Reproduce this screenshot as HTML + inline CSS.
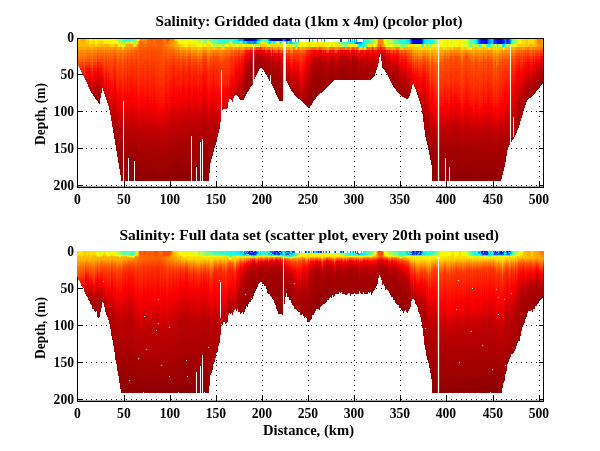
<!DOCTYPE html>
<html lang="en"><head><meta charset="utf-8"><title>Salinity sections</title>
<style>
html,body{margin:0;padding:0;background:#fff;}
body{width:600px;height:451px;overflow:hidden;}
svg{display:block;}
text{font-family:"Liberation Serif","DejaVu Serif",serif;font-weight:bold;font-size:13.6px;fill:#000;}
text.t{font-size:15.6px;}
text.yl{font-size:13.8px;}
text.xl{font-size:15.2px;}
.d path{fill:none;stroke-width:1;}
</style></head><body>
<svg width="600" height="451" viewBox="0 0 600 451">
<rect width="600" height="451" fill="#fff"/>
<g shape-rendering="crispEdges">
<g stroke="#000" stroke-width="1" stroke-dasharray="1 4" fill="none">
<path d="M124.5 41.0V186.4"/>
<path d="M170.5 41.0V186.4"/>
<path d="M216.5 41.0V186.4"/>
<path d="M262.5 41.0V186.4"/>
<path d="M308.5 41.0V186.4"/>
<path d="M354.5 41.0V186.4"/>
<path d="M400.5 41.0V186.4"/>
<path d="M446.5 41.0V186.4"/>
<path d="M493.5 41.0V186.4"/>
<path d="M539.5 41.0V186.4"/>
<path d="M81.0 74.5H543.0"/>
<path d="M81.0 111.5H543.0"/>
<path d="M81.0 148.5H543.0"/>
<path d="M81.0 185.5H543.0"/>
</g>
<g fill="#000">
<rect x="124" y="181.8" width="1" height="5"/>
<rect x="124" y="38" width="1" height="5"/>
<rect x="170" y="181.8" width="1" height="5"/>
<rect x="170" y="38" width="1" height="5"/>
<rect x="216" y="181.8" width="1" height="5"/>
<rect x="216" y="38" width="1" height="5"/>
<rect x="262" y="181.8" width="1" height="5"/>
<rect x="262" y="38" width="1" height="5"/>
<rect x="308" y="181.8" width="1" height="5"/>
<rect x="308" y="38" width="1" height="5"/>
<rect x="354" y="181.8" width="1" height="5"/>
<rect x="354" y="38" width="1" height="5"/>
<rect x="400" y="181.8" width="1" height="5"/>
<rect x="400" y="38" width="1" height="5"/>
<rect x="446" y="181.8" width="1" height="5"/>
<rect x="446" y="38" width="1" height="5"/>
<rect x="493" y="181.8" width="1" height="5"/>
<rect x="493" y="38" width="1" height="5"/>
<rect x="539" y="181.8" width="1" height="5"/>
<rect x="539" y="38" width="1" height="5"/>
<rect x="77" y="74" width="5.5" height="1"/>
<rect x="538.5" y="74" width="5.5" height="1"/>
<rect x="77" y="111" width="5.5" height="1"/>
<rect x="538.5" y="111" width="5.5" height="1"/>
<rect x="77" y="148" width="5.5" height="1"/>
<rect x="538.5" y="148" width="5.5" height="1"/>
<rect x="77" y="185" width="5.5" height="1"/>
<rect x="538.5" y="185" width="5.5" height="1"/>
</g>
<g class="d" transform="translate(.5 0)">
<path stroke="#fcc600" d="M77 39v5M78 39v5M97 44v3M123 47v3M136 44v3M198 47v3M201 47v3M207 47v3M208 47v3M209 47v3M212 47v3M215 47v3M377 39v5M383 39v2M384 44v3M412 47v3M415 47v3M417 47v3M423 47v3M424 47v3M425 47v3M427 47v3M447 47v3M449 47v3M453 47v3M464 47v3M465 47v3M472 47v3M484 47v3M485 47v3M496 50v3M499 47v3M507 47v3M518 44v3M519 44v3M525 44v3M528 44v3M533 44v3"/>
<path stroke="#fcba00" d="M77 44v3M80 41v6M81 44v3M82 44v3M83 44v3M84 44v3M85 39v8M87 44v3M93 44v3M100 44v3M102 44v3M139 39v2M187 47v3M193 47v3M194 47v3M202 47v3M206 47v3M210 47v3M211 47v3M216 47v3M217 47v3M220 47v3M224 47v3M290 47v3M291 47v3M363 47v3M410 47v3M426 50v3M434 50v3M450 47v3M455 47v3M473 50v3M479 50v3M505 47v3M506 47v3M508 47v3"/>
<path stroke="#fc9c00" d="M77 47v3M94 47v3M95 47v3M104 47v3M107 47v3M109 47v3M116 47v3M117 47v3M124 47v3M125 47v3M137 44v3M173 41v6M179 47v3M186 50v3M192 50v3M195 50v3M199 50v3M227 47v3M230 47v3M234 47v3M242 47v3M275 47v3M276 47v3M279 47v3M288 47v3M289 47v3M303 47v3M326 47v3M336 47v3M358 47v3M377 44v3M387 47v3M388 47v3M418 53v3M419 53v3M421 53v3M426 53v3M444 50v3M453 50v3M463 50v3M469 50v3M470 50v3M473 53v3M479 53v3M484 50v3M485 50v3M490 50v3M499 50v3M507 50v3M542 44v3M543 44v3"/>
<path stroke="#fc8a00" d="M77 50v3M80 50v3M81 50v3M82 50v3M84 53v3M85 50v3M87 50v3M88 50v3M104 50v3M111 50v3M114 47v3M115 47v3M127 47v3M130 47v3M143 39v2M144 39v2M146 39v2M169 44v3M170 41v3M173 39v2M184 50v3M185 50v3M190 50v3M198 53v3M200 53v3M201 53v3M208 53v3M212 50v3M215 50v3M219 50v3M222 50v3M244 47v3M249 47v3M265 47v3M294 47v3M308 47v3M329 47v3M334 47v3M337 47v3M346 47v3M374 47v3M378 41v3M379 39v2M380 39v2M381 41v3M382 39v5M389 47v3M398 47v3M414 53v3M422 53v3M428 53v3M432 53v3M434 56v3M443 53v3M448 53v3M455 50v3M456 50v3M458 50v3M471 53v3M473 56v3M477 53v3M479 56v3M480 53v3M482 53v3M483 50v3M487 50v3M488 50v3M493 56v3M494 56v3M495 53v3M503 53v3M505 50v3M512 50v3M513 50v3M514 50v3M526 47v3M532 47v3M540 39v5M541 39v2"/>
<path stroke="#fc7800" d="M77 53v3M78 56v3M82 53v3M85 53v3M86 53v3M87 53v3M88 53v3M98 50v3M100 50v3M101 50v3M102 50v3M103 50v3M106 50v3M108 50v3M110 50v3M113 50v3M118 53v3M120 50v3M122 53v3M124 50v3M129 50v3M135 47v3M165 39v8M166 44v3M168 47v3M170 47v3M176 50v3M178 50v3M180 53v3M187 53v3M193 53v3M194 53v3M208 56v3M211 53v3M220 53v3M221 53v3M225 50v3M229 50v3M246 47v3M267 47v3M317 47v3M318 47v3M342 47v3M349 47v3M375 47v3M378 44v3M380 41v3M381 44v3M397 47v3M403 50v3M408 50v3M411 50v3M413 53v3M414 56v3M420 56v3M429 59v3M431 56v3M434 59v3M440 56v3M441 56v3M442 56v3M445 53v3M447 53v3M464 53v3M471 56v3M473 59v3M477 56v3M479 59v3M482 56v3M491 53v3M493 59v3M494 59v3M496 62v3M503 56v3M504 53v3M508 53v3M515 50v3M527 47v3M536 47v3M538 39v2M540 47v3"/>
<path stroke="#fc6600" d="M77 56v3M78 59v3M79 59v3M84 62v3M86 56v3M87 56v3M88 56v3M92 59v3M93 56v3M96 56v3M98 53v3M100 53v3M101 53v3M102 53v3M103 53v3M104 56v3M106 53v3M108 53v3M109 56v3M110 53v3M111 56v3M117 56v3M120 53v3M124 53v3M126 53v3M129 53v3M131 50v3M132 50v3M139 47v3M140 41v6M141 41v6M142 44v3M143 44v3M148 39v5M149 41v3M153 41v3M154 44v3M155 39v5M162 41v6M163 47v3M164 47v3M167 41v3M167 50v3M169 39v2M170 50v3M171 50v3M173 50v3M175 53v3M176 53v3M178 53v3M179 53v3M180 56v3M192 56v3M195 56v3M199 56v3M203 53v3M205 53v3M208 59v3M218 53v3M220 56v3M224 53v3M226 53v3M228 53v3M231 50v3M250 47v3M272 47v3M300 50v3M312 47v3M314 47v3M344 47v3M368 47v3M376 47v3M379 44v3M399 50v3M406 50v3M412 56v3M418 59v3M419 59v3M430 65v3M440 59v3M441 59v3M450 53v3M451 53v3M454 53v3M457 53v3M460 56v3M461 62v3M465 53v3M466 53v3M470 56v3M471 59v3M473 62v3M475 56v3M476 56v3M479 62v3M482 59v3M489 56v3M491 56v3M496 65v3M499 56v3M502 56v3M503 59v3M504 56v3M518 50v3M534 50v3"/>
<path stroke="#fc4e00" d="M77 59v3M79 62v3M83 62v3M86 59v3M88 59v3M89 59v3M91 62v3M93 59v3M94 59v3M99 59v3M100 56v3M104 62v3M105 56v3M107 59v3M109 62v3M110 59v3M111 62v3M113 59v3M117 62v3M119 59v3M122 65v3M123 62v3M126 59v3M129 59v3M130 56v3M134 56v3M135 56v3M136 53v3M137 56v3M138 59v3M139 56v3M140 50v3M141 53v3M142 50v3M143 50v6M144 53v3M145 50v6M146 53v3M147 50v3M148 50v3M149 53v3M150 50v3M151 50v3M152 50v3M153 50v3M154 50v3M155 50v3M156 53v3M157 50v6M158 53v3M159 53v3M160 53v6M161 53v3M162 56v3M163 59v6M164 56v6M165 56v3M166 56v3M168 39v2M168 59v3M170 56v3M171 56v3M172 56v3M178 56v3M179 56v3M187 59v3M188 56v3M199 59v3M208 62v3M214 56v3M218 56v3M220 59v3M221 59v3M225 56v3M229 56v3M231 53v3M232 53v3M233 56v3M234 53v3M238 50v3M276 50v3M288 50v3M290 53v3M291 53v3M293 50v3M297 50v3M353 47v3M373 47v3M404 50v3M405 50v3M407 53v3M408 53v3M415 59v3M419 62v3M421 62v3M425 59v3M427 59v3M432 62v3M433 71v3M434 68v3M435 71v3M436 71v3M440 65v3M441 65v3M442 65v3M443 65v3M444 62v3M445 59v3M446 62v3M447 59v3M448 62v6M449 59v6M450 56v3M451 56v3M452 59v3M453 62v3M454 56v3M455 56v3M456 56v3M457 56v3M458 56v6M459 59v3M460 59v6M461 68v3M462 65v6M463 62v3M464 59v3M465 56v3M466 56v3M468 59v3M469 62v3M470 59v3M471 62v6M472 62v3M473 68v3M474 65v3M475 59v3M476 59v3M477 62v3M478 62v3M479 68v3M480 62v3M481 62v3M482 62v3M486 62v3M491 59v3M492 62v3M493 68v3M494 68v3M495 62v3M496 71v3M497 65v3M498 65v3M500 62v3M501 62v3M504 59v3M518 53v3M521 53v3M527 50v3M530 53v3M531 53v3M533 50v3M534 53v3M535 50v3M536 50v3M537 50v3"/>
<path stroke="#fc3600" d="M77 62v2M80 65v3M81 65v3M83 65v3M86 62v3M92 68v3M95 62v3M104 71v3M105 62v3M107 68v3M108 65v3M109 71v3M112 68v3M113 68v3M114 62v3M115 62v3M116 71v3M117 71v3M118 74v3M119 68v3M120 68v3M121 71v3M123 71v3M124 68v3M125 71v3M126 71v3M127 62v3M128 68v3M129 68v3M130 65v3M131 62v3M133 68v3M134 65v3M135 65v3M136 62v3M137 68v3M138 74v3M139 68v6M140 65v3M141 65v6M142 65v3M143 65v3M144 68v3M145 65v6M146 68v3M147 62v3M148 65v3M149 68v3M150 65v6M151 65v3M152 65v6M153 65v3M154 65v3M155 68v3M156 74v3M157 68v6M158 71v3M159 74v3M160 77v3M161 71v6M162 74v3M163 77v3M164 71v6M165 65v6M166 65v3M167 68v3M168 68v3M169 68v3M172 62v3M174 62v3M175 65v3M176 65v3M177 65v3M178 62v3M179 62v3M180 68v3M181 65v3M186 68v3M187 65v3M188 62v3M190 62v3M191 68v3M193 65v3M197 68v3M198 68v3M199 65v3M200 68v3M201 68v3M202 62v3M204 59v3M207 68v3M208 71v3M209 68v3M210 65v3M211 65v3M215 65v3M216 62v3M217 65v3M218 65v3M219 68v3M220 68v6M221 68v2M222 68v3M223 65v6M224 65v3M225 65v3M226 68v3M227 62v6M228 68v3M229 62v6M230 59v3M231 56v3M232 56v3M237 56v3M240 56v3M241 53v3M270 50v3M292 56v3M293 53v3M294 53v3M298 53v3M299 56v3M303 53v3M304 53v3M358 50v3M378 47v3M379 47v3M398 50v3M402 53v3M404 53v3M405 53v3M410 59v3M413 62v3M416 65v3M417 62v3M418 68v3M419 68v3M422 65v3M423 62v3M424 62v3M429 74v3M430 80v3M431 71v3M432 71v3M433 80v3M434 80v3M435 83v3M436 86v2M440 80v3M441 80v6M442 80v3M443 77v6M444 74v6M445 74v3M446 80v3M447 74v6M448 80v6M449 77v6M450 71v3M451 71v3M452 74v6M453 80v3M454 71v3M455 71v6M456 71v6M457 71v3M458 71v6M459 74v6M460 77v6M461 86v2M462 83v5M463 77v6M464 74v6M465 71v3M466 71v3M467 71v6M468 74v3M469 77v6M470 74v6M471 80v6M472 80v3M473 86v2M474 83v3M475 74v6M476 74v6M477 80v6M478 77v6M479 83v5M480 80v3M481 77v6M482 80v3M483 68v6M484 74v6M485 74v6M486 77v3M487 71v3M488 68v6M489 74v3M490 74v6M491 71v6M492 74v6M493 83v3M494 83v3M495 77v3M496 83v5M497 80v3M498 80v3M499 71v6M500 74v6M501 74v3M502 71v3M503 74v3M504 68v3M505 65v3M507 71v3M512 65v3M514 65v3M518 56v3M520 59v3M522 59v3M523 56v3M526 56v3M527 53v3M533 53v3M534 56v3M535 53v3M537 53v3M538 53v3M543 53v3"/>
<path stroke="#fcc000" d="M78 44v3M79 39v8M86 44v3M88 44v3M91 44v3M92 44v3M94 44v3M98 44v3M99 44v3M103 44v3M104 44v3M109 44v3M122 47v3M125 44v3M178 44v3M186 47v3M191 47v3M192 47v3M195 47v3M197 47v3M221 47v3M233 47v3M260 44v3M362 47v3M383 41v3M403 47v3M406 47v3M413 47v3M429 50v3M433 50v3M435 50v3M436 50v3M460 47v3M475 47v3M476 47v3M487 47v3M491 47v3M493 50v3M494 50v3M526 44v3M527 44v3M529 44v3M532 44v3M534 44v3M535 39v5"/>
<path stroke="#fca800" d="M78 47v3M79 47v3M82 39v2M83 47v3M84 39v2M90 47v3M91 47v3M92 47v3M118 47v3M129 44v3M130 44v3M131 44v3M132 44v3M138 41v3M174 41v3M175 44v3M181 47v3M182 47v3M189 47v3M198 50v3M208 50v3M225 47v3M226 47v3M228 47v3M240 47v3M273 47v3M280 47v3M281 47v3M286 47v3M300 47v3M304 47v3M327 47v3M328 47v3M391 47v3M392 47v3M394 47v3M399 47v3M422 50v3M428 50v3M429 53v3M432 50v3M433 53v3M435 53v3M436 53v3M442 50v3M443 50v3M471 50v3M477 50v3M480 50v3M482 50v3M495 50v3M536 44v3"/>
<path stroke="#fc9000" d="M78 50v3M79 50v3M83 50v3M90 50v3M91 50v3M97 47v3M98 47v3M100 47v3M101 47v3M105 47v3M108 47v3M118 50v3M122 50v3M128 47v3M129 47v3M141 39v2M142 39v2M145 39v2M170 44v3M175 47v3M180 50v3M193 50v3M194 50v3M196 50v3M202 50v3M206 50v3M210 50v3M211 50v3M221 50v3M235 47v3M236 47v3M238 47v3M270 47v3M274 47v3M322 47v3M366 47v3M378 39v2M381 39v2M395 47v3M416 53v3M429 56v3M430 59v3M433 56v3M436 56v3M440 53v3M441 53v3M442 53v3M452 50v3M459 50v3M462 53v3M464 50v3M467 50v3M468 50v3M474 53v3M496 56v3M506 50v3M508 50v3M518 47v3M521 47v3M530 47v3M534 47v3M537 39v5M538 44v3M539 44v3M540 44v3M541 41v3M542 39v2M543 39v5"/>
<path stroke="#fc8400" d="M78 53v3M79 53v3M86 50v3M89 50v3M92 53v3M93 50v3M94 50v3M96 50v3M109 50v3M116 50v3M117 50v3M121 50v3M123 50v3M131 47v3M132 47v3M133 47v3M140 39v2M144 41v3M145 41v3M168 44v3M169 41v3M171 39v2M174 47v3M181 50v3M182 50v3M186 53v3M188 50v3M189 50v3M191 53v3M197 53v3M203 50v3M204 50v3M205 50v3M207 53v3M209 53v3M214 50v3M217 50v3M218 50v3M223 50v3M239 47v3M245 47v3M248 47v3M266 47v3M290 50v3M291 50v3M298 47v3M306 47v3M307 47v3M339 47v3M355 47v3M379 41v3M382 44v3M410 50v3M415 53v3M417 53v3M426 56v3M427 53v3M435 59v3M446 53v3M450 50v3M451 50v3M453 53v3M454 50v3M457 50v3M461 56v3M465 50v3M466 50v3M472 53v3M478 53v3M481 53v3M486 53v3M492 53v3M496 59v3M498 56v3M500 53v3M501 53v3M519 47v3M525 47v3M529 47v3"/>
<path stroke="#fc5400" d="M78 62v3M82 59v3M84 65v3M85 59v3M87 59v3M96 59v3M98 56v3M101 56v3M102 56v3M106 56v3M108 56v3M112 59v3M116 59v3M118 62v3M121 59v3M122 62v3M124 56v3M125 59v3M128 56v3M133 56v3M134 53v3M135 53v3M137 53v3M138 56v3M139 53v3M141 50v3M144 50v3M146 50v3M147 47v3M149 50v3M151 39v2M151 47v3M153 47v3M154 47v3M156 50v3M158 50v3M159 50v3M160 39v2M160 50v3M161 50v3M162 53v3M163 56v3M164 53v3M165 53v3M166 53v3M167 39v2M167 56v3M168 56v3M169 56v3M173 53v3M175 56v3M180 59v3M190 56v3M192 59v3M195 59v3M212 56v3M215 56v3M217 56v3M223 56v3M224 56v3M226 56v3M228 56v3M230 53v3M236 50v3M242 50v3M257 47v3M264 47v3M269 47v3M277 50v3M295 50v3M296 50v3M303 50v3M340 47v3M392 50v3M401 50v3M409 53v3M412 59v3M416 59v3M418 62v3M422 59v3M426 62v3M428 59v3M429 65v3M430 71v3M431 62v3M433 68v3M434 65v3M435 68v3M436 68v3M440 62v3M441 62v3M442 62v3M443 62v3M444 59v3M446 59v3M453 59v3M461 65v3M463 59v3M467 56v3M469 59v3M483 56v3M484 59v3M485 59v3M488 56v3M489 59v3M490 59v3M499 59v3M502 59v3M503 62v3M516 53v3M517 53v3M520 53v3M522 53v3M525 50v3M528 50v3M538 50v3M539 50v3M543 50v3"/>
<path stroke="#fc4200" d="M78 65v1M84 68v3M96 62v3M101 59v3M105 59v3M109 65v3M110 62v3M111 68v3M112 65v3M113 62v3M115 59v3M116 65v3M117 65v3M118 68v3M120 62v3M121 65v3M122 71v3M123 65v3M124 62v3M125 65v3M126 65v3M127 59v3M128 62v3M129 62v3M130 59v3M131 59v3M132 59v3M133 62v3M134 59v3M135 59v3M137 59v3M138 65v3M139 62v3M140 56v3M141 59v3M142 56v6M143 59v3M144 59v3M145 59v3M146 59v3M147 56v3M148 56v6M149 59v3M150 59v3M151 56v6M152 59v3M153 56v6M154 56v6M155 59v3M156 62v6M157 59v6M158 62v3M159 62v6M160 65v6M161 62v6M162 65v3M163 68v6M164 65v3M165 59v3M166 59v3M167 62v3M168 62v3M169 62v3M170 59v3M171 59v3M172 59v3M173 56v3M176 62v3M177 62v3M178 59v3M179 59v3M180 65v3M187 62v3M188 59v3M190 59v3M191 65v3M192 62v3M195 62v3M196 59v3M198 65v3M199 62v3M200 65v3M201 65v3M202 59v3M206 59v3M208 65v3M209 65v3M210 59v3M212 59v3M213 56v3M214 59v3M215 59v3M217 59v3M218 59v3M219 62v3M220 62v3M221 62v3M222 62v3M223 59v3M224 59v3M225 59v3M226 59v3M228 59v3M230 56v3M235 53v3M236 53v3M259 47v3M261 47v3M279 50v3M282 50v3M299 53v3M301 53v3M328 50v3M335 50v3M350 50v3M352 47v3M356 47v3M372 47v3M377 47v3M383 47v3M403 53v3M406 53v3M409 56v3M416 62v3M418 65v3M419 65v3M421 65v3M422 62v3M427 62v3M429 71v3M431 68v3M432 65v3M433 74v3M434 74v3M435 77v3M436 77v3M440 71v6M441 71v6M442 71v3M443 71v3M444 68v3M445 65v6M446 71v3M447 65v6M448 71v6M449 68v3M450 62v6M451 62v6M452 65v6M453 68v6M454 62v6M455 62v6M456 65v3M457 62v6M458 65v3M459 65v3M460 68v3M461 77v3M462 74v6M463 68v6M464 65v6M465 62v3M466 62v3M467 65v3M468 65v3M469 68v3M470 65v6M471 71v3M472 71v3M473 77v3M474 74v3M475 68v3M476 65v6M477 71v3M478 71v3M479 77v3M480 71v3M481 68v6M482 71v3M483 62v3M484 68v3M485 68v3M486 68v3M487 62v3M488 62v3M489 65v3M490 68v3M491 65v3M492 68v3M493 77v3M494 77v3M495 68v6M496 77v3M497 71v6M498 74v3M499 65v3M500 68v3M501 68v3M502 65v3M503 68v3M505 62v3M506 62v3M507 65v3M508 62v3M513 59v3M520 56v3M522 56v3M529 53v3M532 53v3M541 50v3"/>
<path stroke="#fc7200" d="M79 56v3M80 56v3M81 56v3M83 56v3M84 59v3M89 53v3M91 56v3M92 56v3M93 53v3M94 53v3M95 53v3M96 53v3M97 50v3M104 53v3M105 50v3M109 53v3M111 53v3M117 53v3M128 50v3M136 47v3M138 44v3M139 41v3M142 41v3M144 44v3M145 44v3M147 39v2M154 39v2M164 41v6M167 47v3M168 41v3M175 50v3M181 53v3M182 53v3M184 53v3M185 53v3M191 56v3M196 53v3M198 56v3M200 56v3M201 56v3M202 53v3M206 53v3M207 56v3M209 56v3M210 53v3M212 53v3M215 53v3M219 53v3M222 53v3M227 50v3M251 47v3M287 50v3M292 50v3M301 50v3M311 47v3M316 47v3M323 47v3M325 47v3M333 47v3M338 47v3M343 47v3M347 47v3M351 47v3M400 50v3M416 56v3M432 56v3M443 56v3M448 56v3M452 53v3M459 53v3M461 59v3M468 53v3M472 56v3M478 56v3M480 56v3M481 56v3M486 56v3M487 53v3M492 56v3M495 56v3M497 59v3M498 59v3M500 56v3M501 56v3M505 53v3M506 53v3M512 53v3M514 53v3M542 47v3"/>
<path stroke="#fc3c00" d="M79 65v3M82 62v3M85 62v3M87 62v3M88 62v3M91 65v3M93 62v3M94 62v3M98 59v3M99 62v3M100 59v3M102 62v3M103 62v3M104 68v3M106 62v3M107 65v3M108 62v3M109 68v3M110 65v3M111 71v3M113 65v3M114 59v3M116 68v3M117 68v3M118 71v3M119 65v3M120 65v3M121 68v3M122 74v3M123 68v3M124 65v3M125 68v3M126 68v3M128 65v3M129 65v3M130 62v3M132 62v3M133 65v3M134 62v3M135 62v3M136 59v3M137 62v6M138 68v6M139 65v3M140 59v6M141 62v3M142 62v3M143 62v3M144 62v6M145 62v3M146 62v6M147 59v3M148 62v3M149 62v6M150 62v3M151 62v3M152 62v3M153 62v3M154 62v3M155 62v6M156 68v6M157 65v3M158 65v6M159 68v6M160 71v6M161 68v3M162 68v6M163 74v3M164 68v3M165 62v3M166 62v3M167 65v3M168 65v3M169 65v3M170 62v3M171 62v3M173 59v3M174 59v3M175 62v3M181 62v3M182 62v3M183 59v3M184 62v3M185 62v3M186 65v3M189 59v3M192 65v3M193 62v3M194 62v3M195 65v3M196 62v3M197 65v3M203 59v3M205 59v3M206 62v3M207 65v3M208 68v3M210 62v3M211 62v3M212 62v3M213 59v3M214 62v3M215 62v3M216 59v3M217 62v3M218 62v3M219 65v3M220 65v3M221 65v3M222 65v3M223 62v3M224 62v3M225 62v3M226 62v6M227 59v3M228 62v6M229 59v3M233 59v3M234 56v3M238 53v3M274 50v3M290 56v3M291 56v3M295 53v3M296 53v3M297 53v3M300 56v3M301 56v3M302 53v3M382 47v3M384 47v3M390 50v3M395 50v3M400 53v3M407 56v3M408 56v3M412 62v3M414 65v3M415 62v3M420 65v3M425 62v3M426 68v3M428 65v3M430 77v3M432 68v3M433 77v3M434 77v3M435 80v3M436 80v6M440 77v3M441 77v3M442 74v6M443 74v3M444 71v3M445 71v3M446 74v6M447 71v3M448 77v3M449 71v6M450 68v3M451 68v3M452 71v3M453 74v6M454 68v3M455 68v3M456 68v3M457 68v3M458 68v3M459 68v6M460 71v6M461 80v6M462 80v3M463 74v3M464 71v3M465 65v6M466 65v6M467 68v3M468 68v6M469 71v6M470 71v3M471 74v6M472 74v6M473 80v6M474 77v6M475 71v3M476 71v3M477 74v6M478 74v3M479 80v3M480 74v6M481 74v3M482 74v6M483 65v3M484 71v3M485 71v3M486 71v6M487 65v6M488 65v3M489 68v6M490 71v3M491 68v3M492 71v3M493 80v3M494 80v3M495 74v3M496 80v3M497 77v3M498 77v3M499 68v3M500 71v3M501 71v3M502 68v3M503 71v3M504 65v3M506 65v3M507 68v3M508 65v3M512 62v3M513 62v3M514 62v3M515 59v3M516 56v3M517 56v3M521 56v3M525 53v3M528 53v3M530 56v3M531 56v3M539 53v3"/>
<path stroke="#fcb400" d="M80 39v2M81 41v3M82 41v3M83 41v3M84 41v3M101 44v3M105 44v3M106 44v3M107 44v3M108 44v3M115 44v3M116 44v3M177 44v3M185 47v3M196 47v3M219 47v3M287 47v3M295 47v3M407 47v3M408 47v3M409 47v3M411 47v3M418 50v3M419 50v3M420 50v3M421 50v3M430 53v3M456 47v3M459 47v3M461 50v3M474 50v3M483 47v3M497 50v3M498 50v3M512 47v3M513 47v3M514 47v3M530 44v3M531 44v3M535 44v3"/>
<path stroke="#fca200" d="M80 47v3M81 47v3M82 47v3M83 39v2M85 47v3M86 47v3M87 47v3M88 47v3M89 47v3M93 47v3M96 47v3M111 47v3M112 47v3M113 47v3M119 47v3M121 47v3M174 44v3M183 47v3M191 50v3M197 50v3M200 50v3M201 50v3M207 50v3M209 50v3M229 47v3M237 47v3M241 47v3M277 47v3M297 47v3M299 47v3M302 47v3M345 47v3M383 44v3M404 47v3M412 50v3M415 50v3M417 50v3M423 50v3M424 50v3M425 50v3M427 50v3M430 56v3M434 53v3M446 50v3M448 50v3M472 50v3M478 50v3M481 50v3M486 50v3M492 50v3M493 53v3M494 53v3M500 50v3M501 50v3M515 47v3M537 44v3"/>
<path stroke="#fc7e00" d="M80 53v3M81 53v3M83 53v3M84 56v3M90 53v3M91 53v3M95 50v3M99 50v3M107 50v3M112 50v3M119 50v3M125 50v3M126 50v3M134 47v3M143 41v3M146 41v3M163 39v2M164 39v2M167 44v3M169 47v3M170 39v2M171 47v3M172 39v2M172 47v3M173 47v3M177 50v3M179 50v3M183 50v3M192 53v3M195 53v3M199 53v3M213 50v3M216 50v3M224 50v3M226 50v3M228 50v3M233 50v3M247 47v3M309 47v3M310 47v3M324 47v3M331 47v3M370 47v3M396 47v3M407 50v3M409 50v3M412 53v3M418 56v3M419 56v3M421 56v3M423 53v3M424 53v3M425 53v3M430 62v3M433 59v3M436 59v3M444 53v3M449 53v3M460 53v3M462 56v3M463 53v3M469 53v3M470 53v3M474 56v3M475 53v3M476 53v3M484 53v3M485 53v3M489 53v3M490 53v3M497 56v3M499 53v3M502 53v3M507 53v3M528 47v3M533 47v3M535 47v3M537 47v3M538 41v3M538 47v3M539 39v5M539 47v3M543 47v3"/>
<path stroke="#fc6000" d="M80 59v3M81 59v3M83 59v3M89 56v3M91 59v3M94 56v3M95 56v3M97 53v3M99 56v3M105 53v3M107 56v3M112 56v3M116 56v3M118 59v3M121 56v3M122 59v3M123 56v3M125 56v3M128 53v3M133 53v3M134 50v3M135 50v3M138 50v3M147 44v3M148 44v3M149 44v3M150 39v8M151 44v3M152 41v6M153 44v3M155 44v3M156 44v3M157 39v8M158 39v2M161 41v6M162 47v3M163 50v3M164 50v3M166 50v3M168 53v3M169 53v3M183 53v3M187 56v3M189 53v3M193 56v3M194 56v3M198 59v3M200 59v3M204 53v3M216 53v3M221 56v3M225 53v3M229 53v3M232 50v3M233 53v3M234 50v3M237 50v3M281 50v3M286 50v3M299 50v3M302 50v3M304 50v3M354 47v3M357 47v3M367 47v3M369 47v3M371 47v3M391 50v3M410 53v3M411 53v3M413 56v3M414 59v3M417 56v3M421 59v3M427 56v3M429 62v3M431 59v3M434 62v3M442 59v3M444 56v3M449 56v3M464 56v3M472 59v3M477 59v3M478 59v3M480 59v3M481 59v3M494 65v3M495 59v3M497 62v3M498 62v3M501 59v3M506 56v3M508 56v3M515 53v3M519 50v3M521 50v3M523 50v3"/>
<path stroke="#fc4800" d="M80 62v3M81 62v3M90 62v3M92 65v3M95 59v3M97 56v3M102 59v3M103 59v3M104 65v3M106 59v3M107 62v3M108 59v3M111 65v3M112 62v3M114 56v3M115 56v3M116 62v3M118 65v3M119 62v3M120 59v3M121 62v3M122 68v3M124 59v3M125 62v3M126 62v3M127 56v3M128 59v3M131 56v3M132 56v3M133 59v3M136 56v3M138 62v3M139 59v3M140 53v3M141 56v3M142 53v3M143 56v3M144 56v3M145 56v3M146 56v3M147 53v3M148 53v3M149 56v3M150 53v6M151 53v3M152 53v6M153 53v3M154 53v3M155 53v6M156 56v6M157 56v3M158 56v6M159 56v6M160 59v6M161 56v6M162 59v6M163 65v3M164 62v3M167 59v3M169 59v3M174 56v3M175 59v3M176 59v3M177 59v3M180 62v3M181 59v3M182 59v3M183 56v3M184 59v3M185 59v3M186 62v3M189 56v3M191 62v3M193 59v3M194 59v3M197 62v3M198 62v3M200 62v3M201 62v3M203 56v3M204 56v3M205 56v3M207 62v3M209 62v3M211 59v3M216 56v3M219 59v3M222 59v3M227 56v3M237 53v3M239 50v3M240 53v3M256 47v3M258 47v3M275 50v3M289 50v3M292 53v3M294 50v3M298 50v3M300 53v3M305 50v3M319 47v3M326 50v3M327 50v3M336 50v3M359 50v3M394 50v3M410 56v3M411 56v3M413 59v3M414 62v3M417 59v3M420 62v3M423 59v3M424 59v3M426 65v3M428 62v3M429 68v3M430 74v3M431 65v3M434 71v3M435 74v3M436 74v3M440 68v3M441 68v3M442 68v3M443 68v3M444 65v3M445 62v3M446 65v6M447 62v3M448 68v3M449 65v3M450 59v3M451 59v3M452 62v3M453 65v3M454 59v3M455 59v3M456 59v6M457 59v3M458 62v3M459 62v3M460 65v3M461 71v6M462 71v3M463 65v3M464 62v3M465 59v3M466 59v3M467 59v6M468 62v3M469 65v3M470 62v3M471 68v3M472 65v6M473 71v6M474 68v6M475 62v6M476 62v3M477 65v6M478 65v6M479 71v6M480 65v6M481 65v3M482 65v6M483 59v3M484 62v6M485 62v6M486 65v3M487 59v3M488 59v3M489 62v3M490 62v6M491 62v3M492 65v3M493 71v6M494 71v6M495 65v3M496 74v3M497 68v3M498 68v6M499 62v3M500 65v3M501 65v3M502 62v3M503 65v3M504 62v3M505 59v3M506 59v3M507 62v3M508 59v3M512 59v3M514 59v3M515 56v3M519 53v3M523 53v3M524 53v3M526 53v3M540 50v3M542 50v3"/>
<path stroke="#fc2400" d="M80 68v2M81 68v3M82 65v3M85 65v3M87 65v3M88 65v3M91 68v3M92 71v3M93 65v3M94 65v3M98 62v3M101 65v3M103 68v3M109 77v3M111 80v3M112 77v3M113 74v3M114 68v3M115 68v3M116 80v3M117 80v3M118 83v3M119 77v3M120 77v3M121 80v3M122 83v5M123 80v3M124 77v3M125 80v3M126 80v3M127 71v3M128 77v3M129 77v6M130 74v3M131 71v3M132 74v3M133 80v3M134 74v6M135 77v3M136 74v3M137 80v3M138 86v2M139 83v3M140 77v3M141 80v3M142 77v3M143 77v6M144 80v6M145 80v3M146 80v3M147 71v6M148 77v3M149 80v6M150 80v3M151 77v3M152 80v3M153 77v6M154 77v6M155 80v6M156 86v5M157 83v3M158 83v5M159 86v5M160 88v6M161 86v2M162 86v5M163 88v6M164 83v5M165 77v6M166 77v6M167 80v3M168 80v6M169 80v3M170 74v3M171 74v3M172 71v6M173 68v3M174 71v3M175 74v3M176 74v3M177 74v3M178 71v3M179 71v3M180 77v3M181 71v6M182 71v3M183 65v3M184 71v3M185 68v6M186 74v6M187 71v3M188 68v3M189 65v3M190 68v3M191 74v6M192 71v6M193 71v3M194 71v3M195 71v6M196 68v3M197 74v3M198 74v6M199 71v3M200 74v3M201 74v3M202 68v3M203 65v3M204 65v3M205 65v3M206 68v3M207 74v3M208 77v3M209 77v3M210 71v3M211 74v3M212 71v3M213 68v3M214 71v6M215 74v6M216 71v3M217 74v6M218 74v6M219 80v3M220 80v6M222 80v3M223 77v6M224 77v3M225 74v6M226 77v6M227 74v3M228 80v3M229 74v3M230 68v3M231 65v3M232 62v3M233 68v3M234 62v3M235 59v3M237 59v3M238 56v3M240 59v3M241 56v3M245 50v3M249 50v3M266 50v3M271 53v3M286 53v3M287 56v3M292 59v3M293 56v3M294 56v3M297 59v3M299 62v3M301 62v3M302 59v3M339 50v3M364 50v3M370 50v3M387 50v3M410 62v3M412 68v3M413 65v3M416 68v3M417 65v3M418 71v3M419 71v3M421 71v3M422 68v3M423 65v3M425 68v3M429 83v3M431 80v3M432 80v3M433 88v3M434 88v3M435 94v3M436 94v3M440 91v3M441 91v3M442 91v3M443 88v6M444 86v2M445 86v2M446 91v3M447 86v2M448 91v6M449 88v3M450 83v3M451 83v3M452 86v5M453 91v3M454 83v3M455 83v3M456 83v5M457 83v3M458 86v2M459 86v5M460 88v6M461 97v3M462 97v3M463 91v3M464 88v3M465 83v3M466 83v3M467 83v5M468 86v2M469 91v3M470 88v3M471 94v3M472 91v3M473 97v3M474 94v3M475 88v3M476 88v3M477 91v6M478 91v3M479 97v3M480 91v3M481 91v3M482 91v3M483 83v3M484 88v3M485 88v3M486 91v3M487 83v3M488 83v3M489 88v3M490 88v3M491 86v2M492 88v3M493 94v3M494 94v3M495 88v6M496 97v3M497 91v3M498 91v3M499 86v2M500 88v3M501 86v5M502 83v3M503 86v2M504 80v3M505 77v3M506 77v3M507 80v3M508 74v3M512 71v3M513 71v3M514 71v3M515 65v3M516 62v3M517 62v3M519 59v3M521 62v3M524 59v3M526 59v3M528 56v3M534 59v3"/>
<path stroke="#fcae00" d="M81 39v2M84 47v3M126 44v3M127 44v3M128 44v3M174 39v2M175 41v3M176 41v6M180 47v3M184 47v3M188 47v3M190 47v3M203 47v3M204 47v3M205 47v3M218 47v3M243 47v3M271 47v3M292 47v3M301 47v3M405 47v3M414 50v3M416 50v3M431 50v3M440 50v3M441 50v3M454 47v3M457 47v3M458 47v3M462 50v3M496 53v3M503 50v3M536 39v5"/>
<path stroke="#fc1e00" d="M81 71v1M82 68v3M83 68v3M84 74v3M95 65v3M96 68v3M102 68v3M104 77v3M105 68v3M106 71v3M107 74v3M108 71v3M110 74v3M113 77v3M115 71v3M117 83v3M118 86v2M119 80v3M120 80v3M121 83v3M122 88v3M123 83v5M124 80v3M125 83v3M126 83v3M127 74v3M128 80v3M129 83v3M130 77v3M131 74v3M132 77v3M133 83v3M134 80v3M135 80v3M136 77v3M137 83v3M138 88v6M139 86v5M140 80v6M141 83v3M142 80v6M143 83v3M144 86v2M145 83v3M146 83v5M147 77v3M148 80v6M149 86v2M150 83v5M151 80v6M152 83v5M153 83v3M154 83v3M155 86v2M156 91v3M157 86v5M158 88v3M159 91v3M160 94v3M161 88v6M162 91v3M163 94v3M164 88v3M165 83v3M166 83v3M167 83v5M168 86v2M169 83v5M170 77v3M171 77v3M172 77v3M173 71v3M174 74v3M175 77v3M176 77v6M177 77v6M178 74v3M179 74v3M180 80v6M181 77v3M182 74v6M183 68v3M184 74v3M185 74v3M186 80v3M187 74v6M188 71v3M189 68v3M190 71v3M191 80v3M192 77v3M193 74v3M194 74v3M195 77v3M196 71v3M197 77v3M198 80v3M199 74v6M200 77v6M201 77v3M202 71v3M203 68v3M204 68v3M205 68v3M206 71v3M207 77v6M208 80v6M209 80v3M210 74v6M211 77v3M212 74v6M213 71v3M214 77v3M215 80v3M216 74v6M217 80v3M218 80v3M219 83v3M220 86v2M222 83v3M223 83v3M224 80v6M225 80v3M226 83v3M227 77v3M228 83v3M229 77v3M230 71v3M231 68v3M232 65v3M233 71v3M236 59v3M239 56v3M242 56v3M243 56v3M289 56v3M290 62v3M291 62v3M295 59v3M296 59v3M300 65v3M301 65v3M303 59v3M304 59v3M305 56v3M306 53v3M309 50v3M310 50v3M329 50v3M355 50v3M374 50v3M381 47v3M391 53v3M398 53v3M399 56v3M402 56v3M403 59v3M404 56v3M405 56v3M406 59v3M408 62v3M409 62v3M411 62v3M414 71v3M420 71v3M421 74v3M424 68v3M426 77v3M427 71v3M428 74v3M430 88v3M431 83v3M432 83v3M433 91v3M434 91v3M436 97v3M440 94v3M441 94v3M442 94v3M443 94v3M444 88v3M445 88v3M446 94v3M447 88v6M448 97v3M449 91v6M450 86v2M451 86v2M452 91v3M453 94v3M454 86v2M455 86v5M456 88v3M457 86v2M458 88v3M459 91v3M460 94v3M461 100v3M462 100v3M463 94v3M464 91v3M465 86v2M466 86v2M467 88v3M468 88v6M469 94v3M470 91v3M471 97v3M472 94v6M473 100v3M474 97v3M475 91v3M476 91v3M477 97v3M478 94v3M479 100v3M480 94v6M481 94v3M482 94v6M483 86v2M484 91v3M485 91v3M486 94v3M487 86v5M488 86v2M489 91v3M490 91v3M491 88v3M492 91v3M493 97v3M494 97v3M495 94v3M496 100v3M497 94v3M498 94v3M499 88v3M500 91v3M501 91v3M502 86v2M503 88v6M504 83v3M505 80v3M506 80v3M507 83v3M508 77v3M512 74v3M514 74v3M515 68v3M518 62v3M520 65v3M522 65v3M527 56v3M531 62v3M532 59v3M535 56v3M538 56v3M539 56v3M541 53v3M543 56v3"/>
<path stroke="#fc6c00" d="M82 56v3M85 56v3M90 56v3M99 53v3M107 53v3M112 53v3M113 53v3M114 50v3M115 50v3M116 53v3M118 56v3M119 53v3M121 53v3M122 56v3M123 53v3M125 53v3M127 50v3M130 50v3M133 50v3M137 47v3M138 47v3M139 44v3M146 44v3M147 41v3M149 39v2M153 39v2M154 41v3M162 39v2M163 41v6M165 47v3M166 39v5M166 47v3M168 50v3M169 50v3M172 50v3M174 50v3M177 53v3M186 56v3M188 53v3M190 53v3M197 56v3M214 53v3M217 53v3M223 53v3M230 50v3M240 50v3M243 50v3M255 47v3M262 47v3M263 47v3M268 47v3M271 50v3M278 47v3M315 47v3M330 47v3M332 47v3M341 47v3M385 47v3M415 56v3M422 56v3M426 59v3M428 56v3M433 62v3M435 62v3M436 62v3M446 56v3M453 56v3M455 53v3M456 53v3M458 53v3M462 59v3M463 56v3M467 53v3M469 56v3M474 59v3M483 53v3M484 56v3M485 56v3M488 53v3M490 56v3M493 62v3M494 62v3M507 56v3M513 53v3M516 50v3M517 50v3M520 50v3M522 50v3M530 50v3M531 50v3M541 47v3"/>
<path stroke="#fc1200" d="M82 71v3M84 77v1M87 68v3M91 71v3M92 74v3M93 68v3M94 68v3M98 65v3M101 68v3M102 71v3M104 80v3M105 71v3M106 74v3M109 83v3M111 86v2M112 83v3M113 83v3M114 74v3M115 77v3M116 86v2M117 88v3M118 91v3M119 86v2M120 86v2M121 88v3M122 94v3M123 91v3M124 86v2M125 88v3M126 88v3M127 80v6M128 86v5M129 88v3M130 86v2M131 83v3M132 83v3M133 88v6M134 86v2M135 88v3M136 83v5M137 91v3M138 97v3M139 94v3M140 88v3M141 91v3M142 88v3M143 91v3M144 91v6M145 91v3M146 91v6M147 83v5M148 88v6M149 94v3M150 91v6M151 88v6M152 91v6M153 91v3M154 88v6M155 94v3M156 97v6M157 94v6M158 97v3M159 100v3M160 100v3M161 97v3M162 97v6M163 100v3M164 97v3M165 91v3M166 91v3M167 91v3M168 91v6M169 91v3M170 86v2M171 86v2M172 83v5M173 77v6M174 80v6M175 86v2M176 86v2M177 86v2M178 83v3M179 83v3M180 88v3M181 83v3M182 83v3M183 77v3M184 83v3M185 80v3M186 86v2M187 83v3M188 77v3M189 74v6M190 77v6M191 86v2M192 83v5M193 80v6M194 80v6M195 83v3M196 80v3M197 86v2M198 86v2M199 83v3M200 86v2M201 86v2M202 77v6M203 74v3M204 74v3M205 74v3M206 80v3M207 86v2M208 88v3M209 88v3M210 83v3M211 83v5M212 83v3M213 77v3M214 83v3M215 86v2M216 83v3M217 86v2M218 86v2M219 88v3M220 91v3M222 88v3M223 86v2M224 86v2M226 86v2M229 83v3M230 77v3M232 71v3M233 77v3M234 68v3M235 65v3M237 65v3M239 59v3M241 59v3M243 59v3M280 53v3M281 53v3M286 56v3M287 59v3M291 65v3M293 59v3M296 62v3M297 62v3M300 68v3M301 68v3M302 65v3M303 62v3M304 62v3M311 50v3M317 50v3M360 50v3M409 65v3M412 71v3M416 71v3M417 68v3M421 77v3M422 74v3M423 71v3M424 71v3M426 83v3M427 77v3M428 80v3M429 88v3M430 94v3M431 88v3M432 88v3M433 97v3M434 97v3M435 100v3M436 103v3M440 100v3M441 100v3M442 100v3M443 100v3M444 97v3M445 94v3M446 100v3M447 97v3M450 91v3M452 97v3M453 100v3M455 94v3M456 94v3M458 94v3M459 97v3M460 100v3M461 106v3M463 100v3M464 97v3M465 91v3M466 91v3M467 94v3M468 97v3M469 100v3M471 103v3M473 106v3M474 103v3M475 100v3M477 103v3M478 100v3M479 106v3M480 103v3M481 100v3M482 103v3M483 94v3M484 100v3M485 97v6M486 100v3M487 94v3M488 91v3M489 97v3M490 97v3M491 97v3M492 97v6M493 103v3M494 103v3M495 100v3M496 103v3M497 100v3M498 100v3M499 97v3M500 97v3M501 97v3M502 91v6M503 94v3M504 88v3M505 86v2M506 86v2M507 88v3M508 83v5M512 80v3M513 77v3M514 77v3M515 71v3M516 68v3M518 65v3M519 62v3M520 68v3M522 68v3M524 62v3M528 59v3M534 62v3"/>
<path stroke="#fc1800" d="M83 71v3M85 68v3M86 65v3M89 65v3M90 68v3M97 62v3M99 68v3M100 65v3M103 71v3M107 77v3M108 74v3M109 80v3M110 77v3M111 83v3M112 80v3M113 80v3M114 71v3M115 74v3M116 83v3M117 86v2M118 88v3M119 83v3M120 83v3M121 86v2M122 91v3M123 88v3M124 83v3M125 86v2M126 86v2M127 77v3M128 83v3M129 86v2M130 80v6M131 77v6M132 80v3M133 86v2M134 83v3M135 83v5M136 80v3M137 86v5M138 94v3M139 91v3M140 86v2M141 86v5M142 86v2M143 86v5M144 88v3M145 86v5M146 88v3M147 80v3M148 86v2M149 88v6M150 88v3M151 86v2M152 88v3M153 86v5M154 86v2M155 88v6M156 94v3M157 91v3M158 91v6M159 94v6M160 97v3M161 94v3M162 94v3M163 97v3M164 91v6M165 86v5M166 86v5M167 88v3M168 88v3M169 88v3M170 80v6M171 80v6M172 80v3M173 74v3M174 77v3M175 80v6M176 83v3M177 83v3M178 77v6M179 77v6M180 86v2M181 80v3M182 80v3M183 71v6M184 77v6M185 77v3M186 83v3M187 80v3M188 74v3M189 71v3M190 74v3M191 83v3M192 80v3M193 77v3M194 77v3M195 80v3M196 74v6M197 80v6M198 83v3M199 80v3M200 83v3M201 80v6M202 74v3M203 71v3M204 71v3M205 71v3M206 74v6M207 83v3M208 86v2M209 83v5M210 80v3M211 80v3M212 80v3M213 74v3M214 80v3M215 83v3M216 80v3M217 83v3M218 83v3M219 86v2M220 88v3M222 86v2M225 83v3M227 80v3M228 86v2M229 80v3M230 74v3M231 71v3M232 68v3M233 74v3M234 65v3M235 62v3M236 62v3M237 62v3M238 59v3M240 62v3M244 53v3M246 50v3M247 50v3M248 50v3M267 50v3M288 56v3M292 62v3M298 59v3M299 65v3M302 62v3M307 53v3M308 53v3M324 50v3M331 50v3M365 50v3M376 50v3M380 47v3M392 53v3M393 50v3M394 53v3M395 53v3M400 59v3M401 56v3M407 62v3M410 65v3M413 68v3M415 68v3M418 74v3M419 74v3M420 74v3M422 71v3M423 68v3M425 71v3M426 80v3M427 74v3M428 77v3M429 86v2M430 91v3M431 86v2M432 86v2M433 94v3M434 94v3M435 97v3M436 100v3M440 97v3M441 97v3M442 97v3M443 97v3M444 91v6M445 91v3M446 97v3M447 94v3M448 100v3M449 97v3M450 88v3M451 88v6M452 94v3M453 97v3M454 88v6M455 91v3M456 91v3M457 88v6M458 91v3M459 94v3M460 97v3M461 103v3M462 103v3M463 97v3M464 94v3M465 88v3M466 88v3M467 91v3M468 94v3M469 97v3M470 94v6M471 100v3M472 100v3M473 103v3M474 100v3M475 94v6M476 94v6M477 100v3M478 97v3M479 103v3M480 100v3M481 97v3M482 100v3M483 88v6M484 94v6M485 94v3M486 97v3M487 91v3M488 88v3M489 94v3M490 94v3M491 91v6M492 94v3M493 100v3M494 100v3M495 97v3M497 97v3M498 97v3M499 91v6M500 94v3M501 94v3M502 88v3M504 86v2M505 83v3M506 83v3M507 86v2M508 80v3M512 77v3M513 74v3M516 65v3M517 65v3M521 65v3M523 62v3M525 59v3M526 62v3M529 59v3M530 62v3M533 56v3M536 56v3M537 56v3"/>
<path stroke="#fc0c00" d="M83 74v2M85 71v3M86 68v3M88 68v3M95 68v3M96 71v3M99 71v3M103 74v3M107 80v3M108 77v3M109 86v2M110 80v3M111 88v3M112 86v2M114 77v3M116 88v3M117 91v3M118 94v3M119 88v3M120 88v3M121 91v3M123 94v3M124 88v3M125 91v3M126 91v3M127 86v2M128 91v3M129 91v3M130 88v3M131 86v2M132 86v5M133 94v3M134 88v6M135 91v3M136 88v3M137 94v3M138 100v3M139 97v3M140 91v6M141 94v3M142 91v6M143 94v3M144 97v3M145 94v6M146 97v3M147 88v3M148 94v3M149 97v3M150 97v3M151 94v3M152 97v3M153 94v6M154 94v3M155 97v3M156 103v3M157 100v3M158 100v3M159 103v3M160 103v6M161 100v6M162 103v3M163 103v3M164 100v3M165 94v3M166 94v3M167 94v6M168 97v3M169 94v3M170 88v3M171 88v3M172 88v3M173 83v3M174 86v2M175 88v3M176 88v6M177 88v6M178 86v2M179 86v2M180 91v3M181 86v5M182 86v2M183 80v3M184 86v2M185 83v5M186 88v3M187 86v2M188 80v6M189 80v3M190 83v3M191 88v3M192 88v3M193 86v2M194 86v2M195 86v5M196 83v3M197 88v3M198 88v3M199 86v2M200 88v3M201 88v3M202 83v3M203 77v3M204 77v3M205 77v3M206 83v3M207 88v3M208 91v3M209 91v3M210 86v2M211 88v3M212 86v2M213 80v3M214 86v2M215 88v3M216 86v2M217 88v3M218 88v3M219 91v3M220 94v3M222 91v3M223 88v3M225 86v2M226 88v3M227 83v3M228 88v3M229 86v2M230 80v3M231 74v3M232 74v3M233 80v3M234 71v3M236 65v3M237 68v3M238 62v3M240 65v3M242 59v3M245 53v3M273 53v3M290 65v3M294 59v3M295 62v3M299 68v3M301 71v3M305 59v3M306 56v3M309 53v3M349 50v3M368 50v3M385 50v3M389 50v3M396 53v3M397 53v3M403 62v3M405 59v3M406 62v3M407 65v3M408 65v3M411 65v3M414 74v3M415 71v3M416 74v3M418 77v3M419 77v3M420 77v3M424 74v3M425 74v3M428 83v3M429 91v3M430 97v3M431 91v3M433 100v3M434 100v3M435 103v3M440 103v3M441 103v3M442 103v3M445 97v3M448 103v3M449 100v3M450 94v3M451 94v3M453 103v3M454 94v3M457 94v3M458 97v3M462 106v3M463 103v3M464 100v3M465 94v3M466 94v3M467 97v3M469 103v3M470 100v3M472 103v3M474 106v3M476 100v3M478 103v3M481 103v3M486 103v3M487 97v3M488 94v3M489 100v3M490 100v3M491 100v3M493 106v3M494 106v3M495 103v3M496 106v3M497 103v3M498 103v3M499 100v3M500 100v3M501 100v3M502 97v3M503 97v3M504 91v3M505 88v3M506 88v3M507 91v3M508 88v3M512 83v3M513 80v3M514 80v3M515 74v3M517 68v3M521 68v3M523 65v3M527 59v3M530 65v3M531 65v3M532 62v3M540 56v3M542 56v3"/>
<path stroke="#fc9600" d="M84 50v3M92 50v3M99 47v3M102 47v3M103 47v3M106 47v3M110 47v3M120 47v3M126 47v3M171 41v6M172 41v6M176 47v3M177 47v3M178 47v3M187 50v3M220 50v3M231 47v3M232 47v3M282 47v3M293 47v3M305 47v3M335 47v3M350 47v3M386 47v3M390 47v3M393 47v3M413 50v3M420 53v3M431 53v3M435 56v3M445 50v3M447 50v3M449 50v3M460 50v3M461 53v3M475 50v3M476 50v3M489 50v3M491 50v3M497 53v3M498 53v3M502 50v3M504 50v3M516 47v3M517 47v3M520 47v3M522 47v3M523 47v3M524 47v3M531 47v3M541 44v3M542 41v3"/>
<path stroke="#fc3000" d="M84 71v3M89 62v3M90 65v3M96 65v3M97 59v3M101 62v3M103 65v3M106 65v3M110 68v3M111 74v3M112 71v3M115 65v3M116 74v3M117 74v3M118 77v3M119 71v3M120 71v3M121 74v3M122 77v3M123 74v3M125 74v3M126 74v3M127 65v3M128 71v3M129 71v3M130 68v3M131 65v3M132 65v3M133 71v3M134 68v3M135 68v3M136 65v3M137 71v3M138 77v6M139 74v3M140 68v3M141 71v3M142 68v3M143 68v6M144 71v6M145 71v3M146 71v3M147 65v3M148 68v3M149 71v6M150 71v3M151 68v3M152 71v3M153 68v6M154 68v6M155 71v6M156 77v6M157 74v3M158 74v6M159 77v6M160 80v6M161 77v3M162 77v6M163 80v6M164 77v3M165 71v3M166 68v6M167 71v3M168 71v6M169 71v3M170 65v3M171 65v3M172 65v3M173 62v3M176 68v3M177 68v3M178 65v3M179 65v3M180 71v3M182 65v3M183 62v3M184 65v3M185 65v3M189 62v3M191 71v3M192 68v3M194 65v3M195 68v3M196 65v3M198 71v3M199 68v3M200 71v3M201 71v3M202 65v3M203 62v3M205 62v3M206 65v3M207 71v3M209 71v3M212 65v3M213 62v3M214 65v3M215 68v3M216 65v3M217 68v3M218 68v3M219 71v3M220 74v3M222 71v3M223 71v3M224 68v6M225 68v3M226 71v3M227 68v3M228 71v3M229 68v3M230 62v3M231 59v3M232 59v3M233 62v3M239 53v3M242 53v3M243 53v3M265 50v3M287 53v3M288 53v3M289 53v3M291 59v3M295 56v3M296 56v3M297 56v3M299 59v3M300 59v3M301 59v3M302 56v3M306 50v3M308 50v3M322 50v3M388 50v3M399 53v3M401 53v3M403 56v3M406 56v3M409 59v3M411 59v3M412 65v3M421 68v3M426 71v3M427 65v3M428 68v3M429 77v3M430 83v3M431 74v3M432 74v3M433 83v3M434 83v3M435 86v5M436 88v3M440 83v5M441 86v2M442 83v5M443 83v3M444 80v3M445 77v6M446 83v5M447 80v3M448 86v2M449 83v3M450 74v6M451 74v6M452 80v3M453 83v5M454 74v6M455 77v3M456 77v3M457 74v6M458 77v3M459 80v3M460 83v3M461 88v6M462 88v3M463 83v5M464 80v3M465 74v6M466 74v3M467 77v3M468 77v6M469 83v3M470 80v6M471 86v2M472 83v5M473 88v6M474 86v5M475 80v6M476 80v6M477 86v2M478 83v5M479 88v6M480 83v5M481 83v5M482 83v5M483 74v3M484 80v6M485 80v3M486 80v6M487 74v6M488 74v3M489 77v6M490 80v3M491 77v6M492 80v6M493 86v5M494 86v5M495 80v6M496 88v3M497 83v5M498 83v5M499 77v3M500 80v3M501 77v6M502 74v3M503 77v6M504 71v6M505 68v3M506 68v3M507 74v3M508 68v3M513 65v3M515 62v3M516 59v3M517 59v3M519 56v3M521 59v3M524 56v3M529 56v3M532 56v3M536 53v3"/>
<path stroke="#fc0000" d="M85 74v3M86 71v3M87 71v3M88 71v3M91 74v3M92 77v3M93 71v3M94 71v3M95 71v3M96 74v3M98 68v3M99 74v3M102 74v3M103 77v3M104 86v2M106 80v3M107 86v2M108 83v3M109 88v3M110 86v2M111 91v3M112 91v3M113 88v3M114 80v6M115 83v3M116 94v3M117 94v6M118 97v6M119 94v3M120 94v3M121 97v3M122 100v6M123 100v1M124 94v6M125 97v6M126 97v6M127 91v6M128 97v3M129 97v6M130 94v6M131 91v6M132 94v3M133 100v3M134 97v3M135 97v6M136 94v6M137 100v3M138 106v3M139 103v3M140 100v3M141 100v6M142 100v3M143 100v3M144 103v3M145 100v6M146 103v3M147 94v6M148 100v3M149 103v3M150 103v3M151 100v3M152 103v3M153 100v6M154 100v3M155 103v3M156 106v3M157 106v3M158 106v3M159 109v3M160 109v3M161 106v3M162 109v3M163 109v3M164 106v3M165 103v3M166 100v6M167 103v3M168 103v3M169 103v3M170 97v3M171 97v3M172 94v6M173 88v6M174 91v6M175 97v3M176 97v3M177 97v3M178 91v6M179 91v6M180 97v6M181 94v6M182 91v6M183 86v5M184 91v6M185 91v3M186 97v3M187 94v3M188 88v3M189 86v2M190 88v3M191 94v6M192 94v3M193 91v3M194 91v3M195 94v3M196 88v6M197 94v3M198 94v6M199 91v6M200 94v3M201 94v3M202 88v3M203 83v5M204 83v3M205 83v3M206 88v3M207 94v6M208 97v3M209 97v3M210 91v6M211 94v3M212 91v6M213 86v5M214 91v6M215 94v6M216 91v3M217 94v6M218 94v3M219 97v3M220 97v6M222 94v3M223 91v3M224 91v3M225 88v3M226 91v3M227 86v2M228 91v3M229 88v3M230 83v3M231 80v3M232 77v6M233 86v2M234 77v3M235 71v3M236 71v3M237 71v3M240 71v3M241 65v3M242 62v3M243 62v3M244 56v3M246 53v3M247 53v3M262 50v3M263 50v3M268 50v3M276 53v3M278 50v3M286 59v3M287 62v3M290 68v3M291 68v3M293 62v3M294 62v3M295 65v3M296 65v3M299 71v3M300 74v3M301 74v3M303 68v3M304 68v3M305 62v3M306 59v3M311 53v3M313 50v3M314 50v3M315 50v3M326 53v3M327 53v3M330 50v3M332 50v3M333 50v3M342 50v3M350 53v3M351 50v3M354 50v3M357 50v3M359 53v3M366 50v3M370 53v3M372 50v3M373 50v3M375 50v3M392 56v3M393 53v3M394 56v3M395 56v3M398 56v3M400 62v3M401 59v3M403 65v3M405 62v3M406 65v3M407 68v3M408 68v3M409 68v3M411 68v3M413 74v3M414 77v3M415 74v3M416 77v3M417 74v3M419 83v3M420 80v3M421 83v3M422 80v3M423 77v3M424 77v3M425 80v3M426 88v3M427 83v3M428 88v3M429 97v3M430 100v3M431 94v6M432 94v6M433 103v3M434 106v3M435 109v3M436 109v3M440 106v3M441 106v3M442 106v3M443 106v3M444 103v3M445 103v3M446 106v3M447 103v3M448 109v3M449 106v3M450 100v3M451 100v3M452 103v3M453 106v3M454 100v3M455 100v3M456 100v3M457 100v3M458 100v3M459 103v3M460 106v3M461 112v3M463 106v3M464 103v6M465 100v3M466 100v3M467 103v3M468 103v3M469 106v3M470 106v3M471 109v3M472 109v3M473 112v3M474 109v3M475 106v3M476 106v3M477 109v3M478 109v3M479 112v3M480 109v3M481 109v3M482 109v3M483 100v3M484 106v3M485 106v3M486 106v3M487 103v3M488 100v3M489 106v3M490 106v3M491 103v6M492 106v3M494 112v3M495 106v3M496 112v3M497 109v3M498 109v3M499 103v6M500 106v3M501 106v3M502 103v3M503 103v6M504 100v3M505 94v6M506 94v6M507 97v3M508 94v3M512 88v3M513 86v2M514 86v2M515 80v3M516 74v3M517 74v3M518 71v3M519 68v3M520 74v3M521 71v3M522 74v3M523 68v3M528 62v3M530 68v3M531 68v3M534 65v3M536 59v3M541 56v3M543 59v3"/>
<path stroke="#f00000" d="M85 77v3M86 74v3M88 74v3M91 77v3M92 80v3M93 74v3M94 74v3M96 77v3M97 68v3M98 71v3M103 80v3M104 88v3M105 80v3M107 88v3M108 86v2M109 94v3M110 91v3M111 97v3M112 94v3M113 94v3M114 86v2M115 88v3M116 100v3M117 100v3M118 103v3M119 100v3M120 100v3M121 103v3M124 103v3M125 106v3M126 106v3M128 103v3M129 106v3M130 103v3M131 100v3M132 100v3M133 106v3M134 103v3M136 103v3M137 106v3M138 112v3M139 109v3M140 106v3M141 106v3M142 106v3M143 106v3M144 109v3M145 106v3M146 109v3M147 100v3M148 106v3M149 109v3M151 106v3M153 106v3M154 106v3M155 109v3M156 112v3M157 109v3M159 112v3M161 112v3M162 112v3M165 106v3M166 106v3M168 109v3M170 103v3M171 103v3M173 97v3M174 100v3M175 103v3M176 103v3M177 103v3M178 100v3M179 100v3M180 106v3M181 100v3M182 100v3M183 94v3M184 100v3M186 103v3M187 100v3M188 94v3M189 91v3M190 97v3M191 103v3M192 100v3M194 97v3M195 100v3M196 97v3M197 100v3M198 103v3M199 100v3M200 100v3M201 100v3M202 94v3M203 91v3M204 88v3M205 88v6M206 97v3M207 100v3M208 103v3M209 103v3M210 100v3M211 100v3M212 100v3M213 94v3M214 100v3M215 100v3M216 97v3M218 100v3M219 103v3M220 103v3M222 100v3M223 97v3M228 94v3M229 91v3M232 83v3M234 83v3M235 77v3M236 74v3M237 77v3M238 71v3M240 74v3M241 68v3M242 65v3M243 65v3M280 56v3M282 56v3M286 62v3M287 65v3M288 62v3M289 62v3M291 71v3M296 68v3M298 68v3M300 77v3M302 74v3M303 71v3M304 71v3M306 62v3M310 56v3M312 53v3M320 50v3M334 53v3M337 53v3M339 53v3M340 50v3M341 50v3M352 50v3M353 50v3M355 53v3M356 50v3M360 53v3M363 53v3M365 53v3M368 53v3M371 53v3M376 53v3M378 50v3M383 50v3M386 53v3M389 53v3M390 56v3M391 59v3M396 56v3M397 56v3M399 62v3M400 65v3M401 62v3M403 68v3M407 71v3M408 71v3M409 71v3M411 71v3M413 77v3M416 80v3M417 77v3M418 86v2M419 86v2M420 86v2M424 83v3M426 94v3M427 88v3M429 100v3M430 106v3M431 100v3M433 109v3M434 109v3M435 112v3M441 112v3M443 109v3M445 106v3M448 112v3M449 109v3M453 112v3M455 106v3M456 106v3M457 106v3M458 106v3M459 109v3M461 115v3M462 115v3M463 112v3M464 109v3M465 106v3M467 106v3M468 109v3M469 112v3M470 109v3M472 112v3M473 115v3M474 115v3M478 112v3M479 115v3M481 112v3M483 106v3M484 112v3M486 112v3M488 106v3M489 109v3M491 109v3M492 112v3M493 115v3M494 115v3M495 112v3M496 115v3M499 109v3M501 109v3M503 109v3M504 106v3M507 103v3M508 100v3M512 94v3M513 91v3M514 91v3M515 86v2M516 80v3M517 77v3M518 74v3M519 71v3M522 77v3M528 65v3M531 71v3M533 62v3M534 68v3M537 62v3M538 62v3M539 62v3M540 59v3M542 59v3"/>
<path stroke="#fcd200" d="M86 39v2M93 41v3M101 41v3M102 41v3M111 44v3M175 39v2M181 44v3M214 47v3M223 47v3M229 44v3M230 44v3M231 44v3M262 44v3M263 44v3M264 44v3M265 44v3M271 44v3M272 44v3M273 44v3M359 47v3M376 44v3M400 47v3M401 47v3M418 47v3M419 47v3M420 47v3M421 47v3M431 47v3M442 47v3M445 47v3M446 47v3M452 47v3M463 47v3M466 47v3M474 47v3M480 47v3M497 47v3M520 44v3M521 44v3M523 44v3M524 44v3M525 39v5M530 41v3M531 41v3M534 39v5"/>
<path stroke="#fccc00" d="M86 41v3M87 41v3M88 41v3M89 44v3M90 44v3M95 44v3M110 44v3M114 44v3M117 44v3M177 41v3M179 44v3M180 44v3M199 47v3M200 47v3M213 47v3M261 44v3M402 47v3M414 47v3M416 47v3M428 47v3M430 50v3M432 47v3M440 47v3M441 47v3M448 47v3M451 47v3M477 47v3M478 47v3M481 47v3M482 47v3M486 47v3M490 47v3M492 47v3M495 47v3M500 47v3M501 47v3M502 47v3M522 44v3M526 39v5M527 39v5"/>
<path stroke="#e40000" d="M86 77v3M88 77v3M89 74v3M90 77v3M91 80v3M92 83v3M94 77v3M102 83v3M103 86v2M106 88v3M107 94v3M108 91v3M109 97v3M110 94v3M111 100v3M112 100v3M114 91v3M115 94v3M116 103v3M117 106v3M118 109v3M119 106v3M120 106v3M121 109v3M122 112v3M125 109v3M126 109v3M127 103v3M128 109v3M129 109v3M130 106v3M131 106v3M132 106v3M133 112v3M134 109v3M135 109v3M136 106v3M137 112v3M138 115v3M139 115v3M140 109v3M141 112v3M143 112v3M144 112v3M145 112v3M146 112v3M147 106v3M150 112v3M152 112v3M153 112v3M154 112v3M157 115v3M158 115v3M160 118v3M161 115v3M163 118v3M164 115v3M165 112v3M166 112v3M167 112v3M168 112v3M169 112v3M170 109v3M172 106v3M176 109v3M177 109v3M178 106v3M179 106v3M180 109v3M181 106v3M182 106v3M183 100v3M185 103v3M187 106v3M188 100v3M189 97v3M190 100v3M192 106v3M193 103v3M194 103v3M195 106v3M196 103v3M197 106v3M198 106v3M200 106v3M201 106v3M202 100v3M203 97v3M204 94v3M205 97v3M206 100v3M207 106v3M210 103v3M212 103v3M213 100v3M214 103v3M215 106v3M216 103v3M217 106v3M218 106v3M220 109v3M222 106v3M223 103v3M224 100v6M225 97v6M228 97v3M229 94v3M232 86v2M234 86v2M235 80v3M236 80v3M238 74v3M239 71v3M242 68v3M246 56v3M247 56v3M256 50v3M257 50v3M258 50v3M264 50v3M265 53v3M269 50v3M270 53v3M271 56v3M273 56v3M275 56v3M276 56v3M278 53v3M279 56v3M281 59v3M286 65v3M287 68v3M288 65v3M292 71v3M294 65v3M296 71v3M297 74v3M298 71v3M301 83v3M302 77v3M303 74v3M304 74v3M306 65v3M310 59v3M311 56v3M313 53v3M314 53v3M315 53v3M318 53v3M323 53v3M325 53v3M327 56v3M328 56v3M330 53v3M333 53v3M335 56v3M336 56v3M338 53v3M342 53v3M343 53v3M347 53v3M350 56v3M351 53v3M358 56v3M366 53v3M373 53v3M374 56v3M380 50v3M385 53v3M388 56v3M395 59v3M399 65v3M400 68v3M401 65v3M403 71v3M404 65v3M407 74v3M408 74v3M409 74v3M411 74v3M412 83v2M413 80v3M417 80v3M418 88v3M419 88v3M420 88v3M421 91v3M422 88v3M423 86v2M425 88v3M426 97v3M427 94v3M428 97v3M429 106v3M430 109v3M431 106v3M432 106v3M433 112v3M435 115v3M440 115v3M441 115v3M442 115v3M444 112v3M445 112v3M446 115v3M447 112v3M448 115v3M450 109v3M451 109v3M452 112v3M453 115v3M454 109v3M455 109v3M457 109v3M459 112v3M460 115v3M461 118v3M462 118v3M463 115v3M465 109v3M466 109v3M467 112v3M468 112v3M469 115v3M470 115v3M471 118v3M474 118v3M475 115v3M476 115v3M477 118v3M482 118v3M483 112v3M484 115v3M485 115v3M486 115v3M487 112v3M488 112v3M489 115v3M490 115v3M492 115v3M493 118v3M494 118v3M495 115v3M497 118v3M498 118v3M500 115v3M501 115v3M502 112v3M504 109v3M505 106v3M506 106v3M507 109v3M508 106v3M512 100v3M513 97v3M514 97v3M516 86v2M517 83v3M518 80v3M519 74v3M526 74v3M528 68v3M532 68v3M534 71v3M541 59v3"/>
<path stroke="#de0000" d="M86 80v2M93 77v3M95 77v3M96 80v3M97 71v3M98 74v3M99 80v3M100 77v3M101 80v3M105 86v2M106 91v3M109 100v3M110 97v3M111 103v3M113 100v3M114 94v3M115 97v3M116 106v3M122 115v3M124 109v3M125 112v3M126 112v3M127 106v3M128 112v3M129 112v3M130 109v3M131 109v3M132 109v3M134 112v3M135 112v3M136 109v3M137 115v3M138 118v3M140 112v3M141 115v3M142 112v3M143 115v3M144 115v3M145 115v3M146 115v3M147 109v3M148 112v3M149 115v3M150 115v3M151 112v3M152 115v3M153 115v3M154 115v3M155 115v3M156 118v3M157 118v3M158 118v3M159 118v3M160 121v3M161 118v3M162 118v3M164 118v3M165 115v3M167 115v3M168 115v3M169 115v3M171 109v3M172 109v3M173 103v3M174 106v3M175 109v3M180 112v3M181 109v3M182 109v3M183 103v3M184 106v3M185 106v3M186 109v3M187 109v3M188 103v3M189 100v3M190 103v3M191 109v3M192 109v3M193 106v3M194 106v3M197 109v3M198 109v3M199 106v3M200 109v3M201 109v3M202 103v3M203 100v3M204 97v3M206 103v3M207 109v3M208 109v3M209 109v3M210 106v3M211 106v3M212 106v3M214 106v3M215 109v3M217 109v3M219 109v3M220 112v3M222 109v1M223 106v3M224 106v3M225 103v3M226 100v6M227 94v6M230 91v3M231 88v3M232 88v3M233 94v3M234 88v3M235 83v3M237 83v3M238 77v3M240 80v3M241 74v3M242 71v3M243 71v3M244 62v3M245 59v3M248 56v3M249 56v3M250 53v3M251 53v3M255 53v3M259 50v3M261 50v3M266 53v3M267 53v3M274 56v3M280 59v3M282 59v3M289 65v3M291 74v3M295 71v3M296 74v3M299 80v3M300 83v3M302 80v3M303 77v3M304 77v3M305 71v3M307 65v3M308 65v3M309 62v3M322 56v3M332 53v3M345 53v3M346 53v3M354 53v3M357 53v3M361 53v3M364 56v3M372 53v3M376 56v3M377 53v3M386 56v3M387 56v3M390 59v3M391 62v3M393 56v3M396 59v3M397 59v3M406 71v3M410 77v3M414 86v1M415 83v3M416 86v2M417 83v3M418 91v3M419 91v3M420 91v3M421 94v3M422 91v3M423 88v3M424 88v3M425 91v3M426 100v3M427 97v3M428 100v3M430 112v3M431 109v3M432 109v3M433 115v3M434 115v3M435 118v3M436 118v3M441 118v3M443 115v3M444 115v3M447 115v3M448 118v3M449 115v3M450 112v3M451 112v3M452 115v3M453 118v3M454 112v3M455 112v3M456 112v3M457 112v3M458 112v3M459 115v3M461 121v3M463 118v3M464 115v3M465 112v3M466 112v3M468 115v3M469 118v3M472 118v3M473 121v3M474 121v3M478 118v3M479 121v3M480 118v3M481 118v3M484 118v3M485 118v3M486 118v3M487 115v3M490 118v3M491 115v3M492 118v3M493 121v3M494 121v3M495 118v3M496 121v3M499 115v3M500 118v3M502 115v3M503 115v3M504 112v3M505 109v3M506 109v3M507 112v3M508 109v3M512 103v3M513 100v3M514 100v3M515 91v3M516 88v3M517 86v2M518 83v3M519 77v3M520 83v3M521 80v3M522 83v3M523 77v3M524 74v3M525 71v3M527 68v3M529 71v3M530 74v3M531 74v3M535 65v3M538 65v3M539 65v3M540 62v3"/>
<path stroke="#fcd800" d="M87 39v2M88 39v2M94 41v3M96 44v3M100 41v3M112 44v3M113 44v3M128 41v3M129 41v3M130 41v3M135 44v3M183 44v3M188 44v3M189 44v3M222 47v3M239 44v3M266 44v3M270 44v3M274 44v3M275 44v3M276 44v3M277 44v3M278 44v3M279 44v3M296 47v3M361 47v3M372 44v3M429 47v3M433 47v3M434 47v3M435 47v3M461 47v3M473 47v3M488 47v3M493 47v3M498 47v3M517 44v3M524 41v3M531 39v2M532 41v3M533 41v3"/>
<path stroke="#f60000" d="M87 74v3M89 71v3M90 74v3M100 71v3M101 74v3M102 77v3M105 77v3M106 83v3M109 91v3M110 88v3M111 94v3M113 91v3M115 86v2M116 97v3M119 97v3M120 97v3M121 100v3M122 106v3M124 100v3M125 103v3M126 103v3M127 97v3M128 100v3M129 103v3M130 100v3M131 97v3M132 97v3M133 103v3M134 100v3M135 103v3M136 100v3M137 103v3M138 109v3M139 106v3M140 103v3M142 103v3M143 103v3M144 106v3M146 106v3M148 103v3M149 106v3M150 106v3M151 103v3M152 106v3M154 103v3M155 106v3M156 109v3M158 109v3M160 112v3M161 109v3M163 112v3M164 109v3M167 106v3M168 106v3M169 106v3M170 100v3M171 100v3M172 100v3M173 94v3M174 97v3M175 100v3M176 100v3M177 100v3M178 97v3M179 97v3M180 103v3M182 97v3M183 91v3M184 97v3M185 94v6M186 100v3M187 97v3M188 91v3M189 88v3M190 91v6M191 100v3M192 97v3M193 94v6M194 94v3M195 97v3M196 94v3M197 97v3M198 100v3M199 97v3M200 97v3M201 97v3M202 91v3M203 88v3M204 86v2M205 86v2M206 91v6M208 100v3M209 100v3M210 97v3M211 97v3M212 97v3M213 91v3M214 97v3M216 94v3M217 100v3M218 97v3M219 100v3M222 97v3M223 94v3M224 94v3M225 91v3M226 94v3M227 88v3M230 86v2M231 83v3M233 88v3M234 80v3M235 74v3M237 74v3M238 68v3M239 65v3M245 56v3M248 53v3M249 53v3M250 50v3M251 50v3M255 50v3M272 50v3M275 53v3M279 53v3M281 56v3M292 68v3M297 68v3M298 65v3M299 74v3M301 77v3M302 71v3M305 65v3M307 59v3M308 59v3M309 56v3M321 50v3M322 53v3M328 53v3M335 53v3M336 53v3M344 50v3M345 50v3M346 50v3M348 50v3M358 53v3M364 53v3M374 53v3M377 50v3M387 53v3M388 53v3M402 62v3M404 62v3M410 71v3M412 77v3M414 80v3M415 77v3M418 83v3M420 83v3M421 86v2M422 83v3M423 80v3M424 80v3M425 83v3M426 91v3M427 86v2M428 91v3M430 103v3M432 100v3M433 106v3M436 112v3M440 109v3M441 109v3M442 109v3M444 106v3M446 109v3M447 106v3M450 103v3M451 103v3M452 106v3M453 109v3M454 103v3M455 103v3M456 103v3M457 103v3M458 103v3M459 106v3M460 109v3M462 112v3M463 109v3M465 103v3M466 103v3M468 106v3M469 109v3M471 112v3M474 112v3M475 109v3M476 109v3M477 112v3M480 112v3M482 112v3M483 103v3M484 109v3M485 109v3M486 109v3M487 106v3M488 103v3M490 109v3M492 109v3M493 112v3M495 109v3M497 112v3M498 112v3M500 109v3M502 106v3M504 103v3M505 100v3M506 100v3M507 100v3M508 97v3M512 91v3M513 88v3M514 88v3M515 83v3M516 77v3M520 77v3M521 74v3M523 71v3M524 68v3M525 65v3M526 68v3M527 62v3M529 65v3M532 65v3M535 62v3"/>
<path stroke="#ea0000" d="M87 77v3M95 74v3M99 77v3M100 74v3M101 77v3M102 80v3M103 83v3M104 91v3M105 83v3M106 86v2M107 91v3M108 88v3M112 97v3M113 97v3M114 88v3M115 91v3M117 103v3M118 106v3M119 103v3M120 103v3M121 106v3M122 109v3M124 106v3M127 100v3M128 106v3M131 103v3M132 103v3M133 109v3M134 106v3M135 106v3M137 109v3M139 112v3M141 109v3M142 109v3M143 109v3M145 109v3M147 103v3M148 109v3M149 112v3M150 109v3M151 109v3M152 109v3M153 109v3M154 109v3M155 112v3M156 115v3M157 112v3M158 112v3M159 115v3M160 115v3M162 115v3M163 115v3M164 112v3M165 109v3M166 109v3M167 109v3M169 109v3M170 106v3M171 106v3M172 103v3M173 100v3M174 103v3M175 106v3M176 106v3M177 106v3M178 103v3M179 103v3M181 103v3M182 103v3M183 97v3M184 103v3M185 100v3M186 106v3M187 103v3M188 97v3M189 94v3M191 106v3M192 103v3M193 100v3M194 100v3M195 103v3M196 100v3M197 103v3M199 103v3M200 103v3M201 103v3M202 97v3M203 94v3M204 91v3M205 94v3M207 103v3M208 106v3M209 106v3M211 103v3M213 97v3M215 103v3M216 100v3M217 103v3M218 103v3M219 106v3M220 106v3M222 103v3M223 100v3M224 97v3M225 94v3M226 97v3M227 91v3M230 88v3M231 86v2M233 91v3M236 77v3M237 80v3M239 68v3M240 77v3M241 71v3M243 68v3M244 59v3M274 53v3M277 56v3M290 71v3M293 65v3M295 68v3M297 71v3M299 77v3M300 80v3M301 80v3M305 68v3M307 62v3M308 62v3M309 59v3M316 53v3M317 53v3M319 50v3M324 53v3M326 56v3M329 53v3M331 53v3M349 53v3M359 56v3M362 53v3M367 53v3M369 53v3M370 56v3M375 53v3M382 50v3M384 50v3M392 59v3M394 59v3M398 59v3M402 65v3M405 65v3M406 68v3M410 74v3M412 80v3M414 83v3M415 80v3M416 83v3M421 88v3M422 86v2M423 83v3M424 86v2M425 86v2M427 91v3M428 94v3M429 103v3M431 103v3M432 103v3M434 112v3M436 115v3M440 112v3M442 112v3M443 112v3M444 109v3M445 109v3M446 112v3M447 109v3M449 112v3M450 106v3M451 106v3M452 109v3M454 106v3M456 109v3M458 109v3M460 112v3M464 112v3M466 106v3M467 109v3M470 112v3M471 115v3M472 115v3M473 118v3M475 112v3M476 112v3M477 115v3M478 115v3M479 118v3M480 115v3M481 115v3M482 115v3M483 109v3M485 112v3M487 109v3M488 109v3M489 112v3M490 112v3M491 112v3M496 118v3M497 115v3M498 115v3M499 112v3M500 112v3M501 112v3M502 109v3M503 112v3M505 103v3M506 103v3M507 106v3M508 103v3M512 97v3M513 94v3M514 94v3M515 88v3M516 83v3M517 80v3M518 77v3M520 80v3M521 77v3M522 80v3M523 74v3M524 71v3M525 68v3M526 71v3M527 65v3M529 68v3M530 71v3M536 62v3M543 62v3"/>
<path stroke="#d80000" d="M87 80v3M89 77v3M90 80v3M101 83v3M102 86v2M103 88v3M105 88v3M107 97v3M108 94v3M109 103v3M110 100v3M111 106v3M112 103v3M113 103v3M114 97v3M115 100v3M116 109v3M117 109v3M118 112v3M119 109v3M120 109v3M121 112v3M124 112v3M125 115v3M126 115v3M127 109v3M128 115v3M129 115v3M130 112v3M131 112v3M132 112v3M133 115v3M134 115v3M135 115v3M136 112v3M137 118v3M138 121v3M139 118v3M140 115v3M141 118v3M142 115v3M143 118v3M144 118v3M145 118v3M146 118v3M147 112v3M148 115v3M149 118v3M150 118v3M151 115v3M152 118v3M153 118v3M154 118v3M155 118v3M156 121v3M158 121v3M159 121v3M161 121v3M162 121v3M163 121v3M164 121v3M165 118v3M166 115v3M167 118v3M168 118v3M169 118v3M170 112v3M171 112v3M172 112v3M173 106v6M174 109v3M175 112v3M176 112v3M177 112v3M178 109v3M179 109v3M180 115v3M181 112v3M183 106v3M184 109v3M185 109v3M186 112v3M188 106v3M189 103v3M190 106v3M191 112v3M193 109v3M194 109v3M195 109v3M196 106v3M198 112v3M199 109v3M202 106v3M203 103v3M204 100v3M205 100v3M206 106v3M208 112v3M209 112v3M210 109v3M211 109v3M212 109v3M213 103v3M214 109v3M216 106v3M218 109v3M219 112v3M220 115v3M225 106v3M226 106v3M227 100v8M228 100v2M229 97v2M233 97v1M236 83v3M237 86v2M238 80v3M239 74v3M240 83v3M241 77v3M260 50v3M262 53v3M263 53v3M268 53v3M270 56v3M271 59v3M272 53v3M273 59v3M277 59v3M281 62v3M286 68v3M287 71v3M290 74v3M292 74v3M293 68v3M294 68v3M295 74v3M297 77v3M298 74v3M299 83v3M301 86v2M303 80v3M304 80v3M305 74v3M306 68v3M310 62v3M311 59v3M312 56v3M321 53v3M324 56v3M326 59v3M329 56v3M334 56v3M337 56v3M339 56v3M340 53v3M344 53v3M348 53v3M355 56v3M359 59v3M360 56v3M363 56v3M365 56v3M368 56v3M371 56v3M375 56v3M378 53v3M379 53v3M381 50v3M383 53v3M389 56v3M392 62v3M394 62v3M395 62v3M398 62v3M399 68v3M400 71v3M402 68v3M403 74v3M405 68v3M407 77v3M408 77v3M409 77v3M411 77v3M413 83v1M415 86v2M416 88v3M417 86v2M419 94v3M422 94v3M424 91v3M425 94v3M426 103v3M427 100v3M428 103v3M429 109v3M430 115v3M432 112v3M434 118v3M436 121v3M440 118v3M442 118v3M443 118v3M445 115v3M446 118v3M449 118v3M450 115v3M451 115v3M452 118v3M454 115v3M455 115v3M456 115v3M457 115v3M458 115v3M459 118v3M460 118v3M462 121v3M464 118v3M465 115v3M466 115v3M467 115v3M468 118v3M470 118v3M471 121v3M472 121v3M475 118v3M476 118v3M477 121v3M478 121v3M480 121v3M481 121v3M482 121v3M483 115v3M486 121v3M487 118v3M488 115v3M489 118v3M491 118v3M495 121v3M496 124v3M497 121v3M498 121v3M499 118v3M501 118v3M502 118v3M503 118v3M504 115v3M505 112v3M506 112v3M512 106v3M513 103v3M514 103v3M515 94v3M517 88v3M519 80v3M520 86v2M521 83v3M524 77v3M526 77v3M530 77v3M531 77v3M532 71v3M533 65v3M536 65v3M537 65v3M542 62v3M543 65v3"/>
<path stroke="#d20000" d="M87 83v1M88 80v3M91 83v3M92 86v2M93 80v3M94 80v3M96 83v3M98 77v3M99 83v3M100 80v3M105 91v3M106 94v6M107 100v3M108 97v6M109 106v3M110 103v3M111 109v3M112 106v3M113 106v3M114 100v3M115 103v3M116 112v3M117 112v3M118 115v3M119 112v3M120 112v3M121 115v3M122 118v3M124 115v3M125 118v3M126 118v3M127 112v3M128 118v3M129 118v3M130 115v3M131 115v3M132 115v3M133 118v3M134 118v3M135 118v3M136 115v6M137 121v3M138 124v3M139 121v3M140 118v3M141 121v3M142 118v3M143 121v3M144 121v3M145 121v3M146 121v3M147 115v6M148 118v3M149 121v3M150 121v3M151 118v3M152 121v3M153 121v3M154 121v3M155 121v3M156 124v3M157 121v3M159 124v3M160 124v3M161 124v3M162 124v3M163 124v3M165 121v3M166 118v3M167 121v3M168 121v3M169 121v3M170 115v6M171 115v3M172 115v3M173 112v3M174 112v6M175 115v3M176 115v3M177 115v3M178 112v6M179 112v6M180 118v3M181 115v3M182 112v6M183 109v3M184 112v3M185 112v3M186 115v3M187 112v3M188 109v3M189 106v3M190 109v3M191 115v3M192 112v3M193 112v3M194 112v3M195 112v3M196 109v3M197 112v3M199 112v3M200 112v3M201 112v3M202 109v3M203 106v3M204 103v3M205 103v3M206 109v3M207 112v3M208 115v3M209 115v3M210 112v3M211 112v3M212 112v3M213 106v3M214 112v3M215 112v3M216 109v3M217 112v6M218 112v3M219 115v3M220 118v3M230 94v5M231 91v3M232 91v3M234 91v3M235 86v2M236 86v2M237 88v3M239 77v3M241 80v3M242 74v3M243 74v3M244 65v3M245 62v3M246 59v3M247 59v3M265 56v3M266 56v3M269 53v3M275 59v3M276 59v3M279 59v3M280 62v3M288 68v3M291 77v3M293 71v3M294 71v3M295 77v3M296 77v3M300 86v2M302 83v3M305 77v3M306 71v3M307 68v3M308 68v3M309 65v3M316 56v3M317 56v3M320 53v3M327 59v3M328 59v3M331 56v3M336 59v3M341 53v3M349 56v3M350 59v3M352 53v3M353 53v3M356 53v3M358 59v3M362 56v3M367 56v3M369 56v3M370 59v3M374 59v3M382 53v3M384 53v3M385 56v3M393 59v3M401 68v3M404 68v3M406 74v3M409 80v3M410 80v3M418 94v3M420 94v3M421 97v3M423 91v3M424 94v3M425 97v3M426 106v3M427 103v3M428 106v3M429 112v3M431 112v3M433 118v3M435 121v3M440 121v3M441 121v3M442 121v3M443 121v3M444 118v3M445 118v3M446 121v3M447 118v3M448 121v3M449 121v3M450 118v3M451 118v3M453 121v3M454 118v3M455 118v3M456 118v3M457 118v3M458 118v3M460 121v3M461 124v3M462 124v3M463 121v3M464 121v3M465 118v3M466 118v3M467 118v3M469 121v3M470 121v3M471 124v3M473 124v3M474 124v3M475 121v3M476 121v3M477 124v3M479 124v3M480 124v3M482 124v3M483 118v3M484 121v3M485 121v3M488 118v3M489 121v3M490 121v3M491 121v3M492 121v3M493 124v3M494 124v3M497 124v3M498 124v3M499 121v3M500 121v3M501 121v3M503 121v3M504 118v3M505 115v3M506 115v3M507 115v3M508 112v3M512 109v3M513 106v3M514 106v3M515 97v6M516 91v6M517 91v3M518 86v2M519 83v3M520 88v3M521 86v2M522 86v2M523 80v3M525 74v3M528 71v3M529 74v3M534 74v3M535 68v3"/>
<path stroke="#cc0000" d="M88 83v3M95 80v3M97 74v3M99 86v2M100 83v3M101 86v2M105 94v3M108 103v3M109 109v1M110 106v3M112 109v3M113 109v3M114 103v3M115 106v3M117 115v3M118 118v3M119 115v3M120 115v3M121 118v3M122 121v3M124 118v3M125 121v3M126 121v3M127 115v3M128 121v3M129 121v3M130 118v3M131 118v3M132 118v3M133 121v3M134 121v3M135 121v3M136 121v3M137 124v3M139 124v3M140 121v3M141 124v3M142 121v3M143 124v3M144 124v3M145 124v3M146 124v3M147 121v3M148 121v3M149 124v3M150 124v3M151 121v3M152 124v3M153 124v3M154 124v3M155 124v3M156 127v3M157 124v3M158 124v3M159 127v3M160 127v3M162 127v3M163 127v3M164 124v3M165 124v3M166 121v3M167 124v3M168 124v3M169 124v3M170 121v3M171 118v6M172 118v3M173 115v3M174 118v3M175 118v3M176 118v6M177 118v6M178 118v3M179 118v3M180 121v3M181 118v3M182 118v3M183 112v3M184 115v3M185 115v3M186 118v3M187 115v6M188 112v3M189 109v6M190 112v3M191 118v3M192 115v3M193 115v3M194 115v3M195 115v3M196 112v3M197 115v3M198 115v3M199 115v3M200 115v3M201 115v3M202 112v3M203 109v3M204 106v3M205 106v3M206 112v3M207 115v3M208 118v3M210 115v3M211 115v3M212 115v3M213 109v6M214 115v3M215 115v3M216 112v6M217 118v3M218 115v6M219 118v3M220 121v1M231 94v6M235 88v3M238 83v3M240 86v2M242 77v3M243 77v3M248 59v3M249 59v3M251 56v3M256 53v3M257 53v3M258 53v3M264 53v3M267 56v3M271 62v3M273 62v3M274 59v3M277 62v3M278 56v3M282 62v3M286 71v3M287 74v3M289 68v3M290 77v3M292 77v3M293 74v3M296 80v3M297 80v3M298 77v3M299 86v2M300 88v3M301 88v3M302 86v2M303 83v3M304 83v3M305 80v3M306 74v3M307 71v3M310 65v3M311 62v3M312 59v3M313 56v3M314 56v3M315 56v3M318 56v3M322 59v3M323 56v3M325 56v3M330 56v3M333 56v3M335 59v3M338 56v3M343 56v3M347 56v3M351 56v3M366 56v3M372 56v3M373 56v3M376 59v3M377 56v3M379 56v1M386 59v3M387 59v3M388 59v3M390 62v3M391 65v3M392 65v3M394 65v3M395 65v3M396 62v3M397 62v3M398 65v3M399 71v3M400 74v3M402 71v3M403 77v3M404 71v3M405 71v3M406 77v3M407 80v3M408 80v3M410 83v3M411 80v3M415 88v1M416 91v1M417 88v3M418 97v1M419 97v3M420 97v3M421 100v3M422 97v3M423 94v6M424 97v3M425 100v3M426 109v3M427 106v3M428 109v3M429 115v3M430 118v3M431 115v3M432 115v3M433 121v3M434 121v3M435 124v3M436 124v3M440 124v3M441 124v3M442 124v3M444 121v3M445 121v3M446 124v3M447 121v3M448 124v3M452 121v3M453 124v3M455 121v3M456 121v3M457 121v3M458 121v3M459 121v3M460 124v3M461 127v3M463 124v3M465 121v3M467 121v3M468 121v3M469 124v3M470 124v3M472 124v3M473 127v3M474 127v3M475 124v3M476 124v3M478 124v3M479 127v3M481 124v3M483 121v3M484 124v3M485 124v3M486 124v3M487 121v3M488 121v3M489 124v3M490 124v3M491 124v3M492 124v3M493 127v3M494 127v3M495 124v3M496 127v3M499 124v3M500 124v3M501 124v3M502 121v3M503 124v3M504 121v3M505 118v3M506 118v3M507 118v3M508 115v3M512 112v3M513 109v3M514 109v3M515 103v3M516 97v3M517 94v3M518 88v3M519 86v2M520 91v3M521 88v3M522 88v3M523 83v3M524 80v3M526 80v3M527 71v3M530 80v3M531 80v3M532 74v3M533 68v3M534 77v3M536 68v3M537 68v3M538 68v3M539 68v3M541 62v3"/>
<path stroke="#c60000" d="M88 86v1M89 80v3M90 83v3M93 83v3M94 83v3M95 83v3M96 86v2M97 77v3M98 80v3M101 88v3M110 109v3M111 112v3M112 112v3M113 112v3M114 106v3M115 109v3M116 115v3M117 118v3M118 121v3M119 118v3M120 118v3M121 121v3M122 124v3M124 121v3M125 124v3M126 124v3M127 118v6M128 124v3M129 124v3M130 121v3M131 121v3M132 121v3M133 124v3M134 124v3M135 124v3M136 124v3M137 127v3M138 127v3M139 127v3M140 124v3M141 127v3M142 124v3M143 127v3M144 127v3M145 127v3M146 127v3M147 124v3M148 124v3M149 127v3M150 127v3M151 124v3M152 127v3M153 127v3M154 127v3M155 127v3M157 127v3M158 127v3M159 130v3M160 130v3M161 127v3M163 130v3M164 127v3M165 127v3M166 124v3M167 127v3M168 127v3M169 127v3M170 124v3M171 124v3M172 121v3M173 118v3M174 121v3M175 121v6M176 124v3M177 124v3M178 121v3M179 121v3M180 124v3M181 121v3M182 121v3M183 115v6M184 118v6M185 118v3M186 121v3M187 121v3M188 115v6M189 115v3M190 115v6M191 121v3M192 118v6M193 118v3M194 118v3M195 118v3M196 115v6M197 118v3M198 118v6M199 118v3M200 118v3M201 118v3M202 115v3M203 112v3M204 109v6M205 109v6M206 115v3M207 118v3M208 121v3M209 118v6M210 118v3M211 118v3M212 118v3M213 115v3M214 118v3M215 118v6M216 118v3M217 121v3M218 121v3M219 121v3M232 94v8M234 94v2M236 88v3M237 91v3M238 86v2M239 80v3M240 88v3M241 83v3M242 80v3M243 80v3M244 68v3M245 65v3M246 62v3M247 62v3M250 56v3M255 56v3M259 53v3M261 53v3M262 56v3M265 59v3M268 56v3M270 59v3M272 56v3M275 62v3M276 62v3M281 65v3M282 65v3M291 80v3M292 80v3M294 74v3M295 80v3M297 83v3M298 80v3M299 88v3M300 91v3M301 91v3M302 88v3M303 86v2M304 86v2M306 77v3M307 74v3M308 71v3M309 68v3M319 53v3M332 56v3M334 59v3M337 59v3M342 56v3M345 56v3M354 56v3M357 56v3M359 62v3M361 56v3M363 59v3M364 59v3M365 59v3M368 59v3M369 59v3M370 62v3M371 59v3M374 62v3M375 59v3M378 56v3M380 53v1M381 53v3M383 56v3M391 68v3M392 68v3M401 71v3M402 74v3M403 80v3M405 74v3M409 83v3M411 83v3M417 91v3M419 100v1M420 100v3M421 103v3M422 100v6M423 100v3M424 100v6M425 103v3M426 112v3M427 109v3M428 112v3M429 118v3M430 121v3M431 118v3M432 118v3M433 124v3M434 124v3M436 127v3M443 124v3M444 124v3M445 124v3M447 124v3M448 127v3M449 124v3M450 121v3M451 121v3M452 124v3M453 127v3M454 121v3M456 124v3M458 124v3M459 124v3M462 127v3M463 127v3M464 124v3M466 121v3M467 124v3M468 124v3M469 127v3M471 127v3M472 127v3M477 127v3M478 127v3M480 127v3M481 127v3M482 127v3M483 124v3M484 127v3M485 127v3M486 127v3M487 124v3M488 124v3M490 127v3M492 127v3M495 127v3M496 130v3M497 127v3M498 127v3M499 127v3M500 127v3M501 127v3M502 124v3M503 127v3M504 124v3M505 121v3M506 121v3M507 121v3M508 118v6M512 115v3M513 112v3M514 112v3M515 106v3M516 100v3M517 97v3M518 91v6M520 94v3M521 91v3M522 91v3M523 86v2M524 83v3M525 77v3M526 83v3M528 74v3M529 77v3M535 71v3M540 65v3M542 65v3M543 68v3"/>
<path stroke="#fcf000" d="M89 39v2M90 41v3M92 39v2M100 39v2M105 41v3M106 41v3M109 41v3M110 41v3M118 44v3M137 41v3M186 44v3M189 41v3M190 41v3M196 44v3M232 44v3M235 44v3M247 44v3M250 44v3M261 41v3M316 42v2M317 42v2M320 44v3M323 42v2M325 44v3M330 44v3M333 44v3M352 44v3M418 44v3M446 44v3M454 44v3M458 44v3M469 47v3"/>
<path stroke="#fce400" d="M89 41v3M91 41v3M93 39v2M94 39v2M101 39v2M103 41v3M108 41v3M176 39v2M177 39v2M178 41v3M182 44v3M187 44v3M192 44v3M195 44v3M206 44v3M245 44v3M246 44v3M287 44v3M288 44v3M302 44v3M307 44v3M308 42v2M310 44v3M316 44v3M317 44v3M318 42v2M321 44v3M332 44v3M335 44v3M336 44v3M337 44v3M360 47v3M385 44v3M409 44v3M410 44v3M443 47v3M459 44v3M467 47v3M489 47v3M529 39v2"/>
<path stroke="#fc0600" d="M89 68v3M90 71v3M97 65v3M100 68v3M101 71v3M104 83v3M105 74v3M106 77v3M107 83v3M108 80v3M110 83v3M112 88v3M113 86v2M115 80v3M116 91v3M119 91v3M120 91v3M121 94v3M122 97v3M123 97v3M124 91v3M125 94v3M126 94v3M127 88v3M128 94v3M129 94v3M130 91v3M131 88v3M132 91v3M133 97v3M134 94v3M135 94v3M136 91v3M137 97v3M138 103v3M139 100v3M140 97v3M141 97v3M142 97v3M143 97v3M144 100v3M146 100v3M147 91v3M148 97v3M149 100v3M150 100v3M151 97v3M152 100v3M154 97v3M155 100v3M157 103v3M158 103v3M159 106v3M162 106v3M163 106v3M164 103v3M165 97v6M166 97v3M167 100v3M168 100v3M169 97v6M170 91v6M171 91v6M172 91v3M173 86v2M174 88v3M175 91v6M176 94v3M177 94v3M178 88v3M179 88v3M180 94v3M181 91v3M182 88v3M183 83v3M184 88v3M185 88v3M186 91v6M187 88v6M188 86v2M189 83v3M190 86v2M191 91v3M192 91v3M193 88v3M194 88v3M195 91v3M196 86v2M197 91v3M198 91v3M199 88v3M200 91v3M201 91v3M202 86v2M203 80v3M204 80v3M205 80v3M206 86v2M207 91v3M208 94v3M209 94v3M210 88v3M211 91v3M212 88v3M213 83v3M214 88v3M215 91v3M216 88v3M217 91v3M218 91v3M219 94v3M224 88v3M231 77v3M233 83v3M234 74v3M235 68v3M236 68v3M238 65v3M239 62v3M240 68v3M241 62v3M277 53v3M282 53v3M288 59v3M289 59v3M292 65v3M297 65v3M298 62v3M300 71v3M302 68v3M303 65v3M304 65v3M307 56v3M308 56v3M310 53v3M312 50v3M316 50v3M318 50v3M323 50v3M325 50v3M338 50v3M343 50v3M347 50v3M361 50v3M362 50v3M363 50v3M367 50v3M369 50v3M371 50v3M379 50v3M390 53v3M391 56v3M399 59v3M402 59v3M404 59v3M410 68v3M412 74v3M413 71v3M417 71v3M418 80v3M419 80v3M421 80v3M422 77v3M423 74v3M425 77v3M426 86v2M427 80v3M428 86v2M429 94v3M432 91v3M434 103v3M435 106v3M436 106v3M443 103v3M444 100v3M445 100v3M446 103v3M447 100v3M448 106v3M449 103v3M450 97v3M451 97v3M452 100v3M454 97v3M455 97v3M456 97v3M457 97v3M459 100v3M460 103v3M461 109v3M462 109v3M465 97v3M466 97v3M467 100v3M468 100v3M470 103v3M471 106v3M472 106v3M473 109v3M475 103v3M476 103v3M477 106v3M478 106v3M479 109v3M480 106v3M481 106v3M482 106v3M483 97v3M484 103v3M485 103v3M487 100v3M488 97v3M489 103v3M490 103v3M492 103v3M493 109v3M494 109v3M496 109v3M497 106v3M498 106v3M500 103v3M501 103v3M502 100v3M503 100v3M504 94v6M505 91v3M506 91v3M507 94v3M508 91v3M512 86v2M513 83v3M514 83v3M515 77v3M516 71v3M517 71v3M518 68v3M519 65v3M520 71v3M522 71v3M524 65v3M525 62v3M526 65v3M529 62v3M533 59v3M535 59v3M537 59v3M538 59v3M539 59v3"/>
<path stroke="#c00000" d="M89 83v3M91 86v2M92 88v3M94 86v2M96 88v3M98 83v3M99 88v3M100 86v2M110 112v3M111 115v3M113 115v3M114 109v3M115 112v3M116 118v3M117 121v3M118 124v3M119 121v3M120 121v3M121 124v3M122 127v3M124 124v3M125 127v3M126 127v3M127 124v3M128 127v3M129 127v3M130 124v3M131 124v3M132 124v3M133 127v3M134 127v3M135 127v3M136 127v3M137 130v3M138 130v3M139 130v3M140 127v6M141 130v3M142 127v6M143 130v3M144 130v3M145 130v3M146 130v3M147 127v3M148 127v6M149 130v3M150 130v3M151 127v6M152 130v3M153 130v3M154 130v3M155 130v3M156 130v6M157 130v6M158 130v6M159 133v3M160 133v3M161 130v6M162 130v6M163 133v3M164 130v3M165 130v3M166 127v6M167 130v3M168 130v3M169 130v3M170 127v3M171 127v3M172 124v6M173 121v6M174 124v3M175 127v3M176 127v3M177 127v3M178 124v3M179 124v3M180 127v3M181 124v3M182 124v3M183 121v3M184 124v3M185 121v6M186 124v3M187 124v3M188 121v3M189 118v6M190 121v3M191 124v3M192 124v3M193 121v3M194 121v3M195 121v6M196 121v3M197 121v6M198 124v3M199 121v3M200 121v3M201 121v3M202 118v3M203 115v6M204 115v3M205 115v3M206 118v3M207 121v3M208 124v3M209 124v3M210 121v3M211 121v3M212 121v3M213 118v3M214 121v3M215 124v3M216 121v3M217 124v3M218 124v3M219 124v3M235 91v3M236 91v3M237 94v2M238 88v3M239 83v3M240 91v3M241 86v2M242 83v3M243 83v3M244 71v3M248 62v3M249 62v3M263 56v3M266 59v3M271 65v3M279 62v3M280 65v3M281 68v3M287 77v3M288 71v3M289 71v3M290 80v3M291 83v3M292 83v3M293 77v3M294 77v3M295 83v3M296 83v3M297 86v2M298 83v3M299 91v3M301 94v3M303 88v3M304 88v3M305 83v3M306 80v3M307 77v3M308 74v3M309 71v3M310 68v3M311 65v3M312 62v3M313 59v3M314 59v3M324 59v3M326 62v3M327 62v3M328 62v3M329 59v3M331 59v3M336 62v3M339 59v3M346 56v3M348 56v3M350 62v3M355 59v3M358 62v3M360 59v3M362 59v3M364 62v3M365 62v3M366 59v3M367 59v3M370 65v3M373 59v3M376 62v3M377 59v3M382 56v3M385 59v3M388 62v3M389 59v3M390 65v3M391 71v3M393 62v3M394 68v3M395 68v3M396 65v3M399 74v3M400 77v3M401 74v3M404 74v3M406 80v3M407 83v3M408 83v3M410 86v2M417 94v1M420 103v1M421 106v2M422 106v3M423 103v6M424 106v3M425 106v6M426 115v3M427 112v3M428 115v3M429 121v3M430 124v3M431 121v3M432 121v3M433 127v3M434 127v3M435 127v3M440 127v3M441 127v3M442 127v3M443 127v3M444 127v3M446 127v3M447 127v3M449 127v3M450 124v3M451 124v3M452 127v3M454 124v3M455 124v3M457 124v3M459 127v3M460 127v3M461 130v3M462 130v3M464 127v3M465 124v3M466 124v3M467 127v3M468 127v3M470 127v3M471 130v3M472 130v3M473 130v3M474 130v3M475 127v3M476 127v3M477 130v3M478 130v3M479 130v3M480 130v3M481 130v3M482 130v3M483 127v3M487 127v3M488 127v3M489 127v3M491 127v3M492 130v3M493 130v3M494 130v3M495 130v3M497 130v3M498 130v3M500 130v3M502 127v3M504 127v3M505 124v3M506 124v3M507 124v3M508 124v3M512 118v3M513 115v2M514 115v3M515 109v3M516 103v6M517 100v6M518 97v3M519 88v6M520 97v3M522 94v3M523 88v3M524 86v2M525 80v3M526 86v2M527 74v3M528 77v3M530 83v3M531 83v3M532 77v3M533 71v3M534 80v3M536 71v3M537 71v3M538 71v3M539 71v3"/>
<path stroke="#ba0000" d="M89 86v2M90 86v2M91 88v3M92 91v3M93 86v2M95 86v2M97 80v3M99 91v3M100 88v3M101 91v2M111 118v3M112 115v6M113 118v3M114 112v6M115 115v6M116 121v6M117 124v3M118 127v3M119 124v3M120 124v3M121 127v3M122 130v3M124 127v3M125 130v3M126 130v3M127 127v3M128 130v3M129 130v3M130 127v6M131 127v6M132 127v6M133 130v6M134 130v6M135 130v6M136 130v6M137 133v3M138 133v5M139 133v5M140 133v3M141 133v5M142 133v3M143 133v5M144 133v5M145 133v5M146 133v5M147 130v6M148 133v5M149 133v5M150 133v5M151 133v5M152 133v5M153 133v5M154 133v5M155 133v5M156 136v5M157 136v2M158 136v2M159 136v5M160 136v5M161 136v5M162 136v5M163 136v5M164 133v5M165 133v5M166 133v5M167 133v5M168 133v5M169 133v3M170 130v6M171 130v6M172 130v3M173 127v6M174 127v6M175 130v3M176 130v3M177 130v3M178 127v6M179 127v6M180 130v3M181 127v6M182 127v6M183 124v6M184 127v3M185 127v3M186 127v6M187 127v3M188 124v3M189 124v3M190 124v3M191 127v3M192 127v3M193 124v6M194 124v6M195 127v3M196 124v3M197 127v3M198 127v3M199 124v3M200 124v6M201 124v6M202 121v6M203 121v3M204 118v6M205 118v6M206 121v6M207 124v6M208 127v3M209 127v3M210 124v3M211 124v3M212 124v3M213 121v6M214 124v3M215 127v3M216 124v3M217 127v3M218 127v3M219 127v2M235 94v1M236 94v1M239 86v2M241 88v3M242 86v2M243 86v2M244 74v3M245 68v3M246 65v3M247 65v3M248 65v3M250 59v3M251 59v3M260 53v3M264 56v3M267 59v3M269 56v3M270 62v3M271 68v3M273 65v3M274 62v3M276 65v3M277 65v3M278 59v3M279 65v3M280 68v3M281 71v3M282 68v3M286 74v3M287 80v3M288 74v3M289 74v3M290 83v3M291 86v2M292 86v2M293 80v3M294 80v3M295 86v2M296 86v2M297 88v3M298 86v2M300 94v3M302 91v3M303 91v3M304 91v3M305 86v2M307 80v3M308 77v3M309 74v3M310 71v6M311 68v3M312 65v3M313 62v3M314 62v3M315 59v3M316 59v3M317 59v3M318 59v3M320 56v3M321 56v3M322 62v3M323 59v3M325 59v3M326 65v3M335 62v3M338 59v3M340 56v3M343 59v3M344 56v3M347 59v3M349 59v3M351 59v3M352 56v3M353 56v3M355 62v3M356 56v3M357 59v3M358 65v3M359 65v3M360 62v3M361 59v3M362 62v3M363 62v3M367 62v3M368 62v3M369 62v3M371 62v3M372 59v3M374 65v3M375 62v3M376 65v3M378 59v3M384 56v3M386 62v3M387 62v3M389 62v3M390 68v3M392 71v3M394 71v3M397 65v3M398 68v3M399 77v3M400 80v3M401 77v3M402 77v3M403 83v3M404 77v3M405 77v3M407 86v2M409 86v2M410 88v3M411 86v3M422 109v5M423 109v3M424 109v6M425 112v3M426 118v3M427 115v3M428 118v3M429 124v3M430 127v3M431 124v3M432 124v3M435 130v3M436 130v3M440 130v3M441 130v3M442 130v3M443 130v3M444 130v3M445 127v6M446 130v6M447 130v3M448 130v6M449 130v6M450 127v6M451 127v6M452 130v3M453 130v6M454 127v6M455 127v6M456 127v6M457 127v6M458 127v6M459 130v6M460 130v6M461 133v5M462 133v3M463 130v6M464 130v6M465 127v6M466 127v6M467 130v3M468 130v6M469 130v6M470 130v6M471 133v3M472 133v3M473 133v5M474 133v5M475 130v6M476 130v6M477 133v3M478 133v3M479 133v5M480 133v3M481 133v3M482 133v3M483 130v3M484 130v6M485 130v6M486 130v6M487 130v6M488 130v3M489 130v6M490 130v6M491 130v6M492 133v3M493 133v5M494 133v5M495 133v3M496 133v5M497 133v5M498 133v5M499 130v6M500 133v3M501 130v6M502 130v3M503 130v6M504 130v3M505 127v3M506 127v3M507 127v3M508 127v3M512 121v6M514 118v6M515 112v6M516 109v3M517 106v3M518 100v6M519 94v6M520 100v3M521 94v3M522 97v3M523 91v3M524 88v3M525 83v3M526 88v3M527 77v3M528 80v3M529 80v3M532 80v3M535 74v3M537 74v3M538 74v3M539 74v3M540 68v3M541 65v3M542 68v3M543 71v3"/>
<path stroke="#b40000" d="M89 88v1M90 88v3M91 91v2M93 88v3M94 88v3M95 88v3M96 91v3M97 83v3M98 86v2M100 91v3M112 121v3M113 121v3M114 118v3M115 121v3M116 127v3M117 127v3M118 130v3M119 127v3M120 127v6M121 130v3M122 133v3M124 130v6M125 133v3M126 133v3M127 130v6M128 133v5M129 133v5M130 133v5M131 133v3M132 133v5M133 136v2M134 136v2M135 136v2M136 136v2M137 136v5M138 138v6M139 138v3M140 136v5M141 138v3M142 136v5M143 138v3M144 138v3M145 138v3M146 138v3M147 136v5M148 138v3M149 138v6M150 138v6M151 138v3M152 138v6M153 138v3M154 138v3M155 138v6M156 141v3M157 138v6M158 138v6M159 141v6M160 141v6M161 141v3M162 141v3M163 141v6M164 138v6M165 138v3M166 138v3M167 138v3M168 138v3M169 136v5M170 136v5M171 136v5M172 133v5M173 133v5M174 133v5M175 133v5M176 133v5M177 133v5M178 133v5M179 133v5M180 133v5M181 133v5M182 133v3M183 130v6M184 130v6M185 130v6M186 133v3M187 130v6M188 127v6M189 127v6M190 127v6M191 130v6M192 130v6M193 130v3M194 130v3M195 130v3M196 127v6M197 130v3M198 130v3M199 127v6M200 130v3M201 130v3M202 127v3M203 124v6M204 124v3M205 124v3M206 127v3M207 130v3M208 130v3M209 130v3M210 127v6M211 127v9M212 127v9M213 127v6M214 127v9M215 130v8M216 127v11M217 130v7M218 130v3M238 91v3M239 88v3M240 94v3M241 91v3M242 88v3M243 88v3M244 77v3M245 71v3M246 68v3M249 65v3M255 59v3M256 56v3M257 56v3M258 56v3M265 62v3M268 59v3M271 71v3M272 59v3M273 68v3M274 65v3M275 65v6M276 68v3M277 68v3M278 62v3M279 68v3M280 71v3M281 74v3M282 71v3M286 77v4M288 77v3M289 77v3M290 86v2M291 88v3M293 83v3M294 83v3M295 88v3M296 88v3M297 91v3M298 88v3M299 94v3M300 97v3M301 97v3M302 94v3M304 94v3M305 88v3M306 83v5M307 83v3M308 80v3M309 77v3M310 77v3M311 71v3M312 68v3M315 62v3M316 62v3M317 62v3M318 62v3M319 56v3M320 59v3M321 59v3M322 65v3M323 62v3M324 62v3M325 62v3M326 68v3M327 65v6M328 65v3M329 62v3M330 59v3M331 62v3M332 59v3M333 59v3M334 62v3M335 65v3M336 65v3M337 62v3M338 62v3M339 62v3M340 59v3M341 56v3M342 59v3M343 62v3M344 59v3M345 59v3M346 59v3M347 62v3M348 59v3M349 62v3M350 65v6M351 62v3M353 59v3M354 59v3M358 68v3M359 68v3M360 65v3M364 65v3M365 65v3M366 62v3M370 68v3M373 62v3M374 68v3M375 65v3M376 68v2M377 62v3M378 62v1M381 56v3M383 59v3M385 62v3M386 65v3M387 65v3M388 65v3M391 74v3M393 65v3M395 71v3M396 68v3M397 68v3M398 71v3M399 80v3M400 83v3M401 80v3M402 80v3M403 86v2M405 80v3M406 83v3M408 86v2M409 88v3M410 91v2M423 112v6M424 115v3M425 115v6M426 121v3M427 118v6M428 121v6M429 127v3M430 130v3M431 127v3M432 127v3M433 130v6M434 130v6M435 133v5M436 133v5M440 133v5M441 133v5M442 133v5M443 133v5M444 133v5M445 133v5M446 136v2M447 133v5M448 136v5M449 136v2M450 133v5M451 133v5M452 133v5M453 136v5M454 133v5M455 133v5M456 133v5M457 133v5M458 133v5M459 136v2M460 136v5M461 138v3M462 136v5M463 136v5M464 136v2M465 133v5M466 133v5M467 133v5M468 136v2M469 136v5M470 136v5M471 136v5M472 136v5M473 138v3M474 138v3M475 136v5M476 136v5M477 136v5M478 136v5M479 138v3M480 136v5M481 136v5M482 136v5M483 133v5M484 136v5M485 136v5M486 136v5M487 136v2M488 133v5M489 136v5M490 136v5M491 136v5M492 136v5M493 138v6M494 138v6M495 136v5M496 138v6M497 138v3M498 138v3M499 136v5M500 136v5M501 136v5M502 133v5M503 136v5M504 133v5M505 130v6M506 130v6M507 130v6M508 130v6M512 127v3M514 124v3M515 118v6M516 112v6M517 109v6M518 106v6M519 100v6M520 103v6M521 97v6M522 100v3M523 94v3M524 91v3M525 86v2M526 91v3M527 80v6M528 83v3M529 83v3M530 86v2M531 86v2M533 74v3M534 83v3M535 77v3M536 74v3M538 77v3M539 77v3M540 71v3M541 68v3M542 71v3M543 74v3"/>
<path stroke="#fcfc06" d="M90 39v2M91 39v2M110 39v2M111 39v2M112 39v2M190 39v2M191 39v2M248 44v3M313 42v2M356 44v3M375 44v3M435 44v3M456 44v3M471 47v3M473 44v3M501 44v3"/>
<path stroke="#fc5a00" d="M90 59v3M92 62v3M103 56v3M104 59v3M109 59v3M110 56v3M111 59v3M113 56v3M114 53v3M115 53v3M117 59v3M119 56v3M120 56v3M123 59v3M126 56v3M127 53v3M129 56v3M130 53v3M131 53v3M132 53v3M136 50v3M137 50v3M138 53v3M139 50v3M140 47v3M141 47v3M142 47v3M143 47v3M144 47v3M145 47v3M146 47v3M148 47v3M149 47v3M150 47v3M151 41v3M152 39v2M152 47v3M155 47v3M156 39v5M156 47v3M157 47v3M158 41v9M159 39v11M160 41v9M161 39v2M161 47v3M162 50v3M163 53v3M165 50v3M167 53v3M170 53v3M171 53v3M172 53v3M174 53v3M176 56v3M177 56v3M181 56v3M182 56v3M184 56v3M185 56v3M186 59v3M191 59v3M196 56v3M197 59v3M201 59v3M202 56v3M206 56v3M207 59v3M209 59v3M210 56v3M211 56v3M213 53v3M219 56v3M222 56v3M227 53v3M235 50v3M241 50v3M273 50v3M280 50v3M313 47v3M320 47v3M321 47v3M348 47v3M380 44v3M402 50v3M420 59v3M423 56v3M424 56v3M425 56v3M430 68v3M432 59v3M433 65v3M435 65v3M436 65v3M443 59v3M445 56v3M447 56v3M448 59v3M452 56v3M459 56v3M462 62v3M468 56v3M473 65v3M474 62v3M479 65v3M486 59v3M487 56v3M492 59v3M493 65v3M496 68v3M500 59v3M505 56v3M507 59v3M512 56v3M513 56v3M514 56v3M524 50v3M526 50v3M529 50v3M532 50v3"/>
<path stroke="#fcde00" d="M92 41v3M98 41v3M99 41v3M102 39v2M120 44v3M127 41v3M133 44v3M184 44v3M190 44v3M191 44v3M193 44v3M194 44v3M207 44v3M208 44v3M209 44v3M210 44v3M240 44v3M241 44v3M280 44v3M281 44v3M282 44v3M308 44v3M309 42v5M315 44v3M318 44v3M319 44v3M322 44v3M323 44v3M331 44v3M365 47v3M371 44v3M422 47v3M426 47v3M436 47v3M444 47v3M462 47v3M468 47v3M479 47v3M494 47v3M496 47v3M504 47v3M522 39v5M523 39v5M524 39v2M528 39v5M529 41v3M530 39v2M532 39v2M533 39v2"/>
<path stroke="#ae0000" d="M93 91v3M94 91v3M95 91v3M96 94v3M98 88v3M99 94v3M100 94v4M112 124v3M113 124v6M114 121v6M115 124v6M116 130v6M117 130v6M118 133v5M119 130v8M120 133v5M121 133v8M122 136v5M124 136v5M125 136v5M126 136v5M127 136v5M128 138v3M129 138v3M130 138v3M131 136v5M132 138v3M133 138v6M134 138v6M135 138v6M136 138v6M137 141v3M138 144v3M139 141v6M140 141v3M141 141v6M142 141v6M143 141v6M144 141v6M145 141v6M146 141v6M147 141v3M148 141v6M149 144v3M150 144v3M151 141v6M152 144v3M153 141v6M154 141v6M155 144v6M156 144v6M157 144v6M158 144v6M159 147v3M160 147v6M161 144v6M162 144v6M163 147v6M164 144v6M165 141v6M166 141v6M167 141v6M168 141v6M169 141v6M170 141v3M171 141v3M172 138v6M173 138v6M174 138v6M175 138v6M176 138v6M177 138v6M178 138v6M179 138v3M180 138v6M181 138v6M182 136v5M183 136v5M184 136v5M185 136v5M186 136v5M187 136v5M188 133v5M189 133v5M190 133v5M192 136v5M193 133v8M194 133v5M195 133v8M196 133v5M197 133v8M198 133v8M199 133v5M200 133v5M201 133v5M202 130v8M203 130v6M204 127v9M205 127v9M206 130v8M207 133v8M208 133v8M209 133v8M210 133v8M211 136v8M212 136v8M213 133v11M214 136v11M215 138v7M216 138v3M238 94v3M240 97v3M241 94v3M242 91v3M243 91v3M244 80v3M245 74v3M246 71v3M247 68v6M248 68v3M249 68v3M250 62v3M251 62v3M255 62v3M256 59v3M257 59v3M258 59v3M259 56v3M261 56v3M262 59v3M263 59v3M264 59v3M265 65v3M266 62v6M267 62v3M268 62v3M269 59v3M270 65v6M271 74v3M272 62v3M273 71v3M274 68v3M275 71v3M276 71v3M277 71v3M279 71v3M280 74v3M282 74v3M288 80v3M289 80v3M290 88v1M292 88v4M293 86v2M294 86v2M295 91v3M296 91v3M297 94v3M299 97v2M301 100v1M302 97v3M303 94v3M304 97v3M305 91v3M306 88v3M307 86v2M308 83v5M309 80v3M310 80v3M311 74v3M312 71v3M313 65v6M314 65v6M315 65v3M316 65v3M317 65v3M318 65v3M319 59v3M320 62v3M321 62v3M322 68v3M323 65v3M324 65v3M325 65v3M326 71v3M327 71v3M328 68v6M329 65v3M330 62v3M331 65v3M332 62v3M333 62v3M334 65v6M335 68v3M336 68v6M337 65v3M339 65v3M341 59v3M342 62v3M343 65v3M344 62v3M345 62v3M346 62v3M348 62v3M349 65v3M350 71v3M352 59v3M354 62v3M355 65v3M356 59v3M357 62v3M359 71v3M361 62v3M362 65v3M363 65v3M364 68v3M367 65v3M368 65v3M369 65v3M370 71v3M371 65v3M372 62v3M377 65v2M382 59v3M383 62v3M384 59v3M385 65v3M386 68v3M387 68v3M388 68v3M389 65v3M390 71v3M391 77v3M392 74v3M393 68v3M394 74v6M395 74v3M396 71v3M397 71v3M398 74v3M399 83v3M400 86v2M402 83v3M404 80v3M406 86v2M407 88v3M408 88v3M409 91v3M423 118v4M424 118v6M425 121v6M426 124v6M427 124v3M428 127v3M429 130v3M430 133v3M431 130v6M432 130v6M433 136v5M434 136v5M435 138v6M436 138v6M440 138v6M441 138v6M442 138v6M443 138v6M444 138v6M445 138v6M446 138v6M447 138v6M448 141v3M449 138v6M450 138v6M451 138v6M452 138v6M453 141v3M454 138v6M455 138v6M456 138v6M457 138v6M458 138v6M459 138v6M460 141v3M461 141v6M462 141v6M463 141v3M464 138v6M465 138v6M466 138v6M467 138v6M468 138v6M469 141v3M470 141v3M471 141v6M472 141v6M473 141v6M474 141v6M475 141v3M476 141v3M477 141v6M478 141v6M479 141v6M480 141v6M481 141v6M482 141v6M483 138v6M484 141v3M485 141v3M486 141v6M487 138v6M488 138v6M489 141v3M490 141v6M491 141v3M492 141v6M493 144v3M494 144v3M495 141v6M496 144v6M497 141v6M498 141v6M499 141v3M500 141v6M501 141v6M502 138v6M503 141v6M504 138v6M505 136v5M506 136v5M507 136v8M508 136v5M512 130v8M514 127v6M515 124v3M516 118v6M517 115v6M518 112v6M519 106v6M520 109v6M521 103v6M522 103v6M523 97v6M524 94v6M525 88v3M526 94v3M527 86v2M528 86v2M529 86v5M530 88v6M531 88v3M532 83v3M533 77v3M534 86v2M536 77v3M537 77v3M540 74v3M543 77v3"/>
<path stroke="#a80000" d="M93 94v2M94 94v3M95 94v3M96 97v3M97 86v2M99 97v7M113 130v3M114 127v11M115 130v8M116 136v8M117 136v8M118 138v6M119 138v6M120 138v6M121 141v6M122 141v6M124 141v6M125 141v6M126 141v6M127 141v3M128 141v6M129 141v6M130 141v6M131 141v6M132 141v6M133 144v6M134 144v3M135 144v6M136 144v3M137 144v6M138 147v6M139 147v6M140 144v6M141 147v3M142 147v3M143 147v6M144 147v6M145 147v6M146 147v6M147 144v6M148 147v6M149 147v6M150 147v6M151 147v6M152 147v6M153 147v6M154 147v6M155 150v6M156 150v6M157 150v6M158 150v6M159 150v9M160 153v6M161 150v6M162 150v6M163 153v6M164 150v6M165 147v6M166 147v6M167 147v6M168 147v6M169 147v6M170 144v9M171 144v6M172 144v6M173 144v6M174 144v6M175 144v6M176 144v6M177 144v6M178 144v3M179 141v6M180 144v6M181 144v3M182 141v6M183 141v6M184 141v6M185 141v6M186 141v6M187 141v6M188 138v6M189 138v6M190 138v6M192 141v6M193 141v6M194 138v9M195 141v6M196 138v6M197 141v6M198 141v6M199 138v9M200 138v4M201 138v9M202 138v1M203 136v8M204 136v5M205 136v5M206 138v6M207 141v6M208 141v9M209 141v9M210 141v9M211 144v9M212 144v9M213 144v8M214 147v1M239 91v6M241 97v3M242 94v3M243 94v3M244 83v3M245 77v3M246 74v3M247 74v3M248 71v6M249 71v3M250 65v3M251 65v3M255 65v3M256 62v3M257 62v3M258 62v3M259 59v3M260 56v3M261 59v3M262 62v6M263 62v6M264 62v3M265 68v3M266 68v3M267 65v6M268 65v3M269 62v3M270 71v3M271 77v3M272 65v3M273 74v3M274 71v3M275 74v3M276 74v3M277 74v3M278 65v3M279 74v3M280 77v3M281 77v6M282 77v6M288 83v2M289 83v3M293 88v5M294 88v3M295 94v2M296 94v3M297 97v1M298 91v3M302 100v2M303 97v3M304 100v3M305 94v3M306 91v3M307 88v3M308 88v3M309 83v5M310 83v3M311 77v6M312 74v3M313 71v3M314 71v3M315 68v3M316 68v6M317 68v6M318 68v3M319 62v3M320 65v3M321 65v3M322 71v6M323 68v3M324 68v6M325 68v3M326 74v3M327 74v3M328 74v3M329 68v3M330 65v3M331 68v3M332 65v3M333 65v3M334 71v3M335 71v3M336 74v3M337 68v6M338 65v3M339 68v3M340 62v3M341 62v3M342 65v3M345 65v3M346 65v3M347 65v3M349 68v3M350 74v3M351 65v3M352 62v3M353 62v3M354 65v3M355 68v3M356 62v3M357 65v3M358 71v3M359 74v3M360 68v6M361 65v3M362 68v3M363 68v6M364 71v6M365 68v6M366 65v6M367 68v6M368 68v6M369 68v6M370 74v6M371 68v6M372 65v6M373 65v6M374 71v5M375 68v5M381 59v2M382 62v3M383 65v3M384 62v3M385 68v3M386 71v2M388 71v3M389 68v3M390 74v3M391 80v3M392 77v6M393 71v3M394 80v3M395 77v6M396 74v3M397 74v3M398 77v3M399 86v2M400 88v3M401 83v3M403 88v3M404 83v3M405 83v5M406 88v3M407 91v3M408 91v3M409 94v2M424 124v6M425 127v6M426 130v6M427 127v9M428 130v8M429 133v8M430 136v8M431 136v5M432 136v8M433 141v6M434 141v6M435 144v6M436 144v6M440 144v6M441 144v6M442 144v6M443 144v6M444 144v3M445 144v3M446 144v6M447 144v6M448 144v6M449 144v6M450 144v3M451 144v3M452 144v6M453 144v6M454 144v3M455 144v3M456 144v3M457 144v3M458 144v6M459 144v6M460 144v6M461 147v6M462 147v6M463 144v6M464 144v6M465 144v3M466 144v3M467 144v6M468 144v6M469 144v6M470 144v6M471 147v6M472 147v3M473 147v6M474 147v6M475 144v6M476 144v6M477 147v6M478 147v3M479 147v6M480 147v6M481 147v3M482 147v6M483 144v6M484 144v6M485 144v6M486 147v3M487 144v6M488 144v6M489 144v6M490 147v3M491 144v6M492 147v3M493 147v6M494 147v6M495 147v6M496 150v3M497 147v6M498 147v6M499 144v6M500 147v3M501 147v3M502 144v6M503 147v3M504 144v6M505 141v6M506 141v6M507 144v6M508 141v6M509 144v1M512 138v2M513 137v2M514 133v4M515 127v8M516 124v9M517 121v6M518 118v6M519 112v9M520 115v6M521 109v6M522 109v6M523 103v6M524 100v6M525 91v9M526 97v5M527 88v3M528 88v6M529 91v3M530 94v3M531 91v3M532 86v2M533 80v3M535 80v3M537 80v3M538 80v3M539 80v3M541 71v3M542 74v3M543 80v2"/>
<path stroke="#fcfc00" d="M95 39v2M96 41v3M103 39v2M114 41v3M115 41v3M138 39v2M179 41v3M180 41v3M184 41v3M187 39v2M192 41v3M198 44v3M201 44v3M204 44v3M205 44v3M208 41v3M211 44v3M228 44v3M236 44v3M267 44v3M300 44v3M303 44v3M305 44v3M306 44v3M307 42v2M312 44v3M314 42v2M320 42v2M321 42v2M324 42v2M325 42v2M326 44v3M330 42v2M331 42v2M334 44v3M350 44v3M351 44v3M354 44v3M368 44v3M384 39v5M391 44v3M408 44v3M440 44v3M453 44v3M455 39v8M458 39v5M461 39v8M503 47v3M507 44v3M520 41v3"/>
<path stroke="#fcea00" d="M95 41v3M97 41v3M98 39v2M99 39v2M107 41v3M134 44v3M185 44v3M202 44v3M203 44v3M251 44v3M262 41v3M263 41v3M289 44v3M301 44v3M310 42v2M314 44v3M319 42v2M324 44v3M338 44v3M339 44v3M364 47v3M369 44v3M370 44v3M411 44v3M412 44v3M413 44v3M414 44v3M415 44v3M419 44v3M420 44v3M430 47v3M433 44v3M434 44v3M447 39v8M459 39v5M460 39v8M484 44v3M499 44v3M500 44v3M521 39v5"/>
<path stroke="#a20000" d="M95 97v2M97 88v6M98 91v9M114 138v1M115 138v7M116 144v6M117 144v9M118 144v9M119 144v9M120 144v9M121 147v6M122 147v9M124 147v6M125 147v6M126 147v6M127 144v9M128 147v6M129 147v9M130 147v6M131 147v6M132 147v6M133 150v6M134 147v9M135 150v6M136 147v9M137 150v9M138 153v6M139 153v6M140 150v9M141 150v9M142 150v9M143 153v6M144 153v6M145 153v6M146 153v6M147 150v9M148 153v6M149 153v9M150 153v9M151 153v6M152 153v9M153 153v9M154 153v9M155 156v6M156 156v9M157 156v6M158 156v6M159 159v6M160 159v6M161 156v9M162 156v9M163 159v6M164 156v6M165 153v9M166 153v9M167 153v9M168 153v9M169 153v9M170 153v6M171 150v9M172 150v9M173 150v6M174 150v6M175 150v9M176 150v9M177 150v9M178 147v9M179 147v9M180 150v9M181 147v9M182 147v9M183 147v6M184 147v9M185 147v6M186 147v9M187 147v9M188 144v9M189 144v9M190 144v9M192 147v6M193 147v6M194 147v6M195 147v6M196 144v9M197 147v6M198 147v6M199 147v6M201 147v6M203 144v6M204 141v9M205 141v9M206 144v9M207 147v9M208 150v9M209 150v12M210 150v12M211 153v6M212 153v3M239 97v2M242 97v3M243 97v3M244 86v5M245 80v3M246 77v3M247 77v6M248 77v6M249 74v9M250 68v6M251 68v6M255 68v3M256 65v3M257 65v3M258 65v3M259 62v3M260 59v3M261 62v3M262 68v1M263 68v2M264 65v3M265 71v3M266 71v3M267 71v3M268 68v3M269 65v3M270 74v1M271 80v3M272 68v3M273 77v6M274 74v6M275 77v6M276 77v6M277 77v6M278 68v6M279 77v6M280 80v6M281 83v5M282 83v5M289 86v1M294 91v4M298 94v5M303 100v3M304 103v1M305 97v6M306 94v3M307 91v6M308 91v6M309 88v6M310 86v5M311 83v5M312 77v6M313 74v6M314 74v6M315 71v6M316 74v6M317 74v6M318 71v9M319 65v3M320 68v3M321 68v6M322 77v6M323 71v9M324 74v6M325 71v6M326 77v9M327 77v9M328 77v6M329 71v9M330 68v9M331 71v9M332 68v9M333 68v9M334 74v6M335 74v6M336 77v3M337 74v6M338 68v9M339 71v9M340 65v6M341 65v6M342 68v6M343 68v9M344 65v6M345 68v6M346 68v6M347 68v9M348 65v6M349 71v6M350 77v3M351 68v6M352 65v3M353 65v6M354 68v6M355 71v9M356 65v6M357 68v6M358 74v6M359 77v3M360 74v6M361 68v6M362 71v9M363 74v6M364 77v3M365 74v6M366 71v6M367 74v6M368 74v6M369 74v6M371 74v5M372 71v6M373 71v6M382 65v3M383 68v1M384 65v3M385 71v1M387 71v4M388 74v3M389 71v6M390 77v4M392 83v2M393 74v6M394 83v3M395 83v3M396 77v3M397 77v3M398 80v3M399 88v3M400 91v3M401 86v5M402 86v8M403 91v6M404 86v5M405 88v6M406 91v6M407 94v5M408 94v4M425 133v4M426 136v5M427 136v5M428 138v6M429 141v6M430 144v6M431 141v9M432 144v6M433 147v6M434 147v9M435 150v6M436 150v9M440 150v9M441 150v9M442 150v9M443 150v6M444 147v9M445 147v9M446 150v9M447 150v6M448 150v9M449 150v9M450 147v9M451 147v9M452 150v6M453 150v9M454 147v9M455 147v9M456 147v9M457 147v9M458 150v6M459 150v6M460 150v9M461 153v9M462 153v6M463 150v9M464 150v9M465 147v9M466 147v9M467 150v6M468 150v6M469 150v9M470 150v9M471 153v6M472 150v9M473 153v9M474 153v6M475 150v9M476 150v9M477 153v6M478 150v9M479 153v9M480 153v6M481 150v9M482 153v6M483 150v6M484 150v9M485 150v9M486 150v9M487 150v6M488 150v6M489 150v9M490 150v9M491 150v9M492 150v9M493 153v9M494 153v9M495 153v6M496 153v9M497 153v9M498 153v9M499 150v9M500 150v9M501 150v9M502 150v9M503 150v9M504 150v9M505 147v12M506 147v9M517 127v3M518 124v4M519 121v4M521 115v3M523 109v2M524 106v2M525 100v5M527 91v9M528 94v5M529 94v4M530 97v1M531 94v3M532 88v6M533 83v5M534 88v6M535 83v5M536 80v6M537 83v3M538 83v3M539 83v3M540 77v3M541 74v3M542 77v3"/>
<path stroke="#f6fc0c" d="M96 39v2M109 39v2M117 41v3M181 41v3M183 41v3M185 41v3M186 41v3M226 44v3M238 44v3M283 41v1M293 44v3M442 39v5M445 44v3M457 39v5"/>
<path stroke="#fcf600" d="M97 39v2M104 41v3M111 41v3M112 41v3M113 41v3M116 41v3M119 44v3M121 44v3M131 41v3M178 39v2M187 41v3M188 41v3M191 41v3M197 44v3M242 44v3M244 44v3M259 44v3M311 44v3M313 44v3M315 42v2M322 42v2M348 44v3M349 44v3M353 44v3M376 39v5M441 44v3M446 39v5M448 39v8M454 39v5M457 44v3M482 44v3M483 44v3M485 44v3M516 44v3"/>
<path stroke="#9c0000" d="M97 94v7M98 100v3M116 150v1M117 153v4M118 153v10M119 153v12M120 153v9M121 153v12M122 156v9M124 153v9M125 153v12M126 153v12M127 153v9M128 153v5M129 156v9M130 153v9M131 153v9M132 153v9M133 156v9M134 156v5M135 156v9M136 156v9M137 159v6M138 159v9M139 159v9M140 159v6M141 159v9M142 159v6M143 159v9M144 159v9M145 159v9M146 159v9M147 159v6M148 159v9M149 162v6M150 162v6M151 159v9M152 162v6M153 162v6M154 162v6M155 162v6M156 165v6M157 162v9M158 162v9M159 165v6M160 165v6M161 165v6M162 165v6M163 165v6M164 162v9M165 162v6M166 162v6M167 162v6M168 162v6M169 162v6M170 159v9M171 159v6M172 159v6M173 156v9M174 156v9M175 159v6M176 159v6M177 159v6M178 156v9M179 156v9M180 159v6M181 156v9M182 156v9M183 153v9M184 156v9M185 153v9M186 156v9M187 156v9M188 153v9M189 153v9M190 153v9M192 153v12M193 153v9M194 153v9M195 153v12M196 153v9M197 153v12M198 153v12M199 153v9M201 153v12M203 150v12M204 150v9M205 150v9M206 153v12M207 156v12M208 159v12M209 162v11M210 162v1M244 91v6M245 83v8M246 80v8M247 83v5M248 83v5M249 83v5M250 74v9M251 74v9M255 71v6M256 68v6M257 68v5M258 68v3M259 65v4M260 62v6M261 65v3M264 68v4M266 74v1M267 74v3M268 71v8M269 68v13M271 83v1M272 71v15M273 83v5M274 80v10M275 83v8M276 83v11M277 83v11M278 74v12M279 83v8M280 86v8M281 88v9M282 88v9M305 103v2M306 97v9M307 97v6M308 97v3M309 94v3M310 91v6M311 88v6M312 83v8M313 80v8M314 80v8M315 77v6M316 80v6M317 80v6M318 80v6M319 68v6M320 71v6M321 74v6M322 83v5M323 80v6M324 80v6M325 77v9M326 86v2M327 86v1M328 83v3M329 80v5M330 77v7M331 80v3M332 77v5M333 77v4M338 77v3M340 71v9M341 71v6M342 74v6M343 77v3M344 71v9M345 74v6M346 74v6M347 77v3M348 71v9M349 77v3M351 74v6M352 68v9M353 71v6M354 74v6M356 71v6M357 74v6M361 74v6M366 77v3M372 77v1M384 68v2M389 77v2M393 80v6M394 86v2M395 86v3M396 80v11M397 80v12M398 83v10M399 91v3M400 94v1M401 91v5M402 94v3M404 91v7M405 94v4M406 97v2M427 141v4M428 144v6M429 147v8M430 150v10M431 150v9M432 150v12M433 153v12M434 156v9M435 156v12M436 159v9M440 159v6M441 159v6M442 159v6M443 156v9M444 156v9M445 156v2M446 159v6M447 156v9M448 159v9M449 159v6M450 156v9M451 156v9M452 156v9M453 159v9M454 156v9M455 156v9M456 156v9M457 156v9M458 156v9M459 156v9M460 159v6M461 162v6M462 159v9M463 159v9M464 159v6M465 156v9M466 156v9M467 156v9M468 156v9M469 159v9M470 159v6M471 159v9M472 159v9M473 162v6M474 159v9M475 159v9M476 159v6M477 159v9M478 159v9M479 162v6M480 159v9M481 159v9M482 159v9M483 156v9M484 159v9M485 159v9M486 159v9M487 156v9M488 156v9M489 159v9M490 159v9M491 159v9M492 159v9M493 162v6M494 162v9M495 159v9M496 162v9M497 162v6M498 162v6M499 159v9M500 159v9M501 159v9M502 159v9M503 159v12M504 159v8M505 159v3M532 94v2M533 88v6M535 88v5M536 86v5M537 86v4M538 86v3M539 86v2M540 80v6M541 77v6M542 80v4"/>
<path stroke="#fc2a00" d="M99 65v3M100 62v3M102 65v3M104 74v3M105 65v3M106 68v3M107 71v3M108 68v3M109 74v3M110 71v3M111 77v3M112 74v3M113 71v3M114 65v3M116 77v3M117 77v3M118 80v3M119 74v3M120 74v3M121 77v3M122 80v3M123 77v3M124 71v6M125 77v3M126 77v3M127 68v3M128 74v3M129 74v3M130 71v3M131 68v3M132 68v6M133 74v6M134 71v3M135 71v6M136 68v6M137 74v6M138 83v3M139 77v6M140 71v6M141 74v6M142 71v6M143 74v3M144 77v3M145 74v6M146 74v6M147 68v3M148 71v6M149 77v3M150 74v6M151 71v6M152 74v6M153 74v3M154 74v3M155 77v3M156 83v3M157 77v6M158 80v3M159 83v3M160 86v2M161 80v6M162 83v3M163 86v2M164 80v3M165 74v3M166 74v3M167 74v6M168 77v3M169 74v6M170 68v6M171 68v6M172 68v3M173 65v3M174 65v6M175 68v6M176 71v3M177 71v3M178 68v3M179 68v3M180 74v3M181 68v3M182 68v3M184 68v3M186 71v3M187 68v3M188 65v3M190 65v3M193 68v3M194 68v3M197 71v3M204 62v3M208 74v3M209 74v3M210 68v3M211 68v6M212 68v3M213 65v3M214 68v3M215 71v3M216 68v3M217 71v3M218 71v3M219 74v6M220 77v3M222 74v6M223 74v3M224 74v3M225 71v3M226 74v3M227 71v3M228 74v6M229 71v3M230 65v3M231 62v3M233 65v3M234 59v3M235 56v3M236 56v3M244 50v3M260 47v3M290 59v3M298 56v3M300 62v3M303 56v3M304 56v3M305 53v3M307 50v3M334 50v3M337 50v3M386 50v3M396 50v3M397 50v3M400 56v3M407 59v3M408 59v3M414 68v3M415 65v3M420 68v3M424 65v3M425 65v3M426 74v3M427 68v3M428 71v3M429 80v3M430 86v2M431 77v3M432 77v3M433 86v2M434 86v2M435 91v3M436 91v3M440 88v3M441 88v3M442 88v3M443 86v2M444 83v3M445 83v3M446 88v3M447 83v3M448 88v3M449 86v2M450 80v3M451 80v3M452 83v3M453 88v3M454 80v3M455 80v3M456 80v3M457 80v3M458 80v6M459 83v3M460 86v2M461 94v3M462 91v6M463 88v3M464 83v5M465 80v3M466 77v6M467 80v3M468 83v3M469 86v5M470 86v2M471 88v6M472 88v3M473 94v3M474 91v3M475 86v2M476 86v2M477 88v3M478 88v3M479 94v3M480 88v3M481 88v3M482 88v3M483 77v6M484 86v2M485 83v5M486 86v5M487 80v3M488 77v6M489 83v5M490 83v5M491 83v3M492 86v2M493 91v3M494 91v3M495 86v2M496 91v6M497 88v3M498 88v3M499 80v6M500 83v5M501 83v3M502 77v6M503 83v3M504 77v3M505 71v6M506 71v6M507 77v3M508 71v3M512 68v3M513 68v3M514 68v3M518 59v3M520 62v3M522 62v3M523 59v3M525 56v3M530 59v3M531 59v3M540 53v3M542 53v3"/>
<path stroke="#eafc12" d="M104 39v2M185 39v2M199 44v3M277 41v3M298 44v3M299 44v3M326 42v2M443 39v8M462 39v5M470 47v3M519 41v3"/>
<path stroke="#eafc18" d="M105 39v2M106 39v2M179 39v2M220 44v3M230 41v3M231 41v3M278 41v3M302 42v2M306 42v2M387 44v3M388 44v3M444 44v3M452 44v3M463 44v3"/>
<path stroke="#e4fc18" d="M107 39v2M124 44v3M180 39v2M182 41v3M183 39v2M194 41v3M195 41v3M219 44v3M329 42v2M389 44v3M444 39v5M450 44v3M452 39v5M511 44v1"/>
<path stroke="#f0fc0c" d="M108 39v2M184 39v2M189 39v2M192 39v2M193 41v3M225 44v3M252 44v1M256 44v3M257 44v3M300 42v2M301 42v2M355 44v3M385 41v3M390 44v3M445 39v5M449 39v5M456 39v5M462 44v3"/>
<path stroke="#f6fc06" d="M113 39v2M126 41v3M188 39v2M207 41v3M209 41v3M286 44v3M304 44v3M311 42v2M329 44v3M386 44v3M424 44v3M441 39v5M442 44v3M449 44v3M453 39v5M515 44v3M520 39v2"/>
<path stroke="#defc1e" d="M114 39v2M181 39v2M196 41v3M327 44v3M328 44v3M392 44v3M428 44v3M451 44v3M464 44v3M513 44v3M518 41v3"/>
<path stroke="#d2fc30" d="M115 39v2M195 39v2M198 41v3M253 44v1M518 39v2"/>
<path stroke="#d2fc2a" d="M116 39v2M117 39v2M334 42v2M386 39v2M465 39v5"/>
<path stroke="#aefc4e" d="M118 39v2M213 44v3M367 44v3M472 44v3M506 44v3M515 41v3"/>
<path stroke="#ccfc30" d="M118 41v3M196 39v2M229 41v3M496 44v3M517 41v3"/>
<path stroke="#90fc6c" d="M119 39v2M393 41v3M438 39v1M491 44v3"/>
<path stroke="#bafc48" d="M119 41v3M136 39v2M199 39v2M200 39v2M201 39v2M203 41v3M217 44v3M291 44v3M299 42v2M492 44v3"/>
<path stroke="#960000" d="M119 165v4M120 162v12M121 165v9M122 165v9M124 162v12M125 165v9M126 165v9M127 162v9M129 165v9M130 162v12M131 162v9M132 162v9M133 165v9M135 165v9M136 165v9M137 165v9M138 168v9M139 168v9M140 165v9M141 168v6M142 165v9M143 168v6M144 168v6M145 168v6M146 168v6M147 165v9M148 168v6M149 168v9M150 168v6M151 168v6M152 168v6M153 168v6M154 168v6M155 168v9M156 171v6M157 171v6M158 171v6M159 171v6M160 171v9M161 171v6M162 171v6M163 171v9M164 171v6M165 168v6M166 168v6M167 168v9M168 168v9M169 168v9M170 168v6M171 165v9M172 165v9M173 165v6M174 165v9M175 165v9M176 165v9M177 165v9M178 165v9M179 165v9M180 165v9M181 165v9M182 165v9M183 162v9M184 165v9M185 162v12M186 165v9M187 165v9M188 162v9M189 162v9M190 162v9M192 165v9M193 162v12M194 162v12M195 165v9M196 162v5M197 165v9M198 165v9M199 162v12M201 165v9M203 162v9M204 159v12M205 159v12M206 165v9M207 168v12M208 171v10M244 97v1M245 91v5M246 88v6M247 88v4M248 88v3M249 88v1M250 83v4M251 83v3M256 74v1M275 91v2M276 94v1M277 94v3M278 86v13M279 91v10M280 94v7M281 97v4M282 97v4M307 103v4M308 100v8M309 97v11M310 97v9M311 94v11M312 91v12M313 88v12M314 88v12M315 83v16M316 86v11M317 86v10M318 86v9M319 74v14M320 77v14M321 80v13M322 88v4M323 86v5M324 86v4M325 86v3M341 77v3M352 77v3M353 77v3M356 77v3M393 86v1M431 159v6M432 162v9M433 165v9M434 165v9M435 168v9M436 168v9M440 165v9M441 165v9M442 165v9M443 165v9M444 165v9M446 165v9M447 165v9M448 168v6M449 165v2M450 165v6M451 165v6M452 165v9M453 168v6M454 165v6M455 165v6M456 165v9M457 165v6M458 165v9M459 165v9M460 165v9M461 168v9M462 168v9M463 168v6M464 165v9M465 165v6M466 165v6M467 165v9M468 165v9M469 168v6M470 165v9M471 168v9M472 168v9M473 168v9M474 168v9M475 168v6M476 165v9M477 168v9M478 168v9M479 168v9M480 168v9M481 168v9M482 168v9M483 165v9M484 168v6M485 168v6M486 168v9M487 165v9M488 165v9M489 168v6M490 168v6M491 168v6M492 168v9M493 168v9M494 171v6M495 168v9M496 171v6M497 168v9M498 168v9M499 168v6M500 168v9M501 168v9M502 168v7M533 94v1M541 83v2"/>
<path stroke="#8afc72" d="M120 39v2M121 39v2M279 41v3M373 39v5M393 39v2"/>
<path stroke="#c0fc42" d="M120 41v3M210 41v3M234 44v3M343 44v3M390 39v2M467 39v5M474 44v3M481 44v3"/>
<path stroke="#900000" d="M120 174v1M121 174v7M122 174v7M124 174v7M125 174v7M126 174v7M127 171v10M129 174v7M130 174v7M131 171v10M132 171v10M133 174v7M135 174v7M136 174v7M137 174v7M138 177v4M139 177v4M140 174v7M141 174v7M142 174v7M143 174v7M144 174v7M145 174v7M146 174v7M147 174v7M148 174v7M149 177v4M150 174v7M151 174v7M152 174v7M153 174v7M154 174v7M155 177v4M156 177v4M157 177v4M158 177v4M159 177v4M160 180v1M161 177v4M162 177v4M163 180v1M164 177v4M165 174v7M166 174v7M167 177v4M168 177v4M169 177v4M170 174v7M171 174v7M172 174v7M173 171v10M174 174v7M175 174v7M176 174v7M177 174v7M178 174v7M179 174v7M180 174v7M181 174v7M182 174v7M183 171v10M184 174v7M185 174v7M186 174v7M187 174v7M188 171v10M189 171v10M190 171v10M192 174v7M193 174v7M194 174v7M195 174v7M197 174v7M198 174v7M199 174v7M201 174v7M203 171v10M204 171v10M205 171v10M206 174v7M207 180v1M313 100v1M319 88v6M320 91v2M432 171v10M433 174v7M434 174v7M435 177v4M436 177v4M440 174v7M441 174v7M442 174v7M443 174v7M444 174v7M446 174v7M447 174v7M448 174v7M450 171v10M451 171v10M452 174v7M453 174v7M454 171v10M455 171v10M456 174v7M457 171v10M458 174v7M459 174v7M460 174v7M461 177v4M462 177v4M463 174v7M464 174v7M465 171v10M466 171v10M467 174v7M468 174v7M469 174v7M470 174v7M471 177v4M472 177v4M473 177v4M474 177v4M475 174v7M476 174v7M477 177v4M478 177v4M479 177v4M480 177v4M481 177v4M482 177v4M483 174v7M484 174v7M485 174v7M486 177v4M487 174v7M488 174v7M489 174v7M490 174v7M491 174v7M492 177v4M493 177v4M494 177v4M495 177v4M496 177v4M497 177v4M498 177v4M499 174v7M500 177v4M501 177v2"/>
<path stroke="#b4fc48" d="M121 41v3M215 44v3M224 44v3M338 42v2M391 39v2M510 44v1"/>
<path stroke="#7efc84" d="M122 39v2M298 42v2M430 44v3M437 39v1M498 44v3"/>
<path stroke="#9cfc66" d="M122 41v3M133 41v3M260 41v3M266 41v3M297 44v3M403 44v3"/>
<path stroke="#defc24" d="M122 44v3M137 39v2M193 39v2M227 44v3M264 41v3M292 44v3M450 39v5M465 44v3M466 44v3M512 44v3"/>
<path stroke="#54fca8" d="M123 39v2M134 39v2M214 39v2M215 39v2M217 41v3M434 41v3M470 39v5M471 39v5"/>
<path stroke="#78fc8a" d="M123 41v3M204 39v2M206 39v2M272 41v3M340 42v2M366 44v3M402 44v3M426 44v3M469 39v5"/>
<path stroke="#c0fc3c" d="M123 44v3M218 44v3M294 44v3M337 42v2M374 39v5M387 39v2M388 39v2M389 39v2M390 41v3M394 44v3M416 44v3M476 44v3M516 41v3M517 39v2"/>
<path stroke="#fcfcfc" d="M123 101v80M128 158v23M134 161v20M191 136v45M196 167v14M200 142v39M202 139v42M221 70v42M253 45v38M270 75v7M284 42v48M292 39v3M293 39v3M294 39v3M296 39v3M297 39v3M299 39v3M300 39v3M301 39v3M302 39v3M303 39v3M304 39v3M305 39v3M306 39v3M307 39v3M308 39v3M310 39v3M311 39v3M313 39v3M314 39v3M315 39v3M316 39v3M318 39v3M319 39v3M320 39v3M322 39v3M323 39v3M325 39v3M326 39v3M327 39v3M328 39v3M329 39v3M330 39v3M331 39v3M332 39v3M333 39v3M334 39v3M335 39v3M336 39v3M337 39v3M338 39v3M339 39v3M342 39v3M343 39v3M344 39v3M345 39v3M346 39v3M347 39v3M349 39v3M351 39v3M353 39v3M355 39v3M357 39v3M358 39v3M359 39v3M360 39v3M361 39v3M362 39v3M438 40v141M445 158v23M449 167v14M510 45v98M513 117v20"/>
<path stroke="#3cfcc0" d="M124 39v2M217 39v2M221 41v3M222 41v3M348 42v2M512 39v2"/>
<path stroke="#72fc8a" d="M124 41v3M211 39v2M212 39v2M213 41v3M296 44v3M341 42v2M394 39v2M435 39v2"/>
<path stroke="#2afcd8" d="M125 39v2M131 39v2M222 39v2M237 41v3M404 39v2M489 44v3"/>
<path stroke="#9cfc60" d="M125 41v3M209 39v2M404 44v3M468 39v5M493 44v3M514 41v3"/>
<path stroke="#1efcde" d="M126 39v2M129 39v2M220 39v2M221 39v2M352 42v2M400 39v2M401 41v3M405 41v3M480 44v3"/>
<path stroke="#30fcd2" d="M127 39v2M225 39v2M271 41v3M403 41v3"/>
<path stroke="#36fccc" d="M128 39v2M223 39v2M234 41v3M262 39v2M347 42v2M363 44v3M399 41v3"/>
<path stroke="#12fcea" d="M130 39v2M294 42v2M422 44v3M432 41v3"/>
<path stroke="#48fcba" d="M132 39v2M219 41v3M223 41v3M273 41v3"/>
<path stroke="#bafc42" d="M132 41v3M135 41v3M208 39v2M216 44v3M347 44v3M391 41v3M439 39v1M516 39v2"/>
<path stroke="#4efcae" d="M133 39v2M220 41v3M227 41v3M235 41v3M265 39v2M266 39v2M267 41v3M296 42v2M398 41v3"/>
<path stroke="#96fc6c" d="M134 41v3M211 41v3M222 44v3M339 42v2M407 44v3M475 44v3"/>
<path stroke="#84fc78" d="M135 39v2M212 41v3M436 39v5M469 44v3"/>
<path stroke="#e4fc1e" d="M136 41v3M243 44v3M249 44v3M269 44v3M303 42v2M304 42v2M305 42v2M374 44v3M375 39v5M463 39v5M477 44v3M514 44v3M519 39v2"/>
<path stroke="#d8fc2a" d="M182 39v2M386 41v3M398 44v3M466 39v5M495 44v3"/>
<path stroke="#f0fc12" d="M186 39v2M200 44v3M237 44v3M282 41v3M312 42v2M332 42v2M385 39v2M432 44v3M440 39v5"/>
<path stroke="#ccfc36" d="M194 39v2M197 39v2M201 41v3M202 41v3M335 42v2M373 44v3M395 44v3M397 44v3"/>
<path stroke="#d8fc24" d="M197 41v3M268 44v3M333 42v2M451 39v5M464 39v5"/>
<path stroke="#c6fc3c" d="M198 39v2M199 41v3M200 41v3M336 42v2M340 44v3M387 41v3M388 41v3M389 41v3M393 44v3M467 44v3"/>
<path stroke="#aefc54" d="M202 39v2M206 41v3M254 44v1M399 44v3"/>
<path stroke="#96fc66" d="M203 39v2M204 41v3M223 44v3M240 41v3M284 41v1M427 44v3M514 39v2"/>
<path stroke="#6cfc96" d="M205 39v2M232 41v3M346 44v3M395 41v3M471 44v3"/>
<path stroke="#90fc72" d="M205 41v3M344 44v3M513 41v3"/>
<path stroke="#a2fc60" d="M207 39v2M341 44v3M357 44v3"/>
<path stroke="#78fc84" d="M210 39v2M275 41v3M394 41v3M406 44v3M435 41v3"/>
<path stroke="#c6fc36" d="M212 44v3M258 44v3M290 44v3M327 42v2M328 42v2M396 44v3M436 44v3"/>
<path stroke="#66fc96" d="M213 39v2M215 41v3M216 41v3M509 44v1"/>
<path stroke="#66fc9c" d="M214 41v3M343 42v2M371 39v5M372 39v5M396 41v3"/>
<path stroke="#a8fc54" d="M214 44v3M265 41v3M276 41v3M392 41v3M431 44v3M468 44v3M515 39v2"/>
<path stroke="#54fcae" d="M216 39v2M230 39v2M365 44v3M369 39v5M397 39v2"/>
<path stroke="#1efce4" d="M218 39v2M233 39v2M351 42v2M362 44v3M402 41v3"/>
<path stroke="#42fcc0" d="M218 41v3M344 42v2"/>
<path stroke="#18fcea" d="M219 39v2M402 39v2M474 39v5M475 39v5M487 44v3"/>
<path stroke="#b4fc4e" d="M221 44v3M342 44v3M417 44v3M425 44v3"/>
<path stroke="#30fccc" d="M224 39v2M232 39v2M239 41v3M365 39v5M404 41v3M433 41v3M473 39v5"/>
<path stroke="#4efcb4" d="M224 41v3M434 39v2M486 44v3"/>
<path stroke="#5afca2" d="M225 41v3M226 41v3M228 41v3M288 41v3M396 39v2M397 41v3"/>
<path stroke="#2afcd2" d="M226 39v2M259 41v3M345 42v2M346 42v2M350 42v2M399 39v2M479 44v3"/>
<path stroke="#24fcd8" d="M227 39v2M400 41v3M403 39v2M433 39v2"/>
<path stroke="#24fcde" d="M228 39v2"/>
<path stroke="#36fcc6" d="M229 39v2M233 41v3M295 42v2M349 42v2M364 44v3M497 44v3"/>
<path stroke="#48fcb4" d="M231 39v2M263 39v2M264 39v2M367 39v5M368 39v5"/>
<path stroke="#a2fc5a" d="M233 44v3M255 44v3M392 39v2M429 44v3M478 44v3M508 44v3"/>
<path stroke="#0cfcf0" d="M234 39v2M235 39v2M274 41v3M280 41v3M431 41v3M432 39v2"/>
<path stroke="#00fcfc" d="M236 39v2M258 41v3M261 39v2M267 39v2M293 42v2M312 39v3M353 42v2M406 39v2M428 39v5M429 39v2M504 44v3"/>
<path stroke="#42fcba" d="M236 41v3M281 41v3M366 39v5M398 39v2M512 41v3"/>
<path stroke="#00eafc" d="M237 39v2M257 41v3M407 39v2M409 41v3M511 39v2"/>
<path stroke="#00bafc" d="M238 39v2M268 39v2M491 39v5"/>
<path stroke="#0cfcf6" d="M238 41v3M430 41v3M431 39v2M502 44v3"/>
<path stroke="#0096fc" d="M239 39v2M242 39v2M252 41v3M324 39v3M355 42v2M360 42v2M489 39v2"/>
<path stroke="#009cfc" d="M240 39v2M489 41v3M490 39v2M510 39v2"/>
<path stroke="#00a8fc" d="M241 39v2M258 39v2M286 41v3M298 39v3M423 41v3"/>
<path stroke="#60fca2" d="M241 41v3M297 42v2M345 44v3M370 39v5"/>
<path stroke="#12fcf0" d="M242 41v3M268 41v3M364 39v5M488 44v3"/>
<path stroke="#0060fc" d="M243 39v2M284 39v2M356 42v2M509 41v3"/>
<path stroke="#00d8fc" d="M243 41v3M287 41v3M289 41v3M424 39v2"/>
<path stroke="#0018fc" d="M244 39v2M254 39v2M289 39v2M481 41v3M483 41v3M484 41v3M502 39v2M507 41v3"/>
<path stroke="#00ccfc" d="M244 41v3M291 41v3M409 39v2M492 39v2"/>
<path stroke="#0000fc" d="M245 39v2M253 39v2M272 39v2M418 41v3M419 41v3M421 39v2M484 39v2M485 41v3M499 41v3M501 41v3"/>
<path stroke="#00f6fc" d="M245 41v3M363 39v5M407 41v3M425 41v3M426 39v5M427 41v3M476 41v3M511 41v3"/>
<path stroke="#0000ea" d="M246 39v2M252 39v2M274 39v2M276 39v2M415 41v3M417 41v3M418 39v2M485 39v2M486 39v2M501 39v2"/>
<path stroke="#00d2fc" d="M246 41v3M348 39v3M354 42v2M492 41v3M503 44v3"/>
<path stroke="#0000de" d="M247 39v2M251 39v2M281 39v2M413 39v2M416 41v3M417 39v2"/>
<path stroke="#00b4fc" d="M247 41v3M251 41v3M295 39v3M361 42v2M477 41v3"/>
<path stroke="#0000cc" d="M248 39v2M415 39v2M416 39v2"/>
<path stroke="#0090fc" d="M248 41v3M253 41v3M359 42v2M410 41v3"/>
<path stroke="#0000c0" d="M249 39v2"/>
<path stroke="#0078fc" d="M249 41v3M358 42v2M410 39v2M478 41v3M493 41v3"/>
<path stroke="#0000c6" d="M250 39v2M279 39v2"/>
<path stroke="#00a2fc" d="M250 41v3M356 39v3M423 39v2M490 41v3M510 41v3"/>
<path stroke="#f6fc30" d="M252 45v2"/>
<path stroke="#fc7224" d="M252 47v3M439 62v3"/>
<path stroke="#f02424" d="M252 50v3M439 112v3"/>
<path stroke="#de2424" d="M252 53v3M437 118v3"/>
<path stroke="#c62424" d="M252 56v3M437 127v3M439 130v3"/>
<path stroke="#c02424" d="M252 59v3M254 56v3M437 130v6M439 133v5"/>
<path stroke="#ba2424" d="M252 62v3M254 59v3M437 136v8M439 138v6"/>
<path stroke="#b42424" d="M252 65v3M254 62v3M437 144v6M439 144v9"/>
<path stroke="#ae2424" d="M252 68v6M254 65v6M437 150v12M439 153v9"/>
<path stroke="#a82424" d="M252 74v11M254 71v8M437 162v9M439 162v9"/>
<path stroke="#008afc" d="M254 41v3"/>
<path stroke="#bafc6c" d="M254 45v2"/>
<path stroke="#fc6624" d="M254 47v3M437 65v6M439 68v3"/>
<path stroke="#ea2424" d="M254 50v3M437 112v3M439 115v3"/>
<path stroke="#d82424" d="M254 53v3M437 121v3M439 121v3"/>
<path stroke="#000cfc" d="M255 39v2M421 41v3M481 39v2M482 41v3M497 41v3"/>
<path stroke="#0084fc" d="M255 41v3M291 39v2M505 41v3"/>
<path stroke="#003cfc" d="M256 39v2M411 41v3M487 41v3M506 39v2M508 39v2"/>
<path stroke="#00c6fc" d="M256 41v3M259 39v2M290 41v3"/>
<path stroke="#0072fc" d="M257 39v2M478 39v2M488 39v5M493 39v2"/>
<path stroke="#00defc" d="M260 39v2M269 41v3M360 44v3M362 42v2M408 39v2M424 41v3"/>
<path stroke="#006cfc" d="M269 39v2"/>
<path stroke="#0036fc" d="M270 39v2M487 39v2M495 41v3"/>
<path stroke="#00f0fc" d="M270 41v3M285 41v1M321 39v3M359 44v3M361 44v3M408 41v3M425 39v2M427 39v2M476 39v2"/>
<path stroke="#0012fc" d="M271 39v2M496 39v2"/>
<path stroke="#0000e4" d="M273 39v2M288 39v2M412 39v2M419 39v2M499 39v2"/>
<path stroke="#0000f6" d="M275 39v2M286 39v2M413 41v3M482 39v2M498 41v3"/>
<path stroke="#0000d8" d="M277 39v2"/>
<path stroke="#0000d2" d="M278 39v2M414 39v2M420 39v2M500 39v2"/>
<path stroke="#0000ae" d="M280 39v2"/>
<path stroke="#002afc" d="M282 39v2M480 39v2M494 41v3M495 39v2M503 41v3"/>
<path stroke="#007efc" d="M283 39v2M505 39v2"/>
<path stroke="#fcfccc" d="M283 42v2M285 44v3"/>
<path stroke="#fcf6cc" d="M283 44v3"/>
<path stroke="#fceacc" d="M283 47v3M285 47v3"/>
<path stroke="#fcd8cc" d="M283 50v3"/>
<path stroke="#fccccc" d="M283 53v9M285 56v9"/>
<path stroke="#f6cccc" d="M283 62v6M285 65v6"/>
<path stroke="#f0cccc" d="M283 68v15M285 71v12"/>
<path stroke="#eacccc" d="M283 83v14"/>
<path stroke="#0030fc" d="M285 39v2M480 41v3"/>
<path stroke="#ccfcfc" d="M285 42v2"/>
<path stroke="#fcdecc" d="M285 50v3"/>
<path stroke="#fcd2cc" d="M285 53v3"/>
<path stroke="#0000ba" d="M287 39v2"/>
<path stroke="#0054fc" d="M290 39v2"/>
<path stroke="#00e4fc" d="M292 42v2M352 39v3"/>
<path stroke="#84fc7e" d="M295 44v3M400 44v3"/>
<path stroke="#001efc" d="M309 39v3M496 41v3M502 41v3"/>
<path stroke="#00aefc" d="M317 39v3M477 39v2"/>
<path stroke="#004efc" d="M340 39v3M422 41v3M479 39v5M504 41v3"/>
<path stroke="#0042fc" d="M341 39v3M350 39v3"/>
<path stroke="#7efc7e" d="M342 42v2M421 44v3M423 44v3M494 44v3"/>
<path stroke="#00c0fc" d="M354 39v3"/>
<path stroke="#0048fc" d="M357 42v2M422 39v2M504 39v2M506 41v3M508 41v3"/>
<path stroke="#06fcf6" d="M358 44v3M430 39v2"/>
<path stroke="#60fc9c" d="M395 39v2M470 44v3M505 44v3"/>
<path stroke="#18fce4" d="M401 39v2M405 39v2"/>
<path stroke="#6cfc90" d="M401 44v3"/>
<path stroke="#8afc78" d="M405 44v3M513 39v2"/>
<path stroke="#06fcfc" d="M406 41v3M429 41v3"/>
<path stroke="#0024fc" d="M411 39v2M494 39v2M503 39v2"/>
<path stroke="#0006fc" d="M412 41v3M483 39v2M497 39v2M507 39v2"/>
<path stroke="#0000f0" d="M414 41v3M420 41v3M486 41v3M498 39v2M500 41v3"/>
<path stroke="#90fc96" d="M437 40v4"/>
<path stroke="#c0fc66" d="M437 44v3"/>
<path stroke="#fcde24" d="M437 47v3"/>
<path stroke="#fcba24" d="M437 50v3M439 50v3"/>
<path stroke="#fca224" d="M437 53v3"/>
<path stroke="#fc8a24" d="M437 56v3"/>
<path stroke="#fc7824" d="M437 59v3"/>
<path stroke="#fc6c24" d="M437 62v3M439 65v3"/>
<path stroke="#fc6024" d="M437 71v3M439 71v6"/>
<path stroke="#fc5a24" d="M437 74v3M439 77v3"/>
<path stroke="#fc5424" d="M437 77v6M439 80v6"/>
<path stroke="#fc4e24" d="M437 83v5M439 86v5"/>
<path stroke="#fc4824" d="M437 88v3M439 91v3"/>
<path stroke="#fc4224" d="M437 91v3M439 94v3"/>
<path stroke="#fc3c24" d="M437 94v3M439 97v3"/>
<path stroke="#fc3624" d="M437 97v3M439 100v3"/>
<path stroke="#fc3024" d="M437 100v3M439 103v3"/>
<path stroke="#fc2a24" d="M437 103v3M439 106v3"/>
<path stroke="#fc2424" d="M437 106v3"/>
<path stroke="#f62424" d="M437 109v3M439 109v3"/>
<path stroke="#e42424" d="M437 115v3M439 118v3"/>
<path stroke="#d22424" d="M437 124v3M439 124v3"/>
<path stroke="#a22424" d="M437 171v9M439 171v10"/>
<path stroke="#9c2424" d="M437 180v1"/>
<path stroke="#c6fc60" d="M439 40v4"/>
<path stroke="#f0fc36" d="M439 44v3"/>
<path stroke="#fcd824" d="M439 47v3"/>
<path stroke="#fca824" d="M439 53v3"/>
<path stroke="#fc9624" d="M439 56v3"/>
<path stroke="#fc8424" d="M439 59v3"/>
<path stroke="#cc2424" d="M439 127v3"/>
<path stroke="#5afca8" d="M472 39v5M490 44v3"/>
<path stroke="#005afc" d="M509 39v2"/>
<path stroke="#72fc9c" d="M509 45v2"/>
<path stroke="#fcba0c" d="M509 47v3"/>
<path stroke="#fc960c" d="M509 50v3"/>
<path stroke="#fc7e0c" d="M509 53v3"/>
<path stroke="#fc660c" d="M509 56v3"/>
<path stroke="#fc540c" d="M509 59v3M511 56v3"/>
<path stroke="#fc480c" d="M509 62v3M511 59v3"/>
<path stroke="#fc420c" d="M509 65v3M511 62v3"/>
<path stroke="#fc3c0c" d="M509 68v3"/>
<path stroke="#fc360c" d="M509 71v3M511 65v3"/>
<path stroke="#fc300c" d="M509 74v3M511 68v3"/>
<path stroke="#fc2a0c" d="M509 77v3M511 71v3"/>
<path stroke="#fc240c" d="M509 80v3"/>
<path stroke="#fc1e0c" d="M509 83v3M511 74v3"/>
<path stroke="#fc180c" d="M509 86v2M511 77v3"/>
<path stroke="#fc120c" d="M509 88v3M511 80v3"/>
<path stroke="#fc0c0c" d="M509 91v6M511 83v5"/>
<path stroke="#f60c0c" d="M509 97v3M511 88v3"/>
<path stroke="#f00c0c" d="M509 100v3M511 91v3"/>
<path stroke="#ea0c0c" d="M509 103v3M511 94v3"/>
<path stroke="#e40c0c" d="M509 106v3M511 97v3"/>
<path stroke="#d80c0c" d="M509 109v3M511 103v3"/>
<path stroke="#d20c0c" d="M509 112v3M511 106v3"/>
<path stroke="#cc0c0c" d="M509 115v6M511 109v6"/>
<path stroke="#c60c0c" d="M509 121v3M511 115v3"/>
<path stroke="#c00c0c" d="M509 124v3M511 118v6"/>
<path stroke="#ba0c0c" d="M509 127v3M511 124v3"/>
<path stroke="#b40c0c" d="M509 130v8M511 127v9"/>
<path stroke="#ae0c0c" d="M509 138v6M511 136v6"/>
<path stroke="#e4fc24" d="M511 45v2"/>
<path stroke="#fcae0c" d="M511 47v3"/>
<path stroke="#fc840c" d="M511 50v3"/>
<path stroke="#fc6c0c" d="M511 53v3"/>
<path stroke="#de0c0c" d="M511 100v3"/>
</g>
<g fill="#000">
<rect x="77" y="38" width="1" height="149.5"/>
<rect x="77" y="186.65" width="467" height="1.35" shape-rendering="geometricPrecision"/>
<rect x="77" y="38" width="467" height="1"/>
<rect x="543" y="38" width="1" height="149.5"/>
</g>
<g stroke="#000" stroke-width="1" stroke-dasharray="1 4" fill="none">
<path d="M124.5 255.0V400.4"/>
<path d="M170.5 255.0V400.4"/>
<path d="M216.5 255.0V400.4"/>
<path d="M262.5 255.0V400.4"/>
<path d="M308.5 255.0V400.4"/>
<path d="M354.5 255.0V400.4"/>
<path d="M400.5 255.0V400.4"/>
<path d="M446.5 255.0V400.4"/>
<path d="M493.5 255.0V400.4"/>
<path d="M539.5 255.0V400.4"/>
<path d="M81.0 288.5H543.0"/>
<path d="M81.0 325.5H543.0"/>
<path d="M81.0 362.5H543.0"/>
<path d="M81.0 399.5H543.0"/>
</g>
<g fill="#000">
<rect x="77" y="252" width="1" height="149.5"/>
<rect x="77" y="400.65" width="467" height="1.35" shape-rendering="geometricPrecision"/>
<rect x="77" y="252" width="467" height="1"/>
<rect x="543" y="252" width="1" height="149.5"/>
<rect x="124" y="395.8" width="1" height="5"/>
<rect x="124" y="252" width="1" height="5"/>
<rect x="170" y="395.8" width="1" height="5"/>
<rect x="170" y="252" width="1" height="5"/>
<rect x="216" y="395.8" width="1" height="5"/>
<rect x="216" y="252" width="1" height="5"/>
<rect x="262" y="395.8" width="1" height="5"/>
<rect x="262" y="252" width="1" height="5"/>
<rect x="308" y="395.8" width="1" height="5"/>
<rect x="308" y="252" width="1" height="5"/>
<rect x="354" y="395.8" width="1" height="5"/>
<rect x="354" y="252" width="1" height="5"/>
<rect x="400" y="395.8" width="1" height="5"/>
<rect x="400" y="252" width="1" height="5"/>
<rect x="446" y="395.8" width="1" height="5"/>
<rect x="446" y="252" width="1" height="5"/>
<rect x="493" y="395.8" width="1" height="5"/>
<rect x="493" y="252" width="1" height="5"/>
<rect x="539" y="395.8" width="1" height="5"/>
<rect x="539" y="252" width="1" height="5"/>
<rect x="77" y="288" width="5.5" height="1"/>
<rect x="538.5" y="288" width="5.5" height="1"/>
<rect x="77" y="325" width="5.5" height="1"/>
<rect x="538.5" y="325" width="5.5" height="1"/>
<rect x="77" y="362" width="5.5" height="1"/>
<rect x="538.5" y="362" width="5.5" height="1"/>
<rect x="77" y="399" width="5.5" height="1"/>
<rect x="538.5" y="399" width="5.5" height="1"/>
</g>
<g class="d" transform="translate(.5 0)">
<path stroke="#fce400" d="M77 251v2M79 251v2M79 254v1M80 253v2M81 253v2M82 252v1M86 252v3M87 251v1M88 253v1M90 253v1M91 252v1M91 254v1M92 254v1M93 253v1M103 254v1M105 251v2M110 255v1M137 251v1M177 251v1M180 255v1M184 257v1M190 256v1M192 256v1M194 256v1M201 256v1M204 257v1M206 257v2M207 257v2M208 257v1M210 257v1M211 257v1M223 256v1M225 256v1M230 259v1M239 257v1M243 257v1M261 256v1M264 256v1M265 256v1M266 256v1M293 257v1M294 257v1M297 257v1M300 256v1M301 256v1M303 256v1M304 256v1M308 255v2M309 255v1M311 255v2M312 255v2M313 256v1M314 256v1M319 256v1M325 256v1M328 256v1M332 256v1M334 256v1M338 256v1M339 256v1M340 256v1M342 256v1M346 256v1M365 256v1M366 256v1M368 256v1M385 255v1M387 256v1M388 256v1M389 256v1M392 256v1M395 256v1M396 256v1M402 257v1M411 257v2M415 258v1M416 257v1M417 258v1M418 259v1M421 258v1M426 259v1M427 259v1M428 260v1M429 259v1M432 258v1M433 257v1M434 257v2M440 257v2M441 257v2M442 256v3M443 257v1M444 256v1M445 256v2M448 257v1M451 253v1M451 256v1M452 252v2M453 252v1M453 256v1M454 257v1M455 257v1M459 257v1M460 253v1M460 255v3M461 253v1M461 255v2M464 256v2M465 257v2M466 257v1M467 256v1M471 257v1M472 258v1M473 257v1M475 257v1M476 257v1M477 257v1M478 257v1M481 258v1M485 258v1M487 258v1M492 257v1M495 258v1M496 258v1M498 258v1M499 258v1M502 257v1M502 260v1M503 258v1M504 258v1M505 257v1M509 257v1M522 254v1"/>
<path stroke="#fcde00" d="M77 253v1M77 255v1M78 254v1M79 253v1M80 255v1M82 251v1M82 254v1M83 251v1M86 251v1M87 253v1M90 251v2M91 253v1M92 252v1M93 251v1M94 251v1M94 253v1M95 251v1M102 255v1M114 255v1M128 256v1M137 252v3M177 252v2M179 253v1M179 255v1M187 256v2M188 256v3M189 256v3M190 257v2M191 258v1M192 257v2M193 257v1M194 257v2M195 257v2M196 257v2M197 257v2M198 257v2M199 257v3M200 257v2M201 257v2M202 257v2M203 258v1M204 258v1M205 258v1M208 258v1M209 257v2M210 258v2M211 258v2M212 257v3M213 257v2M215 257v1M216 257v1M217 257v2M218 257v1M220 257v1M241 257v1M242 257v1M246 257v1M249 257v1M262 256v1M285 257v1M302 256v1M305 256v1M306 257v1M307 256v1M309 256v1M310 253v1M311 254v1M316 256v1M317 256v1M318 256v1M322 257v1M324 256v1M329 256v1M330 256v1M332 257v1M334 257v1M344 256v1M367 256v1M391 256v1M397 256v1M412 257v2M413 259v1M414 258v1M416 259v1M417 259v1M419 259v1M420 259v1M421 259v1M422 259v1M423 259v1M424 259v1M425 259v1M430 260v1M433 258v1M435 258v1M436 258v1M443 258v1M446 258v1M447 257v2M449 256v3M450 256v2M451 257v1M452 251v1M452 254v1M453 257v1M454 258v1M457 256v2M458 256v2M459 252v2M459 255v1M459 258v1M461 257v1M462 256v3M463 257v2M468 258v1M471 258v1M473 258v1M474 258v1M475 258v1M476 258v1M478 258v1M479 258v1M480 258v1M483 258v1M488 258v1M489 258v1M491 258v1M494 258v1M496 259v1M497 259v1M500 259v1M501 259v1M503 259v1M506 257v1M507 257v1M508 257v1M509 258v2M510 257v1M512 257v1M513 257v1M516 256v1M519 255v1M521 255v1M523 254v1"/>
<path stroke="#fcea00" d="M77 254v1M78 251v1M80 251v2M81 252v1M82 253v1M90 254v1M92 251v1M92 253v1M96 253v1M103 252v1M104 252v1M105 253v2M119 256v1M127 256v1M129 256v1M133 257v1M178 251v1M178 253v1M179 254v1M181 255v1M183 256v1M185 257v1M186 256v1M189 255v1M191 256v1M193 256v1M195 256v1M196 256v1M198 256v1M199 256v1M200 256v1M203 257v1M205 257v1M217 256v1M220 256v1M222 256v1M224 256v1M226 256v1M227 256v1M233 256v1M234 256v1M235 256v1M245 257v1M260 256v1M263 256v1M267 256v1M288 257v1M295 257v1M306 256v1M307 255v1M310 255v1M312 253v1M315 256v1M320 255v1M321 256v1M325 255v1M326 256v1M327 256v1M331 256v1M337 256v1M341 256v1M343 256v1M345 256v1M364 256v1M375 252v1M375 254v1M384 254v1M393 256v1M399 257v1M409 257v1M410 257v1M413 257v2M414 257v1M416 258v1M418 257v2M419 257v2M420 258v1M421 257v1M422 258v1M423 257v2M424 258v1M425 257v2M428 259v1M429 258v1M430 259v1M431 258v1M432 257v1M435 257v1M436 257v1M441 256v1M443 256v1M444 257v1M447 256v1M450 255v1M451 254v2M453 253v2M454 256v1M455 256v1M456 256v1M457 255v1M458 253v1M460 251v1M463 256v1M465 256v1M466 256v1M467 257v1M468 257v1M469 257v1M472 257v1M474 257v1M479 257v1M480 257v1M481 257v1M483 257v1M486 257v1M487 257v1M491 257v1M493 257v1M494 257v1M496 257v1M497 257v2M498 257v1M500 257v2M501 257v2M502 258v2M503 257v1M504 257v1M512 256v1M518 255v1M522 251v1"/>
<path stroke="#fcc600" d="M77 256v2M81 256v1M84 252v1M88 255v1M90 257v1M94 255v1M102 256v1M103 255v1M104 255v1M105 255v1M107 256v1M108 256v1M109 256v1M116 256v1M117 256v1M121 256v1M122 256v1M124 256v1M125 256v1M131 257v1M174 254v1M178 256v1M179 256v1M181 258v1M182 258v1M184 259v1M188 260v1M190 260v1M191 260v1M192 260v1M194 260v1M195 260v1M196 260v1M200 260v1M206 260v1M211 261v1M215 259v1M216 259v1M225 260v1M228 258v1M233 259v1M237 259v1M250 257v1M252 257v1M259 257v1M263 257v1M281 257v1M299 257v1M314 257v1M323 257v1M325 257v1M354 257v1M373 256v1M390 257v1M405 257v1M410 259v1M411 260v1M413 261v1M417 261v1M419 261v1M423 261v1M425 261v1M428 263v1M430 262v1M434 260v1M436 260v1M440 261v1M443 260v1M444 259v1M448 260v1M452 260v1M454 260v1M458 259v1M462 260v1M467 259v1M469 259v1M472 260v1M477 259v1M484 259v1M485 260v1M487 260v1M489 259v1M499 260v1M500 261v1M502 263v1M504 260v1M507 259v1M509 261v1M512 259v1M514 259v1M515 258v1M519 257v1M522 256v1M523 255v1M524 252v1M525 253v3M527 251v1M530 252v2"/>
<path stroke="#fcba00" d="M77 258v2M78 259v1M80 258v1M81 258v1M82 256v1M82 258v1M83 258v1M84 256v4M85 257v1M86 257v2M87 258v1M88 257v2M89 258v2M90 258v1M91 257v2M92 256v1M93 258v1M94 256v1M94 258v2M95 257v2M96 258v1M100 257v1M102 257v1M110 256v1M111 256v1M112 256v1M113 256v1M120 257v1M130 257v1M173 254v1M176 256v1M177 257v1M178 257v2M179 258v1M180 258v1M181 259v1M182 259v1M184 260v1M191 261v1M192 261v1M193 260v1M195 261v1M196 261v1M200 261v1M211 262v1M218 260v1M222 260v1M223 260v1M225 261v1M226 260v1M232 259v1M241 258v1M273 257v1M274 257v1M284 257v1M291 258v1M297 258v1M300 257v1M307 258v1M318 257v1M344 257v1M355 257v1M357 257v1M383 251v2M408 258v1M409 259v1M413 262v1M414 260v1M415 261v1M417 262v1M419 262v1M423 262v1M428 264v1M432 261v1M434 261v1M435 260v1M443 261v1M444 260v1M449 262v1M451 260v1M452 261v1M455 260v1M458 260v1M460 260v1M461 260v1M464 260v1M465 261v1M467 260v1M468 260v1M470 260v1M471 260v1M474 260v1M476 260v1M480 260v1M487 261v1M491 260v1M494 260v1M500 262v1M502 265v1M504 261v1M505 260v1M506 259v1M508 260v1M511 259v1M512 260v1M514 260v1M522 257v1M523 256v1M524 251v1M524 253v5M525 251v2M525 256v1M526 257v1M527 255v3M532 256v1M533 251v1M533 253v1"/>
<path stroke="#fcae00" d="M77 260v1M78 261v1M79 260v1M80 260v1M81 260v1M83 260v1M85 259v1M86 259v1M87 259v1M88 259v1M90 260v1M91 260v1M92 260v1M93 260v1M94 260v1M95 256v1M95 259v1M96 259v1M97 258v1M99 259v1M100 258v1M101 258v1M102 258v1M103 256v2M105 256v1M107 258v2M110 259v1M111 258v1M112 258v1M113 257v1M113 259v1M114 259v1M116 257v1M118 258v2M119 259v1M120 259v1M121 260v1M123 257v2M124 257v2M125 257v1M126 257v2M127 257v1M134 257v1M174 255v1M175 256v1M176 258v1M177 258v2M178 259v1M179 259v1M180 259v1M181 260v1M185 260v1M186 260v1M200 262v1M201 261v1M203 261v1M204 261v1M205 261v1M207 262v1M208 261v1M210 264v1M211 263v1M214 260v1M217 261v1M219 260v1M220 260v1M221 260v1M223 261v1M226 261v1M227 260v1M234 262v1M235 262v1M237 260v1M240 258v1M245 258v1M258 257v1M304 257v1M306 258v1M312 257v1M383 254v1M385 256v1M388 257v1M389 257v1M397 257v1M400 258v1M401 258v1M405 258v1M406 258v1M407 258v1M412 261v1M413 263v1M415 262v1M419 263v1M423 263v1M427 264v1M431 262v1M432 262v1M445 261v1M446 262v1M449 263v1M451 261v1M452 262v1M453 261v1M455 261v1M457 261v1M460 261v1M465 262v1M466 260v1M473 261v1M475 261v1M478 261v1M479 261v1M481 261v1M484 260v1M493 260v1M495 261v1M497 262v1M498 261v1M501 262v1M502 266v1M510 261v1M514 261v1M516 260v1M521 258v1M522 258v1M524 258v1M526 258v1M527 258v1M528 255v1M528 258v1M529 251v1M529 253v1M529 256v1M529 258v1M532 258v1M533 257v2M534 251v1M534 255v3M535 252v2M535 255v3M536 257v1M537 252v1M537 255v1M538 252v1M538 257v1"/>
<path stroke="#fca800" d="M77 261v1M81 261v1M82 260v1M84 261v1M87 260v1M88 260v1M89 261v1M93 261v1M94 261v1M95 260v1M96 260v1M98 259v1M103 259v1M104 259v1M105 259v1M106 259v1M108 259v1M109 259v1M110 260v1M115 259v1M116 260v1M117 260v1M119 260v1M120 260v1M122 259v1M125 258v1M127 258v1M128 257v1M129 257v1M133 258v1M138 252v1M138 254v1M174 256v1M175 257v2M176 257v1M182 260v1M183 261v1M184 261v1M187 260v1M188 262v1M190 262v1M191 262v1M192 262v1M193 261v1M194 262v1M195 262v1M196 262v1M197 263v1M198 263v1M199 263v1M206 262v1M209 263v1M212 263v1M218 261v1M222 261v1M225 262v1M230 260v1M232 260v1M236 260v1M239 259v1M242 259v1M266 257v1M269 257v1M271 257v1M302 257v1M303 257v1M311 257v1M313 257v1M315 257v1M316 257v1M317 257v1M331 257v1M337 257v1M338 257v1M345 257v1M347 257v1M365 257v1M376 256v1M404 258v1M414 261v1M416 264v1M417 263v1M418 264v1M420 263v1M421 263v1M425 263v1M426 264v1M428 266v1M429 264v1M430 265v1M434 262v1M435 261v1M440 263v1M441 263v1M442 263v1M443 262v1M444 261v1M447 263v1M448 262v1M450 262v1M454 262v1M458 261v1M461 261v1M462 262v1M464 261v1M467 261v1M468 261v1M470 261v1M471 261v1M472 262v1M474 261v1M476 261v1M480 261v1M483 261v1M486 260v1M487 262v1M490 260v1M491 261v1M494 261v1M500 263v1M503 263v1M504 262v1M505 261v1M506 260v1M508 261v1M509 264v1M511 260v1M512 261v1M523 258v1M525 259v1M527 254v1M528 252v1M529 254v1M530 258v1M533 259v1M534 252v1M534 258v1M535 251v1M536 256v1M537 251v1M537 256v2M538 251v1M538 255v2M539 255v2M539 258v1M540 258v1M541 257v1"/>
<path stroke="#fc9c00" d="M77 262v1M78 263v1M79 262v1M81 262v1M87 261v1M88 261v1M89 262v1M92 262v1M93 262v1M95 261v1M96 261v1M99 261v1M103 260v1M104 260v1M106 260v1M108 260v1M110 261v1M115 260v1M119 261v1M120 261v1M122 260v1M125 259v1M127 259v1M132 258v1M135 256v1M137 256v1M138 255v1M172 252v1M172 254v1M172 256v3M173 257v2M174 259v1M180 260v1M182 261v1M184 262v1M186 261v1M191 263v1M192 263v1M195 263v1M196 263v1M197 264v1M199 264v1M200 263v1M201 262v1M203 262v1M205 262v1M208 262v1M212 264v1M214 261v1M219 261v1M220 261v1M221 261v1M222 262v1M223 262v1M225 263v1M226 262v1M227 261v1M228 260v1M233 261v1M237 261v1M238 260v1M243 259v1M246 258v1M289 258v1M294 258v1M296 258v1M297 259v1M305 258v1M328 257v1M329 257v1M351 257v1M352 257v1M359 258v1M366 257v1M370 257v1M383 255v1M393 257v1M403 258v1M408 259v1M412 262v1M415 263v1M416 265v1M417 264v1M418 265v1M420 264v1M425 264v1M426 265v1M428 267v1M429 265v1M432 263v1M434 263v1M435 262v1M440 264v1M441 264v1M442 264v1M443 263v1M447 264v1M448 263v1M449 265v1M450 263v1M451 262v1M454 263v1M455 262v1M460 262v1M461 262v1M466 261v1M473 262v1M475 262v1M478 262v1M479 262v1M481 262v1M484 261v1M489 261v1M495 262v1M497 263v1M500 264v1M503 264v1M514 262v1M520 259v1M522 259v1M524 259v1M525 260v1M526 259v1M527 259v1M529 259v1M532 259v1M534 259v1M536 252v1M536 258v1M537 258v1M538 253v2M539 259v1M540 255v1M540 259v1M541 256v1M541 259v1M542 257v1M542 259v1"/>
<path stroke="#fc9600" d="M77 263v1M78 264v1M80 262v1M82 262v1M83 262v1M84 263v1M86 261v1M89 263v1M90 262v1M91 262v1M94 263v1M97 260v1M98 261v1M100 260v1M101 260v1M102 260v1M105 261v1M107 261v1M109 261v1M111 260v1M112 260v1M113 261v1M114 261v1M116 262v1M117 262v1M118 261v1M121 262v1M123 260v1M124 260v1M128 259v1M130 259v1M171 256v2M173 259v1M174 260v1M175 260v1M176 260v1M177 261v1M179 261v1M183 262v1M185 261v1M187 261v1M188 263v1M189 263v1M190 263v1M193 262v1M194 263v1M198 264v1M202 264v1M206 263v1M207 264v1M209 264v1M210 266v1M211 265v1M218 262v1M234 264v1M245 259v1M247 258v1M257 258v1M292 258v1M295 258v1M299 258v1M300 258v1M321 258v1M341 257v1M363 257v1M368 257v1M395 257v1M396 257v1M399 258v1M402 258v1M406 259v1M407 259v1M411 263v1M413 265v1M414 262v1M419 265v1M421 264v1M422 264v1M423 265v1M424 264v1M426 266v1M427 266v1M431 264v1M436 263v1M444 262v1M446 264v1M452 264v1M458 262v1M459 263v1M462 263v1M463 263v1M464 262v1M465 264v1M467 262v1M468 262v1M470 262v1M471 262v1M472 263v1M474 262v1M476 262v1M480 262v1M483 262v1M487 263v1M490 261v1M493 261v1M496 264v1M498 262v1M504 263v1M505 262v1M508 262v1M509 266v1M511 261v1M512 262v1M521 259v1M531 260v1M533 260v1M535 259v1M536 255v1M538 259v1M539 251v1M543 256v1M543 258v1"/>
<path stroke="#fc8a00" d="M77 264v1M78 265v1M79 264v1M81 264v1M82 263v1M83 263v1M89 264v1M90 263v1M92 264v1M93 264v1M94 265v1M97 261v1M98 262v1M100 261v1M101 261v1M102 261v1M105 262v1M107 262v1M109 262v1M112 261v1M113 262v1M114 262v1M116 263v1M118 262v1M123 261v1M125 260v1M130 260v1M135 259v1M136 256v1M169 258v1M170 256v4M171 260v1M172 260v1M173 260v1M176 261v1M179 262v1M182 262v1M184 263v1M186 262v1M188 264v1M190 264v1M191 264v1M192 264v1M194 264v1M195 264v1M196 264v1M198 265v1M202 265v1M203 263v1M206 264v1M207 265v1M208 263v1M209 265v1M210 267v1M211 266v1M214 262v1M218 263v1M219 262v1M221 262v1M222 263v1M223 263v1M224 262v1M228 261v1M229 261v1M231 262v1M233 262v1M234 265v1M235 265v1M239 260v1M242 260v1M248 258v1M265 257v1M293 259v1M306 259v1M326 257v1M343 258v1M346 258v1M361 258v1M364 257v1M372 257v1M377 254v2M387 257v1M392 257v1M398 258v1M404 259v1M405 259v1M409 261v1M410 262v1M412 263v1M413 266v1M414 263v1M419 266v1M420 265v1M421 265v1M422 265v1M423 266v1M427 267v1M430 268v1M431 265v1M435 263v1M436 264v1M444 263v1M446 265v1M452 265v1M458 263v1M460 263v1M461 263v1M462 264v1M464 263v1M466 262v1M469 262v1M470 263v1M473 263v1M475 263v1M477 262v1M478 263v1M479 263v1M488 262v1M489 262v1M495 263v1M502 269v1M503 265v1M504 264v1M507 262v1M515 261v1M520 260v1M522 260v1M524 260v1M526 260v1M527 260v1M529 260v1M532 260v1M533 261v1M536 259v1M539 260v1M541 254v2M541 261v1M542 255v1M543 251v1"/>
<path stroke="#fc7e00" d="M77 265v1M79 265v1M80 265v1M81 265v1M82 264v1M83 264v1M84 266v1M85 263v1M86 263v1M90 264v1M92 265v1M93 265v1M94 266v1M96 264v1M97 262v1M98 263v1M100 262v1M101 262v1M102 262v1M105 263v1M107 263v1M109 263v1M110 264v1M113 263v1M114 263v1M117 265v1M118 263v1M121 265v1M122 262v1M127 261v1M129 260v1M134 260v1M135 260v1M136 259v1M137 257v1M138 257v1M167 258v3M168 257v1M168 260v1M169 256v1M169 260v1M170 260v1M171 252v1M171 254v1M171 262v1M172 261v1M173 261v1M179 263v1M180 262v1M182 263v1M184 264v1M188 265v1M190 265v1M191 265v1M192 265v1M194 265v1M195 265v1M196 265v1M197 266v1M198 266v1M200 265v1M201 264v1M202 266v1M203 264v1M204 264v1M205 264v1M206 265v1M208 264v1M209 266v1M210 268v1M211 267v1M215 263v1M216 263v1M217 264v1M226 264v1M243 260v1M249 259v1M263 258v1M272 257v1M280 257v1M295 259v1M297 261v1M299 259v1M300 259v1M303 258v1M304 258v1M307 260v1M308 258v1M309 259v1M314 258v1M322 260v1M323 258v1M327 257v1M342 258v1M354 258v1M384 257v1M386 257v1M403 259v1M419 267v1M420 266v1M421 266v1M425 266v1M427 268v1M428 270v1M430 269v1M434 265v1M435 264v1M440 267v1M441 267v1M444 264v1M452 266v1M458 264v1M459 265v1M460 264v1M461 264v1M462 265v1M463 265v1M464 264v1M465 266v1M466 263v1M469 263v1M470 264v1M472 265v1M473 264v1M475 264v1M477 263v1M478 264v1M479 264v1M482 263v1M485 264v1M488 263v1M492 263v1M495 264v1M497 265v1M500 266v1M502 270v1M503 266v1M506 262v1M507 263v1M511 262v1M513 263v1M514 264v1M516 263v1M517 262v1M525 262v1M528 261v1M530 260v1M533 262v1M534 261v1M537 260v1M539 261v1M541 253v1M541 262v1"/>
<path stroke="#fc7800" d="M77 266v1M78 267v1M79 266v1M81 266v1M82 265v1M83 265v1M87 264v1M88 264v1M89 266v1M90 265v1M91 265v1M93 266v1M95 264v1M99 264v1M103 263v1M104 263v1M106 263v1M108 263v1M111 262v1M112 262v1M115 263v1M116 265v1M119 264v1M120 264v1M123 262v1M124 262v1M125 261v1M126 262v1M130 261v1M133 260v1M135 261v1M136 260v1M137 258v2M165 258v1M166 258v3M167 261v1M170 261v1M171 251v1M171 253v1M174 263v1M175 263v1M176 262v1M177 264v1M178 263v1M181 264v1M183 264v1M185 263v1M186 263v1M187 263v1M189 265v1M193 264v1M199 267v1M200 266v1M207 266v1M212 267v1M213 265v1M214 263v1M218 264v1M219 263v1M220 263v1M221 263v1M222 264v1M223 264v1M224 263v1M225 266v1M229 262v1M231 263v1M232 262v1M234 266v1M235 266v1M236 262v1M245 260v1M247 259v1M250 258v1M264 258v1M276 257v1M277 257v1M285 258v1M286 259v1M290 259v1M292 259v1M298 259v1M306 260v1M310 258v1M312 258v1M318 258v1M319 258v1M324 258v1M325 258v1M357 258v1M362 258v1M371 258v1M378 256v1M400 259v1M406 260v1M407 260v1M410 263v1M411 265v1M412 264v1M413 267v1M414 264v1M415 266v1M416 268v1M417 267v1M418 268v1M422 266v1M423 267v1M424 266v1M426 268v1M428 271v1M429 268v1M430 270v1M431 266v1M432 266v1M436 265v1M442 267v1M443 266v1M445 265v1M446 267v1M447 267v1M448 266v1M449 268v1M450 266v1M451 265v1M453 265v1M454 266v1M455 265v1M457 265v1M467 264v1M468 264v1M471 264v1M474 264v1M476 264v1M480 264v1M481 264v1M483 264v1M484 263v1M485 265v1M487 265v1M489 263v1M491 264v1M494 264v1M496 266v1M497 266v1M498 264v1M499 265v1M501 266v1M504 265v1M505 264v1M508 264v1M509 268v1M510 265v1M512 264v1M515 262v1M518 261v1M519 261v1M522 261v1M523 260v1M527 261v1M529 261v1M531 262v1M532 261v1M536 260v1M540 262v1M541 251v1M542 251v1M542 253v1M542 262v1M543 252v1"/>
<path stroke="#fc7200" d="M77 267v1M78 268v2M79 267v1M80 266v1M81 267v1M82 266v1M83 266v1M84 267v1M85 264v1M86 264v1M87 265v1M88 265v1M89 267v1M91 266v1M92 266v1M94 267v1M95 265v1M96 265v1M97 263v1M98 264v1M99 265v1M100 263v1M101 263v1M102 263v1M105 264v1M107 264v1M109 264v1M110 265v1M113 264v1M114 264v1M116 266v1M117 266v1M118 264v1M120 265v1M121 266v1M122 263v1M127 262v1M128 261v1M131 261v1M132 261v1M134 261v1M135 262v1M136 261v1M138 258v2M139 251v4M139 256v1M161 251v1M164 258v1M165 257v1M165 259v1M166 256v2M166 261v1M167 256v1M167 262v1M168 261v1M169 261v1M170 254v1M171 263v1M172 262v1M173 262v1M174 264v1M179 264v1M180 263v1M182 264v1M184 265v1M188 266v1M190 266v1M191 266v1M192 266v1M194 266v1M195 266v1M196 266v1M197 267v1M198 267v1M201 265v1M202 267v1M203 265v1M204 265v1M205 265v1M206 266v1M208 265v1M209 267v1M210 269v1M211 268v1M215 264v1M216 264v1M217 265v1M226 265v1M227 263v1M228 262v1M233 263v1M242 261v1M253 258v1M256 259v1M273 258v1M274 258v1M282 258v1M288 259v1M293 260v1M294 260v1M301 259v1M311 258v1M320 258v1M330 258v1M333 258v1M334 260v1M336 258v1M339 258v1M340 258v1M344 258v1M355 258v1M358 258v1M359 259v1M360 258v1M385 257v1M389 258v1M393 258v1M396 258v1M399 259v1M402 259v1M409 262v1M419 268v1M420 267v1M421 267v1M425 267v1M426 269v1M427 269v1M433 265v1M434 266v1M440 268v1M441 268v1M442 268v1M447 268v1M449 269v1M452 267v1M456 264v1M458 265v1M459 266v1M460 265v1M461 265v1M462 266v1M463 266v1M464 265v1M465 267v1M469 264v1M470 265v1M472 266v1M473 265v1M475 265v1M477 264v1M478 265v1M479 265v1M481 265v1M482 264v1M486 263v1M487 266v1M488 264v1M490 263v1M492 264v1M493 263v1M495 265v1M500 267v1M502 271v1M503 267v1M504 266v1M506 263v1M507 264v1M511 263v1M513 264v1M514 265v1M516 264v1M520 261v1M524 261v1M526 261v1M535 261v1M538 261v1M539 262v1M541 252v1M542 252v1M543 254v1M543 260v1"/>
<path stroke="#fc6c00" d="M77 268v1M78 270v1M79 268v1M80 267v1M81 268v1M83 267v1M84 268v1M89 268v1M90 266v1M92 267v1M93 267v1M94 268v1M95 266v1M96 266v1M98 265v1M100 264v1M101 264v1M102 264v1M103 264v1M104 264v1M106 264v1M107 265v1M108 264v1M111 263v1M112 263v1M114 265v1M115 264v1M119 265v1M123 263v1M124 263v1M125 262v1M129 261v1M130 262v1M133 261v1M136 262v1M137 260v1M138 260v1M139 255v1M139 257v3M141 252v1M142 252v2M142 255v1M146 255v1M147 251v1M147 253v2M159 251v1M159 255v1M160 253v1M161 255v1M163 257v2M164 259v1M165 260v1M166 262v1M167 263v1M168 256v1M168 262v1M169 255v1M169 262v1M170 255v1M170 262v1M171 264v1M172 263v1M173 263v1M175 264v1M176 263v1M177 265v1M178 264v1M181 265v1M183 265v1M186 264v1M189 266v1M193 265v1M197 268v1M198 268v1M199 268v1M200 267v1M207 267v1M210 270v1M211 269v1M212 268v1M213 266v1M214 264v1M218 265v1M219 264v1M220 264v1M221 264v1M222 265v1M223 265v1M224 264v1M230 262v1M237 263v1M238 262v1M239 261v1M240 260v1M262 258v1M281 258v1M289 259v1M291 260v1M296 260v1M297 262v1M305 260v1M313 258v1M321 259v1M332 259v1M337 258v1M338 258v1M345 258v1M346 259v1M347 258v1M348 258v1M353 258v1M361 259v1M365 258v1M369 258v1M382 256v1M383 257v1M388 258v1M390 259v1M395 258v1M404 260v1M405 260v1M412 265v1M413 268v1M414 265v1M415 267v1M416 269v1M417 268v1M418 269v1M422 267v1M423 268v1M424 267v1M428 272v1M429 269v1M430 271v1M431 267v1M435 265v1M436 266v1M443 267v1M444 265v1M445 266v1M446 268v1M448 267v1M449 270v1M450 267v1M451 266v1M453 266v1M454 267v1M455 266v1M457 266v1M466 264v1M467 265v1M468 265v1M471 265v1M474 265v1M476 265v1M480 265v1M483 265v1M484 264v1M485 266v1M489 264v1M496 267v1M497 267v1M498 265v1M499 266v1M500 268v1M501 267v1M502 272v1M505 265v1M508 265v1M509 269v1M510 266v1M512 265v1M515 263v1M517 263v1M521 261v1M525 263v1M528 262v1M533 263v1M534 262v1M537 261v1M540 263v1M541 263v1M542 263v1"/>
<path stroke="#fc6600" d="M77 269v2M78 271v2M79 269v1M80 268v1M81 269v1M82 267v1M84 269v1M85 265v1M86 265v1M87 266v1M88 266v1M89 269v1M90 267v1M91 267v1M92 268v1M93 268v1M94 269v1M97 264v1M99 266v1M103 265v1M105 265v1M106 265v1M108 265v1M109 265v1M110 266v1M112 264v1M113 265v1M116 267v1M117 267v1M118 265v1M120 266v1M121 267v1M122 264v1M126 263v1M128 262v1M131 262v1M132 262v1M134 262v1M135 263v1M136 263v1M137 261v1M138 261v1M139 260v1M140 256v4M141 251v1M141 253v1M141 256v4M142 251v1M142 254v1M142 258v2M143 255v2M143 258v1M144 256v1M144 258v1M145 256v1M145 258v1M146 256v2M147 252v1M147 256v1M147 258v1M149 257v1M150 251v1M150 258v1M151 256v2M152 256v1M157 257v1M160 251v2M160 254v1M161 253v2M161 256v1M162 257v2M163 259v2M164 257v1M164 260v1M165 256v1M165 261v1M166 263v1M167 264v1M168 263v1M169 263v1M170 252v1M170 263v1M171 265v1M174 265v1M175 265v1M176 264v1M177 266v1M178 265v1M179 265v1M180 264v1M182 265v1M184 266v1M185 264v1M187 264v1M188 267v1M190 267v1M191 267v1M192 267v1M194 267v1M195 267v1M196 267v1M199 269v1M201 266v1M202 268v1M204 266v1M205 266v1M206 267v1M207 268v1M208 266v1M209 268v1M210 271v1M212 269v1M215 265v1M217 266v1M223 266v1M225 267v1M226 266v1M227 264v1M228 263v1M229 263v1M231 264v1M234 267v1M235 267v1M241 261v1M248 259v1M251 259v1M252 258v1M254 258v1M255 259v1M257 259v1M258 258v1M260 258v1M278 258v1M284 258v1M287 259v1M300 260v1M302 259v1M307 261v1M309 260v1M315 258v1M316 258v1M317 258v1M322 261v1M328 258v1M329 258v1M331 258v1M335 259v1M343 259v1M366 258v1M368 258v1M370 258v1M398 259v1M401 259v1M408 261v1M410 264v1M411 266v1M413 269v1M418 270v1M419 269v1M420 268v1M421 268v1M423 269v1M425 268v1M426 270v1M427 270v1M428 273v1M429 270v1M430 272v1M432 267v1M433 266v1M434 267v1M440 269v1M441 269v1M442 269v1M446 269v1M447 269v1M450 268v1M452 268v1M456 265v1M458 266v1M459 267v1M460 266v1M461 266v1M462 267v1M463 267v1M464 266v1M465 268v1M469 265v1M470 266v1M472 267v1M473 266v1M475 266v1M477 265v1M478 266v1M479 266v1M481 266v1M482 265v1M486 264v1M487 267v1M488 265v1M490 264v1M491 265v1M492 265v1M493 264v1M494 265v1M495 266v1M496 268v1M501 268v1M502 273v1M503 268v1M504 267v1M506 264v1M507 265v1M509 270v1M511 264v1M513 265v1M514 266v1M516 265v1M518 262v1M519 262v1M527 262v1M529 262v1M530 261v1M531 263v1M532 262v1M536 261v1M538 262v1M541 264v1"/>
<path stroke="#fc6000" d="M77 271v1M78 273v1M79 270v1M80 269v1M81 270v1M82 268v1M83 268v1M84 270v2M85 266v1M86 266v1M87 267v1M89 270v1M91 268v1M92 269v1M93 269v1M94 270v1M95 267v1M96 267v1M97 265v1M98 266v1M99 267v1M100 265v1M101 265v1M102 265v1M104 265v1M105 266v1M107 266v1M109 266v1M110 267v1M111 264v1M113 266v1M114 266v1M115 265v1M118 266v1M119 266v1M123 264v1M124 264v1M125 263v1M126 264v1M127 263v1M129 262v1M130 263v1M133 262v1M135 264v1M137 262v1M138 262v1M139 261v1M140 260v2M141 254v2M141 260v1M142 256v2M142 260v1M143 251v1M143 257v1M143 259v1M144 257v1M144 259v1M145 259v2M146 251v4M146 258v2M147 255v1M147 259v1M148 252v1M148 256v3M149 256v1M149 258v2M150 254v1M150 257v1M150 259v1M151 251v1M151 254v1M151 258v1M152 251v1M152 254v2M152 257v2M153 252v1M153 257v2M154 256v3M155 257v2M158 256v1M159 256v1M160 255v1M160 258v1M161 252v1M161 257v3M162 256v1M162 259v2M163 256v1M163 261v1M164 256v1M164 261v1M166 255v1M166 264v1M167 265v1M168 264v1M172 264v1M173 264v1M174 266v1M181 266v1M183 266v1M189 267v1M191 268v1M192 268v1M193 266v1M195 268v1M197 269v1M198 269v1M200 268v1M202 269v1M203 266v1M209 269v1M211 270v1M213 267v1M214 265v1M216 265v1M218 266v1M219 265v1M221 265v1M222 266v1M224 265v1M225 268v1M230 263v1M232 263v1M233 264v1M236 263v1M243 261v1M244 260v1M246 260v1M249 260v1M261 258v1M266 258v1M268 259v1M269 258v1M286 260v1M295 260v1M298 260v1M299 260v1M303 259v1M304 259v1M306 261v1M308 259v1M314 259v1M323 259v1M341 258v1M342 259v1M351 258v1M352 258v1M354 259v1M362 259v1M363 258v1M378 255v1M381 256v1M382 255v1M392 258v1M394 258v1M397 259v1M412 266v1M413 270v1M414 266v1M415 268v1M416 270v1M417 269v1M419 270v1M422 268v1M424 268v1M427 271v1M431 268v1M436 267v1M440 270v1M441 270v1M442 270v1M443 268v1M444 266v1M445 267v1M447 270v1M448 268v1M449 271v1M451 267v1M452 269v1M453 267v1M454 268v1M455 267v1M457 267v1M462 268v1M465 269v1M466 265v1M467 266v1M468 266v1M471 266v1M474 266v1M476 266v1M480 266v1M483 266v1M484 265v1M485 267v1M489 265v1M496 269v1M497 268v1M498 266v1M499 267v1M500 269v1M502 274v1M503 269v1M505 266v1M508 266v1M509 271v1M510 267v1M512 266v1M514 267v1M515 264v1M517 264v1M520 262v1M522 262v1M523 261v1M524 262v1M525 264v1M526 262v1M533 264v1M535 262v1M539 263v1M540 264v1M542 264v1M543 261v1"/>
<path stroke="#fc5a00" d="M77 272v2M78 274v2M79 271v2M80 270v1M81 271v1M82 269v2M83 269v2M84 272v1M88 267v1M89 271v1M90 268v1M91 269v1M92 270v1M93 270v1M94 271v2M95 268v1M96 268v1M98 267v1M99 268v1M100 266v1M101 266v1M103 266v1M104 266v1M105 267v1M106 266v1M107 267v1M108 266v1M110 268v1M111 265v1M112 265v1M113 267v1M114 267v1M115 266v1M116 268v1M117 268v1M119 267v1M120 267v1M121 268v1M122 265v1M123 265v1M127 264v1M128 263v1M129 263v1M130 264v1M131 263v1M132 263v1M133 263v1M134 263v1M136 264v1M139 262v1M140 255v1M140 262v1M141 261v1M142 261v1M143 252v2M143 260v1M144 255v1M144 260v1M145 255v1M145 257v1M145 261v1M146 260v1M147 257v1M147 260v1M148 253v3M148 259v2M149 251v2M149 255v1M149 260v1M150 252v1M150 255v2M150 260v1M151 252v2M151 255v1M151 259v1M152 252v1M152 259v2M153 251v1M153 253v4M153 259v1M154 259v2M155 256v1M155 259v2M156 256v4M157 256v1M157 258v2M158 251v2M158 254v1M158 258v2M159 252v3M159 257v3M160 256v2M160 259v2M161 260v1M162 252v1M162 254v2M162 261v1M163 262v1M164 262v1M165 255v1M165 262v1M166 265v1M167 255v1M167 266v1M169 264v1M170 253v1M170 264v1M171 266v1M172 265v1M173 265v1M175 266v1M176 265v1M177 267v1M178 266v1M179 266v1M180 265v1M182 266v1M184 267v1M185 265v1M186 265v1M188 268v1M189 268v1M190 268v1M194 268v1M196 268v1M197 270v1M198 270v1M199 270v1M201 267v1M204 267v1M205 267v1M206 268v1M207 269v1M208 267v1M209 270v1M210 272v1M211 271v1M212 270v1M215 266v1M217 267v1M220 265v1M222 267v1M223 267v1M225 269v1M226 267v1M227 265v1M228 264v1M229 264v1M231 265v1M237 264v1M245 261v1M247 260v1M256 260v1M259 259v1M263 259v1M270 258v1M279 258v1M285 259v1M292 260v1M293 261v1M297 263v1M324 259v1M325 259v1M326 258v1M334 261v1M349 258v1M350 258v1M356 258v1M357 259v1M359 260v1M364 258v1M371 259v1M372 258v1M373 258v1M374 258v1M378 257v1M379 256v1M380 252v1M382 251v1M391 258v1M400 260v1M403 260v1M406 261v1M409 263v1M410 265v1M411 267v1M416 271v1M418 271v1M420 269v1M421 269v1M423 270v1M425 269v1M426 271v1M428 274v1M429 271v1M430 273v1M431 269v1M432 268v1M433 267v1M434 268v1M435 266v1M440 271v1M441 271v1M443 269v1M446 270v1M447 271v1M448 269v1M449 272v1M450 269v1M452 270v1M453 268v1M454 269v1M456 266v1M457 268v1M458 267v1M459 268v1M460 267v1M461 267v1M463 268v1M464 267v1M469 266v1M470 267v1M472 268v1M473 267v1M475 267v1M478 267v1M479 267v1M481 267v1M482 266v1M487 268v1M488 266v1M491 266v1M492 266v1M493 265v1M494 266v1M495 267v1M497 269v1M499 268v1M500 270v1M501 269v1M502 275v1M503 270v1M504 268v1M507 266v1M509 272v1M510 268v1M511 265v1M512 267v1M513 266v1M516 266v1M517 265v1M518 263v1M519 263v1M521 262v1M528 263v1M534 263v1M537 262v1M541 265v1"/>
<path stroke="#fc5400" d="M77 274v1M78 276v1M79 273v1M80 271v2M81 272v2M82 271v1M83 271v1M84 273v1M85 267v1M86 267v1M87 268v1M88 268v1M89 272v1M90 269v1M91 270v1M92 271v1M93 271v1M94 273v1M95 269v1M96 269v1M97 266v1M98 268v1M99 269v1M102 266v1M103 267v1M106 267v1M107 268v1M108 267v1M109 267v1M110 269v1M112 266v1M114 268v1M115 267v1M116 269v2M117 269v2M118 267v1M119 268v1M120 268v1M121 269v2M122 266v1M124 265v1M125 264v1M126 265v1M128 264v1M131 264v1M132 264v1M134 264v1M135 265v1M136 265v1M137 263v1M138 263v1M139 263v1M140 254v1M140 263v1M141 262v2M142 262v1M143 261v1M144 252v1M144 261v1M145 253v1M145 262v1M146 261v1M147 261v1M148 261v1M149 254v1M149 261v1M150 261v2M151 260v1M152 261v1M153 260v1M154 251v2M154 254v1M154 261v1M155 255v1M155 261v1M156 253v3M156 260v1M157 260v1M158 253v1M158 255v1M158 257v1M158 260v1M159 260v1M160 261v1M161 261v1M162 251v1M162 253v1M162 262v1M163 255v1M163 263v1M164 251v1M164 263v1M165 253v2M165 263v1M166 252v1M166 266v1M167 253v1M167 267v1M168 253v1M168 265v1M169 253v1M169 265v1M170 251v1M170 265v1M171 267v1M174 267v1M175 267v1M177 268v1M179 267v1M181 267v1M183 267v1M187 265v1M188 269v1M190 269v1M191 269v1M192 269v1M193 267v1M194 269v1M195 269v1M196 269v1M197 271v1M199 271v1M200 269v1M202 270v1M203 267v1M207 270v1M210 273v1M211 272v1M212 271v1M213 268v1M216 266v1M217 268v1M218 267v1M219 266v1M221 266v1M224 266v1M225 270v1M226 268v1M227 266v1M230 264v1M232 264v1M233 265v1M234 268v1M235 268v1M239 262v1M242 262v1M250 259v1M264 259v1M271 258v1M282 259v1M288 260v1M290 260v1M294 261v1M296 261v1M301 260v1M305 261v1M307 262v1M310 259v1M312 259v1M318 259v1M319 259v1M321 260v1M322 262v1M355 259v1M360 259v1M367 258v1M376 258v1M377 257v1M379 252v1M379 255v1M382 253v1M389 259v1M407 261v1M411 268v1M412 267v1M413 271v1M414 267v1M415 269v1M417 270v1M418 272v1M419 271v1M422 269v1M424 269v1M426 272v1M427 272v1M428 275v1M430 274v1M432 269v1M436 268v1M442 271v1M444 267v1M445 268v1M446 271v1M448 270v1M449 273v1M450 270v1M451 268v1M454 270v1M455 268v1M459 269v1M460 268v1M462 269v1M463 269v1M465 270v1M466 266v1M467 267v1M468 267v1M471 267v1M472 269v1M474 267v1M476 267v1M477 266v1M480 267v1M483 267v1M485 268v1M486 265v1M487 269v1M489 266v1M490 265v1M496 270v1M497 270v1M498 267v1M500 271v1M501 270v1M502 276v1M503 271v1M504 269v1M505 267v1M506 265v1M508 267v1M509 273v1M513 267v1M514 268v1M515 265v1M516 267v1M520 263v1M521 263v1M522 263v1M523 262v1M524 263v1M527 263v1M529 263v1M530 262v1M531 264v1M532 263v1M533 265v1M538 263v1M539 264v1M540 265v1M542 265v1"/>
<path stroke="#fc4e00" d="M77 275v1M78 277v1M79 274v1M80 273v1M82 272v1M83 272v1M84 274v2M85 268v1M86 268v1M87 269v1M88 269v1M89 273v1M90 270v1M91 271v1M92 272v1M93 272v2M94 274v1M95 270v1M96 270v1M98 269v1M99 270v1M100 267v1M101 267v1M102 267v1M104 267v1M105 268v2M107 269v1M108 268v1M109 268v1M110 270v1M111 266v1M113 268v1M114 269v1M115 268v1M116 271v1M117 271v1M118 268v1M119 269v1M120 269v1M121 271v1M122 267v1M123 266v1M124 266v1M125 265v1M126 266v1M127 265v1M129 264v1M130 265v1M133 264v1M135 266v1M136 266v1M137 264v1M138 264v1M139 264v1M140 252v2M140 264v1M141 264v1M142 263v1M143 262v1M144 253v2M144 262v1M145 252v1M145 263v1M146 262v2M147 262v1M148 251v1M148 262v1M149 253v1M149 262v1M150 253v1M150 263v1M151 261v1M152 262v1M153 261v1M154 253v1M154 255v1M154 262v1M155 252v1M155 262v1M156 261v1M157 252v1M157 254v2M157 261v1M158 261v1M159 261v1M160 262v2M161 262v1M162 263v1M163 253v2M163 264v1M164 253v3M164 264v1M165 251v2M165 264v1M166 251v1M166 253v2M166 267v1M167 251v1M167 254v1M168 252v1M168 254v2M168 266v1M169 251v2M169 254v1M169 266v1M170 266v1M171 268v1M172 266v1M173 266v1M174 268v1M175 268v1M176 266v1M177 269v1M178 267v1M180 266v1M181 268v1M182 267v1M183 268v1M184 268v1M186 266v1M189 269v1M191 270v1M192 270v1M195 270v1M198 271v1M200 270v1M201 268v1M202 271v1M204 268v1M205 268v1M206 269v1M208 268v1M209 271v1M210 274v1M211 273v1M212 272v1M214 266v1M215 267v1M220 266v1M222 268v1M223 268v1M224 267v1M226 269v1M228 265v1M229 265v1M231 266v1M232 265v1M236 264v1M238 263v1M253 259v1M257 260v1M265 258v1M267 258v1M272 258v1M273 259v1M274 259v1M280 258v1M289 260v1M291 261v1M297 264v1M300 261v1M306 262v1M309 261v1M311 259v1M320 259v1M330 259v1M332 260v1M333 259v1M336 259v1M340 259v1M344 259v1M346 260v1M358 259v1M361 260v1M375 258v1M378 251v1M378 254v1M379 254v1M379 257v1M380 251v1M380 254v3M381 251v1M381 255v1M382 254v1M387 258v1M388 259v1M390 260v1M399 260v1M402 260v1M404 261v1M408 262v1M409 264v1M410 266v1M412 268v1M413 272v1M416 272v1M417 271v1M420 270v1M421 270v1M423 271v1M425 270v1M427 273v1M428 276v1M429 272v1M430 275v1M431 270v1M433 268v1M434 269v1M435 267v1M440 272v1M441 272v1M442 272v1M443 270v1M445 269v1M446 272v1M447 272v1M449 274v1M451 269v1M452 271v1M453 269v1M455 269v1M456 267v1M457 269v1M458 268v1M461 268v1M462 270v1M464 268v1M465 271v1M470 268v1M472 270v1M473 268v1M475 268v1M476 268v1M478 268v1M479 268v1M481 268v1M482 267v1M484 266v1M485 269v1M488 267v1M491 267v1M492 267v1M494 267v1M495 268v1M496 271v1M498 268v1M499 269v1M500 272v1M501 271v1M502 277v1M503 272v1M504 270v1M505 268v1M507 267v1M508 268v1M509 274v1M510 269v1M511 266v1M512 268v1M514 269v1M517 266v1M518 264v1M519 264v1M525 265v1M526 263v1M528 264v1M534 264v1M535 263v1M536 262v1M541 266v1M543 262v1"/>
<path stroke="#fc4800" d="M77 276v1M78 278v1M79 275v1M81 274v1M83 273v1M87 270v1M88 270v1M89 274v1M90 271v1M91 272v1M92 273v1M93 274v1M94 275v1M95 271v1M96 271v1M97 267v1M98 270v1M99 271v1M100 268v1M101 268v1M102 268v1M103 268v1M104 268v1M105 270v1M106 268v1M107 270v1M108 269v1M109 269v1M110 271v1M111 267v1M112 267v1M113 269v2M114 270v1M115 269v1M116 272v1M117 272v1M118 269v1M119 270v1M120 270v1M121 272v1M123 267v1M124 267v1M127 266v1M128 265v1M130 266v1M131 265v1M132 265v1M133 265v1M134 265v1M135 267v1M136 267v1M137 265v1M138 265v1M139 265v1M140 265v1M141 265v1M142 264v2M143 254v1M143 263v1M144 263v1M145 251v1M145 264v1M146 264v1M147 263v1M148 263v1M149 263v1M150 264v1M151 262v2M152 253v1M152 263v1M153 262v1M154 263v1M155 251v1M155 263v1M156 251v1M156 262v2M157 251v1M157 253v1M157 262v1M158 262v1M159 262v1M160 264v1M161 263v1M162 264v1M163 251v2M163 265v1M164 265v1M165 265v1M166 268v1M167 268v2M168 267v1M170 267v1M171 269v1M172 267v1M173 267v1M174 269v1M175 269v1M176 267v1M177 270v1M178 268v1M179 268v1M185 266v1M187 266v1M188 270v1M189 270v1M190 270v1M193 268v1M194 270v1M196 270v1M197 272v1M198 272v1M199 272v1M203 268v1M206 270v1M207 271v1M209 272v1M210 275v1M213 269v1M216 267v1M217 269v1M218 268v1M219 267v1M221 267v1M222 269v1M223 269v1M225 271v1M227 267v1M230 265v1M231 267v1M233 266v1M234 269v1M237 265v1M240 261v1M241 262v1M251 260v1M255 260v1M262 259v1M275 258v1M276 258v1M277 258v1M281 259v1M292 261v1M293 262v1M295 261v1M298 261v1M299 261v1M302 260v1M313 259v1M327 258v1M335 260v1M338 259v1M339 259v1M343 260v1M345 259v1M347 259v1M348 259v1M365 259v1M369 259v1M370 259v1M378 253v1M379 253v1M380 253v1M381 252v3M382 252v1M382 257v1M384 258v1M386 258v1M393 259v1M395 259v1M396 259v1M405 261v1M406 262v1M407 262v1M410 267v1M411 269v1M413 273v1M414 268v1M415 270v1M418 273v1M419 272v1M422 270v1M424 270v1M426 273v1M429 273v1M432 270v1M436 269v1M440 273v1M441 273v1M442 273v1M443 271v1M444 268v1M447 273v1M448 271v1M450 271v1M452 272v1M453 270v1M454 271v1M457 270v1M459 270v1M460 269v1M461 269v1M463 270v1M465 272v1M466 267v1M467 268v1M468 268v1M469 267v1M471 268v1M474 268v1M477 267v1M478 269v1M479 269v1M480 268v1M483 268v1M486 266v1M487 270v1M489 267v1M490 266v1M491 268v1M493 266v1M494 268v1M495 269v1M496 272v1M497 271v1M499 270v1M500 273v1M502 278v1M504 271v1M506 266v1M509 275v1M510 270v1M512 269v1M513 268v1M514 270v1M515 266v1M516 268v1M520 264v1M521 264v1M522 264v1M523 263v1M524 264v1M525 266v1M526 264v1M527 264v1M529 264v1M530 263v1M531 265v1M532 264v1M537 263v1M539 265v1M540 266v1M542 266v1"/>
<path stroke="#fcd800" d="M78 252v1M81 255v1M82 255v1M83 254v1M85 252v3M87 252v1M87 254v2M89 252v1M90 255v1M91 255v1M93 252v1M93 254v1M94 252v1M94 254v1M95 252v2M95 255v1M98 256v1M100 256v1M104 253v1M111 255v1M112 255v1M118 256v1M136 255v1M176 251v2M177 254v1M178 254v1M182 256v1M183 257v1M184 258v1M186 257v1M191 257v1M193 258v1M197 259v1M198 259v1M200 259v1M202 259v1M207 259v1M209 259v1M210 260v1M214 257v1M215 258v1M218 258v1M219 257v1M222 257v2M223 257v2M225 258v1M233 258v1M234 257v3M235 258v2M236 257v1M237 257v2M238 257v1M240 257v1M247 257v1M251 257v1M253 257v1M255 257v1M256 257v1M257 257v1M296 257v1M307 257v1M309 257v1M310 256v1M311 253v1M320 256v1M321 257v1M323 256v1M335 256v1M336 256v1M346 257v1M371 256v1M376 251v1M390 256v1M406 257v1M407 257v1M408 257v1M410 258v1M415 259v1M416 260v1M418 260v1M426 260v1M427 260v1M428 261v1M429 260v1M431 259v1M432 259v1M434 259v1M440 259v1M441 259v1M442 259v1M444 258v1M445 258v1M446 257v1M447 259v1M448 256v1M448 258v1M449 259v1M450 258v1M451 258v1M452 255v1M452 257v2M453 255v1M455 258v1M456 257v1M457 258v1M458 258v1M459 254v1M459 256v1M460 252v1M460 254v1M460 258v1M461 258v1M464 258v1M465 259v1M467 258v1M469 258v1M470 258v1M477 258v1M482 258v1M484 258v1M487 259v1M490 258v1M492 258v1M493 258v1M499 259v1M502 261v1M504 259v1M505 258v1M507 258v1M508 258v1M510 258v1M511 257v1M514 257v1M522 253v1M523 251v1M531 251v1M532 254v1"/>
<path stroke="#fcf000" d="M78 253v1M81 251v1M103 251v1M103 253v1M113 255v1M120 256v1M178 252v1M179 252v1M197 256v1M202 256v1M211 256v1M216 256v1M236 256v1M238 256v1M259 256v1M268 256v1M269 256v1M286 257v1M306 255v1M310 254v1M321 255v1M323 255v1M329 254v2M333 256v1M350 256v1M351 256v1M354 256v1M370 256v1M374 255v1M375 251v1M386 255v1M394 256v1M415 257v1M417 257v1M420 257v1M422 257v1M424 257v1M426 257v2M427 257v2M428 257v2M430 257v2M431 257v1M434 256v1M440 256v1M441 252v2M446 256v1M449 255v1M450 253v2M451 251v1M453 251v1M458 255v1M461 252v1M468 256v1M482 257v1M484 257v1M485 257v1M495 257v1M499 257v1M515 256v1M520 255v1M522 252v1"/>
<path stroke="#fcd200" d="M78 255v1M79 255v1M83 253v1M84 254v1M85 251v1M86 255v1M88 251v1M89 251v1M89 253v1M90 256v1M91 251v1M95 254v1M96 255v1M97 256v1M104 251v1M104 254v1M106 255v1M132 257v1M174 251v2M175 251v1M175 253v1M176 254v1M178 255v1M183 258v1M185 258v1M186 258v1M188 259v1M189 259v1M190 259v1M191 259v1M192 259v1M194 259v1M195 259v1M196 259v1M199 260v1M204 259v1M205 259v1M206 259v1M211 260v1M212 260v1M213 259v1M214 258v1M216 258v1M219 258v1M220 258v1M221 257v2M224 257v2M225 257v1M225 259v1M226 257v2M227 257v1M229 259v1M232 258v1M233 257v1M235 257v1M236 258v1M287 257v1M305 257v1M322 258v1M359 257v1M372 256v1M376 253v1M384 255v1M404 257v1M411 259v1M413 260v1M417 260v1M419 260v1M420 260v1M421 260v1M423 260v1M425 260v1M430 261v1M433 259v1M436 259v1M440 260v1M443 259v1M446 259v1M448 259v1M452 256v1M452 259v1M453 258v1M454 259v1M456 258v1M459 251v1M462 259v1M463 259v1M466 258v1M472 259v1M478 259v1M479 259v1M481 259v1M483 259v1M485 259v1M486 258v1M495 259v1M496 260v1M498 259v1M500 260v1M502 262v1M503 260v1M506 258v1M509 260v1M512 258v1M513 258v1M514 258v1M515 257v1M516 257v1M518 256v1M523 252v2M531 253v1M531 255v1M532 251v3"/>
<path stroke="#fcb400" d="M78 256v1M78 260v1M79 259v1M80 257v1M80 259v1M81 259v1M82 259v1M83 256v1M83 259v1M84 260v1M85 258v1M89 260v1M90 259v1M91 259v1M92 258v2M93 256v2M93 259v1M94 257v1M96 257v1M97 257v1M98 257v2M99 257v2M101 257v1M103 258v1M104 256v3M105 257v2M106 257v2M107 257v1M108 257v2M109 257v2M110 257v2M111 257v1M112 257v1M113 258v1M114 257v2M115 257v2M116 258v2M117 257v3M118 257v1M119 258v1M120 258v1M121 257v3M122 257v2M138 251v1M138 253v1M173 253v1M173 255v1M183 260v1M188 261v1M189 261v1M190 261v1M194 261v1M197 262v1M198 262v1M199 262v1M202 262v1M206 261v1M209 262v1M210 263v1M212 262v1M213 261v1M215 260v1M216 260v1M224 260v1M228 259v1M231 260v1M233 260v1M238 259v1M243 258v1M254 257v1M260 257v1M262 257v1M282 257v1M301 257v1M308 257v1M310 257v1M320 257v1M330 257v1M333 257v1M336 257v1M339 257v1M340 257v1M348 257v1M358 257v1M360 257v1M371 257v1M375 256v1M376 255v1M383 253v1M398 257v1M410 260v1M411 261v1M416 263v1M418 263v1M420 262v1M421 262v1M422 262v1M424 262v1M425 262v1M426 263v1M427 263v1M428 265v1M429 263v1M430 264v1M433 261v1M436 261v1M440 262v1M441 262v1M442 262v1M447 262v1M448 261v1M450 261v1M454 261v1M456 260v1M459 261v1M462 261v1M463 261v1M469 260v1M472 261v1M477 260v1M482 260v1M485 261v1M488 260v1M489 260v1M492 260v1M496 262v1M499 261v1M503 262v1M507 260v1M509 263v1M513 260v1M515 259v1M517 259v1M518 258v1M519 258v1M520 258v1M525 257v2M526 252v1M527 252v2M528 253v2M528 256v2M529 252v1M529 257v1M530 256v2M531 256v3M532 257v1M533 252v1M533 254v3M534 253v2"/>
<path stroke="#fcc000" d="M78 257v2M79 256v3M81 257v1M82 257v1M83 257v1M84 253v1M85 255v2M86 256v1M87 256v2M88 256v1M89 256v2M92 257v1M96 256v1M101 256v1M106 256v1M114 256v1M119 257v1M126 256v1M137 255v1M173 252v1M175 255v1M176 255v1M177 255v1M179 257v1M180 256v2M181 257v1M183 259v1M185 259v1M186 259v1M187 259v1M189 260v1M197 261v1M198 261v1M199 261v1M201 260v1M202 261v1M203 260v1M204 260v1M205 260v1M207 261v1M208 260v1M209 261v1M210 262v1M212 261v1M213 260v1M214 259v1M217 260v1M219 259v1M220 259v1M221 259v1M224 259v1M227 259v1M234 261v1M235 261v1M236 259v1M239 258v1M242 258v1M248 257v1M264 257v1M298 257v1M319 257v1M324 257v1M334 258v1M362 257v1M374 256v1M403 257v1M412 260v1M416 262v1M418 262v1M420 261v1M421 261v1M422 261v1M424 261v1M426 262v1M427 262v1M429 262v1M430 263v1M431 261v1M433 260v1M441 261v1M442 261v1M445 260v1M446 261v1M447 261v1M449 261v1M450 260v1M453 260v1M456 259v1M457 260v1M459 260v1M463 260v1M466 259v1M473 260v1M475 260v1M478 260v1M479 260v1M481 260v1M483 260v1M486 259v1M490 259v1M493 259v1M495 260v1M496 261v1M497 261v1M498 260v1M501 261v1M502 264v1M503 261v1M509 262v1M510 260v1M513 259v1M516 259v1M517 258v1M520 256v2M521 257v1M523 257v1M526 251v1M526 253v4M529 255v1M530 251v1M530 254v2M532 255v1"/>
<path stroke="#fca200" d="M78 262v1M79 261v1M80 261v1M82 261v1M83 261v1M84 262v1M85 260v1M86 260v1M90 261v1M91 261v1M92 261v1M94 262v1M97 259v1M98 260v1M99 260v1M100 259v1M101 259v1M102 259v1M105 260v1M107 260v1M109 260v1M111 259v1M112 259v1M113 260v1M114 260v1M116 261v1M117 261v1M118 260v1M121 261v1M123 259v1M124 259v1M126 259v1M128 258v1M129 258v1M130 258v1M131 258v1M172 251v1M172 253v1M172 255v1M173 256v1M174 257v2M175 259v1M176 259v1M177 260v1M178 260v1M179 260v1M181 261v1M189 262v1M202 263v1M204 262v1M207 263v1M210 265v1M211 264v1M213 262v1M215 261v1M216 261v1M217 262v1M224 261v1M229 260v1M231 261v1M234 263v1M235 263v1M241 259v1M244 258v1M249 258v1M256 258v1M261 257v1M270 257v1M278 257v1M293 258v1M309 258v1M322 259v1M353 257v1M369 257v1M384 256v1M409 260v1M410 261v1M411 262v1M413 264v1M419 264v1M422 263v1M423 264v1M424 263v1M427 265v1M430 266v1M431 263v1M433 262v1M436 262v1M445 262v1M446 263v1M449 264v1M452 263v1M453 262v1M456 261v1M457 262v1M459 262v1M463 262v1M465 263v1M469 261v1M477 261v1M482 261v1M485 262v1M488 261v1M492 261v1M496 263v1M499 262v1M501 263v1M502 267v1M507 261v1M509 265v1M510 262v1M513 261v1M515 260v1M516 261v1M517 260v1M518 259v1M519 259v1M528 251v1M528 259v1M531 259v1M535 254v1M535 258v1M536 251v1M536 253v2M537 253v2M538 258v1M539 257v1M540 256v2M541 258v1M542 258v1M543 257v1"/>
<path stroke="#fc8400" d="M78 266v1M80 264v1M84 265v1M85 262v1M86 262v1M87 263v1M88 263v1M89 265v1M91 264v1M95 263v1M96 263v1M99 263v1M103 262v1M104 262v1M106 262v1M108 262v1M110 263v1M111 261v1M115 262v1M116 264v1M117 264v1M119 263v1M120 263v1M121 264v1M124 261v1M126 261v1M128 260v1M131 260v1M132 260v1M133 259v1M134 259v1M135 257v1M136 257v2M138 256v1M167 257v1M168 258v2M169 257v1M169 259v1M171 255v1M171 261v1M174 262v1M175 262v1M177 263v1M178 262v1M181 263v1M183 263v1M185 262v1M187 262v1M189 264v1M193 263v1M199 266v1M212 266v1M213 264v1M220 262v1M225 265v1M227 262v1M230 261v1M237 262v1M238 261v1M241 260v1M244 259v1M246 259v1M259 258v1M267 257v1M268 258v1M275 257v1M287 258v1M291 259v1M294 259v1M296 259v1M302 258v1M305 259v1M335 258v1M367 257v1M373 257v1M375 257v1M376 257v1M390 258v1M397 258v1M408 260v1M411 264v1M415 265v1M416 267v1M417 266v1M418 267v1M424 265v1M426 267v1M428 269v1M429 267v1M432 265v1M433 264v1M440 266v1M441 266v1M442 266v1M443 265v1M445 264v1M446 266v1M447 266v1M448 265v1M449 267v1M450 265v1M451 264v1M453 264v1M454 265v1M455 264v1M456 263v1M457 264v1M459 264v1M463 264v1M465 265v1M467 263v1M468 263v1M471 263v1M472 264v1M474 263v1M476 263v1M480 263v1M481 263v1M483 263v1M484 262v1M486 262v1M487 264v1M490 262v1M491 263v1M493 262v1M494 263v1M496 265v1M498 263v1M499 264v1M501 265v1M505 263v1M508 263v1M509 267v1M510 264v1M512 263v1M521 260v1M531 261v1M535 260v1M538 260v1M540 252v3M540 261v1M542 254v1M542 261v1M543 253v1M543 259v1"/>
<path stroke="#fc4200" d="M78 279v1M79 276v1M80 274v1M81 275v1M82 273v1M84 276v1M85 269v1M86 269v1M87 271v1M89 275v1M90 272v1M91 273v1M92 274v1M93 275v1M94 276v2M95 272v1M96 272v1M97 268v1M98 271v1M99 272v1M100 269v1M101 269v1M102 269v1M103 269v1M104 269v1M105 271v1M106 269v1M107 271v1M108 270v1M109 270v1M110 272v1M112 268v1M113 271v1M114 271v1M115 270v1M116 273v1M117 273v1M118 270v1M119 271v1M120 271v2M121 273v2M122 268v2M125 266v1M126 267v1M127 267v1M129 265v1M132 266v1M134 266v1M135 268v1M136 268v1M137 266v1M138 266v1M139 266v1M140 251v1M140 266v1M141 266v1M142 266v1M143 264v1M144 251v1M144 264v1M145 254v1M145 265v1M146 265v1M147 264v2M148 264v1M149 264v1M150 265v1M151 264v1M152 264v1M153 263v2M154 264v1M155 254v1M155 264v1M156 252v1M156 264v1M157 263v1M158 263v2M159 263v2M160 265v1M161 264v2M162 265v1M163 266v1M164 266v1M165 266v1M166 269v2M167 252v1M167 270v2M168 251v1M168 268v1M169 267v2M170 268v1M171 270v2M172 268v1M173 268v1M174 270v1M175 270v1M177 271v1M178 269v1M179 269v1M180 267v1M181 269v1M182 268v1M183 269v1M184 269v1M186 267v1M188 271v1M190 271v1M191 271v1M192 271v1M195 271v1M196 271v1M197 273v1M198 273v1M199 273v1M200 271v1M201 269v1M202 272v1M203 269v1M204 269v1M205 269v1M207 272v1M208 269v1M210 276v1M211 274v1M212 273v1M213 270v1M214 267v1M215 268v1M217 270v1M218 269v1M220 267v1M223 270v1M224 268v1M225 272v1M226 270v1M228 266v1M229 266v1M232 266v1M234 270v1M235 269v2M236 265v1M238 264v1M239 263v1M243 262v1M245 262v1M246 261v1M249 261v1M254 259v1M258 259v1M260 259v1M266 259v1M268 260v1M286 261v1M287 260v1M290 261v1M291 262v1M294 262v1M295 262v1M296 262v1M298 262v1M299 262v1M300 262v1M301 261v1M304 260v1M305 262v1M307 263v1M308 260v1M314 260v1M315 259v1M316 259v1M317 259v1M322 263v1M323 260v1M331 259v1M334 262v1M337 259v1M342 260v1M353 259v1M354 260v1M359 261v1M366 259v1M368 259v1M374 259v1M378 252v1M379 251v1M397 260v1M398 260v1M401 260v1M403 261v1M408 263v1M409 265v1M411 270v1M412 269v1M413 274v1M416 273v1M417 272v1M419 273v1M420 271v1M421 271v1M422 271v1M423 272v1M425 271v1M426 274v1M427 274v1M428 277v1M429 274v1M430 276v1M431 271v1M432 271v1M433 269v1M434 270v2M435 268v2M436 270v1M441 274v1M445 270v1M446 273v1M447 274v1M448 272v1M449 275v1M450 272v1M451 270v1M452 273v1M454 272v1M455 270v1M456 268v1M458 269v1M459 271v1M460 270v1M462 271v1M463 271v1M464 269v1M465 273v1M468 269v1M469 268v1M470 269v1M472 271v1M473 269v1M474 269v1M475 269v1M476 269v1M481 269v1M482 268v1M483 269v1M484 267v1M485 270v1M487 271v1M488 268v1M492 268v1M497 272v1M498 269v1M501 272v1M502 279v1M503 273v1M505 269v1M507 268v1M508 269v1M509 276v1M510 271v1M511 267v1M513 269v1M514 271v1M516 269v1M517 267v1M518 265v1M519 265v1M522 265v1M527 265v1M528 265v1M533 266v1M534 265v1M535 264v1M536 263v1M538 264v1"/>
<path stroke="#fc9000" d="M79 263v1M80 263v1M81 263v1M84 264v1M85 261v1M87 262v1M88 262v1M91 263v1M92 263v1M93 263v1M94 264v1M95 262v1M96 262v1M99 262v1M103 261v1M104 261v1M106 261v1M108 261v1M110 262v1M115 261v1M117 263v1M119 262v1M120 262v1M121 263v1M122 261v1M126 260v1M127 260v1M129 259v1M131 259v1M132 259v1M134 258v1M135 258v1M171 258v2M172 259v1M174 261v1M175 261v1M177 262v1M178 261v1M180 261v1M181 262v1M197 265v1M199 265v1M200 264v1M201 263v1M204 263v1M205 263v1M212 265v1M213 263v1M215 262v1M216 262v1M217 263v1M225 264v1M226 263v1M232 261v1M235 264v1M236 261v1M240 259v1M251 258v1M255 258v1M279 257v1M286 258v1M288 258v1M297 260v1M298 258v1M301 258v1M307 259v1M332 258v1M334 259v1M349 257v1M350 257v1M356 257v1M374 257v1M377 251v3M377 256v1M383 256v1M391 257v1M394 257v1M415 264v1M416 266v1M417 265v1M418 266v1M425 265v1M428 268v1M429 266v1M430 267v1M432 264v1M433 263v1M434 264v1M440 265v1M441 265v1M442 265v1M443 264v1M445 263v1M447 265v1M448 264v1M449 266v1M450 264v1M451 263v1M453 263v1M454 264v1M455 263v1M456 262v1M457 263v1M482 262v1M485 263v1M486 261v1M491 262v1M492 262v1M494 262v1M497 264v1M499 263v1M500 265v1M501 264v1M502 268v1M506 261v1M510 263v1M513 262v1M514 263v1M516 262v1M517 261v1M518 260v1M519 260v1M523 259v1M525 261v1M528 260v1M530 259v1M534 260v1M537 259v1M539 252v3M540 251v1M540 260v1M541 260v1M542 256v1M542 260v1M543 255v1"/>
<path stroke="#fc3600" d="M79 277v1M80 276v1M81 277v1M82 275v1M83 275v1M84 278v1M85 270v1M87 272v1M88 272v1M89 277v1M90 274v1M91 275v1M92 276v1M93 277v1M94 279v1M95 274v1M96 274v1M98 273v1M99 275v1M100 271v1M101 271v1M102 271v1M103 271v2M104 271v2M105 273v1M106 271v2M107 273v2M108 272v1M109 272v2M110 275v1M111 269v1M112 270v1M113 273v1M114 273v1M115 272v1M116 276v1M117 276v1M118 272v2M119 274v1M120 274v1M121 276v1M122 271v1M123 269v1M124 269v1M126 269v1M127 268v1M128 267v1M130 268v1M131 267v1M133 267v1M134 268v1M135 271v2M136 271v1M137 268v1M138 268v2M139 268v3M140 269v2M141 268v2M142 268v2M143 266v1M144 267v1M145 268v2M146 267v1M147 267v1M148 266v1M149 267v1M150 267v2M151 266v1M152 266v1M153 266v1M154 267v1M155 267v1M156 266v1M157 265v2M158 266v1M159 266v1M160 267v2M161 267v1M162 267v1M163 268v2M164 268v2M165 268v2M166 274v2M167 274v2M168 271v2M169 270v1M170 270v1M171 273v2M172 270v1M173 270v1M174 273v1M175 272v1M176 269v1M177 273v1M178 270v1M180 268v1M181 271v1M182 269v1M186 268v1M188 272v1M189 272v1M190 272v1M191 273v1M192 273v1M194 272v1M196 272v1M198 274v1M199 275v1M202 274v1M203 270v1M206 272v1M208 270v1M209 274v1M210 277v1M211 276v1M212 275v1M213 271v1M214 268v1M215 269v1M217 271v1M218 270v1M220 268v1M222 271v1M223 271v1M225 274v1M226 272v1M227 269v1M228 267v1M231 269v1M232 267v1M233 268v1M234 272v1M235 272v1M237 267v1M239 264v1M241 263v1M247 261v1M252 259v1M264 260v1M270 259v1M285 260v1M288 261v1M291 263v1M292 263v1M293 264v1M294 264v1M295 263v1M296 264v1M297 266v1M299 264v1M300 264v1M301 263v1M302 262v1M303 261v1M306 263v1M309 262v1M319 260v1M321 261v1M324 260v1M332 261v1M351 259v1M352 259v1M357 260v1M372 259v1M381 257v1M390 261v1M392 259v1M394 259v1M399 261v1M403 262v1M408 264v1M410 269v1M411 272v1M413 275v1M415 272v1M416 275v1M417 274v1M418 275v1M419 275v1M420 273v1M421 273v1M422 273v1M423 274v2M424 273v1M425 273v2M426 276v2M427 277v1M428 280v2M429 276v2M430 279v2M431 274v1M432 273v2M433 272v1M434 274v1M435 271v2M436 273v2M440 277v3M441 277v3M442 277v2M443 274v3M444 271v2M445 273v2M446 275v4M447 276v3M448 274v3M449 277v3M450 274v3M451 272v3M452 274v3M453 272v3M454 273v3M455 272v2M456 270v2M457 272v3M458 271v2M459 272v3M460 271v3M461 271v2M462 273v2M463 273v2M464 271v2M465 274v2M466 269v2M467 270v2M468 270v2M469 269v2M470 271v2M471 270v2M472 273v2M473 271v1M474 270v2M475 271v1M476 271v1M477 269v2M478 271v2M479 271v2M480 270v2M481 271v1M482 269v2M483 270v2M484 268v2M485 272v1M486 268v1M487 273v1M488 269v2M489 269v1M490 268v1M491 270v1M492 269v2M493 268v1M494 270v1M495 271v1M496 274v1M497 274v1M499 272v1M500 275v1M501 274v1M502 281v1M503 275v1M504 273v1M507 269v1M508 271v1M509 278v1M510 272v1M511 268v1M512 271v1M513 270v1M514 272v1M516 271v1M518 266v1M519 266v1M522 266v1M524 266v1M525 268v1M527 266v1M531 267v1M532 266v1M534 266v1M535 265v1M536 264v1M538 265v1M541 268v1"/>
<path stroke="#fc3000" d="M79 278v1M80 277v1M81 278v1M82 276v1M83 276v1M84 279v1M85 271v1M86 271v1M87 273v1M88 273v1M89 278v1M92 277v1M93 278v1M94 280v1M95 275v1M96 275v1M97 270v1M99 276v1M101 272v1M102 272v1M103 273v1M104 273v1M105 274v2M106 273v1M107 275v2M108 273v2M109 274v1M110 276v2M111 270v2M112 271v1M113 274v2M114 274v2M115 273v2M116 277v2M117 277v2M118 274v1M119 275v1M120 275v2M121 277v2M122 272v1M123 270v2M124 270v2M125 268v2M126 270v2M127 269v2M128 268v1M129 267v1M130 269v1M131 268v1M132 268v2M133 268v1M134 269v2M135 273v2M136 272v2M137 269v2M138 270v2M139 271v2M140 271v3M141 270v3M142 270v3M143 267v2M144 268v2M145 270v2M146 268v3M147 268v2M148 267v2M149 268v2M150 269v3M151 267v2M152 267v2M153 267v2M154 268v2M155 268v2M156 267v2M157 267v1M158 267v2M159 267v2M160 269v4M161 268v3M162 268v2M163 270v3M164 270v2M165 270v1M166 276v2M167 276v2M168 273v1M169 271v2M170 271v1M171 275v1M172 271v1M173 271v1M174 274v1M175 273v1M176 270v1M177 274v1M178 271v1M179 271v2M180 269v1M181 272v1M182 270v1M183 271v2M184 271v2M185 268v2M186 269v1M187 268v1M188 273v2M189 273v1M190 273v1M191 274v1M192 274v1M193 270v2M194 273v1M195 273v2M196 273v1M197 275v1M198 275v1M199 276v1M200 273v1M201 271v1M203 271v1M204 271v1M205 271v1M207 274v1M208 271v1M209 275v1M210 278v1M211 277v1M212 276v1M213 272v1M214 269v1M215 270v1M216 269v1M217 272v1M218 271v1M219 269v1M220 269v1M221 269v1M222 272v1M223 272v1M224 270v1M225 275v1M226 273v1M227 270v1M228 268v1M229 268v1M230 267v1M231 270v1M232 268v1M233 269v1M234 273v2M235 273v1M236 267v1M238 266v1M239 265v1M240 263v1M241 264v1M250 260v1M257 261v1M279 259v1M282 260v1M287 261v1M288 262v1M289 262v1M290 263v1M291 264v1M293 265v1M294 265v1M295 264v1M296 265v1M297 267v1M298 264v1M299 265v1M300 265v1M304 261v1M307 264v1M310 260v1M312 260v1M318 260v1M322 264v1M333 260v1M334 263v1M341 259v1M346 261v1M349 259v1M350 259v1M355 260v1M356 259v1M360 260v1M361 261v1M364 259v1M375 259v1M377 258v1M378 258v1M389 260v1M391 259v1M398 261v1M400 262v1M401 261v1M402 262v1M404 263v1M405 263v1M406 264v1M407 264v1M409 267v1M412 271v1M413 276v1M414 270v1M415 273v1M416 276v1M417 275v1M418 276v2M419 276v1M420 274v1M421 274v1M422 274v1M423 276v1M424 274v1M425 275v1M426 278v1M427 278v2M428 282v1M429 278v1M430 281v2M431 275v2M432 275v2M433 273v2M434 275v2M435 273v2M436 275v2M440 280v2M441 280v2M442 279v3M443 277v3M444 273v3M445 275v3M446 279v3M447 279v4M448 277v3M449 280v4M450 277v3M451 275v3M452 277v4M453 275v3M454 276v4M455 274v4M456 272v3M457 275v3M458 273v3M459 275v3M460 274v3M461 273v3M462 275v4M463 275v3M464 273v3M465 276v4M466 271v2M467 272v3M468 272v3M469 271v3M470 273v3M471 272v3M472 275v3M473 272v4M474 272v3M475 272v3M476 272v3M477 271v2M478 273v3M479 273v3M480 272v2M481 272v3M482 271v2M483 272v3M484 270v2M485 273v3M486 269v2M487 274v3M488 271v2M489 270v2M490 269v2M491 271v2M492 271v2M493 269v2M494 271v2M495 272v3M496 275v3M497 275v2M498 271v3M499 273v3M500 276v3M501 275v2M502 282v2M503 276v2M504 274v2M505 271v2M506 268v2M507 270v2M508 272v1M509 279v1M510 273v1M511 269v1M512 272v1M513 271v1M514 273v1M515 268v1M517 269v1M519 267v1M520 266v1M521 266v1M523 265v1M525 269v1M526 266v1M528 267v1M529 266v1M530 265v1M533 268v1M537 265v1M538 266v1M539 267v1M540 268v1M542 268v1M543 264v1"/>
<path stroke="#fc2a00" d="M79 279v1M80 278v1M81 279v1M82 277v1M83 277v1M84 280v1M86 272v1M87 274v1M90 275v1M91 276v1M92 278v1M93 279v1M94 281v1M95 276v1M96 276v1M97 271v1M98 274v1M99 277v1M100 272v1M101 273v1M102 273v1M103 274v2M104 274v2M105 276v2M106 274v2M107 277v1M108 275v2M109 275v2M110 278v2M111 272v1M112 272v2M113 276v2M114 276v2M115 275v2M116 279v2M117 279v2M118 275v2M119 276v3M120 277v2M121 279v2M122 273v2M123 272v2M124 272v2M125 270v1M126 272v2M127 271v1M128 269v2M129 268v2M130 270v2M131 269v2M132 270v2M133 269v2M134 271v2M135 275v2M136 274v3M137 271v2M138 272v3M139 273v3M140 274v4M141 273v3M142 273v3M143 269v2M144 270v2M145 272v4M146 271v3M147 270v3M148 269v2M149 270v3M150 272v3M151 269v2M152 269v3M153 269v2M154 270v3M155 270v3M156 269v3M157 268v2M158 269v3M159 269v3M160 273v4M161 271v3M162 270v3M163 273v3M164 272v2M165 271v3M166 278v3M167 278v3M168 274v3M169 273v2M170 272v3M171 276v2M172 272v3M173 272v2M174 275v2M175 274v2M176 271v2M177 275v2M178 272v2M179 273v1M180 270v2M181 273v2M182 271v2M183 273v1M184 273v1M185 270v1M186 270v1M187 269v2M188 275v1M189 274v2M190 274v2M191 275v2M192 275v2M193 272v1M194 274v2M195 275v1M196 274v2M197 276v2M198 276v2M199 277v1M200 274v2M201 272v2M202 275v2M203 272v1M204 272v2M205 272v1M206 273v2M207 275v2M208 272v1M209 276v2M210 279v2M211 278v2M212 277v2M213 273v2M214 270v2M215 271v2M216 270v2M217 273v2M218 272v2M219 270v2M220 270v2M221 270v2M222 273v2M223 273v2M224 271v2M225 276v2M226 274v2M227 271v1M228 269v1M229 269v1M230 268v1M231 271v1M232 269v1M233 270v1M234 275v1M235 274v1M237 268v1M242 264v1M243 263v1M251 261v1M253 260v1M255 261v1M273 260v1M274 260v1M292 264v1M295 265v1M297 268v2M298 265v1M300 266v1M301 264v1M302 263v1M303 262v1M304 262v1M305 263v1M311 260v1M320 260v1M322 265v1M326 259v1M330 260v1M335 261v1M336 260v1M340 260v1M343 261v1M344 260v1M358 260v1M367 259v1M384 259v1M388 260v1M396 260v1M397 261v1M399 262v1M408 265v1M410 270v1M411 273v1M412 272v1M413 277v1M414 271v1M415 274v1M416 277v1M417 276v1M418 278v1M419 277v1M420 275v1M421 275v1M422 275v1M423 277v1M424 275v1M425 276v1M426 279v1M427 280v1M428 283v2M429 279v2M430 283v2M431 277v2M432 277v1M433 275v1M434 277v2M435 275v1M436 277v2M440 282v3M441 282v3M442 282v3M443 280v2M444 276v2M445 278v3M446 282v3M447 283v3M448 280v3M449 284v3M450 280v4M451 278v3M452 281v4M453 278v3M454 280v3M455 278v3M456 275v3M457 278v3M458 276v3M459 278v4M460 277v3M461 276v4M462 279v3M463 278v4M464 276v3M465 280v4M466 273v3M467 275v3M468 275v3M469 274v3M470 276v3M471 275v3M472 278v3M473 276v3M474 275v3M475 275v3M476 275v3M477 273v3M478 276v3M479 276v3M480 274v3M481 275v3M482 273v3M483 275v2M484 272v3M485 276v3M486 271v2M487 277v3M488 273v3M489 272v3M490 271v2M491 273v3M492 273v2M493 271v2M494 273v3M495 275v2M496 278v3M497 277v3M498 274v3M499 276v2M500 279v3M501 277v3M502 284v3M503 278v3M504 276v2M505 273v2M506 270v2M507 272v1M508 273v2M509 280v2M510 274v2M511 270v1M512 273v2M513 272v1M514 274v1M515 269v1M516 272v1M517 270v1M518 267v1M520 267v1M522 267v1M524 267v1M525 270v1M527 267v1M528 268v1M529 267v1M531 268v1M532 267v1M533 269v1M534 267v1M535 266v1M536 265v1M541 269v1"/>
<path stroke="#fc2400" d="M79 280v1M81 280v1M84 281v1M85 272v1M88 274v1M89 279v1M90 276v1M91 277v1M92 279v1M93 280v1M94 282v1M96 277v1M97 272v1M98 275v1M99 278v1M100 273v1M101 274v1M102 274v1M103 276v1M104 276v1M105 278v1M106 276v2M107 278v2M108 277v2M109 277v2M110 280v2M111 273v2M112 274v2M113 278v2M114 278v2M115 277v2M116 281v3M117 281v3M118 277v3M119 279v2M120 279v2M121 281v3M122 275v2M123 274v2M124 274v2M125 271v2M126 274v2M127 272v2M128 271v1M129 270v1M130 272v2M131 271v1M132 272v2M133 271v2M134 273v2M135 277v3M136 277v3M137 273v3M138 275v3M139 276v3M140 278v3M141 276v4M142 276v4M143 271v3M144 272v3M145 276v3M146 274v3M147 273v3M148 271v3M149 273v3M150 275v4M151 271v3M152 272v3M153 271v3M154 273v3M155 273v4M156 272v3M157 270v2M158 272v3M159 272v3M160 277v4M161 274v4M162 273v3M163 276v3M164 274v3M165 274v2M166 281v3M167 281v3M168 277v2M169 275v2M170 275v2M171 278v3M172 275v2M173 274v2M174 277v3M175 276v2M176 273v2M177 277v2M178 274v2M179 274v2M180 272v1M181 275v1M182 273v1M183 274v2M184 274v2M185 271v1M186 271v2M187 271v1M188 276v2M189 276v1M190 276v2M191 277v1M192 277v1M193 273v1M194 276v1M195 276v2M196 276v1M197 278v2M198 278v2M199 278v2M200 276v2M201 274v1M202 277v2M203 273v2M204 274v1M205 273v2M206 275v2M207 277v2M208 273v2M209 278v2M210 281v3M211 280v2M212 279v2M213 275v2M214 272v1M215 273v2M216 272v3M217 275v3M218 274v3M219 272v3M220 272v2M221 272v3M222 275v3M223 275v3M224 273v3M225 278v4M226 276v3M227 272v4M228 270v3M229 270v2M230 269v1M231 272v1M233 271v1M234 276v1M235 275v1M236 268v1M237 269v1M238 267v1M239 266v1M240 264v1M241 265v1M242 265v1M244 262v1M245 263v1M249 262v1M256 262v1M262 260v1M265 259v1M268 261v1M271 259v1M286 262v1M287 262v1M288 263v1M289 263v1M290 264v1M291 265v1M293 266v1M294 266v1M296 266v1M297 270v1M298 266v1M299 266v1M300 267v1M301 265v1M302 264v1M303 263v1M304 263v1M305 264v1M306 264v1M307 265v1M313 260v1M314 261v1M323 261v1M339 260v1M342 261v1M347 260v1M348 260v1M354 261v1M359 262v1M365 260v1M369 260v1M370 260v1M371 261v1M374 260v1M379 258v1M380 257v1M386 259v1M387 259v1M393 260v1M395 260v1M400 263v1M401 262v1M403 263v1M404 264v1M405 264v1M406 265v1M407 265v1M409 268v1M410 271v1M411 274v1M413 278v1M414 272v1M415 275v1M416 278v1M417 277v1M418 279v1M419 278v1M420 276v1M421 276v1M422 276v1M423 278v1M424 276v1M425 277v1M426 280v2M427 281v1M428 285v1M429 281v1M430 285v1M431 279v1M432 278v2M433 276v2M434 279v2M435 276v3M436 279v3M440 285v3M441 285v3M442 285v3M443 282v4M444 278v4M445 281v3M446 285v3M447 286v3M448 283v4M449 287v3M450 284v3M451 281v4M452 285v3M453 281v4M454 283v4M455 281v4M456 278v4M457 281v4M458 279v1M458 281v2M459 282v3M460 280v4M461 280v3M462 282v4M463 282v3M464 279v4M465 284v3M466 276v3M467 278v3M468 278v4M469 277v3M470 279v3M471 278v3M472 281v4M473 279v3M474 278v3M475 278v4M476 278v3M477 276v3M478 279v3M479 279v3M480 277v3M481 278v3M482 276v3M483 277v3M484 275v2M485 279v3M486 273v3M487 280v3M488 276v2M489 275v2M490 273v3M491 276v3M492 275v3M493 273v3M494 276v3M495 277v3M496 281v3M497 280v3M498 277v2M499 278v3M500 282v3M501 280v3M502 287v3M503 281v3M504 278v3M505 275v3M506 272v1M507 273v2M508 275v2M509 282v3M510 276v2M511 271v2M512 275v1M513 273v2M514 275v2M515 270v1M516 273v2M517 271v1M518 268v1M519 268v1M521 267v1M522 268v1M523 266v1M524 268v1M525 271v1M526 267v1M527 268v1M528 269v1M530 266v1M531 269v1M533 270v1M534 268v1M537 266v1M538 267v1M539 268v1M540 269v1M541 270v1M542 269v1"/>
<path stroke="#fccc00" d="M80 256v1M83 252v1M83 255v1M84 251v1M84 255v1M88 252v1M88 254v1M89 254v2M91 256v1M92 255v1M93 255v1M99 256v1M115 256v1M123 256v1M173 251v1M174 253v1M175 252v1M175 254v1M176 253v1M177 256v1M181 256v1M182 257v1M187 258v1M193 259v1M197 260v1M198 260v1M201 259v1M202 260v1M203 259v1M207 260v1M208 259v1M209 260v1M210 261v1M217 259v1M218 259v1M222 259v1M223 259v1M226 259v1M227 258v1M231 259v1M234 260v1M235 260v1M238 258v1M244 257v1M268 257v1M290 258v1M335 257v1M342 257v1M343 257v1M361 257v1M375 255v1M376 252v1M376 254v1M386 256v1M409 258v1M412 259v1M414 259v1M415 260v1M416 261v1M418 261v1M422 260v1M424 260v1M426 261v1M427 261v1M428 262v1M429 261v1M431 260v1M432 260v1M435 259v1M441 260v1M442 260v1M445 259v1M446 260v1M447 260v1M449 260v1M450 259v1M451 259v1M453 259v1M455 259v1M457 259v1M459 259v1M460 259v1M461 259v1M464 259v1M465 260v1M468 259v1M470 259v1M471 259v1M473 259v1M474 259v1M475 259v1M476 259v1M480 259v1M482 259v1M488 259v1M491 259v1M492 259v1M494 259v1M497 260v1M501 260v1M505 259v1M508 259v1M510 259v1M511 258v1M516 258v1M517 256v2M518 257v1M519 256v1M521 256v1M522 255v1M531 252v1M531 254v1"/>
<path stroke="#fc3c00" d="M80 275v1M81 276v1M82 274v1M83 274v1M84 277v1M86 270v1M88 271v1M89 276v1M90 273v1M91 274v1M92 275v1M93 276v1M94 278v1M95 273v1M96 273v1M97 269v1M98 272v1M99 273v2M100 270v1M101 270v1M102 270v1M103 270v1M104 270v1M105 272v1M106 270v1M107 272v1M108 271v1M109 271v1M110 273v2M111 268v1M112 269v1M113 272v1M114 272v1M115 271v1M116 274v2M117 274v2M118 271v1M119 272v2M120 273v1M121 275v1M122 270v1M123 268v1M124 268v1M125 267v1M126 268v1M128 266v1M129 266v1M130 267v1M131 266v1M132 267v1M133 266v1M134 267v1M135 269v2M136 269v2M137 267v1M138 267v1M139 267v1M140 267v2M141 267v1M142 267v1M143 265v1M144 265v2M145 266v2M146 266v1M147 266v1M148 265v1M149 265v2M150 266v1M151 265v1M152 265v1M153 265v1M154 265v2M155 253v1M155 265v2M156 265v1M157 264v1M158 265v1M159 265v1M160 266v1M161 266v1M162 266v1M163 267v1M164 252v1M164 267v1M165 267v1M166 271v3M167 272v2M168 269v2M169 269v1M170 269v1M171 272v1M172 269v1M173 269v1M174 271v2M175 271v1M176 268v1M177 272v1M179 270v1M181 270v1M183 270v1M184 270v1M185 267v1M187 267v1M189 271v1M191 272v1M192 272v1M193 269v1M194 271v1M195 272v1M197 274v1M199 274v1M200 272v1M201 270v1M202 273v1M204 270v1M205 270v1M206 271v1M207 273v1M209 273v1M211 275v1M212 274v1M216 268v1M219 268v1M221 268v1M222 270v1M224 269v1M225 273v1M226 271v1M227 268v1M229 267v1M230 266v1M231 268v1M233 267v1M234 271v1M235 271v1M236 266v1M237 266v1M238 265v1M240 262v1M242 263v1M244 261v1M248 260v1M256 261v1M259 260v1M261 259v1M263 260v1M269 259v1M278 259v1M284 259v1M289 261v1M290 262v1M292 262v1M293 263v1M294 263v1M296 263v1M297 265v1M298 263v1M299 263v1M300 263v1M301 262v1M302 261v1M303 260v1M325 260v1M328 259v1M329 259v1M362 260v1M363 259v1M371 260v1M373 259v1M376 259v1M383 258v1M385 258v1M400 261v1M402 261v1M404 262v1M405 262v1M406 263v1M407 263v1M409 266v1M410 268v1M411 271v1M412 270v1M414 269v1M415 271v1M416 274v1M417 273v1M418 274v1M419 274v1M420 272v1M421 272v1M422 272v1M423 273v1M424 271v2M425 272v1M426 275v1M427 275v2M428 278v2M429 275v1M430 277v2M431 272v2M432 272v1M433 270v2M434 272v2M435 270v1M436 271v2M440 274v3M441 275v2M442 274v3M443 272v2M444 269v2M445 271v2M446 274v1M447 275v1M448 273v1M449 276v1M450 273v1M451 271v1M453 271v1M455 271v1M456 269v1M457 271v1M458 270v1M461 270v1M462 272v1M463 272v1M464 270v1M466 268v1M467 269v1M470 270v1M471 269v1M472 272v1M473 270v1M475 270v1M476 270v1M477 268v1M478 270v1M479 270v1M480 269v1M481 270v1M485 271v1M486 267v1M487 272v1M489 268v1M490 267v1M491 269v1M493 267v1M494 269v1M495 270v1M496 273v1M497 273v1M498 270v1M499 271v1M500 274v1M501 273v1M502 280v1M503 274v1M504 272v1M505 270v1M506 267v1M508 270v1M509 277v1M512 270v1M515 267v1M516 270v1M517 268v1M520 265v1M521 265v1M523 264v1M524 265v1M525 267v1M526 265v1M528 266v1M529 265v1M530 264v1M531 266v1M532 265v1M533 267v1M537 264v1M539 266v1M540 267v1M541 267v1M542 267v1M543 263v1"/>
<path stroke="#fc1e00" d="M80 279v1M82 278v1M83 278v1M84 282v1M85 273v1M86 273v1M87 275v1M88 275v1M89 280v1M90 277v1M91 278v1M92 280v1M93 281v1M94 283v1M95 277v1M96 278v1M97 273v1M98 276v1M99 279v1M100 274v1M101 275v1M102 275v1M103 277v1M104 277v2M105 279v2M106 278v1M107 280v2M108 279v1M109 279v2M110 282v2M111 275v2M112 276v2M113 280v2M114 280v3M115 279v2M116 284v2M117 284v2M118 280v2M119 281v2M120 281v3M121 284v2M122 277v2M123 276v2M124 276v2M125 273v2M126 276v2M127 274v2M128 272v2M129 271v2M130 274v2M131 272v2M132 274v2M133 273v2M134 275v2M135 280v3M136 280v3M137 276v3M138 278v3M139 279v4M140 281v4M141 280v4M142 280v3M143 274v3M144 275v3M145 279v4M146 277v3M147 276v4M148 274v3M149 276v3M150 279v4M151 274v3M152 275v3M153 274v3M154 276v4M155 277v3M156 275v3M157 272v3M158 275v3M159 275v3M160 281v4M161 278v3M162 276v3M163 279v3M164 277v3M165 276v3M166 284v3M167 284v3M168 279v3M169 277v3M170 277v2M171 281v3M172 277v2M173 276v2M174 280v2M175 278v2M176 275v2M177 279v2M178 276v2M179 276v2M180 273v2M181 276v2M182 274v2M183 276v2M184 276v2M185 272v1M186 273v1M187 272v1M188 278v2M189 277v2M190 278v1M191 278v2M192 278v2M193 274v2M194 277v2M195 278v2M196 277v2M197 280v2M198 280v1M199 280v2M200 278v1M201 275v2M202 279v2M203 275v1M204 275v2M205 275v1M206 277v1M207 279v2M208 275v2M209 280v2M210 284v2M211 282v2M212 281v2M213 277v2M214 273v2M215 275v2M216 275v2M217 278v2M218 277v2M219 275v2M220 274v3M221 275v3M222 278v3M223 278v3M224 276v3M225 282v3M226 279v4M227 276v3M228 273v3M229 272v3M230 270v2M231 273v2M232 270v1M234 277v1M235 276v1M236 269v1M237 270v1M238 268v1M243 264v1M246 262v1M258 260v1M259 261v1M260 260v1M266 260v1M272 259v1M281 260v1M285 261v1M286 263v1M289 264v1M291 266v1M292 265v1M293 267v1M294 267v1M295 266v1M296 267v1M297 271v1M298 267v1M299 267v1M300 268v1M301 266v1M302 265v1M303 264v1M305 265v1M306 265v1M308 261v1M309 263v1M334 264v1M338 260v1M345 260v1M353 260v1M362 261v1M366 260v1M373 260v1M376 260v1M382 258v1M383 259v1M394 260v1M396 261v1M397 262v1M398 262v1M399 263v1M402 263v1M408 266v1M409 269v1M410 272v1M411 275v1M412 273v1M413 279v1M414 273v1M415 276v1M416 279v1M417 278v1M418 280v1M419 279v1M420 277v1M421 277v1M422 277v1M423 279v1M424 277v1M425 278v1M426 282v1M427 282v2M428 286v2M429 282v2M430 286v2M431 280v2M432 280v2M433 278v3M434 281v3M435 279v3M436 282v4M440 288v3M441 288v3M442 288v3M443 286v3M444 282v3M445 284v4M446 288v3M447 289v3M448 287v3M449 290v4M450 287v4M451 285v3M452 288v3M453 285v4M454 287v3M455 285v3M456 282v3M457 285v3M458 283v4M459 285v4M460 284v3M461 283v4M462 286v3M463 285v4M464 283v3M465 287v3M466 279v4M467 281v4M468 282v4M469 280v4M470 282v4M471 281v4M472 285v3M473 282v4M474 281v4M475 282v3M476 281v4M477 279v4M478 282v4M479 282v4M480 280v4M481 281v4M482 279v4M483 280v4M484 277v4M485 282v4M486 276v3M487 283v3M488 278v4M489 277v4M490 276v3M491 279v3M492 278v3M493 276v3M494 279v3M495 280v3M496 284v3M497 283v3M498 279v3M499 281v3M500 285v3M501 283v3M502 290v2M503 284v2M504 281v2M505 278v2M506 273v2M507 275v2M508 277v2M509 285v2M510 278v2M511 273v1M512 276v2M513 275v2M514 277v2M515 271v2M516 275v2M517 272v2M518 269v1M519 269v1M520 268v1M521 268v1M522 269v1M523 267v1M525 272v1M526 268v1M527 269v1M529 268v1M531 270v1M532 268v1M533 271v1M535 267v1M539 269v1M540 270v1M542 270v1M543 265v1"/>
<path stroke="#fc1800" d="M80 280v1M81 281v1M82 279v1M83 279v1M84 283v1M86 274v1M87 276v1M88 276v1M89 281v1M91 279v1M92 281v1M94 284v1M95 278v1M96 279v1M98 277v1M99 280v1M100 275v1M101 276v1M102 276v2M103 278v2M104 279v1M105 281v1M106 279v2M107 282v2M108 280v2M109 281v2M110 284v2M111 277v2M112 278v2M113 282v2M114 283v2M115 281v2M116 286v2M117 286v2M118 282v2M119 283v3M120 284v2M121 286v3M122 279v2M123 278v2M124 278v2M125 275v2M126 278v2M127 276v2M128 274v2M129 273v2M130 276v2M131 274v2M132 276v2M133 275v2M134 277v3M135 283v3M136 283v3M137 279v3M138 281v4M139 283v3M140 285v3M141 284v3M142 283v4M143 277v3M144 278v4M145 283v3M146 280v4M147 280v3M148 277v3M149 279v4M150 283v3M151 277v3M152 278v3M153 277v3M154 280v3M155 280v3M156 278v3M157 275v3M158 278v3M159 278v3M160 285v3M161 281v3M162 279v3M163 282v3M164 280v3M165 279v3M166 287v3M167 287v2M168 282v3M169 280v2M170 279v3M171 284v2M172 279v2M173 278v2M174 282v2M175 280v2M176 277v2M177 281v2M178 278v2M179 278v2M180 275v1M181 278v2M182 276v2M183 278v1M184 278v1M185 273v2M186 274v1M187 273v1M188 280v1M189 279v1M190 279v2M191 280v2M192 280v1M193 276v1M194 279v2M195 280v1M196 279v2M197 282v2M198 281v2M199 282v2M200 279v2M201 277v1M202 281v1M203 276v2M204 277v1M205 276v2M206 278v2M207 281v1M208 277v1M209 282v2M210 286v2M211 284v3M212 283v3M213 279v2M214 275v2M215 277v2M216 277v2M217 280v3M218 279v3M219 277v3M220 277v3M221 278v2M222 281v3M223 281v4M224 279v3M225 285v3M226 283v3M227 279v3M228 276v3M229 275v3M230 272v3M231 275v2M232 271v2M233 272v2M234 278v1M235 277v1M236 270v1M237 271v1M238 269v1M239 267v1M240 265v1M241 266v1M242 266v1M243 265v1M244 263v1M247 262v1M248 261v1M254 260v1M261 260v1M263 261v1M267 259v1M269 260v1M275 259v1M277 259v1M280 259v1M284 260v1M287 263v1M288 264v1M290 265v1M295 267v1M296 268v1M297 272v2M299 268v1M300 269v1M301 267v1M304 264v1M305 266v1M306 266v1M307 266v1M308 262v1M315 260v1M316 260v1M317 260v1M321 262v1M322 266v1M324 261v1M325 261v1M331 260v1M332 262v1M337 260v1M361 262v1M363 260v1M368 260v1M378 259v1M381 258v1M385 259v1M390 262v1M395 261v1M400 264v1M401 263v1M403 264v1M404 265v1M405 265v1M406 266v1M407 266v1M409 270v1M410 273v1M411 276v1M412 274v2M413 280v2M415 277v1M416 280v1M417 279v1M418 281v1M419 280v1M420 278v1M421 278v1M422 278v1M423 280v1M424 278v1M425 279v2M426 283v1M427 284v1M428 288v1M429 284v2M430 288v2M431 282v2M432 282v3M433 281v2M434 284v2M435 282v2M436 286v2M440 291v3M441 291v3M442 291v3M443 289v3M444 285v3M445 288v3M446 291v3M447 292v3M448 290v3M449 294v3M450 291v3M451 288v4M452 291v4M453 289v3M454 290v3M455 288v3M456 285v3M457 288v4M458 287v3M459 289v3M460 287v3M461 287v3M462 289v3M463 289v3M464 286v3M465 290v3M466 283v3M467 285v3M468 286v3M469 284v3M470 286v3M471 285v3M472 289v2M473 286v3M474 285v3M475 285v4M476 285v3M477 283v3M478 286v3M479 286v3M480 284v3M481 285v3M482 283v3M483 284v3M484 281v4M485 286v3M486 279v4M487 286v3M488 282v3M489 281v3M490 279v3M491 282v4M492 281v4M493 279v3M494 282v3M495 283v3M496 287v2M497 286v3M498 282v4M499 284v3M500 288v3M501 286v3M502 292v2M503 286v3M504 283v3M505 280v2M506 275v2M507 277v2M508 279v2M509 287v2M510 280v3M511 274v2M512 278v2M513 277v2M514 279v2M515 273v1M516 277v1M517 274v1M518 270v1M519 270v1M520 269v1M521 269v1M522 270v1M524 269v1M525 273v1M526 269v1M527 270v1M528 270v1M529 269v1M530 267v1M531 271v1M532 269v1M533 272v1M534 269v1M535 268v1M536 266v1M537 267v1M538 268v1M540 271v1M541 271v1M542 271v1"/>
<path stroke="#fc1200" d="M80 281v1M81 282v1M82 280v1M83 280v1M84 284v1M85 274v1M87 277v1M89 282v1M90 278v1M93 282v1M94 285v1M95 279v1M96 280v1M97 274v1M98 278v1M99 281v1M100 276v1M101 277v1M102 278v1M103 280v1M104 280v2M105 282v2M106 281v1M107 284v1M108 282v2M109 283v2M110 286v2M111 279v1M112 280v2M113 284v2M114 285v2M115 283v2M116 288v2M117 288v2M118 284v2M119 286v2M120 286v2M121 289v2M122 281v3M123 280v2M124 280v2M125 277v2M126 280v3M127 278v3M128 276v3M129 275v3M130 278v3M131 276v3M132 278v3M133 277v3M134 280v3M135 286v3M136 286v3M137 282v3M138 285v3M139 286v3M140 288v3M141 287v3M142 287v3M143 280v3M144 282v3M145 286v3M146 284v3M147 283v3M148 280v4M149 283v3M150 286v3M151 280v4M152 281v4M153 280v4M154 283v3M155 283v4M156 281v4M157 278v3M158 281v3M159 281v4M160 288v3M161 284v3M162 282v4M163 285v3M164 283v3M165 282v3M166 290v2M167 289v3M168 285v3M169 282v3M170 282v3M171 286v2M172 281v3M173 280v3M174 284v2M175 282v3M176 279v2M177 283v2M178 280v2M179 280v2M180 276v2M181 280v1M182 278v1M183 279v2M184 279v2M185 275v1M186 275v2M187 274v2M188 281v2M189 280v2M190 281v1M191 282v1M192 281v2M193 277v2M194 281v1M195 281v2M196 281v1M197 284v1M198 283v2M199 284v1M200 281v2M201 278v2M202 282v2M203 278v1M204 278v2M205 278v1M206 280v2M207 282v2M208 278v2M209 284v2M210 288v2M211 287v2M212 286v2M213 281v3M214 277v3M215 279v3M216 279v3M217 283v3M218 282v4M219 281v2M220 280v2M221 280v4M222 284v3M223 285v2M224 282v3M225 288v3M226 286v3M227 282v3M228 279v2M229 278v2M230 275v2M231 277v3M232 273v3M233 274v2M234 279v2M235 278v2M236 271v1M237 272v1M239 268v1M241 267v1M242 267v1M245 264v1M257 262v1M264 261v1M276 259v1M278 260v1M285 262v1M286 264v1M288 265v1M289 265v1M291 267v1M292 266v1M293 268v1M294 268v1M296 269v1M297 274v1M298 268v2M299 269v1M300 270v1M301 268v1M302 266v1M303 265v1M304 265v1M305 267v1M306 267v1M308 263v1M309 264v1M310 261v1M319 261v1M327 259v1M328 260v1M329 260v1M334 265v1M346 262v1M357 261v1M372 260v1M375 260v1M377 259v1M391 260v1M392 260v1M393 261v1M397 263v1M398 263v1M402 264v1M408 267v1M410 274v1M411 277v1M412 276v1M413 282v1M414 274v1M415 278v1M416 281v1M417 280v1M418 282v1M419 281v1M420 279v1M421 279v1M422 279v1M423 281v2M424 279v1M425 281v1M426 284v2M427 285v2M428 289v2M429 286v2M430 290v2M431 284v3M432 285v2M433 283v3M434 286v3M435 284v3M436 288v3M440 294v3M441 294v3M442 294v3M443 292v3M444 288v3M445 291v3M446 294v3M447 295v3M448 293v3M449 297v3M450 294v3M451 292v3M452 295v3M453 292v3M454 293v4M455 291v4M456 288v3M457 292v3M458 290v3M459 292v3M460 290v4M461 290v3M462 292v3M463 292v3M464 289v4M465 293v4M466 286v3M467 288v4M468 289v3M469 287v3M470 289v3M471 288v3M472 291v3M473 289v3M474 288v3M475 289v3M476 288v3M477 286v3M478 289v3M479 289v3M480 287v3M481 288v3M482 286v3M483 287v4M484 285v3M485 289v3M486 283v3M487 289v4M488 285v3M489 284v3M490 282v3M491 286v3M492 285v3M493 282v3M494 285v3M495 286v3M496 290v3M497 289v3M498 286v3M499 287v3M500 291v3M501 289v3M502 294v3M503 289v2M504 286v3M505 282v3M506 277v3M507 279v3M508 281v2M509 289v2M510 283v2M511 276v2M512 280v2M513 279v1M514 281v2M515 274v2M516 278v2M517 275v2M518 271v2M519 271v2M520 270v2M521 270v1M522 271v1M523 268v1M524 270v1M525 274v1M526 270v1M528 271v1M529 270v1M531 272v1M532 270v1M533 273v1M534 270v1M539 270v1M541 272v1M543 266v1"/>
<path stroke="#fc0c00" d="M80 282v1M81 283v1M82 281v1M83 281v1M84 285v1M85 275v1M86 275v1M88 277v1M89 283v1M90 279v1M91 280v1M92 282v1M93 283v1M94 286v1M95 280v1M96 281v1M97 275v1M98 279v1M99 282v1M100 277v1M101 278v1M102 279v1M104 282v1M105 284v2M106 282v2M107 285v2M108 284v2M109 285v1M110 288v2M111 280v2M112 282v2M113 286v2M114 287v2M115 285v2M116 290v2M117 290v2M118 286v3M119 288v2M120 288v3M121 291v2M122 284v3M123 282v3M124 282v3M125 279v3M126 283v2M127 281v3M128 279v2M129 278v2M130 281v3M131 279v3M132 281v3M133 280v3M134 283v3M135 289v3M136 289v3M137 285v3M138 288v3M139 289v3M140 291v3M141 290v3M142 290v3M143 283v3M144 285v3M145 289v3M146 287v3M147 286v3M148 284v3M149 286v3M150 289v3M151 284v3M152 285v3M153 284v3M154 286v3M155 287v3M156 285v3M157 281v3M158 284v3M159 285v3M160 291v3M161 287v3M162 286v3M163 288v3M164 286v3M165 285v3M166 292v3M167 292v2M168 288v3M169 285v3M170 285v3M171 288v3M172 284v3M173 283v3M174 286v3M175 285v3M176 281v3M177 285v3M178 282v3M179 282v3M180 278v3M181 281v4M182 279v3M183 281v3M184 281v2M185 276v3M186 277v2M187 276v2M188 283v2M189 282v2M190 282v3M191 283v2M192 283v2M193 279v2M194 282v2M195 283v2M196 282v2M197 285v2M198 285v2M199 285v2M200 283v1M201 280v1M202 284v2M203 279v2M204 280v1M205 279v2M206 282v1M207 284v2M208 280v2M209 286v2M210 290v1M211 289v2M212 288v2M213 284v3M214 280v3M215 282v3M216 282v3M217 286v3M218 286v3M219 283v3M221 284v3M222 287v3M223 287v3M224 285v3M225 291v3M226 289v2M227 285v2M228 281v3M229 280v3M230 277v3M231 280v3M232 276v2M233 276v3M234 281v3M235 280v2M236 272v1M237 273v1M238 270v1M240 266v1M243 266v1M244 264v1M245 265v1M246 263v1M251 262v1M252 260v1M255 262v1M270 260v1M282 261v1M284 261v1M286 265v1M287 264v1M290 266v1M291 268v1M292 267v1M293 269v1M294 269v1M295 268v1M296 270v1M297 275v2M298 270v1M299 270v1M300 271v2M301 269v1M302 267v1M303 266v1M306 268v1M307 267v1M309 265v1M310 262v1M311 261v1M312 261v1M318 261v1M333 261v1M335 262v1M343 262v1M351 260v1M352 260v1M355 261v1M359 263v1M360 261v1M379 259v1M380 258v1M384 260v1M389 261v1M394 261v1M395 262v1M396 262v1M399 264v1M403 265v1M404 266v1M405 266v1M406 267v1M407 267v1M408 268v1M409 271v1M410 275v1M411 278v1M412 277v1M413 283v1M414 275v1M415 279v1M416 282v1M417 281v1M418 283v1M419 282v1M420 280v1M421 280v1M422 280v1M423 283v1M424 280v2M425 282v2M426 286v2M427 287v2M428 291v2M429 288v2M430 292v2M431 287v2M432 287v2M433 286v2M434 289v2M435 287v2M436 291v3M440 297v3M441 297v3M442 297v3M443 295v3M444 291v3M445 294v2M446 297v4M447 298v4M448 296v4M449 300v4M450 297v3M451 295v3M452 298v3M453 295v3M454 297v3M455 295v2M456 291v3M457 295v3M458 293v3M459 295v3M460 294v3M461 293v3M462 295v4M463 295v3M464 293v3M465 297v3M466 289v3M467 292v3M468 292v3M469 290v3M470 292v3M471 291v3M472 294v4M473 292v3M474 291v3M475 292v3M476 291v4M477 289v3M478 292v3M479 292v3M480 290v4M481 291v4M482 289v3M483 291v3M484 288v3M485 292v3M486 286v2M487 293v3M488 288v3M489 287v3M490 285v3M491 289v3M492 288v3M493 285v3M494 288v3M495 289v4M496 293v3M497 292v3M498 289v3M499 290v3M500 294v3M501 292v2M502 297v2M503 291v3M504 289v2M505 285v3M506 280v2M507 282v3M508 283v3M509 291v2M510 285v2M511 278v2M512 282v2M513 280v2M514 283v2M515 276v1M516 280v2M517 277v1M518 273v1M519 273v1M520 272v1M521 271v1M522 272v1M523 269v1M524 271v1M525 275v2M526 271v1M527 271v1M528 272v1M529 271v1M530 268v1M531 273v1M532 271v1M534 271v1M535 269v1M536 267v1M537 268v1M538 269v1M539 271v1M540 272v1M541 273v1M542 272v1"/>
<path stroke="#fc0600" d="M81 284v2M82 282v1M83 282v1M86 276v1M87 278v1M88 278v1M89 284v1M90 280v1M91 281v1M92 283v1M93 284v1M94 287v1M95 281v1M96 282v1M97 276v1M98 280v1M99 283v1M100 278v1M101 279v1M102 280v1M103 282v2M104 283v1M105 286v1M106 284v2M107 287v2M108 286v1M109 286v2M110 290v1M111 282v2M112 284v2M113 288v2M114 289v2M115 287v2M116 292v2M117 292v2M118 289v2M119 290v2M120 291v2M121 293v2M122 287v2M123 285v2M124 285v2M125 282v2M126 285v3M127 284v2M128 281v3M129 280v3M130 284v3M131 282v2M132 284v2M133 283v3M134 286v3M135 292v2M136 292v3M137 288v3M138 291v3M139 292v3M140 294v3M141 293v3M142 293v3M143 286v3M144 288v3M145 292v3M146 290v3M147 289v3M148 287v2M149 289v3M150 292v3M151 287v2M152 288v3M153 287v2M154 289v3M155 290v3M156 288v3M157 284v3M158 287v3M159 288v2M160 294v3M161 290v3M162 289v3M163 291v3M164 289v3M165 288v3M166 295v3M167 294v3M168 291v2M169 288v3M170 288v3M171 291v3M172 287v3M173 286v3M174 289v3M175 288v3M176 284v3M177 288v3M178 285v3M179 285v3M180 281v3M181 285v2M182 282v3M183 284v3M184 283v3M185 279v2M186 279v3M187 278v3M188 285v3M189 284v3M190 285v2M191 285v3M192 285v3M193 281v3M194 284v3M195 285v3M196 284v3M197 287v2M198 287v2M199 287v2M200 284v3M201 281v3M202 286v2M203 281v3M204 281v3M205 281v3M206 283v3M207 286v3M208 282v3M209 288v3M210 291v3M211 291v2M212 290v3M213 287v3M214 283v3M215 285v3M216 285v3M217 289v3M218 289v3M219 286v3M221 287v2M222 290v3M223 290v3M224 288v3M225 294v2M226 291v3M227 287v3M228 284v2M229 283v2M230 280v2M231 283v2M232 278v2M233 279v2M234 284v2M235 282v3M236 273v2M237 274v2M238 271v2M239 269v1M240 267v1M241 268v1M242 268v1M246 264v1M247 263v1M249 263v1M250 261v1M253 261v1M256 263v1M268 262v1M273 261v1M274 261v1M285 263v1M288 266v1M289 266v1M293 270v1M294 270v1M295 269v1M296 271v1M297 277v1M298 271v1M299 271v2M300 273v1M301 270v1M302 268v1M304 266v1M305 268v2M306 269v1M307 268v2M308 264v1M309 266v1M311 262v1M313 261v1M314 262v1M320 261v1M323 262v1M330 261v1M341 260v1M344 261v1M350 260v1M358 261v1M364 260v1M365 261v1M366 261v1M367 260v1M368 261v1M369 261v1M370 261v1M371 262v1M374 261v1M376 261v1M383 260v1M388 261v1M390 263v1M392 261v1M393 262v1M397 264v1M398 264v1M400 265v1M401 264v1M408 269v1M409 272v1M410 276v1M411 279v2M412 278v1M413 284v1M414 276v1M415 280v1M416 283v1M417 282v1M418 284v1M419 283v1M420 281v2M421 281v2M422 281v2M423 284v2M424 282v2M425 284v2M426 288v2M427 289v2M428 293v2M429 290v2M430 294v2M431 289v2M432 289v2M433 288v2M434 291v3M435 289v2M436 294v2M440 300v2M441 300v3M442 300v3M443 298v2M444 294v2M445 296v3M446 301v3M447 302v3M448 300v2M449 304v4M450 300v3M451 298v2M452 301v4M453 298v3M454 300v3M455 297v3M456 294v3M457 298v3M458 296v3M459 298v3M460 297v2M461 296v3M462 299v2M463 298v3M464 296v2M465 300v3M466 292v3M467 295v2M468 295v3M469 293v3M470 295v3M471 294v3M472 298v2M473 295v3M474 294v3M475 295v3M476 295v2M477 292v3M478 295v3M479 295v3M480 294v2M481 295v2M482 292v3M483 294v3M484 291v2M485 295v3M486 288v3M487 296v3M488 291v3M489 290v3M490 288v3M491 292v3M492 291v3M493 288v3M494 291v3M495 293v3M496 296v3M497 295v3M498 292v3M499 293v4M500 297v3M501 294v3M502 299v4M503 294v3M504 291v3M505 288v2M506 282v3M507 285v2M508 286v2M509 293v2M510 287v2M511 280v2M512 284v2M513 282v2M514 285v2M515 277v2M516 282v1M517 278v2M518 274v1M519 274v1M520 273v1M521 272v1M522 273v2M523 270v1M524 272v2M525 277v1M526 272v1M527 272v2M528 273v1M530 269v1M531 274v1M533 274v1M534 272v1M535 270v1M536 268v1M537 269v1M538 270v1M540 273v1M542 273v1M543 267v1"/>
<path stroke="#fc0000" d="M82 283v3M83 283v2M84 286v2M85 276v2M86 277v1M87 279v1M88 279v1M89 285v1M90 281v1M91 282v1M92 284v2M93 285v2M94 288v1M95 282v1M96 283v1M97 277v1M98 281v1M99 284v2M100 279v2M101 280v2M102 281v2M103 284v2M104 284v2M105 287v2M106 286v2M107 289v2M108 287v3M109 288v3M110 291v3M111 284v3M112 286v2M113 290v3M114 291v3M115 289v3M116 294v3M117 294v4M118 291v3M119 292v4M120 293v3M121 295v4M122 289v4M123 287v4M124 287v4M125 284v4M126 288v3M127 286v4M128 284v4M129 283v3M130 287v3M131 284v4M132 286v4M133 286v3M134 289v4M135 294v5M136 295v4M137 291v4M138 294v4M139 295v5M140 297v5M141 296v5M142 296v4M143 289v4M144 291v4M145 295v5M146 293v5M147 292v5M148 289v5M149 292v5M150 295v5M151 289v5M152 291v4M153 289v5M154 292v5M155 293v4M156 291v4M157 287v4M158 290v5M159 290v5M160 297v5M161 293v5M162 292v4M163 294v5M164 292v5M165 291v5M166 298v5M167 297v5M168 293v5M169 291v5M170 291v4M171 294v4M172 290v4M173 289v4M174 292v4M175 291v4M176 287v4M177 291v4M178 288v4M179 288v4M180 284v4M181 287v5M182 285v4M183 287v4M184 286v4M185 281v4M186 282v4M187 281v4M188 288v4M189 287v4M190 287v4M191 288v4M192 288v4M193 284v4M194 287v4M195 288v4M196 287v4M197 289v4M198 289v4M199 289v4M200 287v4M201 284v4M202 288v4M203 284v4M204 284v4M205 284v4M206 286v4M207 289v4M208 285v4M209 291v4M210 294v4M211 293v5M212 293v4M213 290v4M214 286v4M215 288v4M216 288v4M217 292v5M218 292v4M219 289v4M221 289v4M222 293v4M223 293v4M224 291v4M225 296v4M226 294v4M227 290v4M228 286v4M229 285v4M230 282v3M231 285v4M232 280v4M233 281v4M234 286v4M235 285v3M236 275v3M237 276v3M238 273v2M239 270v2M240 268v1M241 269v1M242 269v1M243 267v1M244 265v1M245 266v1M246 265v1M247 264v1M248 262v1M259 262v1M262 261v1M279 260v1M281 261v1M282 262v1M284 262v1M285 264v1M286 266v1M287 265v1M288 267v1M290 267v1M291 269v2M292 268v2M293 271v2M294 271v2M295 270v2M296 272v2M297 278v3M298 272v2M299 273v2M300 274v2M301 271v2M302 269v2M303 267v2M304 267v1M305 270v1M306 270v2M307 270v1M308 265v1M309 267v1M310 263v1M311 263v1M312 262v1M315 261v1M321 263v1M322 267v1M326 260v1M334 266v1M336 261v1M339 261v1M340 261v1M342 262v1M347 261v1M348 261v1M349 260v1M353 261v1M354 262v1M356 260v1M360 262v1M361 263v1M362 262v1M363 261v1M364 261v1M365 262v1M367 261v1M369 262v1M370 262v1M371 263v1M372 261v1M373 261v1M378 260v1M381 259v1M382 259v1M386 260v1M387 260v1M389 262v1M390 264v1M391 261v1M394 262v1M395 263v1M396 263v1M399 265v1M400 266v1M402 265v1M403 266v1M404 267v1M405 267v1M406 268v1M407 268v1M408 270v1M409 273v2M410 277v1M411 281v1M412 279v1M413 285v2M414 277v2M415 281v1M416 284v2M417 283v2M418 285v2M419 284v3M420 283v2M421 283v3M422 283v3M423 286v2M424 284v3M425 286v2M426 290v2M427 291v3M428 295v3M429 292v3M430 296v3M431 291v3M432 291v4M433 290v3M434 294v3M435 291v4M436 296v3M440 302v5M441 303v4M442 303v5M443 300v5M444 296v4M445 299v4M446 304v5M447 305v5M448 302v6M449 308v4M450 303v6M451 300v5M452 305v5M453 301v5M454 303v5M455 300v5M456 297v3M457 301v5M458 299v4M459 301v5M460 299v5M461 299v4M462 301v6M463 301v5M464 298v4M465 303v5M466 295v4M467 297v4M468 298v4M469 296v3M470 298v4M471 297v4M472 300v6M473 298v4M474 297v4M475 298v4M476 297v4M477 295v4M478 298v4M479 298v4M480 296v4M481 297v4M482 295v4M483 297v3M484 293v4M485 298v4M486 291v4M487 299v4M488 294v4M489 293v4M490 291v3M491 295v3M492 294v3M493 291v3M494 294v4M495 296v3M496 299v5M497 298v5M498 295v2M498 298v1M499 297v4M500 300v5M501 297v5M502 303v5M503 297v4M504 294v4M505 290v4M506 285v3M507 287v3M508 288v4M509 295v4M510 289v4M511 282v3M512 286v4M513 284v4M514 287v3M515 279v3M516 283v3M517 280v2M518 275v2M519 275v2M520 274v2M521 273v2M522 275v2M523 271v2M524 274v1M525 278v2M526 273v1M527 274v1M528 274v2M529 272v2M530 270v1M531 275v1M532 272v2M533 275v2M534 273v1M535 271v1M538 271v1M539 272v1M540 274v1M541 274v2M542 274v1"/>
<path stroke="#f60000" d="M82 286v1M83 285v2M84 288v2M85 278v1M86 278v1M87 280v1M88 280v1M89 286v1M90 282v1M91 283v1M94 289v1M95 283v1M96 284v1M97 278v1M98 282v2M99 286v1M100 281v1M101 282v1M102 283v1M103 286v1M104 286v2M105 289v2M106 288v1M107 291v1M108 290v1M109 291v1M110 294v2M111 287v1M112 288v2M113 293v2M114 294v2M115 292v2M116 297v2M117 298v2M118 294v2M119 296v2M120 296v3M121 299v2M122 293v2M123 291v2M124 291v3M125 288v2M126 291v3M127 290v3M128 288v2M129 286v2M130 290v3M131 288v2M132 290v2M133 289v3M134 293v2M135 299v2M136 299v3M137 295v3M138 298v3M139 300v3M140 302v4M141 301v4M142 300v4M143 293v3M144 295v3M145 300v4M146 298v3M147 297v3M148 294v3M149 297v3M150 300v3M151 294v3M152 295v3M153 294v3M154 297v3M155 297v3M156 295v3M157 291v3M158 295v3M159 295v3M160 302v4M161 298v3M162 296v3M163 299v3M164 297v3M165 296v2M166 303v4M167 302v4M168 298v3M169 296v2M170 295v3M171 298v3M172 294v3M173 293v3M174 296v3M175 295v3M176 291v3M177 295v3M178 292v3M179 292v3M180 288v3M181 292v2M182 289v3M183 291v2M184 290v3M185 285v3M186 286v2M187 285v2M188 292v3M189 291v3M190 291v3M191 292v3M192 292v3M193 288v2M194 291v3M195 292v2M196 291v3M197 293v3M198 293v3M199 293v3M200 291v3M201 288v3M202 292v3M203 288v2M204 288v3M205 288v2M206 290v3M207 293v2M208 289v3M209 295v2M210 298v3M211 298v2M212 297v3M213 294v3M214 290v2M215 292v3M216 292v3M217 297v2M218 296v2M219 293v2M221 293v2M222 297v2M223 297v2M224 295v1M225 300v4M226 298v3M227 294v2M228 290v1M229 289v2M230 285v3M231 289v2M232 284v2M233 285v2M234 290v2M235 288v2M236 278v2M237 279v2M238 275v2M239 272v2M240 269v1M241 270v1M242 270v1M243 268v1M244 266v1M245 267v1M248 263v1M249 264v1M257 263v1M258 261v1M260 261v1M263 262v1M265 260v1M266 261v1M271 260v1M280 260v1M281 262v1M282 263v1M286 267v1M287 266v1M289 267v1M290 268v1M291 271v1M293 273v1M294 273v1M295 272v1M296 274v1M297 281v1M298 274v1M299 275v1M300 276v2M301 273v1M302 271v1M303 269v1M304 268v1M305 271v2M306 272v1M307 271v2M308 266v1M310 264v1M312 263v1M313 262v1M314 263v1M316 261v1M317 261v1M318 262v1M319 262v1M320 262v1M324 262v1M325 262v1M327 260v1M328 261v1M329 261v1M331 261v1M332 263v1M337 261v1M338 261v1M345 261v1M346 263v1M351 261v1M352 261v1M355 262v1M356 261v1M357 262v1M358 262v1M359 264v1M361 264v1M362 263v1M366 262v1M368 262v1M372 262v1M373 262v1M374 262v1M375 261v1M379 260v1M380 259v1M385 260v1M388 262v1M391 262v1M392 262v1M393 263v1M397 265v1M398 265v1M401 265v1M402 266v1M404 268v1M405 268v1M406 269v1M407 269v1M408 271v1M409 275v1M410 278v2M411 282v1M412 280v1M413 287v1M415 282v1M416 286v1M417 285v1M418 287v2M419 287v1M420 285v2M421 286v1M422 286v1M423 288v2M424 287v1M425 288v2M426 292v2M427 294v2M428 298v2M429 295v2M430 299v2M431 294v2M432 295v2M433 293v2M434 297v2M435 295v2M436 299v3M440 307v3M441 307v3M442 308v3M443 305v3M444 300v2M445 303v3M446 309v3M447 310v3M448 308v3M449 312v3M450 309v3M451 305v4M452 310v3M453 306v3M454 308v3M455 305v4M456 300v4M457 306v3M458 303v3M459 306v4M460 304v3M461 303v4M462 307v3M463 306v3M464 302v4M465 308v4M466 299v2M467 301v3M468 302v3M469 299v3M470 302v4M471 301v3M472 306v3M473 302v3M474 301v3M475 302v3M476 301v4M477 299v2M478 302v4M479 302v4M480 300v3M481 301v4M482 299v2M483 300v4M484 297v2M485 302v4M486 295v2M487 303v4M488 298v2M489 297v2M490 294v3M491 298v3M492 297v3M493 294v3M494 298v3M495 299v3M496 304v4M497 303v4M498 299v2M499 301v3M500 305v3M501 302v3M502 308v3M503 301v3M504 298v1M505 294v2M506 288v2M507 290v3M508 292v2M509 299v2M510 293v2M511 285v2M512 290v2M513 288v2M514 290v2M515 282v2M516 286v2M517 282v2M518 277v2M519 277v2M520 276v1M521 275v1M522 277v1M523 273v1M524 275v2M525 280v1M526 274v1M527 275v1M528 276v1M529 274v1M530 271v1M531 276v1M532 274v1M533 277v1M534 274v1M535 272v1M536 269v1M537 270v1M539 273v1M540 275v1M542 275v1M543 268v1"/>
<path stroke="#f00000" d="M83 287v1M84 290v2M85 279v2M86 279v2M87 281v2M88 281v1M89 287v1M90 283v1M91 284v1M92 286v2M93 287v2M94 290v1M95 284v1M96 285v1M97 279v1M98 284v1M99 287v1M100 282v2M101 283v2M102 284v2M103 287v1M104 288v1M105 291v1M106 289v2M107 292v2M108 291v2M109 292v2M110 296v2M111 288v2M112 290v2M113 295v2M114 296v2M115 294v2M116 299v3M117 300v2M118 296v2M119 298v2M120 299v2M121 301v3M122 295v2M123 293v3M124 294v2M125 290v3M126 294v2M127 293v2M128 290v2M129 288v3M130 293v2M131 290v3M132 292v3M133 292v2M134 295v3M135 301v4M136 302v4M137 298v3M138 301v3M139 303v4M140 306v4M141 305v4M142 304v4M143 296v3M144 298v3M145 304v3M146 301v3M147 300v3M148 297v3M149 300v3M150 303v4M151 297v3M152 298v3M153 297v3M154 300v4M155 300v4M156 298v3M157 294v3M158 298v1M158 300v1M159 298v3M160 306v4M161 301v4M162 299v3M163 302v4M164 300v3M165 298v3M166 307v4M167 306v4M168 301v4M169 298v3M170 298v3M171 301v4M172 297v3M173 296v2M174 299v3M175 298v2M176 294v3M177 298v3M178 295v2M179 295v2M180 291v2M181 294v3M182 292v2M183 293v3M184 293v3M185 288v2M186 288v3M187 287v2M188 295v2M189 294v3M190 294v3M191 295v2M192 295v2M193 290v3M194 294v2M195 294v3M196 294v2M197 296v3M198 296v2M199 296v3M200 294v2M201 291v2M202 295v2M203 290v3M204 291v2M205 290v3M206 293v2M207 295v3M208 292v3M209 297v3M210 301v4M211 300v4M212 300v4M213 297v2M214 292v3M215 295v2M216 295v2M217 299v3M218 298v3M219 295v2M221 295v2M222 299v2M223 299v2M224 296v2M225 304v1M226 301v1M227 296v1M228 291v2M229 291v2M230 288v2M231 291v2M232 286v2M233 287v2M234 292v2M235 290v2M236 280v2M237 281v2M238 277v2M239 274v1M240 270v1M241 271v1M242 271v1M243 269v1M245 268v1M246 266v1M247 265v1M250 262v1M251 263v1M252 261v1M254 261v1M256 264v1M261 261v1M264 262v1M269 261v1M272 260v1M276 260v1M277 260v1M278 261v1M279 261v1M284 263v1M285 265v1M286 268v1M288 268v1M289 268v1M290 269v1M292 270v1M293 274v1M294 274v1M295 273v1M296 275v1M297 282v2M298 275v1M299 276v1M300 278v1M301 274v1M302 272v1M303 270v1M304 269v1M305 273v1M306 273v1M307 273v1M309 268v2M310 265v1M311 264v1M312 264v1M313 263v1M314 264v1M315 262v1M321 264v1M323 263v1M326 261v1M330 262v1M333 262v1M335 263v1M336 262v1M339 262v1M340 262v1M341 261v1M342 263v1M343 263v1M344 262v1M345 262v1M347 262v1M348 262v1M349 261v1M350 261v1M353 262v1M354 263v1M357 263v1M359 265v1M360 263v1M363 262v1M364 262v1M365 263v1M367 262v1M368 263v1M369 263v1M370 263v1M371 264v1M375 262v1M376 262v1M377 260v1M386 261v1M387 261v1M388 263v1M389 263v1M390 265v1M394 263v1M395 264v1M396 264v1M399 266v1M400 267v1M403 267v1M404 269v1M405 269v1M406 270v1M407 270v1M408 272v1M409 276v1M410 280v1M411 283v2M412 281v1M413 288v1M414 279v2M415 283v2M416 287v2M417 286v2M418 289v1M419 288v2M420 287v1M421 287v2M422 287v2M423 290v2M424 288v2M425 290v2M426 294v2M427 296v1M428 300v2M429 297v2M430 301v3M431 296v2M432 297v2M433 295v3M434 299v3M435 297v2M436 302v3M440 310v3M441 310v3M442 311v3M443 308v3M444 302v4M445 306v4M446 312v3M447 313v3M448 311v3M449 315v3M450 312v3M451 309v3M452 313v3M453 309v3M454 311v4M455 309v3M456 304v3M457 309v4M458 306v4M459 310v3M460 307v4M461 307v3M462 310v3M463 309v4M464 306v4M465 312v3M466 301v4M467 304v4M468 305v4M469 302v4M470 306v3M471 304v4M472 309v3M473 305v4M474 304v4M475 305v4M476 305v3M477 301v4M478 306v3M479 306v3M480 303v4M481 305v3M482 301v4M483 304v3M484 299v3M485 306v3M486 297v3M487 307v3M488 300v4M489 299v3M490 297v3M491 301v3M492 300v3M493 297v2M494 301v3M495 302v4M496 308v3M497 307v3M498 301v3M499 304v3M500 308v3M501 305v3M502 311v3M503 304v3M504 300v3M505 296v3M506 290v3M507 293v2M508 294v2M509 301v3M510 295v2M511 287v2M512 292v2M513 290v2M514 292v2M515 284v2M516 288v2M517 284v2M518 279v1M519 279v1M520 277v2M521 276v2M522 278v1M523 274v1M524 277v1M525 281v2M526 275v1M527 276v1M528 277v1M529 275v1M530 272v1M531 277v1M532 275v1M533 278v1M534 275v1M535 273v1M536 270v1M537 271v1M538 272v1M539 274v1M540 276v1M541 276v1"/>
<path stroke="#ea0000" d="M85 281v1M86 281v1M87 283v1M88 282v1M89 288v1M90 284v1M91 285v1M92 288v1M93 289v1M94 291v1M95 285v2M96 286v2M97 280v1M98 285v1M99 288v2M100 284v1M101 285v1M102 286v1M103 288v2M104 289v1M105 292v2M106 291v1M107 294v2M108 293v1M109 294v2M110 298v1M111 290v2M112 292v2M113 297v2M114 298v2M115 296v2M116 302v2M117 302v3M118 298v3M119 300v3M120 301v3M121 304v3M122 297v3M123 296v2M124 296v2M125 293v2M126 296v3M127 295v2M128 292v3M129 291v2M130 295v3M131 293v2M132 295v2M133 294v3M134 298v2M135 305v3M136 306v3M137 301v3M138 304v4M139 307v3M140 310v3M141 309v3M142 308v3M143 299v3M144 301v4M145 307v4M146 304v4M147 303v4M148 300v3M149 303v4M150 307v4M151 300v3M152 301v4M153 300v3M154 304v4M155 304v4M156 301v4M157 297v3M158 301v4M159 301v4M160 310v4M161 305v5M162 302v5M163 306v4M164 303v4M165 301v5M166 311v3M167 310v3M168 305v3M169 301v4M170 301v3M171 305v4M172 300v3M173 298v3M174 302v4M175 300v4M176 297v2M177 301v4M178 297v3M179 297v3M180 293v3M181 297v3M182 294v3M183 296v3M184 296v2M185 290v2M186 291v2M187 289v3M188 297v3M189 297v2M190 297v2M191 297v3M192 297v3M193 293v2M194 296v3M195 297v2M196 296v3M197 299v2M198 298v3M199 299v2M200 296v3M201 293v3M202 297v3M203 293v2M204 293v3M205 293v2M206 295v3M207 298v3M208 295v2M209 300v3M210 305v3M211 304v3M212 304v2M213 299v3M214 295v2M215 297v2M216 297v2M217 302v3M218 301v2M219 297v2M221 297v2M222 301v2M223 301v2M224 298v2M225 305v2M226 302v2M227 297v1M228 293v1M229 293v1M230 290v1M231 293v3M232 288v2M233 289v2M234 294v2M235 292v2M236 282v2M237 283v2M238 279v1M239 275v2M240 271v2M241 272v2M242 272v1M243 270v1M244 267v1M247 266v1M248 264v1M249 265v1M253 262v1M255 263v1M267 260v1M275 260v1M280 261v1M281 263v1M282 264v1M286 269v1M287 267v1M288 269v1M291 272v1M292 271v1M293 275v1M294 275v1M295 274v1M296 276v1M297 284v1M298 276v1M299 277v2M300 279v2M301 275v2M302 273v1M303 271v1M304 270v2M305 274v2M306 274v2M307 274v1M308 267v1M309 270v1M316 262v1M317 262v1M318 263v1M319 263v1M320 263v1M323 264v1M324 263v1M325 263v1M328 262v1M329 262v1M331 262v1M332 264v1M335 264v1M337 262v1M338 262v1M343 264v1M344 263v1M346 264v1M351 262v1M352 262v1M354 264v1M355 263v1M358 263v1M359 266v1M361 265v1M362 264v1M363 263v1M366 263v1M371 265v1M372 263v1M373 263v1M374 263v1M376 263v1M383 261v1M384 261v1M385 261v1M389 264v1M390 266v1M392 263v1M393 264v1M398 266v1M401 266v1M402 267v1M403 268v1M404 270v1M406 271v1M407 271v1M408 273v1M409 277v1M410 281v1M411 285v1M412 282v1M413 289v1M414 281v1M415 285v1M416 289v1M417 288v1M418 290v2M419 290v1M420 288v2M421 289v1M422 289v1M423 292v1M424 290v1M425 292v1M426 296v2M427 297v2M428 302v2M429 299v2M430 304v2M431 298v2M432 299v2M433 298v2M434 302v2M435 299v2M436 305v3M440 313v3M441 313v3M442 314v2M443 311v3M444 306v2M445 310v2M446 315v2M447 316v2M448 314v2M449 318v2M450 315v2M451 312v2M452 316v2M453 312v2M454 315v1M455 312v2M456 307v2M457 313v1M458 310v2M459 313v2M460 311v2M461 310v2M462 313v2M463 313v2M464 310v2M465 315v2M466 305v2M467 308v3M468 309v2M469 306v3M470 309v3M471 308v3M472 312v3M473 309v3M474 308v3M475 309v3M476 308v3M477 305v3M478 309v3M479 309v3M480 307v3M481 308v3M482 305v3M483 307v4M484 302v4M485 309v4M486 300v3M487 310v3M488 304v3M489 302v3M490 300v2M491 304v4M492 303v4M493 299v3M494 304v3M495 306v3M496 311v3M497 310v3M498 304v4M499 307v4M500 311v3M501 308v4M502 314v2M503 307v3M504 303v3M505 299v2M506 293v2M507 295v2M508 296v3M509 304v3M510 297v2M511 289v2M512 294v2M513 292v2M514 294v2M515 286v1M516 290v2M517 286v2M518 280v2M519 280v2M520 279v1M521 278v1M522 279v2M523 275v1M524 278v1M525 283v1M526 276v2M527 277v1M528 278v1M529 276v1M530 273v1M531 278v1M532 276v1M533 279v1M534 276v1M536 271v1M537 272v1M538 273v1M539 275v1M540 277v1M541 277v1M542 276v1M543 269v1"/>
<path stroke="#e40000" d="M85 282v1M86 282v1M87 284v1M88 283v1M89 289v1M90 285v1M91 286v1M92 289v1M93 290v1M94 292v1M95 287v1M96 288v1M97 281v1M98 286v1M99 290v1M100 285v1M101 286v1M102 287v1M103 290v1M104 290v2M105 294v1M106 292v2M107 296v1M108 294v2M109 296v1M110 299v2M111 292v2M112 294v2M113 299v2M114 300v2M115 298v2M116 304v3M117 305v2M118 301v2M119 303v3M120 304v3M121 307v3M122 300v3M123 298v3M124 298v3M125 295v2M126 299v2M127 297v3M128 295v2M129 293v3M130 298v2M131 295v3M132 297v3M133 297v2M134 300v4M135 308v4M136 309v4M137 304v4M138 308v4M139 310v4M140 313v4M141 312v4M142 311v4M143 302v4M144 305v4M145 311v4M146 308v4M147 307v4M148 303v4M149 307v4M150 311v4M151 303v4M152 305v4M153 303v4M154 308v4M155 308v4M156 305v5M157 300v3M158 305v4M159 305v4M160 314v4M161 310v4M162 307v4M163 310v4M164 307v4M165 306v4M166 314v4M167 313v4M168 308v4M169 305v4M170 304v4M171 309v3M172 303v4M173 301v4M174 306v4M175 304v3M176 299v3M177 305v3M178 300v3M179 300v3M180 296v2M181 300v2M182 297v2M183 299v2M184 298v3M185 292v3M186 293v3M187 292v2M188 300v3M189 299v3M190 299v3M191 300v3M192 300v3M193 295v3M194 299v2M195 299v3M196 299v2M197 301v4M198 301v3M199 301v4M200 299v2M201 296v2M202 300v3M203 295v2M204 296v2M205 295v3M206 298v2M207 301v3M208 297v2M209 303v3M210 308v2M211 307v3M212 306v3M213 302v3M214 297v2M215 299v3M216 299v2M217 305v2M218 303v3M219 299v3M221 299v1M222 303v2M223 303v2M224 300v1M225 307v2M226 304v2M227 298v2M228 294v1M229 294v2M230 291v2M231 296v2M232 290v3M233 291v2M234 296v2M235 294v2M236 284v2M237 285v2M238 280v2M239 277v2M240 273v1M241 274v1M242 273v2M245 269v1M246 267v1M249 266v1M250 263v1M251 264v1M252 262v1M253 263v1M254 262v1M268 263v1M270 261v1M273 262v1M274 262v1M275 261v1M276 261v1M277 261v1M278 262v1M279 262v1M284 264v1M285 266v1M287 268v1M288 270v1M289 269v1M290 270v1M291 273v1M292 272v1M293 276v1M294 276v1M295 275v1M296 277v1M297 285v1M298 277v1M299 279v1M300 281v1M301 277v1M302 274v1M303 272v1M304 272v1M305 276v1M306 276v2M307 275v2M308 268v1M309 271v1M310 266v1M311 265v1M312 265v1M313 264v1M314 265v1M315 263v1M316 263v1M317 263v1M319 264v1M321 265v1M322 268v1M324 264v1M325 264v1M326 262v1M327 261v1M330 263v1M332 265v1M333 263v1M334 267v1M336 263v1M338 263v1M339 263v1M340 263v1M341 262v1M342 264v1M343 265v1M345 263v1M346 265v1M347 263v1M348 263v1M349 262v1M350 262v1M353 263v1M356 262v1M357 264v1M358 264v1M360 264v1M361 266v1M362 265v1M365 264v1M367 263v1M368 264v1M369 264v1M370 264v1M373 264v1M374 264v1M375 263v1M377 261v1M378 261v1M381 260v1M382 260v1M384 262v1M386 262v1M387 262v1M388 264v1M391 263v1M397 266v1M399 267v1M400 268v1M403 269v1M404 271v1M405 270v1M406 272v1M407 272v1M409 278v1M410 282v1M411 286v1M412 283v2M413 290v1M414 282v2M415 286v2M416 290v2M417 289v2M418 292v1M419 291v2M420 290v1M421 290v2M422 290v2M423 293v2M424 291v2M425 293v2M426 298v2M427 299v2M428 304v2M429 301v2M430 306v2M431 300v3M432 301v2M433 300v2M434 304v3M435 301v3M436 308v2M440 316v1M441 316v2M442 316v2M443 314v2M444 308v2M445 312v2M446 317v2M447 318v2M448 316v2M449 320v3M450 317v2M451 314v2M452 318v2M453 314v2M454 316v2M455 314v2M456 310v2M457 314v2M458 312v2M459 315v2M460 313v2M461 312v2M462 315v2M463 315v2M464 312v2M465 317v2M466 307v2M467 311v2M468 311v2M469 309v2M470 312v2M471 311v2M472 315v2M473 312v2M474 311v2M475 312v2M476 311v2M477 308v2M478 312v2M479 312v2M480 310v2M481 311v3M482 308v3M483 311v2M484 306v2M485 313v2M486 303v2M487 313v3M488 307v3M489 305v3M490 302v3M491 308v3M492 307v2M493 302v3M494 307v3M495 309v3M496 314v3M497 313v3M498 308v3M499 311v3M500 314v3M501 312v3M502 316v3M503 310v3M504 306v3M505 301v3M506 295v2M507 297v3M508 299v2M509 307v2M510 299v2M511 291v2M512 296v2M513 294v2M514 296v1M515 287v2M516 292v2M517 288v1M518 282v2M519 282v2M520 280v2M521 279v2M522 281v1M523 276v2M524 279v1M525 284v1M526 278v1M527 278v2M528 279v1M529 277v1M530 274v1M531 279v1M532 277v1M533 280v1M534 277v1M535 274v1M536 272v1M537 273v1M538 274v1M539 276v1M540 278v1M541 278v1M542 277v1"/>
<path stroke="#de0000" d="M85 283v2M86 283v1M87 285v1M88 284v1M89 290v1M90 286v1M91 287v1M92 290v1M93 291v1M94 293v1M95 288v1M96 289v1M97 282v1M98 287v1M99 291v1M100 286v1M101 287v1M102 288v1M103 291v1M104 292v1M105 295v1M106 294v1M107 297v2M108 296v2M109 297v2M110 301v2M111 294v1M112 296v1M113 301v2M114 302v2M115 300v3M116 307v2M117 307v3M118 303v3M119 306v2M120 307v2M121 310v2M122 303v3M123 301v3M124 301v3M125 297v3M126 301v4M127 300v3M128 297v3M129 296v2M130 300v3M131 298v2M132 300v3M133 299v3M134 304v3M135 312v3M136 313v3M137 308v4M138 312v3M139 314v3M140 317v3M141 316v2M142 315v3M143 306v3M144 309v3M145 315v2M146 312v3M147 311v3M148 307v3M149 311v3M150 315v2M151 307v3M152 309v3M153 307v3M154 312v2M155 312v3M156 310v2M157 303v3M158 309v2M159 309v3M160 318v2M161 314v2M162 311v2M163 314v3M164 311v3M165 310v3M166 318v3M167 317v3M168 312v4M169 309v4M170 308v4M171 312v4M172 307v3M173 305v4M174 310v3M175 307v4M176 302v4M177 308v3M178 303v4M179 303v3M180 298v3M181 302v4M182 299v3M183 301v3M184 301v3M185 295v2M186 296v2M187 294v3M188 303v3M189 302v3M190 302v3M191 303v3M192 303v3M193 298v2M194 301v3M195 302v3M196 301v3M197 305v3M198 304v3M199 305v2M200 301v3M201 298v2M202 303v3M203 297v3M204 298v2M205 298v2M206 300v3M207 304v2M208 299v3M209 306v3M210 310v3M211 310v2M212 309v3M213 305v2M214 299v3M215 302v3M216 301v3M217 307v3M218 306v3M219 302v2M221 300v3M222 305v2M223 305v2M224 301v2M225 309v1M226 306v1M227 300v1M228 295v1M229 296v1M230 293v1M231 298v1M232 293v2M233 293v2M234 298v1M235 296v2M236 286v2M237 287v2M238 282v2M239 279v1M240 274v1M241 275v2M242 275v1M243 271v2M244 268v1M245 270v1M246 268v1M247 267v1M248 265v1M250 264v1M251 265v1M254 263v1M255 264v1M256 265v1M257 264v1M258 262v1M259 263v1M260 262v1M261 262v1M262 262v1M263 263v1M264 263v1M265 261v1M266 262v1M267 261v1M269 262v1M271 261v1M272 261v1M273 263v1M274 263v1M278 263v1M280 262v1M281 264v1M282 265v1M286 270v1M289 270v1M290 271v1M291 274v1M292 273v1M293 277v1M294 277v1M295 276v1M296 278v1M297 286v2M298 278v2M299 280v2M300 282v2M301 278v2M302 275v2M303 273v2M304 273v1M305 277v2M306 278v1M307 277v2M308 269v1M309 272v1M318 264v1M320 264v1M321 266v1M322 269v1M323 265v1M328 263v1M329 263v1M330 264v1M331 263v1M332 266v1M333 264v1M334 268v1M335 265v1M337 263v1M342 265v1M344 264v1M351 263v1M352 263v1M354 265v1M355 264v1M357 265v1M359 267v1M363 264v1M364 263v1M366 264v1M371 266v1M372 264v1M375 264v1M376 264v1M377 262v1M378 262v1M379 261v1M380 260v1M383 262v1M385 262v1M389 265v1M390 267v1M392 264v1M393 265v1M394 264v1M395 265v1M396 265v1M399 268v1M400 269v1M401 267v1M402 268v1M404 272v1M405 271v1M406 273v1M407 273v1M408 274v1M409 279v1M410 283v1M411 287v1M412 285v1M413 291v2M414 284v1M415 288v1M416 292v1M417 291v1M418 293v2M419 293v1M420 291v2M421 292v1M422 292v1M423 295v2M424 293v2M425 295v2M426 300v1M427 301v2M428 306v2M429 303v3M430 308v3M431 303v2M432 303v3M433 302v3M434 307v3M435 304v2M436 310v2M440 317v3M441 318v2M442 318v2M443 316v2M444 310v3M445 314v2M446 319v2M447 320v3M448 318v2M449 323v2M450 319v2M451 316v2M452 320v2M453 316v2M454 318v3M455 316v2M456 312v2M457 316v2M458 314v2M459 317v2M460 315v2M461 314v3M462 317v3M463 317v2M464 314v2M465 319v3M466 309v3M467 313v2M468 313v2M469 311v2M470 314v2M471 313v2M472 317v2M473 314v2M474 313v2M475 314v2M476 313v2M477 310v3M478 314v2M479 314v2M480 312v2M481 314v2M482 311v2M483 313v2M484 308v2M485 315v2M486 305v2M487 316v2M488 310v2M489 308v2M490 305v2M491 311v2M492 309v3M493 305v2M494 310v3M495 312v2M496 317v2M497 316v2M498 311v2M499 314v2M500 317v3M501 315v2M502 319v4M503 313v3M504 309v3M505 304v3M506 297v3M507 300v2M508 301v3M509 309v3M510 301v3M511 294v2M512 298v2M513 296v2M514 297v2M515 289v2M516 294v1M517 289v2M518 284v1M519 284v1M520 282v1M521 281v1M522 282v2M523 278v1M524 280v2M525 285v2M526 279v1M527 280v1M528 280v1M529 278v1M530 275v1M531 280v1M532 278v1M533 281v1M534 278v1M535 275v1M537 274v1M538 275v1M539 277v1M540 279v1M541 279v1M542 278v1M543 270v1"/>
<path stroke="#d80000" d="M85 285v1M86 284v1M87 286v1M88 285v1M89 291v1M90 287v1M91 288v1M92 291v1M93 292v1M94 294v1M95 289v1M96 290v1M97 283v1M98 288v1M99 292v1M100 287v1M101 288v1M102 289v1M103 292v2M104 293v2M105 296v2M106 295v2M107 299v1M108 298v1M109 299v2M110 303v2M111 295v2M112 297v2M113 303v3M114 304v3M115 303v2M116 309v2M117 310v2M118 306v2M119 308v3M120 309v3M121 312v3M122 306v3M123 304v3M124 304v3M125 300v3M126 305v3M127 303v3M128 300v2M129 298v2M130 303v4M131 300v3M132 303v3M133 302v3M134 307v3M135 315v3M136 316v2M137 312v2M138 315v2M139 317v2M140 320v3M141 318v3M142 318v3M143 309v3M144 312v2M145 317v3M146 315v2M147 314v2M148 310v2M149 314v2M150 317v3M151 310v2M152 312v2M153 310v2M154 314v3M155 315v2M156 312v2M157 306v2M158 311v3M159 312v2M160 320v3M161 316v2M162 313v3M163 317v2M164 314v2M165 313v2M166 321v3M167 320v3M168 316v2M169 313v2M170 312v3M171 316v3M172 310v3M173 309v3M174 313v3M175 311v3M176 306v3M177 311v4M178 307v3M179 306v4M180 301v3M181 306v3M182 302v3M183 304v4M184 304v3M185 297v3M186 298v3M187 297v2M188 306v3M189 305v3M190 305v3M191 306v3M192 306v3M193 300v3M194 304v4M195 305v3M196 304v3M197 308v2M198 307v3M199 307v3M200 304v3M201 300v3M202 306v3M203 300v2M204 300v3M205 300v3M206 303v3M207 306v3M208 302v3M209 309v2M210 313v2M211 312v3M212 312v2M213 307v3M214 302v3M215 305v3M216 304v3M217 310v3M218 309v3M219 304v3M221 303v2M222 307v2M223 307v2M224 303v2M225 310v2M226 307v2M227 301v2M228 296v2M229 297v1M230 294v2M231 299v2M232 295v1M233 295v2M234 299v3M235 298v1M236 288v2M237 289v1M238 284v2M239 280v2M240 275v2M241 277v1M242 276v2M243 273v1M244 269v1M245 271v1M248 266v1M249 267v1M251 266v1M252 263v1M253 264v1M255 265v1M256 266v1M257 265v1M258 263v1M259 264v1M262 263v1M268 264v1M270 262v1M271 262v1M272 262v1M275 262v1M276 262v1M277 262v1M279 263v1M282 266v1M284 265v1M285 267v1M286 271v1M287 269v1M288 271v1M289 271v1M290 272v1M291 275v1M293 278v1M294 278v1M295 277v1M296 279v1M297 288v1M298 280v1M299 282v1M300 284v2M301 280v1M302 277v1M303 275v1M304 274v1M305 279v2M306 279v2M307 279v1M308 270v1M309 273v1M310 267v1M311 266v1M312 266v1M313 265v1M314 266v1M315 264v1M316 264v1M317 264v1M319 265v1M322 270v1M323 266v1M324 265v1M325 265v1M326 263v1M327 262v1M335 266v1M336 264v1M338 264v1M339 264v1M340 264v1M341 263v1M343 266v1M345 264v1M346 266v1M347 264v1M348 264v1M349 263v1M350 263v1M353 264v1M354 266v1M355 265v1M356 263v1M358 265v1M360 265v1M361 267v1M362 266v1M365 265v1M369 265v1M370 265v1M371 267v1M373 265v1M374 265v1M376 265v1M382 261v1M384 263v1M386 263v1M387 263v1M388 265v1M391 264v1M397 267v1M398 267v1M399 269v1M400 270v1M401 268v1M402 269v1M403 270v1M404 273v1M405 272v1M406 274v1M407 274v1M408 275v1M409 280v1M410 284v1M411 288v1M412 286v2M413 293v1M414 285v1M415 289v1M416 293v1M417 292v1M418 295v1M419 294v2M420 293v1M421 293v2M422 293v2M423 297v1M424 295v2M425 297v2M426 301v3M427 303v3M428 308v3M429 306v2M430 311v2M431 305v3M432 306v3M433 305v2M434 310v2M435 306v3M436 312v2M440 320v2M441 320v3M442 320v3M443 318v2M444 313v2M445 316v2M446 321v3M447 323v2M448 320v2M449 325v2M450 321v2M451 318v2M452 322v2M453 318v3M454 321v2M455 318v2M456 314v2M457 318v3M458 316v2M459 319v3M460 317v2M461 317v2M462 320v2M463 319v3M464 316v2M465 322v2M466 312v2M467 315v2M468 315v3M469 313v2M470 316v2M471 315v2M472 319v3M473 316v2M474 315v2M475 316v2M476 315v3M477 313v2M478 316v3M479 316v3M480 314v3M481 316v2M482 313v2M483 315v2M484 310v3M485 317v2M486 307v3M487 318v2M488 312v2M489 310v3M490 307v3M491 313v2M492 312v2M493 307v3M494 313v2M495 314v3M496 319v3M497 318v3M498 313v1M498 315v1M499 316v2M500 320v2M501 317v3M502 323v2M503 316v3M504 312v3M505 307v4M506 300v2M507 302v3M508 304v3M509 312v2M510 304v3M511 296v2M512 300v2M513 298v2M514 299v2M515 291v2M516 295v2M517 291v2M518 285v2M519 285v2M520 283v2M521 282v1M522 284v1M523 279v1M524 282v1M525 287v1M526 280v1M527 281v1M528 281v1M529 279v1M530 276v1M531 281v2M532 279v1M533 282v1M534 279v1M535 276v1M536 273v1M538 276v1M539 278v1M540 280v1M541 280v1M542 279v1M543 271v1"/>
<path stroke="#d20000" d="M85 286v1M86 285v2M87 287v1M88 286v1M89 292v1M90 288v1M91 289v1M92 292v1M93 293v1M94 295v1M95 290v1M96 291v1M97 284v1M98 289v1M99 293v1M100 288v1M101 289v1M102 290v2M103 294v1M104 295v1M105 298v1M106 297v1M107 300v2M108 299v2M109 301v2M110 305v2M111 297v2M112 299v2M113 306v2M114 307v2M115 305v2M116 311v2M117 312v2M118 308v3M119 311v2M120 312v3M121 315v3M122 309v3M123 307v3M124 307v3M125 303v3M126 308v3M127 306v3M128 302v3M129 300v3M130 307v3M131 303v3M132 306v3M133 305v3M134 310v3M135 318v3M136 318v4M137 314v3M138 317v3M139 319v4M140 323v3M141 321v4M142 321v3M143 312v2M144 314v2M145 320v3M146 317v3M147 316v3M148 312v3M149 316v2M150 320v3M151 312v3M152 314v3M153 312v3M154 317v2M155 317v3M156 314v3M157 308v3M158 314v2M159 314v3M160 323v3M161 318v3M162 316v2M163 319v3M164 316v3M165 315v2M166 324v3M167 323v3M168 318v3M169 315v3M170 315v2M171 319v3M172 313v3M173 312v2M174 316v2M175 314v3M176 309v3M177 315v2M178 310v3M179 310v3M180 304v3M181 309v3M182 305v4M183 308v3M184 307v4M185 300v3M186 301v3M187 299v3M188 309v3M189 308v3M190 308v3M191 309v3M192 309v3M193 303v3M194 308v3M195 308v3M196 307v3M197 310v3M198 310v3M199 310v3M200 307v3M201 303v3M202 309v2M203 302v3M204 303v3M205 303v3M206 306v3M207 309v3M208 305v3M209 311v3M210 315v3M211 315v2M212 314v3M213 310v3M214 305v2M215 308v2M216 307v3M217 313v2M218 312v2M219 307v3M221 305v2M222 309v2M223 309v2M224 305v2M225 312v1M226 309v1M227 303v1M228 298v1M229 298v2M230 296v1M231 301v1M232 296v2M233 297v2M234 302v2M235 299v2M236 290v2M237 290v2M238 286v2M239 282v2M240 277v1M241 278v2M242 278v1M243 274v2M244 270v1M246 269v1M247 268v1M249 268v1M250 265v1M253 265v1M254 264v1M255 266v1M257 266v1M259 265v1M260 263v1M261 263v1M263 264v1M264 264v1M265 262v1M266 263v1M267 262v1M268 265v1M269 263v1M270 263v1M273 264v1M274 264v1M278 264v1M280 263v1M281 265v1M285 268v1M286 272v1M287 270v1M288 272v1M291 276v1M292 274v1M293 279v1M294 279v1M295 278v1M296 280v2M297 289v2M298 281v2M299 283v2M300 286v1M301 281v2M302 278v2M303 276v2M304 275v2M305 281v1M306 281v2M307 280v2M308 271v1M309 274v1M310 268v1M311 267v1M312 267v1M314 267v1M318 265v1M320 265v1M321 267v1M322 271v1M325 266v1M328 264v1M329 264v1M330 265v1M331 264v1M332 267v1M333 265v1M334 269v1M336 265v1M337 264v1M340 265v1M342 266v1M344 265v1M346 267v1M351 264v1M352 264v1M357 266v1M359 268v1M360 266v1M361 268v1M362 267v1M364 264v1M366 265v1M367 264v1M368 265v1M372 265v1M374 266v1M375 265v1M377 263v1M378 263v1M379 262v1M381 261v1M383 263v1M384 264v1M385 263v1M389 266v1M390 268v1M393 266v1M395 266v1M396 266v1M397 268v1M398 268v1M400 271v1M401 269v1M402 270v1M403 271v1M404 274v1M405 273v1M406 275v1M407 275v1M408 276v1M409 281v1M410 285v2M411 289v2M412 288v1M413 294v1M414 286v2M415 290v2M416 294v2M417 293v2M418 296v2M419 296v1M420 294v2M421 295v1M422 295v2M423 298v2M424 297v1M425 299v2M426 304v2M427 306v2M428 311v2M429 308v2M430 313v2M431 308v2M432 309v2M433 307v3M434 312v3M435 309v2M436 314v3M440 322v3M441 323v2M442 323v2M443 320v3M444 315v2M445 318v3M446 324v2M447 325v2M448 322v3M449 327v2M450 323v3M451 320v3M452 324v3M453 321v2M454 323v3M455 320v3M456 316v2M457 321v3M458 318v3M459 322v2M460 319v3M461 319v3M462 322v3M463 322v2M464 318v3M465 324v3M466 314v2M467 317v2M468 318v2M469 315v2M470 318v3M471 317v3M472 322v3M473 318v3M474 317v3M475 318v3M476 318v3M477 315v2M478 319v3M479 319v3M480 317v2M481 318v3M482 315v2M483 317v3M484 313v2M485 319v3M486 310v3M487 320v3M488 314v3M489 313v2M490 310v3M491 315v3M492 314v3M493 310v3M494 315v2M495 317v2M496 322v3M497 321v3M498 316v2M499 318v3M500 322v3M501 320v3M502 325v3M503 319v3M504 315v3M505 311v2M506 302v3M507 305v3M508 307v3M509 314v2M510 307v3M511 298v2M512 302v3M513 300v2M514 301v3M515 293v2M516 297v2M517 293v2M518 287v1M519 287v1M520 285v1M521 283v2M522 285v1M523 280v2M524 283v2M525 288v2M526 281v2M527 282v2M528 282v2M529 280v1M531 283v1M532 280v1M533 283v1M534 280v1M535 277v1M536 274v1M537 275v1M538 277v1M539 279v1M540 281v1M541 281v1M542 280v1M543 272v1"/>
<path stroke="#cc0000" d="M85 287v1M86 287v1M87 288v2M88 287v1M89 293v1M90 289v1M91 290v1M92 293v1M93 294v1M94 296v1M95 291v1M96 292v1M97 285v1M98 290v1M99 294v1M100 289v1M101 290v2M102 292v1M103 295v1M104 296v2M105 299v2M106 298v2M107 302v2M108 301v2M109 303v2M110 307v2M111 299v2M112 301v2M113 308v2M114 309v2M115 307v3M116 313v3M117 314v2M118 311v3M119 313v3M120 315v2M121 318v3M122 312v3M123 310v3M124 310v3M125 306v3M126 311v3M127 309v3M128 305v3M129 303v3M130 310v3M131 306v3M132 309v3M133 308v3M134 313v3M135 321v3M136 322v3M137 317v3M138 320v4M139 323v3M140 326v3M141 325v3M142 324v3M143 314v3M144 317v3M145 323v3M146 320v4M147 319v3M148 315v2M149 318v4M150 323v3M151 315v2M152 317v3M153 315v2M154 319v4M155 320v3M156 317v3M157 311v3M158 316v3M159 317v2M160 326v3M161 321v3M162 318v3M163 322v3M164 319v3M165 317v4M166 327v2M167 326v3M168 321v3M169 318v3M170 317v3M171 322v3M172 316v2M173 314v3M174 318v4M175 317v2M176 312v2M177 317v3M178 313v2M179 313v2M180 307v3M181 312v3M182 309v3M183 311v3M184 311v2M185 303v2M186 304v3M187 302v2M188 312v3M189 311v3M190 311v3M191 312v3M192 312v3M193 306v3M194 311v3M195 311v3M196 310v3M197 313v3M198 313v2M199 313v3M200 310v3M201 306v3M202 311v3M203 305v3M204 306v3M205 306v3M206 309v3M207 312v3M208 308v3M209 314v3M210 318v3M211 317v3M212 317v3M213 313v2M214 307v3M215 310v3M216 310v2M217 315v3M218 314v3M219 310v2M221 307v3M222 311v2M223 311v2M224 307v2M225 313v2M226 310v2M227 304v2M228 299v1M229 300v1M230 297v1M231 302v2M232 298v1M233 299v1M234 304v3M235 301v3M236 292v1M237 292v2M238 288v1M239 284v1M240 278v2M241 280v1M242 279v2M243 276v1M244 271v1M245 272v2M246 270v1M247 269v1M248 267v1M249 269v1M250 266v1M251 267v1M252 264v1M256 267v1M258 264v1M260 264v1M261 264v1M262 264v1M263 265v1M264 265v1M265 263v1M266 264v1M268 266v1M269 264v1M270 264v1M271 263v1M272 263v1M273 265v1M274 265v1M275 263v1M276 263v1M277 263v1M279 264v1M282 267v1M284 266v1M285 269v1M286 273v1M287 271v1M288 273v1M289 272v1M290 273v1M291 277v1M292 275v1M293 280v1M294 280v1M295 279v1M296 282v2M297 291v1M298 283v2M299 285v2M300 287v2M301 283v2M302 280v2M303 278v1M304 277v1M305 282v2M306 283v2M307 282v2M308 272v2M309 275v2M310 269v1M313 266v1M315 265v1M316 265v1M317 265v1M318 266v1M319 266v1M320 266v1M321 268v1M322 272v1M323 267v1M324 266v1M326 264v1M327 263v1M331 265v1M334 270v1M335 267v1M338 265v1M339 265v1M341 264v1M343 267v1M345 265v1M347 265v1M348 265v1M349 264v1M350 264v1M353 265v1M354 267v1M355 266v1M356 264v1M358 266v1M359 269v1M363 265v1M365 266v1M368 266v1M369 266v1M370 266v1M371 268v1M373 266v1M376 266v1M377 264v1M378 264v1M379 263v1M380 261v1M381 262v1M382 262v1M383 264v1M386 264v1M387 264v1M388 266v1M390 269v1M391 265v1M392 265v1M394 265v1M395 267v1M397 269v1M398 269v1M399 270v1M400 272v1M402 271v1M403 272v1M404 275v1M405 274v1M406 276v1M407 276v1M408 277v1M409 282v2M410 287v1M411 291v1M412 289v1M413 295v2M414 288v1M415 292v1M416 296v1M417 295v1M418 298v1M419 297v2M420 296v1M421 296v2M422 297v2M423 300v2M424 298v2M425 301v2M426 306v2M427 308v2M428 313v2M429 310v2M430 315v2M431 310v3M432 311v3M433 310v2M434 315v2M435 311v3M436 317v2M440 325v2M441 325v3M442 325v3M443 323v2M444 317v2M445 321v3M446 326v2M447 327v2M448 325v2M449 329v2M450 326v2M451 323v2M452 327v2M453 323v3M454 326v2M455 323v2M456 318v3M457 324v2M458 321v3M459 324v3M460 322v3M461 322v2M462 325v2M463 324v3M464 321v3M465 327v2M466 316v2M467 319v3M468 320v3M469 317v3M470 321v3M471 320v3M472 325v2M473 321v3M474 320v3M475 321v3M476 321v3M477 317v3M478 322v3M479 322v3M480 319v3M481 321v3M482 317v4M483 320v3M484 315v3M485 322v3M486 313v2M487 323v3M488 317v3M489 315v3M490 313v2M491 318v3M492 317v2M493 313v2M494 317v4M495 319v4M496 325v3M497 324v3M498 318v4M499 321v3M500 325v3M501 323v3M502 328v3M503 322v3M504 318v3M505 313v3M506 305v3M507 308v3M508 310v3M509 316v3M510 310v2M511 300v3M512 305v3M513 302v3M514 304v3M515 295v2M516 299v2M517 295v2M518 288v2M519 288v2M520 286v2M521 285v1M522 286v2M523 282v1M524 285v1M525 290v1M526 283v1M527 284v1M528 284v2M529 281v2M530 277v2M531 284v1M533 284v1M534 281v1M535 278v1M536 275v1M537 276v1M538 278v1M539 280v1M540 282v1M541 282v1M542 281v1M543 273v1"/>
<path stroke="#c60000" d="M85 288v2M86 288v1M87 290v1M88 288v2M89 294v1M90 290v1M91 291v1M92 294v1M93 295v1M94 297v1M95 292v1M96 293v1M97 286v1M98 291v2M99 295v2M100 290v1M101 292v1M102 293v2M103 296v2M104 298v2M105 301v2M106 300v2M107 304v3M108 303v3M109 305v2M110 309v2M111 301v2M112 303v2M113 310v2M114 311v2M115 310v2M116 316v2M117 316v3M118 314v2M119 316v2M120 317v3M121 321v3M122 315v2M123 313v2M124 313v3M125 309v2M126 314v2M127 312v3M128 308v3M129 306v3M130 313v2M131 309v3M132 312v3M133 311v3M134 316v3M135 324v4M136 325v3M137 320v4M138 324v3M139 326v3M140 329v3M141 328v3M142 327v3M143 317v3M144 320v4M145 326v4M146 324v3M147 322v4M148 317v4M149 322v3M150 326v3M151 317v4M152 320v3M153 317v4M154 323v3M155 323v3M156 320v3M157 314v2M158 319v4M159 319v4M160 329v3M161 324v3M162 321v4M163 325v3M164 322v4M165 321v3M166 329v3M167 329v2M168 324v3M169 321v3M170 320v3M171 325v3M172 318v4M173 317v3M174 322v3M175 319v4M176 314v3M177 320v3M178 315v3M179 315v3M180 310v3M181 315v2M182 312v2M183 314v2M184 313v3M185 305v3M186 307v2M187 304v3M188 315v3M189 314v3M190 314v3M191 315v2M192 315v2M193 309v3M194 314v2M195 314v3M196 313v3M197 316v3M198 315v3M199 316v2M200 313v3M201 309v3M202 314v3M203 308v3M204 309v3M205 309v2M206 312v2M207 315v2M208 311v2M209 317v2M210 321v3M211 320v3M212 320v3M213 315v3M214 310v3M215 313v2M216 312v3M217 318v3M218 317v2M219 312v3M221 310v3M222 313v4M223 313v3M224 309v1M225 315v1M226 312v1M227 306v1M228 300v2M229 301v1M230 298v2M231 304v2M232 299v2M233 300v2M234 307v1M235 304v2M236 293v2M237 294v2M238 289v2M239 285v2M240 280v1M241 281v2M242 281v1M243 277v1M244 272v1M245 274v1M246 271v1M247 270v1M249 270v1M251 268v1M252 265v1M253 266v1M254 265v1M255 267v1M256 268v1M257 267v1M258 265v1M259 266v1M260 265v1M262 265v1M263 266v1M264 266v1M266 265v1M267 263v1M269 265v1M271 264v1M273 266v1M274 266v1M278 265v1M280 264v1M281 266v1M284 267v1M285 270v1M286 274v2M287 272v1M288 274v1M289 273v1M290 274v1M292 276v1M293 281v1M294 281v2M295 280v2M296 284v2M297 292v2M298 285v1M299 287v1M300 289v1M301 285v1M302 282v1M303 279v2M304 278v2M305 284v2M306 285v1M307 284v2M308 274v1M309 277v2M310 270v1M311 268v1M312 268v1M314 268v1M319 267v1M321 269v1M322 273v1M324 267v1M325 267v1M328 265v1M329 265v1M330 266v1M332 268v1M333 266v1M334 271v1M335 268v1M336 266v1M337 265v1M339 266v1M340 266v1M342 267v1M343 268v1M344 266v1M345 266v1M346 268v1M347 266v1M348 266v1M351 265v1M352 265v1M357 267v1M359 270v1M360 267v1M361 269v1M362 268v1M363 266v1M364 265v1M365 267v1M366 266v1M367 265v1M369 267v1M370 267v1M371 269v1M372 266v1M373 267v1M374 267v1M375 266v1M376 267v1M378 265v1M379 264v1M380 262v1M381 263v1M382 263v1M383 265v1M384 265v1M385 264v1M388 267v1M389 267v1M390 270v1M392 266v1M393 267v1M394 266v1M396 267v1M397 270v1M398 270v1M399 271v1M400 273v1M401 270v1M402 272v1M403 273v1M404 276v1M405 275v1M406 277v1M407 277v1M408 278v2M409 284v1M410 288v2M411 292v2M412 290v2M413 297v1M414 289v1M415 293v1M416 297v2M417 296v2M418 299v1M419 299v1M420 297v2M421 298v2M422 299v1M423 302v2M424 300v2M425 303v2M426 308v2M427 310v2M428 315v2M429 312v3M430 317v3M431 313v2M432 314v2M433 312v3M434 317v3M435 314v2M436 319v3M440 327v3M441 328v2M442 328v2M443 325v3M444 319v3M445 324v2M446 328v3M447 329v3M448 327v3M449 331v3M450 328v3M451 325v3M452 329v3M453 326v3M454 328v3M455 325v3M456 321v3M457 326v3M458 324v3M459 327v3M460 325v3M461 324v3M462 327v3M463 327v3M464 324v3M465 329v3M466 318v4M467 322v4M468 323v3M469 320v4M470 324v3M471 323v3M472 327v3M473 324v3M474 323v3M475 324v3M476 324v3M477 320v3M478 325v3M479 325v3M480 322v4M481 324v3M482 321v3M483 323v3M484 318v3M485 325v4M486 315v3M487 326v3M488 320v3M489 318v3M490 315v3M491 321v3M492 319v4M493 315v3M494 321v3M495 323v3M496 328v2M497 327v3M498 322v3M499 324v4M500 328v3M501 326v3M502 331v2M503 325v3M504 321v3M505 316v2M506 308v3M507 311v3M508 313v2M509 319v4M510 312v3M511 303v2M512 308v3M513 305v3M514 307v2M515 297v2M516 301v3M517 297v2M518 290v2M519 290v1M520 288v1M521 286v2M522 288v1M523 283v1M524 286v2M525 291v2M526 284v2M527 285v1M528 286v1M529 283v1M530 279v1M531 285v1M532 281v2M533 285v1M534 282v1M535 279v1M536 276v1M537 277v1M538 279v1M539 281v1M540 283v1M541 283v1M542 282v1"/>
<path stroke="#c00000" d="M85 290v3M86 289v1M87 291v1M88 290v1M89 295v1M90 291v1M91 292v1M92 295v1M93 296v1M94 298v1M95 293v1M96 294v1M97 287v1M98 293v1M99 297v1M100 291v2M101 293v1M102 295v1M103 298v2M104 300v2M105 303v3M106 302v2M107 307v2M108 306v2M109 307v2M110 311v3M111 303v2M112 305v3M113 312v2M114 313v2M115 312v3M116 318v3M117 319v3M118 316v3M119 318v4M120 320v4M121 324v3M122 317v4M123 315v3M124 316v3M125 311v3M126 316v4M127 315v3M128 311v3M129 309v3M130 315v4M131 312v3M132 315v3M133 314v3M134 319v4M135 328v6M136 328v7M137 324v4M138 327v7M139 329v8M140 332v7M141 331v7M142 330v7M143 320v5M144 324v4M145 330v7M146 327v7M147 326v6M148 321v4M149 325v7M150 329v8M151 321v4M152 323v5M153 321v4M154 326v6M155 326v7M156 323v5M157 316v3M158 324v3M159 323v4M160 332v7M161 327v7M162 325v5M163 328v7M164 326v5M165 324v4M166 332v7M167 331v7M168 327v6M169 324v3M170 323v4M171 328v5M172 322v3M173 320v3M174 325v3M175 323v3M176 317v3M177 323v4M178 318v4M179 318v4M180 313v3M181 317v4M182 314v3M183 316v3M184 316v3M185 308v3M186 309v3M187 307v3M188 318v3M189 317v3M190 317v3M191 317v4M192 317v4M193 312v3M194 316v3M195 317v3M196 316v3M197 319v3M198 318v3M199 318v4M200 316v2M201 312v3M202 317v3M203 311v3M204 312v2M205 311v3M206 314v3M207 317v3M208 313v3M209 319v4M210 324v3M211 323v3M212 323v3M213 318v3M214 313v2M215 315v3M216 315v2M217 321v3M218 319v4M219 315v3M221 313v3M222 317v4M223 316v4M224 310v5M225 316v4M226 313v2M227 307v2M228 302v1M229 302v2M230 300v1M231 306v1M232 301v1M233 302v2M234 308v2M235 306v2M236 295v2M237 296v2M238 291v2M239 287v2M240 281v2M241 283v3M242 282v3M243 278v2M244 273v2M245 275v2M246 272v2M247 271v1M248 268v1M249 271v1M250 267v1M251 269v1M253 267v1M254 266v1M255 268v2M256 269v2M257 268v2M258 266v1M259 267v1M260 266v1M261 265v1M262 266v1M263 267v1M264 267v1M265 264v1M266 266v1M267 264v1M268 267v2M269 266v1M270 265v1M272 264v1M273 267v1M274 267v1M275 264v1M276 264v1M277 264v1M278 266v1M279 265v1M281 267v1M282 268v2M284 268v1M285 271v1M286 276v1M287 273v2M288 275v1M289 274v1M290 275v1M291 278v2M292 277v2M293 282v2M294 284v1M295 282v3M296 286v1M297 294v1M298 286v2M299 288v2M300 290v2M301 286v2M302 283v2M303 281v2M304 280v3M305 286v2M306 286v2M307 286v1M308 275v2M309 279v2M310 271v3M311 269v3M312 269v2M313 267v1M314 269v1M315 266v1M316 266v1M317 266v1M318 267v1M320 267v1M321 270v1M322 274v2M323 268v2M324 268v1M325 268v1M326 265v1M327 264v1M328 266v1M330 267v1M331 266v1M332 269v1M333 267v1M334 272v2M335 269v1M336 267v1M337 266v1M338 266v1M340 267v1M341 265v1M342 268v1M343 269v1M344 267v1M346 269v1M349 265v1M350 265v1M353 266v1M354 268v2M355 267v1M356 265v1M357 268v1M358 267v1M359 271v1M360 268v1M361 270v1M362 269v1M364 266v1M366 267v1M367 266v1M368 267v1M369 268v1M370 268v1M371 270v1M372 267v1M374 268v1M375 267v1M376 268v1M377 265v1M378 266v1M379 265v1M380 263v1M381 264v1M384 266v1M386 265v1M387 265v1M389 268v1M390 271v1M391 266v1M392 267v1M393 268v1M394 267v1M395 268v2M396 268v2M397 271v1M398 271v1M399 272v2M400 274v1M401 271v2M402 273v1M403 274v1M404 277v1M405 276v2M406 278v2M407 278v2M408 280v2M409 285v2M410 290v1M411 294v1M412 292v1M413 298v1M414 290v2M415 294v2M416 299v1M417 298v1M418 300v2M419 300v2M420 299v2M421 300v2M422 300v2M423 304v2M424 302v2M425 305v2M426 310v2M427 312v2M428 317v2M429 315v2M430 320v3M431 315v3M432 316v3M433 315v2M434 320v3M435 316v3M436 322v4M440 330v5M441 330v5M442 330v5M443 328v5M444 322v4M445 326v5M446 331v5M447 332v5M448 330v5M449 334v5M450 331v5M451 328v5M452 332v5M453 329v5M454 331v5M455 328v5M456 324v3M457 329v5M458 327v4M459 330v5M460 328v4M461 327v5M462 330v5M463 330v5M464 327v4M465 332v5M466 322v4M467 326v4M468 326v5M469 324v3M470 327v5M471 326v4M472 330v5M473 327v5M474 326v5M475 327v5M476 327v4M477 323v4M478 328v5M479 328v5M480 326v4M481 327v5M482 324v4M483 326v5M484 321v4M485 329v5M486 318v4M487 329v6M488 323v4M489 321v4M490 318v4M491 324v4M492 323v4M493 318v4M494 324v4M495 326v5M496 330v6M497 330v5M498 325v4M499 328v5M500 331v6M501 329v5M502 333v6M503 328v5M504 324v3M505 318v4M506 311v3M507 314v3M508 315v3M509 323v3M510 315v3M511 305v4M512 311v2M513 308v2M514 309v3M515 299v2M516 304v2M517 299v2M518 292v2M519 291v2M520 289v2M521 288v1M522 289v2M523 284v2M524 288v1M525 293v1M526 286v1M527 286v2M528 287v1M529 284v2M530 280v2M531 286v2M532 283v1M533 286v2M534 283v1M535 280v1M536 277v1M537 278v1M538 280v1M539 282v1M540 284v1M541 284v2M542 283v2M543 274v2"/>
<path stroke="#ba0000" d="M85 293v1M86 290v4M87 292v2M88 291v1M89 296v1M90 292v1M91 293v2M92 296v1M93 297v1M94 299v1M95 294v1M96 295v1M97 288v2M98 294v1M99 298v1M100 293v2M101 294v2M102 296v2M103 300v2M104 302v2M105 306v2M106 304v3M107 309v2M108 308v2M109 309v3M110 314v2M111 305v3M112 308v2M113 314v3M114 315v3M115 315v2M116 321v6M117 322v7M118 319v5M119 322v7M120 324v7M121 327v9M122 321v8M123 318v7M124 319v7M125 314v3M126 320v10M127 318v8M128 314v3M129 312v3M130 319v11M131 315v4M132 318v12M133 317v11M134 323v13M135 334v8M136 335v7M137 328v11M138 334v8M139 337v6M140 339v6M141 338v6M142 337v7M143 325v13M144 328v12M145 337v7M146 334v8M147 332v9M148 325v13M149 332v9M150 337v6M151 325v13M152 328v12M153 325v13M154 332v9M155 333v9M156 328v2M156 331v9M157 319v15M158 327v12M159 327v12M160 339v6M161 334v8M162 330v10M163 335v7M164 331v10M165 328v12M166 339v5M167 338v6M168 333v8M169 328v11M170 327v12M171 333v8M172 325v12M173 323v13M174 328v11M175 326v12M176 320v12M177 327v11M178 322v11M179 322v11M180 316v3M181 321v10M182 317v4M183 319v9M184 319v7M185 311v3M186 312v3M187 310v3M188 321v8M189 320v7M190 320v7M191 321v7M192 321v7M193 315v3M194 319v6M195 320v6M196 319v6M197 322v7M198 321v7M199 322v6M200 318v6M201 315v2M202 320v6M203 314v3M204 314v3M205 314v3M206 317v3M207 320v6M208 316v2M209 323v6M210 327v7M211 326v8M212 326v8M213 321v7M214 315v3M215 318v4M216 317v4M217 324v9M218 323v9M219 318v5M220 318v2M221 316v5M222 321v4M223 320v2M224 315v5M225 320v4M226 315v8M227 309v3M228 303v2M229 304v1M230 301v1M231 307v2M232 302v2M233 304v2M235 308v1M236 297v2M237 298v1M238 293v2M239 289v2M240 283v3M241 286v3M242 285v3M243 280v3M244 275v2M245 277v2M246 274v2M247 272v3M248 269v2M249 272v2M250 268v1M251 270v1M252 266v1M253 268v1M254 267v1M255 270v1M256 271v1M257 270v1M258 267v1M259 268v2M261 266v1M262 267v1M263 268v1M264 268v1M265 265v1M266 267v1M268 269v1M270 266v1M271 265v1M272 265v1M273 268v1M274 268v1M275 265v1M277 265v1M278 267v1M279 266v1M280 265v1M281 268v1M282 270v2M284 269v2M285 272v2M286 277v2M287 275v1M288 276v2M289 275v2M290 276v2M291 280v3M292 279v3M293 284v3M294 285v4M295 285v3M296 287v3M297 295v2M298 288v3M299 290v2M300 292v2M301 288v2M302 285v3M303 283v3M304 283v3M305 288v3M306 288v3M307 287v3M308 277v3M309 281v4M310 274v2M311 272v2M312 271v3M313 268v3M314 270v2M315 267v1M316 267v1M317 267v1M318 268v1M319 268v2M320 268v1M321 271v1M322 276v1M323 270v1M324 269v1M325 269v1M329 266v1M330 268v1M331 267v1M332 270v2M333 268v1M334 274v1M335 270v1M337 267v1M338 267v1M339 267v1M340 268v1M341 266v1M342 269v2M343 270v1M344 268v1M345 267v1M346 270v2M347 267v1M348 267v1M349 266v1M350 266v1M351 266v1M352 266v1M353 267v1M354 270v1M355 268v1M356 266v1M357 269v1M358 268v1M359 272v2M360 269v1M361 271v2M362 270v1M363 267v1M364 267v1M365 268v2M366 268v2M367 267v1M368 268v2M369 269v2M370 269v2M371 271v3M372 268v2M373 268v2M374 269v2M375 268v2M376 269v2M377 266v1M378 267v1M379 266v1M380 264v1M382 264v1M383 266v1M384 267v1M385 265v1M386 266v1M388 268v1M389 269v1M390 272v1M391 267v1M392 268v1M393 269v2M394 268v1M395 270v2M396 270v1M397 272v2M398 272v2M399 274v2M400 275v2M401 273v1M402 274v2M403 275v3M404 278v3M405 278v2M406 280v2M407 280v2M408 282v2M409 287v2M410 291v2M411 295v1M412 293v2M414 292v2M415 296v1M416 300v2M417 299v2M418 302v3M419 302v2M420 301v2M421 302v2M422 302v3M423 306v3M424 304v3M425 307v2M426 312v2M427 314v2M428 319v6M429 317v3M430 323v7M431 318v4M432 319v6M433 317v4M434 323v8M435 319v8M436 326v8M440 335v4M441 335v5M442 335v5M443 333v5M444 326v8M445 331v6M446 336v5M447 337v4M448 335v5M449 339v4M450 336v5M451 333v6M452 337v4M453 334v5M454 336v5M455 333v6M456 327v9M457 334v6M458 331v7M459 335v5M460 332v7M461 332v6M462 335v5M463 335v5M464 331v7M465 337v4M466 326v8M467 330v7M468 331v7M469 327v9M470 332v6M471 330v1M471 332v5M472 335v5M473 332v6M474 331v7M475 332v6M476 331v7M477 327v9M478 333v6M479 333v6M480 330v7M481 332v6M482 328v8M483 331v7M484 325v9M485 334v5M486 322v9M487 335v5M488 327v9M489 325v10M490 322v10M491 328v9M492 327v9M493 322v10M494 328v9M495 331v7M496 336v5M497 335v6M498 329v9M499 333v7M500 337v5M501 334v7M502 339v4M503 333v7M504 327v10M505 322v10M506 314v3M507 317v3M508 318v7M509 326v9M510 318v6M511 309v3M512 313v3M513 310v3M514 312v2M515 301v3M516 306v3M517 301v2M518 294v2M519 293v3M520 291v3M521 289v3M522 291v2M523 286v2M524 289v2M525 294v2M526 287v3M527 288v2M528 288v3M529 286v2M530 282v2M531 288v2M532 284v3M533 288v2M534 284v3M535 281v3M536 278v2M537 279v2M538 281v2M539 283v2M540 285v2M541 286v2M542 285v1M543 276v1"/>
<path stroke="#b40000" d="M86 294v2M87 294v3M88 292v3M89 297v3M90 293v2M91 295v2M92 297v2M93 298v2M94 300v3M95 295v3M96 296v3M97 290v3M98 295v3M99 299v3M100 295v3M101 296v4M102 298v4M103 302v1M104 304v3M105 308v4M106 307v4M107 311v5M108 310v6M109 312v5M110 316v11M111 308v6M112 310v6M113 317v9M114 318v10M115 317v11M116 327v9M117 329v8M118 324v12M119 329v9M120 331v9M121 336v6M122 329v10M123 325v13M124 326v13M125 317v18M126 330v10M127 326v13M128 317v19M129 315v20M130 330v10M131 319v19M132 330v11M133 328v13M134 336v9M135 342v8M136 342v8M137 339v10M138 342v8M139 343v9M140 345v8M141 344v9M142 344v8M143 338v11M144 340v10M145 344v9M146 342v7M146 350v2M147 341v10M148 338v12M149 341v10M150 343v10M151 338v12M152 340v11M153 338v12M154 341v11M155 342v10M156 340v11M157 334v15M158 339v12M159 339v12M160 345v10M161 342v11M162 340v12M163 342v11M164 341v10M165 340v11M166 344v10M167 344v9M168 341v10M169 339v10M170 339v10M171 341v9M172 337v10M173 336v10M174 339v9M175 338v9M176 332v11M177 338v8M178 333v10M179 333v10M180 319v20M181 331v11M182 321v19M183 328v13M184 326v14M185 314v19M186 315v20M187 313v18M188 329v12M189 327v13M190 327v13M191 328v12M192 328v12M193 318v17M194 325v14M195 326v13M196 325v13M197 329v11M198 328v11M199 328v11M200 324v13M201 317v16M202 326v11M203 317v14M204 317v14M205 317v13M206 320v14M207 326v11M208 318v16M209 329v10M210 334v8M211 334v8M212 334v8M213 328v11M214 318v17M215 322v15M216 321v16M217 333v8M218 332v9M219 323v16M220 320v15M221 321v3M224 320v2M227 312v10M228 305v10M229 305v8M230 302v4M231 309v3M232 304v3M233 306v3M236 299v3M237 299v4M238 295v4M239 291v4M240 286v3M241 289v3M242 288v4M243 283v5M244 277v3M245 279v3M246 276v3M247 275v3M248 271v3M249 274v2M250 269v1M251 271v2M252 267v1M253 269v1M254 268v1M255 271v1M256 272v2M257 271v2M258 268v1M259 270v1M260 267v2M261 267v1M262 268v1M263 269v2M264 269v2M265 266v1M266 268v1M267 265v1M268 270v2M269 267v2M270 267v1M271 266v1M272 266v1M273 269v1M274 269v1M276 265v1M277 266v1M279 267v1M280 266v1M281 269v2M282 272v2M284 271v1M285 274v2M286 279v3M287 276v2M288 278v3M289 277v3M290 278v3M291 283v3M292 282v4M293 287v4M294 289v3M295 288v3M296 290v4M297 297v3M298 291v3M299 292v3M300 294v3M301 290v4M302 288v3M303 286v3M304 286v3M305 291v4M306 291v4M307 290v4M308 280v5M309 285v3M310 276v4M311 274v3M312 274v3M313 271v3M314 272v3M315 268v1M316 268v1M317 268v1M318 269v1M319 270v1M320 269v1M321 272v2M322 277v2M323 271v1M324 270v1M325 270v1M326 266v1M327 265v1M328 267v1M329 267v1M330 269v1M331 268v1M332 272v1M333 269v1M334 275v2M335 271v1M336 268v2M338 268v1M339 268v1M340 269v1M342 271v1M343 271v2M344 269v1M345 268v1M346 272v1M347 268v1M348 268v1M350 267v1M351 267v1M352 267v1M353 268v1M354 271v1M355 269v2M356 267v1M357 270v2M358 269v2M359 274v2M360 270v2M361 273v3M362 271v3M363 268v3M364 268v2M365 270v3M366 270v2M367 268v2M368 270v2M369 271v2M370 271v2M371 274v3M372 270v2M373 270v3M374 271v3M375 270v2M376 271v2M377 267v1M378 268v1M379 267v1M380 265v1M381 265v1M382 265v1M383 267v2M384 268v1M385 266v1M386 267v1M387 266v2M388 269v2M389 270v2M390 273v4M391 268v2M392 269v2M393 271v2M394 269v2M395 272v2M396 271v2M397 274v2M398 274v2M399 276v2M400 277v3M401 274v3M402 276v3M403 278v3M404 281v3M405 280v3M406 282v3M407 282v3M408 284v2M409 289v3M410 293v3M411 296v3M412 295v3M414 294v3M415 297v4M416 302v3M417 301v4M418 305v4M419 304v5M420 303v4M421 304v5M422 305v4M423 309v4M424 307v5M425 309v6M426 314v9M427 316v12M428 325v9M429 320v13M430 330v8M431 322v13M432 325v11M433 321v13M434 331v7M435 327v9M436 334v5M440 339v5M441 340v4M442 340v5M443 338v6M444 334v6M445 337v7M446 341v6M447 341v7M448 340v7M449 343v7M450 341v7M451 339v8M452 341v8M453 339v8M454 341v7M455 339v8M456 336v8M457 340v7M458 338v8M459 340v7M460 339v7M461 338v8M462 340v8M463 340v7M464 338v8M465 341v8M466 334v9M467 337v8M468 338v8M469 336v8M470 338v8M471 337v8M472 340v8M473 338v8M474 338v7M475 338v8M476 338v8M477 336v8M478 339v7M479 339v7M480 337v8M481 338v8M482 336v8M483 338v8M484 334v9M485 339v8M486 331v10M487 340v8M488 336v8M489 335v9M490 332v9M491 337v8M492 336v9M493 332v10M494 337v8M495 338v8M496 341v8M497 341v8M498 338v8M499 340v8M500 342v8M501 341v7M502 343v7M503 340v6M504 337v6M505 332v9M506 317v18M507 320v17M508 325v13M509 335v7M510 324v13M511 312v9M512 316v16M513 313v12M514 314v13M515 304v6M516 309v5M517 303v6M518 296v4M519 296v4M520 294v4M521 292v4M522 293v4M523 288v4M524 291v4M525 296v3M526 290v2M527 290v3M528 291v3M529 288v3M530 284v3M531 290v3M532 287v3M533 290v3M534 287v3M535 284v3M536 280v3M537 281v4M538 283v3M539 285v3M540 287v2M541 288v1M542 286v2M543 277v1"/>
<path stroke="#ae0000" d="M88 295v5M89 300v1M90 295v3M91 297v2M92 299v3M93 300v4M94 303v4M95 298v3M96 299v4M97 293v3M98 298v4M99 302v5M100 298v4M101 300v5M106 311v4M107 316v1M108 316v4M109 317v7M110 327v2M111 314v16M112 316v14M113 326v11M114 328v11M115 328v11M116 336v7M117 337v7M118 336v7M119 338v7M120 340v7M121 342v8M122 339v9M123 338v10M124 339v10M125 335v12M126 340v10M127 339v11M128 336v13M129 335v13M130 340v11M131 338v12M132 341v10M133 341v10M134 345v8M135 350v6M136 350v7M137 349v6M138 350v7M139 352v6M140 353v6M141 353v6M142 352v7M143 349v7M144 350v7M145 353v6M146 352v6M147 351v7M148 350v7M149 351v7M150 353v7M151 350v7M152 351v7M153 350v7M154 352v7M155 352v7M156 351v7M157 349v8M158 351v8M159 351v8M160 355v7M161 353v7M162 352v7M163 353v7M164 351v8M165 351v7M166 354v7M167 353v8M168 351v8M169 349v8M170 349v8M171 350v8M172 347v9M173 346v9M174 348v9M175 347v9M176 343v11M177 346v9M178 343v10M179 343v10M180 339v12M181 342v11M182 340v11M183 341v11M184 340v11M185 333v15M186 335v13M187 331v16M188 341v10M189 340v10M190 340v10M191 340v10M192 340v10M193 335v12M194 339v10M195 339v10M196 338v10M197 340v9M198 339v10M199 339v9M200 337v10M201 333v11M202 337v9M203 331v11M204 331v11M205 330v12M206 334v10M207 337v10M208 334v11M209 339v11M210 342v11M211 342v11M212 342v12M213 339v15M214 335v18M215 337v19M216 337v16M217 341v11M218 341v5M219 339v4M230 306v8M231 312v1M232 307v8M233 309v3M236 302v6M237 303v6M238 299v5M239 295v4M240 289v4M241 292v4M242 292v4M243 288v4M244 280v5M245 282v3M246 279v2M247 278v3M248 274v3M249 276v4M250 270v4M251 273v3M252 268v3M253 270v3M254 269v2M255 272v2M256 274v2M257 273v2M258 269v1M259 271v2M260 269v1M261 268v1M262 269v2M263 271v2M264 271v1M265 267v1M266 269v1M267 266v1M268 272v2M269 269v1M270 268v1M271 267v1M272 267v1M273 270v2M274 270v2M275 266v2M276 266v2M277 267v1M278 268v3M279 268v3M280 267v2M281 271v4M282 274v3M284 272v2M285 276v3M286 282v4M287 278v5M288 281v4M289 280v4M290 281v4M291 286v4M292 286v3M293 291v4M294 292v4M295 291v3M296 294v4M297 300v6M298 294v4M299 295v4M300 297v4M301 294v4M302 291v4M303 289v4M304 289v4M305 295v4M306 295v4M307 294v5M308 285v4M309 288v5M310 280v5M311 277v5M312 277v4M313 274v3M314 275v4M315 269v4M316 269v3M317 269v3M318 270v4M319 271v4M320 270v4M321 274v4M322 279v5M323 272v4M324 271v4M325 271v4M326 267v3M327 266v2M328 268v3M329 268v3M330 270v3M331 269v2M332 273v3M333 270v3M334 277v3M335 272v3M336 270v2M337 268v3M338 269v2M339 269v3M340 270v2M341 267v3M342 272v3M343 273v3M344 270v3M345 269v3M346 273v3M347 269v3M348 269v3M349 267v3M350 268v2M351 268v3M352 268v3M353 269v3M354 272v4M355 271v3M356 268v3M357 272v3M358 271v4M359 276v4M360 272v4M361 276v4M362 274v4M363 271v3M364 270v2M365 273v3M366 272v3M367 270v2M368 272v3M369 273v3M370 273v3M371 277v3M372 272v3M373 273v3M374 274v3M375 272v3M376 273v4M377 268v3M378 269v3M379 268v2M380 266v1M381 266v2M382 266v1M383 269v1M384 269v2M385 267v2M386 268v2M387 268v2M388 271v3M389 272v4M390 277v3M391 270v2M392 271v2M393 273v2M394 271v2M395 274v2M396 273v2M397 276v3M398 276v4M399 278v4M400 280v4M401 277v3M402 279v3M403 281v3M404 284v3M405 283v3M406 285v3M407 285v2M408 286v3M409 292v3M410 296v3M411 299v2M412 298v1M414 297v3M415 301v3M417 305v2M418 309v3M419 309v5M420 307v9M421 309v9M422 309v13M423 313v15M424 312v14M425 315v13M425 329v2M426 323v12M427 328v10M428 334v7M429 333v8M430 338v5M431 335v6M432 336v6M433 334v9M434 338v9M435 336v11M436 339v11M440 344v10M441 344v10M442 345v9M443 344v10M444 340v12M445 344v9M446 347v8M447 348v8M448 347v8M449 350v7M450 348v8M451 347v8M452 349v7M453 347v8M454 348v8M455 347v8M456 344v9M457 347v8M458 346v8M459 347v8M460 346v9M461 346v8M462 348v7M463 347v8M464 346v8M465 349v7M466 343v10M467 345v9M468 346v8M469 344v9M470 346v8M471 345v9M472 348v7M473 346v8M474 345v9M475 346v8M476 346v8M477 344v9M478 346v9M479 346v9M480 345v9M481 346v8M482 344v1M482 346v7M483 346v8M484 343v10M485 347v8M486 341v11M487 348v7M488 344v9M489 344v9M490 341v11M491 345v9M492 345v9M493 342v10M494 345v9M495 346v9M496 349v7M497 349v7M498 346v8M499 348v7M500 350v7M501 348v8M502 350v8M503 346v9M504 343v11M505 341v11M506 335v13M507 337v12M508 338v11M509 342v9M510 337v10M511 321v19M512 332v10M513 325v14M514 327v12M515 310v17M516 314v17M517 309v10M518 300v9M519 300v6M520 298v5M521 296v4M522 297v5M523 292v5M524 295v4M525 299v5M526 292v5M527 293v4M528 294v3M529 291v3M530 287v2M531 293v3M532 290v2M533 293v3M534 290v3M535 287v3M536 283v3M537 285v3M538 286v3M539 288v3M540 289v4M541 289v4M542 288v3M543 278v3"/>
<path stroke="#a80000" d="M90 298v6M91 299v6M92 302v7M93 304v5M94 307v4M95 301v7M96 303v6M97 296v5M98 302v5M99 307v5M100 302v6M101 305v3M111 330v6M112 330v10M113 337v9M114 339v11M115 339v12M116 343v11M117 344v11M118 343v12M119 345v11M120 347v10M121 350v8M122 348v8M123 348v8M124 349v7M125 347v8M126 350v7M127 350v7M128 349v7M129 348v7M130 351v6M131 350v7M132 351v7M133 351v7M134 353v6M135 356v6M136 357v6M137 355v6M138 357v1M138 359v4M139 358v6M140 359v6M141 359v6M142 359v6M143 356v6M144 357v6M145 359v6M146 358v7M147 358v7M148 357v6M149 358v7M150 360v6M151 357v7M152 358v7M153 357v8M154 359v7M155 359v7M156 358v8M157 357v7M158 359v7M159 359v7M160 362v7M161 360v5M161 366v2M162 359v8M163 360v7M164 359v7M165 358v8M166 361v7M167 361v7M168 359v7M169 357v8M170 357v7M171 358v7M172 356v7M173 355v7M174 357v6M175 356v7M176 354v7M177 355v7M178 353v8M179 353v7M180 351v8M181 353v7M182 351v7M183 352v7M184 351v8M185 348v8M186 348v8M187 347v9M188 351v8M189 350v8M190 350v8M191 350v8M192 350v8M193 347v9M194 349v9M195 349v9M196 348v9M197 349v9M198 349v9M199 348v10M200 347v10M201 344v11M202 346v9M203 342v13M204 342v13M205 342v12M206 344v12M207 347v11M208 345v2M208 348v10M209 350v11M210 353v11M211 353v13M212 354v14M213 354v10M214 353v9M215 356v2M236 308v3M238 304v6M239 299v6M240 293v4M241 296v6M242 296v5M243 292v5M244 285v5M245 285v6M246 281v6M247 281v5M248 277v4M249 280v5M250 274v4M251 276v5M252 271v4M253 273v4M254 271v4M255 274v6M256 276v6M257 275v5M258 270v4M259 273v4M260 270v3M261 269v4M262 271v3M263 273v4M264 272v4M265 268v3M266 270v4M267 267v4M268 274v5M269 270v4M270 269v5M271 268v4M272 268v4M273 272v5M274 272v5M275 268v4M276 268v3M277 268v4M278 271v4M279 271v3M280 269v3M281 275v3M282 277v4M284 274v6M285 279v7M286 286v6M287 283v5M288 285v5M289 284v5M290 285v4M291 290v5M292 289v5M293 295v5M294 296v6M295 294v6M296 298v6M297 306v5M298 298v6M299 299v6M300 301v6M301 298v5M302 295v5M303 293v5M304 293v6M305 299v7M306 299v7M307 299v6M308 289v5M309 293v6M310 285v6M311 282v6M312 281v7M313 277v7M314 279v6M315 273v5M316 272v5M317 272v5M318 274v5M319 275v5M320 274v5M321 278v6M322 284v6M323 276v5M324 275v5M325 275v5M326 270v4M327 268v4M328 271v5M329 271v4M330 273v5M331 271v5M332 276v6M333 273v5M334 280v7M335 275v6M336 272v5M337 271v4M338 271v5M339 272v5M340 272v5M341 270v4M342 275v5M343 276v5M344 273v5M345 272v4M346 276v6M347 272v5M348 272v5M349 270v4M350 270v4M351 271v3M352 271v3M353 272v4M354 276v4M355 274v4M356 271v3M357 275v4M358 275v3M359 280v5M360 276v3M361 280v4M362 278v4M363 274v3M364 272v3M365 276v3M366 275v3M367 272v4M368 275v4M369 276v4M370 276v4M371 280v4M372 275v3M373 276v3M374 277v3M375 275v3M376 277v3M377 271v4M378 272v5M379 270v4M380 267v1M381 268v2M382 267v3M383 270v4M384 271v4M385 269v3M386 270v3M387 270v3M388 274v4M389 276v3M390 280v4M391 272v3M392 273v3M393 275v5M394 273v5M395 276v5M396 275v5M397 279v5M398 280v4M399 282v4M400 284v4M401 280v4M402 282v4M403 284v3M404 287v3M405 286v3M406 288v3M407 287v3M408 289v3M409 295v5M410 299v7M420 316v1M421 318v4M422 322v6M423 328v8M424 326v14M425 331v11M426 335v9M427 338v8M428 341v9M429 341v9M430 343v10M431 341v11M432 342v11M433 343v11M434 347v9M435 347v9M436 350v8M440 354v7M441 354v7M442 354v7M443 354v7M444 352v7M445 353v7M446 355v7M447 356v7M448 355v7M449 357v6M450 356v6M451 355v6M452 356v7M453 355v6M454 356v6M455 355v6M456 353v7M457 355v7M458 354v7M459 355v7M460 355v6M461 354v7M462 355v7M463 355v7M464 354v7M465 356v7M466 353v6M467 354v6M468 354v7M469 353v7M470 354v7M471 354v6M472 355v7M473 354v7M474 354v7M475 354v7M476 354v7M477 353v7M478 355v6M479 355v6M480 354v6M481 354v7M482 353v7M483 354v7M484 353v6M485 355v7M486 352v7M487 355v7M488 353v7M489 353v7M490 352v7M491 354v6M492 354v6M493 352v7M494 354v7M495 355v6M496 356v7M497 356v7M498 354v7M499 355v7M500 357v6M501 356v7M502 358v7M503 355v7M504 354v7M505 352v8M506 348v9M507 349v9M508 349v10M509 351v8M510 347v10M511 340v14M512 342v12M513 339v14M514 339v12M515 327v16M516 331v11M517 319v19M518 309v19M519 306v16M520 303v13M521 300v11M522 302v8M523 297v5M524 299v8M525 304v8M526 297v7M527 297v7M528 297v7M529 294v5M530 289v5M531 296v3M532 292v4M533 296v4M534 293v3M535 290v3M536 286v3M537 288v3M538 289v4M539 291v5M540 293v4M541 293v4M542 291v5M543 281v5"/>
<path stroke="#fcfcfc" d="M93 309v1M103 281v1M129 380v1M138 358v1M144 316v1M146 349v1M156 330v1M158 299v1M158 323v1M161 365v1M169 327v1M169 376v1M186 360v1M187 376v1M196 372v21M200 366v27M202 355v38M208 347v1M219 280v1M220 282v36M245 294v1M251 298v1M283 257v53M294 283v1M295 251v2M296 251v2M297 251v2M298 251v2M300 251v2M301 315v1M302 251v2M303 251v2M304 251v2M307 251v2M310 251v2M312 251v2M322 251v2M324 251v2M327 251v2M328 251v2M330 251v2M331 251v2M332 251v2M333 251v2M336 251v2M337 251v2M338 251v2M339 251v2M344 251v2M345 251v2M346 251v2M348 251v2M349 251v2M351 251v2M354 251v2M356 251v2M358 251v2M359 251v2M360 251v2M362 251v2M425 328v1M438 257v136M456 309v1M458 280v1M459 362v1M471 331v1M472 288v1M482 345v1M492 369v1M496 289v1M498 297v1M498 314v1M504 299v1M505 365v1M511 293v1"/>
<path stroke="#a20000" d="M95 308v4M96 309v2M97 301v8M98 307v9M99 312v5M100 308v4M114 350v2M115 351v9M116 354v10M117 355v10M118 355v9M119 356v9M120 357v8M121 358v8M122 356v8M123 356v8M124 356v8M125 355v8M126 357v8M127 357v8M128 356v8M129 355v8M130 357v8M131 357v8M132 358v8M133 358v8M134 359v9M135 362v8M136 363v8M137 361v9M138 363v8M139 364v8M140 365v8M141 365v8M142 365v8M143 362v9M144 363v9M145 365v8M146 365v8M147 365v8M148 363v9M149 365v8M150 366v8M151 364v8M152 365v8M153 365v7M154 366v8M155 366v8M156 366v7M157 364v8M158 366v7M159 366v8M160 369v7M161 368v7M162 367v7M163 367v8M164 366v8M165 366v7M166 368v8M167 368v8M168 366v8M169 365v8M170 364v8M171 365v9M172 363v9M173 362v9M174 363v9M175 363v8M176 361v9M177 362v9M178 361v8M179 360v9M180 359v8M181 360v8M182 358v9M183 359v9M184 359v8M185 356v9M186 356v4M186 361v4M187 356v8M188 359v8M189 358v9M190 358v9M191 358v9M192 358v9M193 356v9M194 358v8M195 358v8M196 357v9M197 358v9M198 358v9M199 358v9M200 357v9M201 355v9M203 355v9M204 355v9M205 354v10M206 356v10M207 358v11M208 358v12M209 361v13M210 364v11M211 366v7M212 368v2M238 310v2M239 305v7M240 297v9M241 302v8M242 301v10M243 297v10M244 290v9M245 291v3M245 295v3M246 287v8M247 286v8M248 281v9M249 285v10M250 278v8M251 281v9M252 275v6M253 277v8M254 275v7M255 280v7M256 282v6M257 280v7M258 274v7M259 277v6M260 273v7M261 273v7M262 274v7M263 277v7M264 276v8M265 271v5M266 274v6M267 271v4M268 279v6M269 274v6M270 274v5M271 272v5M272 272v4M273 277v6M274 277v6M275 272v5M276 271v6M277 272v5M278 275v7M279 274v7M280 272v6M281 278v9M282 281v11M284 280v7M285 286v7M286 292v1M287 288v9M288 290v7M289 289v9M290 289v10M291 295v8M292 294v10M293 300v6M294 302v7M295 300v9M296 304v6M298 304v8M299 305v7M300 307v8M301 303v11M302 300v10M303 298v9M304 299v7M305 306v8M306 306v9M307 305v9M308 294v10M309 299v11M310 291v9M311 288v10M312 288v9M313 284v8M314 285v10M315 278v9M316 277v9M317 277v9M318 279v10M319 280v10M320 279v10M321 284v10M322 290v10M323 281v11M324 280v10M325 280v10M326 274v8M327 272v7M328 276v8M329 275v9M330 278v9M331 276v9M332 282v10M333 278v9M334 287v9M335 281v9M336 277v9M337 275v9M338 276v8M339 277v8M340 277v9M341 274v7M342 280v9M343 281v9M344 278v8M345 276v8M346 282v9M347 277v8M348 277v8M349 274v7M350 274v7M351 274v8M352 274v8M353 276v8M354 280v9M355 278v8M356 274v7M357 279v10M358 278v10M359 285v6M360 279v10M361 284v10M362 282v10M363 277v10M364 275v10M365 279v11M366 278v11M367 276v9M368 279v10M369 280v10M370 280v10M371 284v11M372 278v11M373 279v12M374 280v10M375 278v10M376 280v6M377 275v9M378 277v1M379 274v1M380 268v8M381 270v7M382 270v5M383 274v5M384 275v4M385 272v4M386 273v5M387 273v6M388 278v7M389 279v9M390 284v10M391 275v8M392 276v8M393 280v7M394 278v5M395 281v6M396 280v5M397 284v6M398 284v5M399 286v5M400 288v6M401 284v6M402 286v7M403 287v8M404 290v9M405 289v9M406 291v9M407 290v9M408 292v9M409 300v9M410 306v1M424 340v5M425 342v8M426 344v11M427 346v11M428 350v9M429 350v9M430 353v9M431 352v9M432 353v8M433 354v8M434 356v9M435 356v9M436 358v9M440 361v9M441 361v9M442 361v9M443 361v8M444 359v9M445 360v9M446 362v9M447 363v8M448 362v8M449 363v9M450 362v9M451 361v9M452 363v8M453 361v9M454 362v9M455 361v9M456 360v9M457 362v8M458 361v9M459 363v7M460 361v9M461 361v9M462 362v9M463 362v9M464 361v9M465 363v8M466 359v9M467 360v9M468 361v8M469 360v9M470 361v9M471 360v9M472 362v9M473 361v9M474 361v8M475 361v9M476 361v9M477 360v9M478 361v9M479 361v9M480 360v9M481 361v9M482 360v9M483 361v9M484 359v9M485 362v8M486 359v9M487 362v9M488 360v9M489 360v8M490 359v9M491 360v9M492 360v9M493 359v9M494 361v8M495 361v9M496 363v8M497 363v8M498 361v9M499 362v9M500 363v9M501 363v9M502 365v9M503 362v10M504 361v10M505 360v5M505 366v4M506 357v11M507 358v6M508 359v3M515 343v6M516 342v4M517 338v5M518 328v13M519 322v19M520 316v20M521 311v20M522 310v17M523 302v20M524 307v16M525 312v7M526 304v13M527 304v9M528 304v7M529 299v12M530 294v10M531 299v11M532 296v9M533 300v9M534 296v8M535 293v7M536 289v6M537 291v6M538 293v5M539 296v5M540 297v3M541 297v2M542 296v2M543 286v5"/>
<path stroke="#fcf600" d="M96 251v2M96 254v1M97 255v1M98 255v1M101 255v1M102 251v1M106 252v1M106 254v1M107 255v1M112 254v1M116 255v1M135 255v1M182 255v1M184 256v1M188 255v1M190 255v1M210 256v1M221 256v1M232 257v1M237 256v1M257 256v1M258 256v1M307 254v1M308 254v1M316 255v1M318 255v1M319 255v1M320 254v1M322 256v1M324 255v1M326 255v1M330 254v2M331 254v1M336 255v1M347 256v1M352 256v1M353 256v1M355 256v1M358 256v1M363 256v1M369 256v1M375 253v1M384 253v1M429 257v1M439 256v1M440 255v1M441 255v1M442 252v4M443 254v2M449 254v1M450 251v1M451 252v1M454 254v2M458 251v1M458 254v1M461 251v1M465 255v1M466 255v1M470 257v1M511 256v1M521 254v1"/>
<path stroke="#f0fc12" d="M97 251v1M97 254v1M107 251v1M110 254v1M113 251v1M113 253v1M114 254v1M136 254v1M182 252v1M186 254v1M187 254v1M190 253v1M195 251v1M196 252v1M212 256v1M229 258v1M241 256v1M245 256v1M249 256v1M317 253v1M326 253v1M327 253v1M332 254v1M333 254v1M361 256v1M386 253v1M400 257v1M411 256v1M412 256v1M422 256v1M446 254v1M447 253v1M448 254v1M455 251v1M462 251v3M465 251v1M476 256v1M478 256v1M489 257v1M493 256v1M494 256v1M495 256v1M498 256v1M499 256v1M516 255v1M519 253v1M520 252v1"/>
<path stroke="#eafc18" d="M97 252v1M114 253v1M116 251v1M118 255v1M187 252v1M192 254v1M198 255v1M250 256v1M313 254v1M314 253v1M315 254v1M323 253v1M326 254v1M340 255v1M386 251v1M388 255v1M389 255v1M405 256v1M415 256v1M417 256v1M418 256v1M419 256v1M437 256v1M456 251v1M464 253v1M466 251v1M467 255v1M486 256v1M496 256v1M518 252v1M519 251v1"/>
<path stroke="#f6fc0c" d="M97 253v1M110 251v1M110 253v1M113 254v1M130 256v1M181 252v1M181 254v1M182 251v1M183 252v1M190 252v1M208 256v1M248 256v1M274 256v1M317 254v1M318 253v1M319 254v1M324 254v1M328 253v1M335 254v1M357 256v1M384 251v1M390 255v1M401 257v1M410 256v1M440 252v1M440 254v1M444 253v2M445 252v1M448 252v2M456 254v1M463 255v1M465 253v1M472 256v1M475 256v1M491 256v1M502 256v1M505 256v1M508 256v1M521 251v1"/>
<path stroke="#9c0000" d="M97 309v8M98 316v2M117 365v6M118 364v12M119 365v12M120 365v12M121 366v11M122 364v11M123 364v10M124 364v10M125 363v10M126 365v10M127 365v9M128 364v9M129 363v10M130 365v10M131 365v9M132 366v9M133 366v9M134 368v8M135 370v9M136 371v8M137 370v8M138 371v8M139 372v8M140 373v8M141 373v8M142 373v8M143 371v7M144 372v7M145 373v8M146 373v7M147 373v7M148 372v7M149 373v7M150 374v7M151 372v7M152 373v7M153 372v7M154 374v7M155 374v7M156 373v7M157 372v6M158 373v7M159 374v6M160 376v7M161 375v6M162 374v7M163 375v7M164 374v7M165 373v7M166 376v7M167 376v7M168 374v7M169 373v3M169 377v3M170 372v8M171 374v7M172 372v7M173 371v8M174 372v8M175 371v8M176 370v8M177 371v8M178 369v9M179 369v9M180 367v9M181 368v9M182 367v9M183 368v8M184 367v9M185 365v9M186 365v9M187 364v10M188 367v10M189 367v9M190 367v9M191 367v9M192 367v9M193 365v10M194 366v10M195 366v10M196 366v6M197 367v10M198 367v10M199 367v10M201 364v11M203 364v10M204 364v10M205 364v10M206 366v11M207 369v11M208 370v11M209 374v12M240 306v8M241 310v3M242 311v1M243 307v7M244 299v7M245 298v9M246 295v8M247 294v8M248 290v8M249 295v7M250 286v10M251 290v8M251 299v1M252 281v10M253 285v10M254 282v10M255 287v4M258 281v3M260 280v2M261 280v2M262 281v3M264 284v2M265 276v10M266 280v8M267 275v12M268 285v9M269 280v14M270 279v16M271 277v14M272 276v14M273 283v15M274 283v14M275 277v11M276 277v10M277 277v10M278 282v11M279 281v9M280 278v9M281 287v10M282 292v10M284 287v10M285 293v4M289 298v2M290 299v1M292 304v1M301 314v1M302 310v4M303 307v9M304 306v12M305 314v3M306 315v3M307 314v7M308 304v5M309 310v5M310 300v7M311 298v7M312 297v9M313 292v10M314 295v10M315 287v6M316 286v7M317 286v7M318 289v7M319 290v7M320 289v7M321 294v8M322 300v5M323 292v8M324 290v8M325 290v8M326 282v7M327 279v7M328 284v8M329 284v8M330 287v9M331 285v9M332 292v3M333 287v10M335 290v4M336 286v8M337 284v9M338 284v10M339 285v7M340 286v7M341 281v9M342 289v5M343 290v4M344 286v8M345 284v10M346 291v4M347 285v9M348 285v8M349 281v9M350 281v9M351 282v9M352 282v9M353 284v9M354 289v4M355 286v8M356 281v9M357 289v5M358 288v6M360 289v4M362 292v2M363 287v5M364 285v8M365 290v4M366 289v5M367 285v8M368 289v3M369 290v3M370 290v2M372 289v4M380 276v1M381 277v3M382 275v10M383 279v5M384 279v7M385 276v13M386 278v11M387 279v9M388 285v6M389 288v5M390 294v1M391 283v7M392 284v6M393 287v8M394 283v8M395 287v10M396 285v11M397 290v13M398 289v16M399 291v15M400 294v13M401 290v11M402 293v10M403 295v9M404 299v8M405 298v7M406 300v7M407 299v6M408 301v6M426 355v1M427 357v3M428 359v4M429 359v9M430 362v11M431 361v11M432 361v12M433 362v11M434 365v10M435 365v9M436 367v9M440 370v8M441 370v8M442 370v9M443 369v9M444 368v8M445 369v8M446 371v8M447 371v8M448 370v9M449 372v8M450 371v8M451 370v8M452 371v8M453 370v8M454 371v8M455 370v8M456 369v8M457 370v8M458 370v8M459 370v8M460 370v8M461 370v8M462 371v8M463 371v8M464 370v8M465 371v8M466 368v8M467 369v8M468 369v8M469 369v8M470 370v8M471 369v8M472 371v8M473 370v8M474 369v8M475 370v8M476 370v8M477 369v8M478 370v8M479 370v8M480 369v8M481 370v8M482 369v8M483 370v8M484 368v8M485 370v8M486 368v8M487 371v8M488 369v8M489 368v8M490 368v8M491 369v8M492 370v7M493 368v8M494 369v8M495 370v8M496 371v9M497 371v8M498 370v8M499 371v8M500 372v8M501 372v8M502 374v9M503 372v9M504 371v10M505 370v4M506 368v3M523 322v3M530 304v7M532 305v7M534 304v5M535 300v6M536 295v8M537 297v7M538 298v5M543 291v4"/>
<path stroke="#d8fc24" d="M98 251v1M100 251v1M115 252v1M186 253v1M193 252v1M199 255v1M246 256v1M256 256v1M276 256v1M300 254v1M305 253v1M340 254v1M348 256v1M374 251v1M387 254v1M393 255v1M438 256v1M463 253v1M473 256v1M487 256v1M517 252v1M518 253v1"/>
<path stroke="#defc24" d="M98 252v1M98 254v1M108 254v1M109 251v1M116 252v1M117 254v1M186 251v1M197 254v1M298 255v1M316 253v1M336 253v1M360 256v1M371 255v1M420 256v1M446 252v1M464 252v1M468 255v1M477 256v1M500 256v1M518 251v1"/>
<path stroke="#d8fc2a" d="M98 253v1M99 253v1M101 251v3M136 253v1M185 253v1M193 254v1M194 253v1M230 258v1M333 253v1M343 255v1M374 253v1M387 251v1M395 255v1M439 255v1M463 251v1M482 256v1"/>
<path stroke="#e4fc18" d="M99 251v1M101 254v1M109 254v1M114 251v1M115 251v1M131 256v1M136 251v1M185 252v1M187 251v1M188 251v1M191 253v1M205 256v1M299 255v1M303 254v1M314 254v1M327 254v1M334 253v1M339 255v1M386 252v1M391 255v1M416 256v1M445 253v1M463 254v1M464 254v1"/>
<path stroke="#defc1e" d="M99 252v1M99 254v1M100 254v1M109 252v2M115 254v1M116 253v1M121 255v1M132 256v1M185 251v1M191 251v1M192 252v2M193 253v1M202 255v1M218 256v1M303 253v1M304 253v2M372 255v1M374 252v1M392 255v1M398 256v1M413 256v1M426 256v1M427 256v1M446 251v1M447 251v1M464 251v1M469 256v1M474 256v1M484 256v1M515 255v1"/>
<path stroke="#fcfc06" d="M99 255v1M106 251v1M107 252v1M111 251v1M111 254v1M180 252v1M182 254v1M183 254v1M184 252v1M184 255v1M188 253v2M196 255v1M203 256v1M215 256v1M231 258v1M279 256v1M307 253v1M313 255v1M322 254v1M328 255v1M337 255v1M373 255v1M385 252v2M387 255v1M408 256v1M443 251v1M446 255v1M449 251v1M449 253v1M454 251v1M456 253v1M457 251v1M462 254v1M464 255v1M492 256v1M506 256v1M510 256v1M518 254v1M520 254v1M521 252v1"/>
<path stroke="#d2fc30" d="M100 252v1M108 253v1M194 251v1M197 251v2M203 255v1M289 257v1M301 254v1M302 253v1M340 253v1M467 254v1"/>
<path stroke="#ccfc30" d="M100 253v1M122 255v1M125 255v1M197 253v1M201 254v1M210 255v1M243 256v1M270 256v1M282 256v1M283 256v1M337 254v1M388 254v1M394 255v1M467 252v1M514 255v1M517 253v1"/>
<path stroke="#fcfc00" d="M100 255v1M102 253v2M106 253v1M107 254v1M108 255v1M109 255v1M111 252v1M112 251v2M115 255v1M117 255v1M179 251v1M180 251v1M180 253v2M183 253v1M183 255v1M184 251v1M184 253v1M185 256v1M187 255v1M189 251v4M190 254v1M191 255v1M192 255v1M193 255v1M194 255v1M195 255v1M214 256v1M219 256v1M228 257v1M273 256v1M292 257v1M298 256v1M299 256v1M303 255v1M305 255v1M308 253v1M309 253v2M312 254v1M314 255v1M315 255v1M317 255v1M319 253v1M320 253v1M321 253v1M322 255v1M328 254v1M329 253v1M330 253v1M331 253v1M331 255v1M332 255v1M333 255v1M334 255v1M335 255v1M341 255v1M349 256v1M359 256v1M362 256v1M384 252v1M385 254v1M406 256v1M407 256v1M409 256v1M424 256v1M429 256v1M430 256v1M431 256v1M432 256v1M433 256v1M435 256v1M436 256v1M441 251v1M441 254v1M442 251v1M443 252v2M444 255v1M445 255v1M447 255v1M448 251v1M448 255v1M450 252v1M454 252v2M455 252v1M455 255v1M456 255v1M457 252v1M458 252v1M461 254v1M462 255v1M479 256v1M488 257v1M513 256v1M514 256v1M517 255v1M520 251v1M521 253v1"/>
<path stroke="#f6fc06" d="M102 252v1M107 253v1M110 252v1M112 253v1M134 256v1M186 255v1M196 253v1M197 255v1M200 255v1M201 255v1M209 256v1M213 256v1M297 256v1M302 255v1M304 255v1M306 253v2M316 254v1M325 254v1M338 255v1M414 256v1M449 252v1M455 253v1M457 254v1M466 252v1M503 256v1M504 256v1M519 254v1"/>
<path stroke="#ccfc36" d="M108 251v1M120 255v1M123 255v1M126 255v1M211 255v1M239 256v1M244 256v1M297 255v1M337 253v1M341 253v1M387 253v1M396 255v1M483 256v1"/>
<path stroke="#c6fc3c" d="M108 252v1M124 255v1M193 251v1M200 254v1M299 254v1M341 254v1M346 255v1M387 252v1M388 252v1M397 255v1M467 253v1"/>
<path stroke="#f0fc0c" d="M111 253v1M113 252v1M181 251v1M181 253v1M184 254v1M185 255v1M191 254v1M195 254v1M196 251v1M204 256v1M206 256v1M207 256v1M242 256v1M301 255v1M313 253v1M315 253v1M318 254v1M321 254v1M323 254v1M327 255v1M335 253v1M356 256v1M385 251v1M404 256v1M423 256v1M425 256v1M440 251v1M440 253v1M444 252v1M447 254v1M455 254v1M456 252v1M457 253v1M465 252v1M465 254v1M485 256v1M490 257v1M497 256v1M507 256v1M519 252v1"/>
<path stroke="#eafc12" d="M114 252v1M182 253v1M183 251v1M188 252v1M190 251v1M195 253v1M196 254v1M272 256v1M275 256v1M300 255v1M322 253v1M324 253v1M325 253v1M342 255v1M374 254v1M386 254v1M421 256v1M428 256v1M444 251v1M445 251v1M466 254v1M471 256v1M480 256v1M501 256v1M520 253v1"/>
<path stroke="#e4fc1e" d="M115 253v1M116 254v1M136 252v1M185 254v1M187 253v1M191 252v1M192 251v1M194 254v1M195 252v1M332 253v1M334 254v1M336 254v1M403 256v1M445 254v1M446 253v1M447 252v1M463 252v1M466 253v1M481 256v1"/>
<path stroke="#d2fc2a" d="M117 251v3M119 255v1M186 252v1M194 252v1M247 256v1M296 256v1M300 253v1M302 254v1M305 254v1M470 256v1M517 251v1M517 254v1"/>
<path stroke="#b4fc4e" d="M118 251v2M198 252v1M200 252v1M202 253v1M203 254v1M220 255v1M225 255v1M229 257v1M262 255v1M295 256v1M342 254v1M389 253v1M399 256v1M433 255v1"/>
<path stroke="#a8fc54" d="M118 253v1M198 253v1M280 256v1M342 253v1M369 255v1M373 253v1M390 252v1M437 255v1"/>
<path stroke="#c0fc3c" d="M118 254v1M128 255v1M228 256v1M294 256v1M298 254v1M299 253v1M439 254v1M467 251v1M513 255v1"/>
<path stroke="#b4fc48" d="M119 251v1M127 255v1M129 255v1M198 254v1M202 254v1M206 255v1M224 255v1M277 256v1M345 255v1M373 252v1M373 254v1M389 251v1M390 251v1M505 251v1M509 256v1M512 255v1M516 254v1"/>
<path stroke="#aefc54" d="M119 252v1M199 254v1M203 251v1M203 253v1M217 255v1M221 255v1M251 256v1M293 256v1M347 255v1M366 255v1M373 251v1M389 252v1M391 254v1M438 255v1M515 253v2"/>
<path stroke="#bafc42" d="M119 253v1M200 251v1M201 251v2M202 251v1M208 255v1M209 255v1M231 257v1M240 256v1M291 257v1M338 253v1M339 253v1M344 255v1M390 254v1M435 255v1M439 251v2"/>
<path stroke="#bafc48" d="M119 254v1M212 255v1M255 256v1M266 255v1M368 255v1M388 251v1M436 255v1M516 253v1"/>
<path stroke="#960000" d="M119 377v6M120 377v11M121 377v11M122 375v10M123 374v10M124 374v10M125 373v10M126 375v9M127 374v10M128 373v10M129 373v7M129 381v1M130 375v9M131 374v9M132 375v9M133 375v9M134 376v9M135 379v8M136 379v9M137 378v8M138 379v8M139 380v8M140 381v8M141 381v7M142 381v7M143 378v7M144 379v7M145 381v7M146 380v7M147 380v7M148 379v7M149 380v7M150 381v7M151 379v7M152 380v7M153 379v7M154 381v6M155 381v6M156 380v7M157 378v7M158 380v7M159 380v7M160 383v6M161 381v7M162 381v6M163 382v6M164 381v7M165 380v7M166 383v7M167 383v7M168 381v7M169 380v7M170 380v7M171 381v8M172 379v8M173 379v7M174 380v8M175 379v8M176 378v8M177 379v8M178 378v8M179 378v8M180 376v8M181 377v9M182 376v9M183 376v9M184 376v9M185 374v9M186 374v9M187 374v2M187 377v6M188 377v9M189 376v10M190 376v10M191 376v10M192 376v10M193 375v9M194 376v9M195 376v10M197 377v9M198 377v9M199 377v9M201 375v9M203 374v10M204 374v10M205 374v10M206 377v11M207 380v11M208 381v12M244 306v6M245 307v2M246 303v3M247 302v5M248 298v6M250 296v6M252 291v8M253 295v1M254 292v1M267 287v6M270 295v1M271 291v6M272 290v9M273 298v2M274 297v6M275 288v11M276 287v12M277 287v13M278 293v15M279 290v17M280 287v17M281 297v16M282 302v13M284 297v7M307 321v1M308 309v13M309 315v7M310 307v13M311 305v14M312 306v9M313 302v13M314 305v8M315 293v18M316 293v16M317 293v16M318 296v13M319 297v13M320 296v11M321 302v4M323 300v4M324 298v6M325 298v5M326 289v11M327 286v10M328 292v8M329 292v6M330 296v1M331 294v4M337 293v1M341 290v2M345 294v1M349 290v3M350 290v6M351 291v3M352 291v3M353 293v1M356 290v4M364 293v1M367 293v1M385 289v1M387 288v2M391 290v7M392 290v7M393 295v5M394 291v9M395 297v6M396 296v8M397 303v2M399 306v2M400 307v1M401 301v9M402 303v8M403 304v9M404 307v4M405 305v5M406 307v5M407 305v8M408 307v4M431 372v7M432 373v11M433 373v10M434 375v9M435 374v9M436 376v8M440 378v9M441 378v9M442 379v8M443 378v8M444 376v8M445 377v8M446 379v8M447 379v8M448 379v8M449 380v8M450 379v8M451 378v8M452 379v8M453 378v8M454 379v8M455 378v8M456 377v8M457 378v8M458 378v7M459 378v8M460 378v8M461 378v8M462 379v8M463 379v8M464 378v7M465 379v8M466 376v8M467 377v8M468 377v8M469 377v8M470 378v8M471 377v8M472 379v8M473 378v8M474 377v8M475 378v8M476 378v8M477 377v8M478 378v8M479 378v8M480 377v8M481 378v8M482 377v8M483 378v8M484 376v8M485 378v8M486 376v8M487 379v8M488 377v8M489 376v8M490 376v8M491 377v8M492 377v8M493 376v8M494 377v8M495 378v8M496 380v7M497 379v8M498 378v8M499 379v8M500 380v8M501 380v8M502 383v5M503 381v2M536 303v3M543 295v1"/>
<path stroke="#a2fc5a" d="M120 251v1M120 254v1M198 251v1M213 255v1M214 255v1M222 255v1M265 255v1M390 253v1M391 253v1M392 251v1M515 251v2"/>
<path stroke="#a2fc60" d="M120 252v1M135 251v1M199 251v1M223 255v1M233 255v1M234 255v1M352 255v1M391 251v1M392 253v2M471 255v1"/>
<path stroke="#9cfc66" d="M120 253v1M130 255v1M135 252v1M218 255v1M235 255v1M261 255v1M271 256v1M364 255v1M392 252v1M401 256v1M408 252v1M431 255v1M438 251v1M469 255v1M472 255v1M488 256v1M514 253v2"/>
<path stroke="#900000" d="M120 388v1M121 388v5M122 385v8M123 384v9M124 384v9M125 383v10M126 384v9M127 384v9M128 383v10M129 382v11M130 384v9M131 383v10M132 384v9M133 384v9M134 385v8M135 387v6M136 388v5M137 386v7M138 387v6M139 388v5M140 389v4M141 388v5M142 388v5M143 385v7M144 386v7M145 388v5M146 387v6M147 387v6M148 386v7M149 387v6M150 388v5M151 386v7M152 387v6M153 386v7M154 387v6M155 387v6M156 387v6M157 385v8M158 387v6M159 387v6M160 389v4M161 388v5M162 387v6M163 388v5M164 388v5M165 387v6M166 390v3M167 390v3M168 388v5M169 387v6M170 387v6M171 389v4M172 387v6M173 386v7M174 388v5M175 387v6M176 386v7M177 387v6M178 386v6M179 386v7M180 384v9M181 386v7M182 385v8M183 385v8M184 385v8M185 383v10M186 383v10M187 383v10M188 386v7M189 386v7M190 386v7M191 386v7M192 386v7M193 384v9M194 385v8M195 386v7M197 386v7M198 386v7M199 386v7M201 384v9M203 384v9M204 384v8M205 384v9M206 388v5M207 391v2M275 299v6M276 299v10M277 300v11M278 308v6M279 307v7M280 304v10M281 313v1M326 300v2M327 296v4M432 384v9M433 383v10M434 384v9M435 383v10M436 384v9M440 387v6M441 387v6M442 387v6M443 386v7M444 384v9M445 385v8M446 387v6M447 387v6M448 387v6M449 388v5M450 387v6M451 386v7M452 387v6M453 386v7M454 387v6M455 386v7M456 385v8M457 386v7M458 385v8M459 386v7M460 386v7M461 386v7M462 387v6M463 387v6M464 385v8M465 387v6M466 384v9M467 385v8M468 385v8M469 385v8M470 386v7M471 385v8M472 387v6M473 386v7M474 385v8M475 386v7M476 386v7M477 385v8M478 386v7M479 386v7M480 385v8M481 386v7M482 385v8M483 386v7M484 384v9M485 386v7M486 384v9M487 387v6M488 385v8M489 384v9M490 384v8M491 385v8M492 385v8M493 384v9M494 385v8M495 386v7M496 387v6M497 387v6M498 386v7M499 387v6M500 388v5M501 388v5"/>
<path stroke="#7efc7e" d="M121 251v1M206 251v1M207 252v1M208 252v1M208 254v1M209 253v1M211 254v1M394 252v2M395 253v1M425 255v1M436 254v1M489 256v1M492 251v1"/>
<path stroke="#7efc84" d="M121 252v1M133 255v1M205 252v1M209 252v1M210 252v1M229 256v1M288 255v1M396 252v1M397 254v1M407 255v1M475 255v1M513 253v1"/>
<path stroke="#66fc9c" d="M121 253v1M122 252v1M127 251v1M212 252v1M253 256v1M268 252v1M286 256v1M370 251v1M434 251v1"/>
<path stroke="#8afc72" d="M121 254v1M296 255v1M372 252v1M393 251v1M513 254v1"/>
<path stroke="#60fca2" d="M122 251v1M124 253v1M125 253v1M127 252v2M128 252v1M129 254v1M131 253v1M212 254v1M217 254v1M344 253v1M361 255v1M369 254v1M401 255v1M422 254v1M434 253v1M470 251v1"/>
<path stroke="#54fcae" d="M122 253v1M123 252v1M125 252v1M126 251v1M131 254v1M214 254v1M216 254v1M229 255v1M239 255v1M242 252v1M347 253v1M368 254v1M369 252v1M471 252v1M512 254v1"/>
<path stroke="#66fc96" d="M122 254v1M123 254v1M126 254v1M128 254v1M212 251v1M212 253v1M258 255v1M346 254v1M354 255v1M370 253v1M434 252v1M435 251v1"/>
<path stroke="#54fca8" d="M123 251v1M126 252v1M129 252v1M213 254v1M216 251v1M220 254v1M296 253v1M355 255v1M359 255v1M398 252v1M433 253v1M491 255v1"/>
<path stroke="#4efcb4" d="M123 253v1M125 251v1M130 251v1M131 251v1M132 253v1M216 253v1M232 255v1M257 255v1M281 255v1M369 251v1M398 253v1M471 251v1M502 251v1"/>
<path stroke="#48fcb4" d="M124 251v1M130 252v1M133 251v1M134 251v1M215 254v1M216 252v1M218 253v2M220 251v1M240 255v1M262 254v1M360 255v1M366 252v1M367 254v1M398 251v1"/>
<path stroke="#5afca8" d="M124 252v1M131 252v1M217 251v1M217 253v1M241 255v1M252 256v1M296 254v1M347 254v1M370 252v1M423 255v1M433 254v1M470 252v2"/>
<path stroke="#60fc9c" d="M124 254v1M125 254v1M269 255v1M287 256v1M294 255v1M402 255v1M470 254v1"/>
<path stroke="#4efcae" d="M126 253v1M129 251v1M130 253v1M132 254v1M134 252v2M218 251v1M219 254v1M266 254v1M369 253v1M398 254v1M471 253v1M472 254v1"/>
<path stroke="#6cfc90" d="M127 254v1M208 251v1M228 255v1M285 256v1M345 254v1M362 255v1M397 251v1M409 255v1M424 251v1M434 254v1M469 251v1M469 253v1"/>
<path stroke="#5afca2" d="M128 251v1M128 253v1M129 253v1M130 254v1M134 254v1M217 252v1M288 256v1M345 253v1M346 253v1M400 255v1M471 254v1M476 255v1M489 253v1M491 253v1M492 253v1"/>
<path stroke="#96fc66" d="M131 255v1M134 255v1M199 252v1M204 252v1M204 254v1M215 255v1M259 252v1M264 255v1M291 252v1M297 253v1M372 254v1M430 255v1M432 255v1M438 253v1M468 251v2M514 252v1"/>
<path stroke="#36fcc6" d="M132 251v1M214 252v1M225 251v1M291 256v1M294 254v1M366 254v1M367 253v1M399 251v1M401 251v1M402 254v1M410 253v1M411 251v1M411 253v1M432 253v1M473 254v1M493 255v1M496 251v1M510 255v1"/>
<path stroke="#3cfcc0" d="M132 252v1M225 254v1M258 254v1M259 253v1M266 253v1M367 251v1M400 252v1M401 254v1M410 255v1"/>
<path stroke="#8afc78" d="M132 255v1M204 251v1M204 253v1M206 254v1M209 254v1M210 254v1M259 251v1M371 254v1M372 251v1M395 251v1M396 251v1M398 255v1M427 255v1M437 254v1"/>
<path stroke="#42fcc0" d="M133 252v2M215 251v1M218 252v1M219 252v1M368 251v1M399 254v1M401 253v1M423 251v1M431 254v1M432 254v1M433 252v1M504 255v1M512 252v1"/>
<path stroke="#42fcba" d="M133 254v1M213 251v1M213 253v1M215 252v1M242 255v1M265 254v1M266 252v1M295 254v1M358 255v1M433 251v1M478 255v1M479 255v1"/>
<path stroke="#c6fc36" d="M133 256v1M283 253v1M301 253v1M338 254v1M339 254v1M388 253v1M389 254v1"/>
<path stroke="#90fc6c" d="M135 253v1M260 255v1M349 255v1M393 252v1M394 254v1M395 254v1M429 255v1M470 255v1M514 251v1"/>
<path stroke="#9cfc60" d="M135 254v1M226 255v1M227 255v1M391 252v1M400 256v1M438 252v1M438 254v1M468 253v2"/>
<path stroke="#a8fc5a" d="M199 253v1M203 252v1M205 255v1M219 255v1M263 255v1M290 257v1M350 255v1M351 255v1M365 255v1"/>
<path stroke="#c0fc42" d="M200 253v1M201 253v1M204 255v1M207 255v1M232 256v1M367 255v1M370 255v1M439 253v1M516 251v1"/>
<path stroke="#aefc4e" d="M202 252v1M216 255v1M278 256v1M298 253v1M402 256v1M434 255v1M516 252v1"/>
<path stroke="#78fc84" d="M205 251v1M206 252v2M208 253v1M210 253v1M211 251v3M259 255v1M348 255v1M353 255v1M371 253v1M476 253v1M511 255v1"/>
<path stroke="#84fc7e" d="M205 253v2M209 251v1M281 256v1M396 253v1M404 255v1M436 253v1M477 254v1M490 256v1"/>
<path stroke="#78fc8a" d="M207 251v1M268 255v1M292 256v1M295 255v1M396 254v1M435 254v1M436 252v1M473 255v1M474 255v1M492 255v1"/>
<path stroke="#84fc78" d="M207 253v2M237 255v1M284 256v1M297 254v1M343 254v1M363 255v1M394 251v1M395 252v1M403 255v1M405 255v1M406 255v1M436 251v1M437 252v2M513 251v2"/>
<path stroke="#6cfc96" d="M210 251v1M230 256v1M231 256v1M370 254v1M399 255v1M424 255v1M469 252v1M469 254v1"/>
<path stroke="#48fcba" d="M213 252v1M215 253v1M219 251v1M219 253v1M220 252v2M224 254v1M293 255v1M368 252v1M512 253v1"/>
<path stroke="#3cfcc6" d="M214 251v1M221 254v1M224 251v1M224 253v1M266 251v1M270 253v1M290 254v1M295 253v1M367 252v1M399 252v2M402 251v1M403 252v1M403 254v1M422 255v1M427 254v1M428 254v1M472 251v1"/>
<path stroke="#30fccc" d="M214 253v1M221 251v1M221 253v1M226 254v1M229 254v1M241 254v1M265 252v1M349 254v1M356 255v1M400 254v1M401 252v1M402 252v1M404 251v1M427 253v1M431 251v1M432 251v1M477 255v1M480 255v1M512 251v1"/>
<path stroke="#2afcd2" d="M221 252v1M223 254v1M229 251v1M231 255v1M234 254v1M265 253v1M285 251v1M348 254v1M350 254v1M357 255v1M402 253v1M430 254v1M431 252v2M473 251v1M506 255v1"/>
<path stroke="#1efce4" d="M222 251v1M222 253v1M227 254v1M261 254v1M294 253v1M365 253v1M489 251v1M508 255v1"/>
<path stroke="#18fce4" d="M222 252v1M230 252v1M263 251v1M283 252v1M405 251v1M421 255v1M429 251v2M491 252v1"/>
<path stroke="#2afcd8" d="M222 254v1M225 253v1M226 251v1M226 253v1M228 252v1M228 254v1M229 253v1M233 254v1M264 254v1M265 251v1M284 254v1M366 251v1M403 253v1M404 252v2M429 254v1M473 253v1"/>
<path stroke="#24fcd8" d="M223 251v3M283 255v1M284 253v1M348 253v1M351 254v1M365 254v1M405 252v1M426 254v1M427 252v1M473 252v1M474 254v1"/>
<path stroke="#36fccc" d="M224 252v1M225 252v1M287 255v1M361 253v1M366 253v1M368 253v1M403 251v1M404 254v1M427 251v1M428 251v1M472 252v2"/>
<path stroke="#18fcea" d="M226 252v1M230 253v1M231 254v1M234 251v1M245 255v1M261 252v1M267 254v1M349 253v1M351 253v1M352 254v1M354 253v1M357 254v1M365 251v1M408 251v1M411 255v1M430 252v1M490 255v1"/>
<path stroke="#06fcf6" d="M227 251v1M233 251v1M248 255v1M272 254v2M325 251v2M363 254v1M414 255v1M416 255v1M418 253v1M423 252v1M425 254v1M475 251v2M478 254v1M502 255v1"/>
<path stroke="#0cfcf6" d="M227 252v1M231 253v1M232 253v1M233 252v1M235 253v1M243 255v1M273 255v1M280 255v1M289 254v1M352 251v2M491 251v1M497 255v1M498 255v1M499 255v1M503 255v1M505 252v1"/>
<path stroke="#0cfcf0" d="M227 253v1M233 253v1M264 251v1M264 253v1M277 255v1M290 251v1M365 252v1M417 255v1M419 255v1M474 251v1M475 254v1M480 253v1M481 255v1M496 255v1"/>
<path stroke="#24fcde" d="M228 251v1M262 251v1M289 256v1M426 251v1M426 253v1M428 252v2M474 252v1M476 252v1"/>
<path stroke="#1efcde" d="M228 253v1M230 254v1M235 254v1M252 255v1M282 255v1M290 256v1M350 253v1M424 252v1M430 251v1M430 253v1M432 252v1M492 252v1"/>
<path stroke="#30fcd2" d="M229 252v1M230 255v1M248 254v1M262 252v2M263 254v1M400 251v1M400 253v1M490 252v1"/>
<path stroke="#12fcea" d="M230 251v1M232 254v1M238 254v1M261 253v1M263 253v1M270 255v1M286 252v1M290 255v1M355 253v1M405 253v2M418 255v1M426 252v1M474 253v1M489 255v1"/>
<path stroke="#96fc6c" d="M230 257v1M267 255v1M372 253v1M393 254v1M428 255v1M437 251v1M476 251v1"/>
<path stroke="#00fcfc" d="M231 251v1M239 254v1M244 255v1M247 254v1M257 251v1M257 254v1M267 251v1M267 253v1M269 252v1M275 255v1M283 251v1M283 254v1M292 255v1M301 251v2M352 253v1M354 254v1M361 251v2M363 251v2M364 251v3M406 254v1M409 254v1M412 255v1M420 255v1M475 253v1M477 252v1M479 254v1M484 255v1M485 255v1M494 255v1M498 252v1M510 254v1"/>
<path stroke="#06fcfc" d="M231 252v1M232 251v2M235 251v1M237 254v1M243 253v1M260 254v1M274 255v1M279 255v1M290 252v1M311 251v2M477 251v1M490 254v1M495 255v1M507 255v1"/>
<path stroke="#12fcf0" d="M234 252v2M235 252v1M236 254v1M261 251v1M263 252v1M264 252v1M364 254v1M415 255v1M429 253v1M488 251v1M493 252v1"/>
<path stroke="#00f0fc" d="M236 251v3M237 251v1M238 253v1M239 251v1M239 253v1M249 255v1M256 255v1M258 252v1M260 251v1M260 253v1M268 251v1M293 253v1M363 253v1M406 251v2M409 253v1M424 253v1M425 252v1M486 255v1M488 255v1M509 252v1M511 254v1"/>
<path stroke="#90fc72" d="M236 255v1M238 255v1M254 256v1M393 253v1"/>
<path stroke="#00eafc" d="M237 252v1M240 254v1M241 253v1M242 254v1M279 252v1M285 255v1M314 251v2M353 254v1M355 254v1M408 253v1M425 251v1M483 252v1M483 255v1M488 254v1M504 254v1"/>
<path stroke="#00f6fc" d="M237 253v1M238 251v2M239 252v1M246 255v1M247 255v1M258 251v1M260 252v1M267 252v1M269 254v1M271 253v1M276 255v1M293 254v1M406 253v1M413 255v1M477 253v1M487 255v1M498 251v1M501 255v1M504 253v1"/>
<path stroke="#00d8fc" d="M240 251v1M268 253v1M270 254v1M291 255v1M407 252v1M409 252v1M476 254v1M493 253v1"/>
<path stroke="#00defc" d="M240 252v1M246 254v1M253 251v1M255 255v1M278 255v1M282 253v1M353 253v1M361 254v1M362 253v1M424 254v1M482 255v1M492 254v1"/>
<path stroke="#00e4fc" d="M240 253v1M243 252v1M250 255v1M259 254v1M271 255v1M284 255v1M315 251v2M347 251v2M360 254v1M362 254v1M407 254v1M419 252v1M423 254v1M425 253v1M478 251v1M500 255v1M504 252v1M509 255v1M511 251v3"/>
<path stroke="#00c0fc" d="M241 251v1M269 251v1M284 251v1M342 251v2M360 253v1M415 254v1M422 252v1M489 254v1M490 251v1"/>
<path stroke="#00bafc" d="M241 252v1M242 251v1M245 254v1M286 255v1M291 251v1M490 253v1"/>
<path stroke="#00c6fc" d="M242 253v1M245 252v1M258 253v1M268 254v1M273 254v1M280 254v1M285 253v1M292 254v1M410 251v1M488 252v1"/>
<path stroke="#72fc8a" d="M243 251v1M344 254v1M356 254v1M359 253v1M426 255v1M435 252v2M505 255v1"/>
<path stroke="#00b4fc" d="M243 254v1M257 253v1M271 252v1M334 251v2M493 254v1"/>
<path stroke="#0078fc" d="M244 251v1M246 253v1M271 251v1M290 253v1M482 254v1M493 251v1M508 251v1M509 253v1"/>
<path stroke="#004efc" d="M244 252v1M255 251v1M287 253v1M292 251v2M414 252v2M417 253v1M495 254v1M496 253v1M499 252v1"/>
<path stroke="#007efc" d="M244 253v1M247 251v1M288 253v1M340 251v2M357 251v2M415 251v1M417 252v1M479 252v1M499 251v1M510 252v1"/>
<path stroke="#009cfc" d="M244 254v1M245 251v1M253 255v1M270 252v1M287 252v1M358 254v1M478 253v1M497 251v1M508 252v1"/>
<path stroke="#005afc" d="M245 253v1M246 252v1M411 252v1M496 254v1M502 253v1"/>
<path stroke="#00ccfc" d="M246 251v1M251 255v1M284 252v1M291 254v1M408 254v1M422 253v1M480 251v1"/>
<path stroke="#00a8fc" d="M247 252v1M273 251v1M278 251v1M282 254v1M289 255v1M350 251v2M359 254v1M510 253v1"/>
<path stroke="#003cfc" d="M247 253v1M254 253v2M256 253v1M313 251v2M420 252v1M485 252v1M487 254v1M501 254v1M509 251v1"/>
<path stroke="#008afc" d="M248 251v1M309 251v2M356 253v1M495 253v1M503 251v1"/>
<path stroke="#000cfc" d="M248 252v1M249 254v1M274 252v2M416 251v1M416 253v1M482 252v1M486 251v1M495 251v1"/>
<path stroke="#0000fc" d="M248 253v1M250 254v1M253 254v1M255 254v1M273 253v1M279 253v1M482 253v1M484 251v1M507 251v1"/>
<path stroke="#0018fc" d="M249 251v1M305 251v2M486 254v1M502 252v1"/>
<path stroke="#0000ea" d="M249 252v2M251 254v1M254 252v1M275 253v1M277 253v1"/>
<path stroke="#0048fc" d="M250 251v1M272 251v2M411 254v1M412 252v1M414 254v1M494 252v1M500 251v1"/>
<path stroke="#0072fc" d="M250 252v1M256 251v2M257 252v1M289 251v3M294 251v2M308 251v2M353 251v2M415 252v1M419 251v1M485 254v1M506 254v1M508 254v1M509 254v1"/>
<path stroke="#0000f6" d="M250 253v1M251 251v1M276 251v1M277 252v1M278 252v1M420 251v1M499 253v1M501 251v1M507 253v1"/>
<path stroke="#0090fc" d="M251 252v1M270 251v1M276 253v1M285 254v1M414 251v1M418 254v1M422 251v1"/>
<path stroke="#002afc" d="M251 253v1M272 253v1M278 254v1M279 251v1M320 251v2M355 251v2M484 252v1M486 252v1M494 254v1"/>
<path stroke="#0000c6" d="M252 251v1M500 253v1"/>
<path stroke="#0036fc" d="M252 252v1M286 251v1M287 251v1M321 251v2M329 251v2M412 251v1M420 253v2M484 253v2M485 251v1M487 253v1M495 252v1"/>
<path stroke="#001efc" d="M252 253v1M255 252v1M412 254v1M418 252v1M497 252v1"/>
<path stroke="#0030fc" d="M252 254v1M275 251v1M281 252v1M287 254v1M415 253v1M416 252v1M418 251v1M481 252v1M503 252v1"/>
<path stroke="#0000d8" d="M253 252v1M412 253v1"/>
<path stroke="#0000e4" d="M253 253v1M277 251v1M501 252v1"/>
<path stroke="#006cfc" d="M254 251v1M281 253v1M286 254v1M341 251v2M421 251v1M483 251v1M502 254v1M506 251v2"/>
<path stroke="#00aefc" d="M254 255v1M276 254v1M280 252v1M281 254v1M282 252v1M288 252v1M409 251v1M480 254v1M481 254v1M497 253v1M508 253v1"/>
<path stroke="#0042fc" d="M255 253v1M275 254v1M335 251v2M413 254v1M419 254v1M485 253v1M487 251v1M496 252v1M503 254v1M507 254v1"/>
<path stroke="#0096fc" d="M256 254v1M269 253v1M271 254v1M276 252v1M291 253v1M316 251v2M410 254v1M419 253v1M421 254v1M494 251v1M503 253v1M504 251v1M510 251v1"/>
<path stroke="#00a2fc" d="M273 252v1M317 251v2M319 251v2M410 252v1M478 252v1M479 253v1M480 252v1"/>
<path stroke="#0024fc" d="M274 251v1M275 252v1M278 253v1M279 254v1M286 253v1M288 251v1M288 254v1M318 251v2M343 251v2M417 251v1M481 251v1M483 254v1"/>
<path stroke="#0012fc" d="M274 254v1M486 253v1M487 252v1M501 253v1"/>
<path stroke="#0066fc" d="M277 254v1M280 253v1M281 251v1M299 251v2M323 251v2M357 253v1M413 253v1M498 253v1M499 254v1"/>
<path stroke="#0006fc" d="M280 251v1M413 251v1M494 253v1M507 252v1"/>
<path stroke="#00d2fc" d="M282 251v1M292 253v1M407 251v1M407 253v1M423 253v1M479 251v1M489 252v1M491 254v1M505 254v1M506 253v1"/>
<path stroke="#0054fc" d="M285 252v1M416 254v1M421 252v1M497 254v1"/>
<path stroke="#0060fc" d="M293 251v2M326 251v2M358 253v1M481 253v1M498 254v1M500 254v1"/>
<path stroke="#0084fc" d="M306 251v2M417 254v1M421 253v1M483 253v1M488 253v1"/>
<path stroke="#72fc90" d="M343 253v1M371 251v2M397 252v2M408 255v1M505 253v1"/>
<path stroke="#0000f0" d="M413 252v1M482 251v1"/>
<path stroke="#fcfc24" d="M437 257v1"/>
<path stroke="#fce424" d="M437 258v1M439 258v1"/>
<path stroke="#fcd824" d="M437 259v1M439 259v1"/>
<path stroke="#fccc24" d="M437 260v1M439 260v1"/>
<path stroke="#fcc024" d="M437 261v1M439 261v1"/>
<path stroke="#fcb424" d="M437 262v1M439 262v1"/>
<path stroke="#fca824" d="M437 263v1M439 263v1"/>
<path stroke="#fc9c24" d="M437 264v1M439 264v1"/>
<path stroke="#fc9024" d="M437 265v1M439 265v1"/>
<path stroke="#fc8424" d="M437 266v1M439 266v1"/>
<path stroke="#fc7824" d="M437 267v1M439 267v1"/>
<path stroke="#fc7224" d="M437 268v1M439 268v1"/>
<path stroke="#fc6624" d="M437 269v1M439 269v1"/>
<path stroke="#fc6024" d="M437 270v1M439 270v1"/>
<path stroke="#fc5a24" d="M437 271v3M439 271v2"/>
<path stroke="#fc5424" d="M437 274v2M439 273v3"/>
<path stroke="#fc4e24" d="M437 276v3M439 276v3"/>
<path stroke="#fc4824" d="M437 279v3M439 279v3"/>
<path stroke="#fc4224" d="M437 282v3M439 282v4"/>
<path stroke="#fc3c24" d="M437 285v4M439 286v3"/>
<path stroke="#fc3624" d="M437 289v3M439 289v3"/>
<path stroke="#fc3024" d="M437 292v3M439 292v4"/>
<path stroke="#fc2a24" d="M437 295v3M439 296v2"/>
<path stroke="#fc2424" d="M437 298v3M439 298v3"/>
<path stroke="#f62424" d="M437 301v3M439 301v4"/>
<path stroke="#f02424" d="M437 304v4M439 305v4"/>
<path stroke="#ea2424" d="M437 308v3M439 309v3"/>
<path stroke="#e42424" d="M437 311v2M439 312v2"/>
<path stroke="#de2424" d="M437 313v3M439 314v2"/>
<path stroke="#d82424" d="M437 316v3M439 316v3"/>
<path stroke="#d22424" d="M437 319v3M439 319v4"/>
<path stroke="#cc2424" d="M437 322v4M439 323v3"/>
<path stroke="#c62424" d="M437 326v7M439 326v8"/>
<path stroke="#c02424" d="M437 333v7M439 334v6"/>
<path stroke="#ba2424" d="M437 340v12M439 340v12"/>
<path stroke="#b42424" d="M437 352v9M439 352v9"/>
<path stroke="#ae2424" d="M437 361v11M439 361v11"/>
<path stroke="#a82424" d="M437 372v10M439 372v10"/>
<path stroke="#a22424" d="M437 382v10M439 382v10"/>
<path stroke="#9c2424" d="M437 392v1M439 392v1"/>
<path stroke="#fcea24" d="M439 257v1"/>
<path stroke="#0000de" d="M500 252v1"/>
</g>
</g>
<g opacity=".999">
<text x="155.6" y="25.6" textLength="307.0" lengthAdjust="spacingAndGlyphs" class="t">Salinity: Gridded data (1km x 4m) (pcolor plot)</text>
<text x="74" y="42.2" text-anchor="end">0</text>
<text x="74" y="79.0" text-anchor="end">50</text>
<text x="74" y="116.0" text-anchor="end">100</text>
<text x="74" y="153.0" text-anchor="end">150</text>
<text x="74" y="190.0" text-anchor="end">200</text>
<text x="77.5" y="203.9" text-anchor="middle">0</text>
<text x="123.9" y="203.9" text-anchor="middle">50</text>
<text x="169.9" y="203.9" text-anchor="middle">100</text>
<text x="215.9" y="203.9" text-anchor="middle">150</text>
<text x="261.9" y="203.9" text-anchor="middle">200</text>
<text x="307.9" y="203.9" text-anchor="middle">250</text>
<text x="353.9" y="203.9" text-anchor="middle">300</text>
<text x="399.9" y="203.9" text-anchor="middle">350</text>
<text x="445.9" y="203.9" text-anchor="middle">400</text>
<text x="492.9" y="203.9" text-anchor="middle">450</text>
<text x="538.9" y="203.9" text-anchor="middle">500</text>
<text transform="translate(45.2 145) rotate(-90)" textLength="62" lengthAdjust="spacingAndGlyphs" class="yl">Depth, (m)</text>
<text x="119.4" y="239.6" textLength="379.6" lengthAdjust="spacingAndGlyphs" class="t">Salinity: Full data set (scatter plot, every 20th point used)</text>
<text x="74" y="256.2" text-anchor="end">0</text>
<text x="74" y="293.0" text-anchor="end">50</text>
<text x="74" y="330.0" text-anchor="end">100</text>
<text x="74" y="367.0" text-anchor="end">150</text>
<text x="74" y="404.0" text-anchor="end">200</text>
<text x="77.5" y="417.9" text-anchor="middle">0</text>
<text x="123.9" y="417.9" text-anchor="middle">50</text>
<text x="169.9" y="417.9" text-anchor="middle">100</text>
<text x="215.9" y="417.9" text-anchor="middle">150</text>
<text x="261.9" y="417.9" text-anchor="middle">200</text>
<text x="307.9" y="417.9" text-anchor="middle">250</text>
<text x="353.9" y="417.9" text-anchor="middle">300</text>
<text x="399.9" y="417.9" text-anchor="middle">350</text>
<text x="445.9" y="417.9" text-anchor="middle">400</text>
<text x="492.9" y="417.9" text-anchor="middle">450</text>
<text x="538.9" y="417.9" text-anchor="middle">500</text>
<text transform="translate(45.2 359) rotate(-90)" textLength="62" lengthAdjust="spacingAndGlyphs" class="yl">Depth, (m)</text>
<text x="263" y="435.0" textLength="91" lengthAdjust="spacingAndGlyphs" class="xl">Distance, (km)</text>
</g>
</svg>
</body></html>
